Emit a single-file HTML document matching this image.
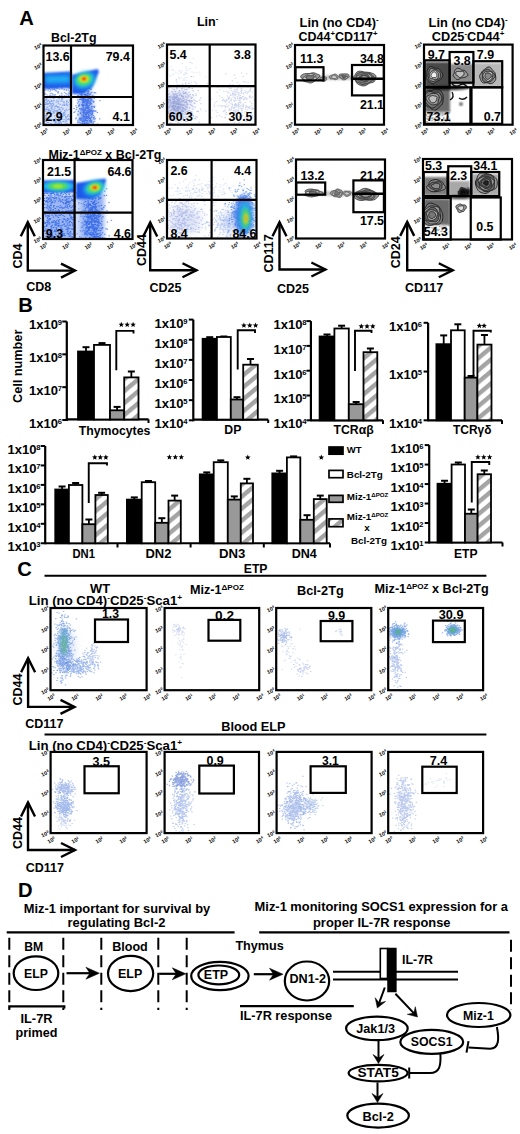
<!DOCTYPE html>
<html><head><meta charset="utf-8"><style>
html,body{margin:0;padding:0;background:#fff;width:520px;height:1134px;overflow:hidden}
svg{display:block}
text{font-family:"Liberation Sans",sans-serif;font-weight:bold;fill:#000}
</style></head><body>
<svg width="520" height="1134" viewBox="0 0 520 1134" font-family="Liberation Sans" font-weight="bold">
<defs>
<filter id="b05" x="-50%" y="-50%" width="200%" height="200%"><feGaussianBlur stdDeviation="0.45"/></filter>
<filter id="b1" x="-50%" y="-50%" width="200%" height="200%"><feGaussianBlur stdDeviation="1"/></filter>
<filter id="b15" x="-50%" y="-50%" width="200%" height="200%"><feGaussianBlur stdDeviation="1.5"/></filter>
<filter id="b2" x="-50%" y="-50%" width="200%" height="200%"><feGaussianBlur stdDeviation="2"/></filter>
<filter id="b3" x="-50%" y="-50%" width="200%" height="200%"><feGaussianBlur stdDeviation="3"/></filter>
<filter id="b4" x="-50%" y="-50%" width="200%" height="200%"><feGaussianBlur stdDeviation="4"/></filter>
<filter id="b5" x="-50%" y="-50%" width="200%" height="200%"><feGaussianBlur stdDeviation="5"/></filter>
<pattern id="hatch" width="12" height="9.2" patternUnits="userSpaceOnUse" patternTransform="rotate(-40)">
<rect width="12" height="9.2" fill="#fff"/><rect width="12" height="4.4" fill="#a4a4a4"/></pattern>
</defs>
<rect width="520" height="1134" fill="#fff"/>
<text x="19.3" y="24.8" font-size="20.2" text-anchor="start">A</text>
<clipPath id="c1"><rect x="43.5" y="45.5" width="89.5" height="79.5"/></clipPath><g clip-path="url(#c1)">
<rect x="44" y="97" width="27" height="28" fill="#b8ccf4" opacity="0.55" filter="url(#b2)"/>
<path d="M52.7 101.2h0.6M61.6 99.0h0.6M58.5 107.2h0.6M45.6 111.2h0.6M45.0 109.1h0.6M45.9 99.5h0.6M55.5 120.2h0.6M47.3 103.3h0.6M60.9 123.5h0.6M59.6 108.1h0.6M70.4 98.3h0.6M67.2 105.1h0.6M47.9 100.3h0.6M52.3 119.9h0.6M48.9 113.3h0.6M61.3 107.4h0.6M58.8 98.8h0.6M45.6 102.8h0.6M62.4 109.0h0.6M52.5 113.4h0.6M56.2 105.4h0.6M65.4 116.6h0.6M50.6 113.1h0.6M58.2 121.5h0.6M63.7 105.1h0.6M70.5 100.3h0.6M55.3 118.2h0.6M48.1 110.7h0.6M45.1 115.7h0.6M64.6 113.0h0.6M67.6 105.8h0.6M62.8 113.6h0.6M59.7 109.8h0.6M66.7 123.5h0.6M56.8 115.6h0.6M45.6 116.6h0.6M61.5 124.8h0.6M66.2 105.0h0.6M54.4 115.7h0.6M44.6 109.9h0.6M48.5 100.3h0.6M45.6 118.5h0.6M47.5 103.9h0.6M54.6 121.4h0.6M46.2 109.6h0.6M58.8 121.7h0.6M66.1 121.2h0.6M51.5 108.6h0.6M53.7 121.8h0.6M69.9 101.2h0.6M48.8 103.5h0.6M50.3 110.6h0.6M59.9 104.4h0.6M44.1 108.7h0.6M54.0 112.9h0.6M69.7 116.3h0.6M57.9 114.3h0.6M62.3 98.5h0.6M68.3 118.8h0.6M67.6 119.3h0.6M54.6 108.2h0.6M46.8 114.8h0.6M45.7 98.9h0.6M49.6 101.5h0.6M53.2 98.5h0.6M44.0 101.2h0.6M46.7 107.2h0.6M44.7 121.5h0.6M60.6 101.2h0.6M50.8 106.7h0.6M53.8 100.4h0.6M66.9 124.8h0.6M56.6 110.5h0.6M46.3 99.9h0.6M53.3 104.4h0.6M66.4 101.5h0.6M44.6 123.6h0.6M58.3 101.1h0.6M58.7 97.8h0.6M58.3 124.4h0.6M67.3 116.5h0.6M51.1 107.3h0.6M48.5 118.6h0.6M58.4 118.8h0.6M52.9 103.2h0.6M65.9 124.6h0.6M67.0 119.6h0.6M66.1 117.7h0.6M50.1 111.5h0.6M53.6 97.8h0.6M44.8 104.8h0.6M51.0 116.4h0.6M69.8 109.5h0.6M69.3 124.7h0.6M69.8 107.2h0.6M50.0 103.4h0.6M49.3 102.7h0.6M60.8 122.2h0.6M66.7 110.4h0.6M61.6 119.4h0.6M46.3 115.5h0.6M68.6 118.9h0.6M64.3 110.4h0.6M48.8 119.1h0.6M53.0 119.4h0.6M70.2 108.1h0.6M54.8 123.5h0.6M63.6 101.8h0.6M47.4 101.2h0.6M68.4 119.6h0.6M47.9 120.1h0.6M70.5 115.4h0.6M53.5 112.4h0.6M47.5 97.4h0.6M70.2 115.2h0.6M58.2 123.1h0.6M55.7 121.4h0.6M66.3 102.9h0.6M50.8 105.2h0.6M50.5 113.4h0.6M51.0 108.7h0.6M47.5 122.5h0.6M53.6 109.8h0.6M59.8 122.3h0.6M55.4 122.7h0.6M57.5 111.9h0.6M58.1 97.5h0.6M55.9 102.1h0.6M44.1 119.4h0.6M48.7 110.3h0.6M63.6 112.6h0.6M52.8 111.5h0.6M59.0 119.0h0.6M46.9 112.7h0.6M50.7 104.8h0.6M64.9 111.2h0.6M59.2 118.3h0.6M68.6 109.4h0.6M60.5 111.2h0.6M57.8 116.4h0.6M56.2 111.9h0.6M56.9 123.4h0.6M62.9 121.5h0.6M69.4 104.3h0.6M59.1 123.4h0.6M66.7 100.8h0.6M47.3 109.4h0.6M46.0 103.7h0.6M46.0 115.7h0.6M65.2 122.1h0.6M48.2 117.1h0.6M61.8 101.0h0.6M67.8 124.1h0.6M49.9 123.7h0.6M54.8 110.6h0.6M70.7 120.3h0.6M48.4 109.1h0.6M57.9 106.5h0.6M49.3 105.9h0.6M63.5 97.5h0.6M59.0 109.3h0.6M44.5 106.3h0.6M60.8 111.3h0.6M45.7 124.6h0.6M65.3 124.2h0.6M46.8 104.4h0.6M45.1 118.8h0.6M51.3 100.6h0.6M55.4 122.5h0.6M66.1 104.2h0.6M48.0 122.7h0.6M59.4 116.6h0.6M46.4 98.6h0.6M62.6 108.9h0.6M46.0 123.3h0.6M61.1 119.4h0.6M46.3 121.0h0.6M45.8 121.2h0.6M56.3 106.5h0.6M58.9 122.9h0.6M51.2 100.6h0.6M58.2 103.7h0.6M47.0 101.5h0.6M45.4 102.6h0.6M52.4 105.5h0.6M64.5 105.1h0.6M57.5 102.0h0.6M53.4 97.5h0.6M50.8 97.4h0.6M63.8 112.4h0.6M49.1 110.3h0.6M69.2 100.0h0.6M66.1 109.1h0.6M57.4 120.4h0.6M54.6 111.2h0.6M62.6 124.5h0.6M53.3 120.3h0.6M63.1 114.8h0.6M54.9 106.7h0.6M45.5 100.6h0.6M45.9 117.7h0.6M50.9 101.6h0.6M46.3 120.6h0.6M67.5 115.8h0.6M51.6 103.8h0.6M51.9 109.9h0.6M48.3 109.5h0.6M51.1 123.9h0.6M70.3 112.3h0.6M50.6 124.0h0.6M52.4 107.0h0.6M44.0 107.7h0.6M56.8 111.1h0.6M49.4 111.1h0.6M44.1 104.4h0.6M46.4 108.2h0.6M45.1 97.6h0.6M52.2 103.5h0.6M59.8 111.8h0.6M64.3 115.4h0.6M63.3 121.6h0.6M54.5 106.1h0.6M70.6 101.2h0.6M63.6 115.0h0.6M45.2 120.4h0.6M68.1 114.6h0.6M63.8 119.7h0.6M47.8 111.7h0.6M57.6 120.4h0.6M65.7 120.1h0.6M59.8 122.0h0.6M62.4 116.4h0.6M50.2 97.9h0.6M47.6 107.1h0.6M46.8 120.4h0.6M59.1 114.6h0.6M60.9 116.1h0.6M57.2 97.1h0.6M65.5 118.0h0.6M57.6 112.0h0.6M61.8 98.8h0.6M63.9 104.1h0.6M46.0 104.4h0.6M63.7 102.7h0.6M64.0 124.3h0.6M57.3 107.7h0.6M56.9 116.1h0.6M64.7 114.3h0.6M61.4 99.2h0.6M48.0 104.1h0.6M64.1 105.5h0.6M59.3 97.3h0.6M45.6 104.5h0.6M62.1 116.4h0.6M62.2 105.1h0.6M57.9 110.0h0.6M56.6 100.3h0.6M68.1 102.6h0.6M70.4 123.2h0.6M44.5 109.9h0.6" stroke="#4a78e0" stroke-width="0.96" opacity="0.6" stroke-linecap="round"/>
<path d="M66.1 96.6h0.6M56.1 87.5h0.6M49.7 96.3h0.6M49.7 91.6h0.6M47.8 90.8h0.6M69.7 85.7h0.6M66.1 90.6h0.6M67.9 93.1h0.6M50.2 95.7h0.6M57.1 84.3h0.6M44.1 90.4h0.6M56.2 87.9h0.6M47.8 88.5h0.6M52.5 94.9h0.6M44.0 93.8h0.6M66.7 85.6h0.6M69.0 93.3h0.6M68.3 87.8h0.6M54.0 89.1h0.6M71.0 91.7h0.6M53.7 89.6h0.6M51.4 84.6h0.6M46.7 94.9h0.6M51.7 96.2h0.6M50.7 87.5h0.6M57.8 86.5h0.6M54.1 96.4h0.6M67.9 94.6h0.6M61.0 95.9h0.6M69.4 91.1h0.6M63.4 84.6h0.6M63.8 89.9h0.6M64.3 92.4h0.6M51.7 84.6h0.6M69.0 85.7h0.6M56.7 88.5h0.6M52.0 93.6h0.6M70.4 87.4h0.6M61.7 87.9h0.6M59.0 89.1h0.6M48.5 86.1h0.6M49.6 95.8h0.6M57.4 86.9h0.6M68.5 97.0h0.6M56.1 85.8h0.6M49.2 85.2h0.6M53.2 85.2h0.6M50.5 87.4h0.6M59.4 95.5h0.6M64.2 89.4h0.6M55.2 90.8h0.6M54.2 88.4h0.6M45.7 87.6h0.6M70.1 85.6h0.6M57.6 92.2h0.6M67.3 86.8h0.6M51.3 87.2h0.6M54.8 89.8h0.6M69.8 95.0h0.6M67.6 84.3h0.6M44.9 93.2h0.6M68.2 90.2h0.6M59.9 84.0h0.6M54.6 96.0h0.6M66.3 95.1h0.6M70.3 87.2h0.6M46.9 86.0h0.6M58.1 92.9h0.6M69.4 93.4h0.6M61.5 93.9h0.6M56.3 91.2h0.6M45.1 94.2h0.6M50.3 96.0h0.6M61.4 87.9h0.6M47.5 87.3h0.6M61.2 93.1h0.6M47.0 84.9h0.6M58.2 91.6h0.6M54.5 86.9h0.6M60.2 84.1h0.6M52.1 90.0h0.6M69.9 92.4h0.6M67.9 90.2h0.6M50.3 87.2h0.6M69.9 93.2h0.6M52.3 84.3h0.6M57.5 92.8h0.6M55.3 87.3h0.6M62.0 96.0h0.6M50.1 84.4h0.6M53.1 89.5h0.6M62.4 86.6h0.6M65.5 93.6h0.6M57.6 86.7h0.6M70.2 88.1h0.6M66.1 87.0h0.6M50.0 93.9h0.6M52.0 96.4h0.6M57.4 86.4h0.6M50.0 89.4h0.6M62.0 96.3h0.6M48.0 89.1h0.6M49.7 96.7h0.6M47.8 84.7h0.6M45.6 89.1h0.6M68.3 95.5h0.6M63.8 97.0h0.6M69.2 88.3h0.6M49.0 96.2h0.6M64.2 84.4h0.6M61.9 88.9h0.6M54.1 88.3h0.6M48.6 84.0h0.6M51.6 88.6h0.6M69.8 85.6h0.6M70.0 86.7h0.6M53.6 94.7h0.6M66.2 89.6h0.6M45.3 90.2h0.6M54.1 96.0h0.6M49.2 88.7h0.6M68.2 84.4h0.6M55.1 94.6h0.6M64.7 84.5h0.6M44.9 84.8h0.6M68.8 87.3h0.6M64.2 95.7h0.6M53.2 87.5h0.6M69.9 92.0h0.6M51.1 93.3h0.6M52.5 87.6h0.6M44.1 93.8h0.6M68.7 92.2h0.6M69.5 84.3h0.6M50.3 90.2h0.6M69.8 96.4h0.6M54.4 87.3h0.6M55.6 90.4h0.6M69.1 86.4h0.6M65.7 93.6h0.6" stroke="#3a68e0" stroke-width="0.96" opacity="0.6" stroke-linecap="round"/>
<rect x="79" y="92" width="14" height="34" fill="#4a7ae8" opacity="0.55" filter="url(#b2)"/>
<path d="M89.4 88.4h0.6M82.9 102.2h0.6M84.2 122.0h0.6M86.4 104.4h0.6M86.0 115.1h0.6M91.6 113.7h0.6M85.8 115.8h0.6M90.3 119.4h0.6M84.8 95.2h0.6M86.5 124.5h0.6M81.1 95.6h0.6M84.8 103.9h0.6M88.0 100.2h0.6M82.0 104.5h0.6M85.8 100.7h0.6M86.1 120.5h0.6M82.5 104.1h0.6M82.7 109.5h0.6M88.4 91.0h0.6M88.1 109.6h0.6M77.8 114.1h0.6M89.6 112.9h0.6M88.1 116.2h0.6M91.9 106.9h0.6M89.9 104.3h0.6M89.3 98.6h0.6M88.0 107.8h0.6M80.8 98.9h0.6M86.9 123.2h0.6M87.9 117.3h0.6M84.2 102.3h0.6M90.0 110.9h0.6M84.7 101.9h0.6M84.8 118.7h0.6M87.6 93.1h0.6M87.9 112.5h0.6M81.5 120.8h0.6M84.7 105.3h0.6M82.9 116.1h0.6M83.1 121.4h0.6M84.0 117.0h0.6M85.6 100.6h0.6M95.7 111.1h0.6M78.6 122.0h0.6M83.4 112.0h0.6M91.7 111.7h0.6M91.3 120.4h0.6M82.3 122.0h0.6M88.2 119.1h0.6M75.8 105.8h0.6M90.1 120.3h0.6M86.8 116.9h0.6M97.5 96.6h0.6M84.5 110.5h0.6M90.0 103.8h0.6M91.2 99.0h0.6M87.2 102.6h0.6M86.7 100.3h0.6M87.4 102.2h0.6M86.9 123.9h0.6M81.6 108.5h0.6M88.4 117.4h0.6M91.6 114.6h0.6M86.1 106.1h0.6M87.2 104.0h0.6M81.4 99.6h0.6M83.3 101.4h0.6M80.8 118.9h0.6M80.1 119.2h0.6M81.4 114.9h0.6M92.2 112.8h0.6M82.7 110.7h0.6M83.3 112.3h0.6M83.9 111.1h0.6M89.3 120.7h0.6M90.1 118.2h0.6M84.7 109.7h0.6M84.8 105.6h0.6M84.5 109.7h0.6M81.6 109.7h0.6M88.3 107.7h0.6M74.7 111.8h0.6M88.3 105.8h0.6M89.8 115.2h0.6M86.1 101.8h0.6M88.9 103.2h0.6M87.0 102.9h0.6M75.9 109.6h0.6M86.9 120.6h0.6M82.1 109.5h0.6M88.8 112.0h0.6M90.2 121.4h0.6M83.2 100.0h0.6M90.0 97.2h0.6M77.8 96.0h0.6M82.9 99.8h0.6M87.0 99.5h0.6M91.9 108.9h0.6M83.4 113.1h0.6M85.9 105.6h0.6M87.5 100.3h0.6M80.3 99.4h0.6M85.9 110.8h0.6M88.5 111.7h0.6M82.4 100.1h0.6M76.5 107.6h0.6M88.2 117.4h0.6M85.5 107.6h0.6M90.2 110.2h0.6M89.3 118.2h0.6M83.4 105.0h0.6M82.4 98.8h0.6M86.1 118.0h0.6M91.3 121.3h0.6M91.4 92.3h0.6M83.1 116.3h0.6M92.5 111.5h0.6M82.1 105.0h0.6M83.0 98.0h0.6M92.8 101.2h0.6M91.3 114.7h0.6M83.2 115.7h0.6M93.3 118.7h0.6M91.7 111.4h0.6M88.3 107.2h0.6M79.6 109.1h0.6M87.1 102.0h0.6M84.6 121.0h0.6M95.0 118.8h0.6M87.5 88.3h0.6M94.7 111.1h0.6M85.8 94.3h0.6M85.7 94.7h0.6M86.3 116.5h0.6M86.1 113.9h0.6M85.2 99.3h0.6M81.5 105.0h0.6M87.3 93.5h0.6M89.1 107.9h0.6M86.6 108.3h0.6M85.8 120.3h0.6M85.9 97.5h0.6M88.9 101.5h0.6M81.3 94.3h0.6M77.5 115.1h0.6M79.3 118.6h0.6M82.5 104.9h0.6M94.7 124.5h0.6M86.6 112.6h0.6M84.6 116.4h0.6M87.3 110.7h0.6M83.7 91.4h0.6M83.6 88.4h0.6M91.5 117.5h0.6M94.3 121.3h0.6M95.3 92.8h0.6M88.4 115.9h0.6M86.9 112.4h0.6M90.7 89.1h0.6M80.4 90.5h0.6M83.5 101.5h0.6M87.7 113.7h0.6M86.1 100.5h0.6M84.0 123.3h0.6M89.4 111.4h0.6M83.3 119.1h0.6M91.2 106.3h0.6M89.7 94.4h0.6M90.6 112.8h0.6M78.9 119.4h0.6M82.9 107.7h0.6M87.3 105.3h0.6M87.2 102.3h0.6M89.0 110.1h0.6M91.2 110.4h0.6M78.0 111.3h0.6M88.1 125.0h0.6M85.3 119.5h0.6M84.4 94.4h0.6M90.9 122.7h0.6M92.9 122.0h0.6M83.1 100.5h0.6M82.3 118.2h0.6M87.5 106.2h0.6M86.8 108.0h0.6M87.0 120.5h0.6M90.3 100.4h0.6M78.6 105.4h0.6M86.1 89.8h0.6M83.7 120.1h0.6M82.1 90.4h0.6M88.3 123.2h0.6M86.9 91.8h0.6M89.5 121.1h0.6M88.5 103.2h0.6M87.4 121.1h0.6M87.5 116.7h0.6M86.1 122.4h0.6M83.4 108.8h0.6M84.6 118.0h0.6M93.2 106.5h0.6M89.6 118.2h0.6M94.0 107.5h0.6M85.5 95.1h0.6M88.4 115.9h0.6M85.1 112.4h0.6M79.6 124.7h0.6M84.2 94.5h0.6M82.6 98.5h0.6M89.8 124.8h0.6M79.9 123.0h0.6M90.0 101.9h0.6M79.3 99.6h0.6M83.1 114.8h0.6M87.1 88.5h0.6M90.1 93.1h0.6M82.9 98.0h0.6M89.8 118.4h0.6M87.4 88.3h0.6M83.7 102.3h0.6M81.6 117.1h0.6M82.7 100.1h0.6M86.8 96.3h0.6M73.8 112.4h0.6M91.5 114.2h0.6M91.1 103.8h0.6M90.7 120.9h0.6M79.1 104.3h0.6M79.6 108.5h0.6M88.6 95.0h0.6M80.0 124.8h0.6M85.1 113.8h0.6M85.3 124.0h0.6M90.7 111.2h0.6M79.9 120.4h0.6M83.9 118.8h0.6M91.1 103.7h0.6M83.6 116.1h0.6M88.3 91.5h0.6M80.3 113.5h0.6M82.3 112.3h0.6M83.8 107.8h0.6M88.1 98.7h0.6M88.1 101.1h0.6M83.5 117.5h0.6M83.4 114.0h0.6M93.2 110.4h0.6M85.3 120.3h0.6M80.2 118.7h0.6M83.7 98.8h0.6M94.0 98.1h0.6M93.9 119.2h0.6M92.5 96.3h0.6M85.5 108.2h0.6M97.1 112.5h0.6M84.1 101.2h0.6M88.0 114.6h0.6M84.5 116.6h0.6M92.6 95.9h0.6M79.9 94.6h0.6M78.7 105.6h0.6M77.4 120.9h0.6M82.7 106.3h0.6M86.2 117.6h0.6M84.4 110.2h0.6M83.5 111.6h0.6M80.7 110.9h0.6M77.3 103.1h0.6M94.6 111.1h0.6M80.3 113.6h0.6M82.7 120.3h0.6M87.7 108.6h0.6M81.8 94.9h0.6M92.1 113.4h0.6M80.8 108.9h0.6M86.9 107.8h0.6M84.7 90.8h0.6M82.6 121.8h0.6M78.4 106.2h0.6M87.2 124.5h0.6M80.9 118.3h0.6M87.7 99.7h0.6M88.1 97.4h0.6M82.4 109.7h0.6M73.8 108.5h0.6M81.5 89.5h0.6M84.1 120.7h0.6M80.8 91.6h0.6M93.0 115.6h0.6M90.3 98.4h0.6M89.6 113.6h0.6M88.9 110.4h0.6M91.4 100.9h0.6M81.7 89.3h0.6M91.2 99.7h0.6M81.3 96.8h0.6M84.0 92.2h0.6M84.7 101.2h0.6M83.5 96.6h0.6M86.2 103.5h0.6M86.5 113.5h0.6M83.6 98.9h0.6M82.8 105.9h0.6M84.5 123.9h0.6M84.0 123.5h0.6M91.5 116.1h0.6M88.2 111.7h0.6M88.2 93.0h0.6M90.3 102.5h0.6M90.4 111.2h0.6M77.1 92.0h0.6M91.1 108.1h0.6M84.2 113.4h0.6M84.1 102.4h0.6M86.5 112.0h0.6M92.8 110.6h0.6M93.7 124.9h0.6M86.6 111.9h0.6M85.4 99.8h0.6M85.7 101.0h0.6M93.4 117.5h0.6M85.8 104.2h0.6M81.1 94.1h0.6M75.9 118.0h0.6M85.9 107.9h0.6M92.5 111.9h0.6M86.8 104.8h0.6M84.4 110.4h0.6M82.0 123.5h0.6M79.7 117.9h0.6M82.8 99.4h0.6M93.4 101.7h0.6M82.6 105.3h0.6M97.3 124.1h0.6M94.4 106.3h0.6M82.9 102.9h0.6M77.5 122.7h0.6M81.1 124.9h0.6M78.3 92.2h0.6M87.3 99.3h0.6M89.5 110.1h0.6M80.7 118.7h0.6M94.2 117.0h0.6M82.8 105.1h0.6M90.8 89.6h0.6M84.9 114.8h0.6M78.4 101.7h0.6M89.0 105.7h0.6M80.7 96.9h0.6M83.0 112.1h0.6M87.3 95.0h0.6M92.9 123.3h0.6M86.5 99.9h0.6M77.6 95.7h0.6M90.1 98.8h0.6M80.1 112.7h0.6M87.1 118.5h0.6M82.2 123.7h0.6M81.6 119.7h0.6M86.8 113.4h0.6M90.4 109.8h0.6M91.0 122.3h0.6M86.6 102.1h0.6M82.6 102.6h0.6M85.1 109.7h0.6M99.4 118.9h0.6M89.5 98.0h0.6M82.8 105.5h0.6M86.9 95.5h0.6M93.3 102.1h0.6M86.0 113.9h0.6M86.9 118.4h0.6M87.3 112.3h0.6M77.5 100.0h0.6M75.5 118.8h0.6M87.4 107.3h0.6M82.3 101.9h0.6M83.8 97.8h0.6M83.5 112.6h0.6M99.6 100.7h0.6M86.2 113.9h0.6M85.8 123.0h0.6M94.0 92.6h0.6M86.7 106.3h0.6M87.6 88.6h0.6M88.4 112.7h0.6M84.3 99.4h0.6M79.6 97.2h0.6M89.1 117.6h0.6M85.9 117.2h0.6M83.3 111.0h0.6M86.2 117.8h0.6" stroke="#2258e4" stroke-width="0.96" opacity="0.7" stroke-linecap="round"/>
<path d="M43 73L71 71.5L71 88L43 89Z" fill="#1c58ea" opacity="1" filter="url(#b1)"/>
<path d="M45 75.5L70 75L70 83L45 83.5Z" fill="#22b4f2" opacity="0.95" filter="url(#b2)"/>
<path d="M72 75L97.5 69L99 71.5L92 88L83 94L72 94Z" fill="#1c58ea" opacity="1" filter="url(#b1)"/>
<ellipse cx="84.5" cy="80" rx="11" ry="8" fill="#22c8e8" opacity="0.95" filter="url(#b2)" transform="rotate(-15 84.5 80)"/>
<ellipse cx="84" cy="79.5" rx="7.5" ry="5.5" fill="#50e060" opacity="1" filter="url(#b15)" transform="rotate(-15 84 79.5)"/>
<ellipse cx="84" cy="79" rx="4.5" ry="3.2" fill="#f0f020" opacity="1" filter="url(#b1)" transform="rotate(0 84 79)"/>
<ellipse cx="84" cy="78.8" rx="2.5" ry="1.6" fill="#e82010" opacity="1" filter="url(#b1)" transform="rotate(0 84 78.8)"/>
</g>
<line x1="71" y1="45.5" x2="71" y2="125" stroke="#000" stroke-width="2.2"/>
<line x1="43.5" y1="97" x2="133" y2="97" stroke="#000" stroke-width="2.2"/>
<rect x="43.5" y="45.5" width="89.5" height="79.5" fill="none" stroke="#000" stroke-width="2.2"/>
<text x="38.1" y="128.0" font-size="5.4" text-anchor="middle" transform="rotate(-25 38.1 126.2)">10<tspan baseline-shift="2" font-size="3.6">0</tspan></text>
<text x="38.1" y="108.125" font-size="5.4" text-anchor="middle" transform="rotate(-25 38.1 106.325)">10<tspan baseline-shift="2" font-size="3.6">1</tspan></text>
<text x="38.1" y="88.25" font-size="5.4" text-anchor="middle" transform="rotate(-25 38.1 86.45)">10<tspan baseline-shift="2" font-size="3.6">2</tspan></text>
<text x="38.1" y="68.375" font-size="5.4" text-anchor="middle" transform="rotate(-25 38.1 66.575)">10<tspan baseline-shift="2" font-size="3.6">3</tspan></text>
<text x="38.1" y="48.5" font-size="5.4" text-anchor="middle" transform="rotate(-25 38.1 46.7)">10<tspan baseline-shift="2" font-size="3.6">4</tspan></text>
<text x="44.3" y="134.0" font-size="5.4" text-anchor="middle" transform="rotate(-30 44.3 132.2)">10<tspan baseline-shift="2" font-size="3.6">0</tspan></text>
<text x="66.675" y="134.0" font-size="5.4" text-anchor="middle" transform="rotate(-30 66.675 132.2)">10<tspan baseline-shift="2" font-size="3.6">1</tspan></text>
<text x="89.05" y="134.0" font-size="5.4" text-anchor="middle" transform="rotate(-30 89.05 132.2)">10<tspan baseline-shift="2" font-size="3.6">2</tspan></text>
<text x="111.425" y="134.0" font-size="5.4" text-anchor="middle" transform="rotate(-30 111.425 132.2)">10<tspan baseline-shift="2" font-size="3.6">3</tspan></text>
<text x="133.8" y="134.0" font-size="5.4" text-anchor="middle" transform="rotate(-30 133.8 132.2)">10<tspan baseline-shift="2" font-size="3.6">4</tspan></text>
<text x="45.5" y="60.5" font-size="12.4" text-anchor="start">13.6</text>
<text x="129.8" y="60.5" font-size="12.4" text-anchor="end">79.4</text>
<text x="45.5" y="121.2" font-size="12.4" text-anchor="start">2.9</text>
<text x="129.8" y="121.2" font-size="12.4" text-anchor="end">4.1</text>
<text x="51" y="42.1" font-size="12.5" text-anchor="start" textLength="45.5" lengthAdjust="spacingAndGlyphs">Bcl-2Tg</text>
<clipPath id="c2"><rect x="167" y="44.5" width="88.5" height="80.2"/></clipPath><g clip-path="url(#c2)">
<ellipse cx="177" cy="104" rx="14" ry="14" fill="#b8c0e8" opacity="0.6" filter="url(#b4)" transform="rotate(0 177 104)"/>
<path d="M177.3 102.6h0.55M176.7 97.6h0.55M200.3 109.1h0.55M192.0 88.4h0.55M185.0 112.4h0.55M196.8 117.2h0.55M185.7 92.2h0.55M169.3 106.7h0.55M183.0 93.8h0.55M174.2 100.0h0.55M178.6 107.4h0.55M175.1 91.6h0.55M190.4 120.0h0.55M176.9 114.2h0.55M182.4 110.6h0.55M182.8 96.4h0.55M183.7 114.1h0.55M169.0 123.7h0.55M198.9 122.2h0.55M197.9 111.4h0.55M174.6 98.0h0.55M169.9 105.2h0.55M177.7 110.7h0.55M200.8 103.7h0.55M184.8 108.8h0.55M180.7 101.9h0.55M176.8 95.8h0.55M179.8 103.8h0.55M181.2 95.4h0.55M178.4 104.5h0.55M184.0 93.4h0.55M182.2 113.8h0.55M184.0 100.3h0.55M173.1 101.6h0.55M185.3 119.5h0.55M176.4 97.6h0.55M181.8 106.0h0.55M168.9 96.6h0.55M177.0 110.7h0.55M183.0 91.8h0.55M179.1 107.5h0.55M176.9 93.8h0.55M177.4 100.7h0.55M181.4 95.6h0.55M188.9 87.2h0.55M176.2 104.1h0.55M187.6 97.9h0.55M183.5 98.3h0.55M185.4 121.4h0.55M174.0 108.4h0.55M168.7 113.7h0.55M190.1 104.4h0.55M189.5 114.9h0.55M186.1 85.7h0.55M171.2 118.2h0.55M196.8 111.6h0.55M189.2 100.7h0.55M176.0 103.5h0.55M185.0 102.6h0.55M179.9 108.2h0.55M177.9 122.4h0.55M182.4 104.8h0.55M175.9 97.7h0.55M191.4 105.5h0.55M167.2 98.4h0.55M176.6 99.5h0.55M188.8 92.4h0.55M182.9 105.4h0.55M177.1 109.0h0.55M173.5 107.0h0.55M185.8 114.4h0.55M177.9 98.0h0.55M188.8 83.1h0.55M170.0 110.7h0.55M184.5 93.7h0.55M179.5 95.0h0.55M178.5 113.0h0.55M185.4 83.2h0.55M185.7 86.2h0.55M189.4 108.0h0.55M200.5 97.9h0.55M178.0 114.5h0.55M171.6 97.0h0.55M174.3 103.3h0.55M167.2 108.8h0.55M183.4 104.7h0.55M195.0 100.7h0.55M191.1 98.5h0.55M185.6 84.7h0.55M180.0 102.2h0.55M173.0 97.9h0.55M174.5 96.8h0.55M172.5 98.8h0.55M167.4 102.6h0.55M185.8 101.5h0.55M173.1 117.6h0.55M187.8 113.2h0.55M189.6 100.7h0.55M176.7 115.1h0.55M172.5 102.8h0.55M181.8 107.7h0.55M175.2 113.8h0.55M176.2 111.3h0.55M188.7 110.6h0.55M185.3 92.4h0.55M182.8 119.0h0.55M169.5 96.7h0.55M175.2 110.9h0.55M180.1 115.8h0.55M168.1 112.9h0.55M187.3 104.7h0.55M182.8 98.4h0.55M167.1 99.9h0.55M173.1 120.5h0.55M180.0 107.1h0.55M185.4 96.2h0.55M187.2 107.8h0.55M183.5 108.5h0.55M193.8 99.9h0.55M183.1 111.5h0.55M169.0 116.0h0.55M183.2 93.1h0.55M176.8 87.6h0.55M178.7 92.7h0.55M181.4 88.7h0.55M182.5 101.3h0.55M178.6 103.3h0.55M179.3 90.8h0.55M168.6 99.5h0.55M182.3 84.1h0.55M170.4 97.9h0.55M167.4 107.3h0.55M176.6 95.8h0.55M168.2 112.1h0.55M171.4 109.9h0.55M182.5 85.1h0.55M167.2 104.0h0.55M181.4 111.8h0.55M186.0 114.3h0.55M174.3 101.9h0.55M185.8 99.7h0.55M188.6 88.1h0.55M184.5 102.3h0.55M181.1 104.2h0.55M167.2 99.3h0.55M193.1 95.7h0.55M174.1 94.9h0.55M169.6 114.5h0.55M172.6 93.1h0.55M185.9 109.6h0.55M167.6 111.5h0.55M189.3 101.4h0.55M187.2 103.8h0.55M182.2 111.7h0.55M196.5 101.5h0.55M173.2 103.6h0.55M190.1 94.6h0.55M191.1 76.5h0.55M186.0 97.2h0.55M182.6 110.9h0.55M180.4 109.9h0.55M168.7 94.1h0.55M176.1 101.8h0.55M172.7 118.4h0.55M186.5 104.2h0.55M185.3 92.9h0.55M174.7 98.2h0.55M176.6 118.4h0.55M168.8 99.4h0.55M182.2 108.0h0.55M178.3 99.3h0.55M182.9 107.6h0.55M179.5 104.6h0.55M179.1 95.2h0.55M176.0 94.9h0.55M181.8 110.9h0.55M195.6 116.7h0.55M169.9 99.4h0.55M168.6 107.1h0.55M197.8 111.1h0.55M178.0 107.0h0.55M195.8 95.7h0.55M169.5 123.7h0.55M181.4 96.2h0.55M178.4 113.9h0.55M176.6 97.1h0.55M170.6 123.0h0.55M178.3 110.2h0.55M174.0 109.0h0.55M186.2 102.5h0.55M173.4 102.1h0.55M168.4 101.9h0.55M175.0 106.1h0.55M191.4 117.1h0.55M173.5 110.0h0.55M180.9 111.6h0.55M178.2 106.7h0.55M173.3 96.2h0.55M186.7 117.0h0.55M184.6 108.4h0.55M180.7 99.5h0.55M180.0 98.5h0.55M168.4 116.8h0.55M170.8 103.8h0.55M172.9 105.6h0.55M175.9 96.5h0.55M188.7 96.2h0.55M172.9 109.5h0.55M172.6 99.7h0.55M181.6 100.3h0.55M175.8 121.0h0.55M167.0 113.7h0.55M170.1 100.4h0.55M174.7 106.7h0.55M186.6 121.5h0.55M171.6 117.3h0.55M188.0 112.1h0.55M170.4 113.0h0.55M176.9 107.5h0.55M175.3 110.6h0.55M189.2 115.3h0.55M175.9 114.0h0.55M192.5 94.6h0.55M192.7 90.6h0.55M183.4 109.9h0.55M192.8 106.8h0.55M173.2 96.0h0.55M175.6 96.8h0.55M183.3 96.4h0.55M173.6 99.4h0.55M194.5 118.6h0.55M176.4 88.3h0.55M180.8 104.7h0.55M181.5 109.7h0.55M174.8 113.3h0.55M186.4 106.1h0.55M173.9 99.2h0.55M184.9 93.0h0.55M176.4 96.5h0.55M177.7 104.4h0.55M186.7 89.1h0.55M177.3 106.9h0.55M186.3 93.2h0.55M185.2 106.2h0.55M191.6 115.4h0.55M178.0 99.8h0.55M174.6 94.6h0.55M177.7 85.2h0.55M177.2 108.3h0.55M187.9 100.5h0.55M191.9 97.5h0.55M176.7 85.2h0.55M170.4 96.1h0.55M192.6 109.2h0.55M167.2 109.2h0.55M182.7 101.7h0.55M178.2 101.0h0.55M172.7 86.7h0.55M177.1 116.5h0.55M192.0 101.3h0.55M170.7 101.9h0.55M186.8 107.4h0.55M172.3 107.5h0.55M176.0 109.0h0.55M174.0 89.6h0.55M178.6 111.4h0.55M167.2 103.0h0.55M186.6 100.3h0.55M171.7 123.8h0.55M186.1 114.0h0.55M168.8 119.9h0.55M185.2 117.0h0.55M168.9 97.5h0.55M179.9 85.2h0.55M184.2 109.4h0.55M173.6 109.2h0.55M185.5 107.0h0.55M183.1 118.7h0.55M173.4 105.6h0.55M172.9 114.0h0.55M174.0 108.6h0.55M179.3 104.6h0.55M194.6 103.2h0.55M191.7 112.0h0.55M190.8 102.4h0.55M187.0 111.3h0.55M172.1 106.6h0.55M176.8 103.7h0.55M190.6 97.0h0.55M173.6 97.8h0.55M178.1 109.5h0.55M195.0 107.0h0.55M182.5 96.9h0.55M183.6 117.1h0.55M190.9 85.2h0.55M186.6 119.3h0.55M186.0 89.6h0.55M175.0 109.7h0.55M182.0 96.2h0.55M169.4 113.3h0.55M178.2 106.9h0.55M184.6 89.8h0.55M197.9 90.5h0.55M182.6 111.1h0.55M174.4 102.0h0.55M175.7 98.5h0.55M180.4 105.5h0.55M172.0 106.4h0.55M177.9 103.3h0.55M188.6 87.5h0.55M180.4 93.8h0.55M174.9 118.4h0.55M167.6 103.0h0.55M172.3 113.1h0.55M168.6 87.8h0.55M182.9 100.6h0.55M174.9 114.4h0.55M169.5 100.4h0.55M179.4 108.0h0.55M173.0 113.9h0.55M199.5 100.1h0.55M196.0 83.7h0.55M191.5 100.7h0.55M179.3 100.7h0.55M171.9 91.7h0.55M174.2 116.4h0.55M188.9 100.7h0.55M172.9 97.3h0.55M184.4 105.1h0.55M173.3 94.2h0.55M190.6 111.5h0.55M168.9 113.5h0.55M167.4 110.2h0.55M168.8 100.0h0.55M182.8 108.2h0.55M187.7 96.0h0.55M193.2 116.9h0.55M177.9 108.5h0.55M170.5 102.5h0.55M179.9 116.9h0.55M187.1 111.8h0.55M174.5 101.8h0.55M174.7 106.1h0.55M178.2 99.1h0.55M194.0 103.1h0.55M193.1 115.3h0.55M173.2 107.8h0.55M190.5 100.8h0.55M178.8 98.6h0.55M178.6 100.6h0.55M178.8 113.6h0.55M191.4 105.3h0.55M179.9 112.2h0.55M175.2 93.8h0.55M188.7 95.0h0.55M186.9 94.7h0.55M195.6 94.0h0.55M186.2 118.4h0.55M168.8 118.3h0.55M170.1 87.1h0.55M184.9 110.7h0.55M176.1 79.8h0.55M177.5 101.1h0.55M174.4 101.2h0.55M195.3 118.8h0.55M174.5 97.2h0.55" stroke="#6a7cc8" stroke-width="0.88" opacity="0.5" stroke-linecap="round"/>
<ellipse cx="175" cy="106" rx="6" ry="6" fill="#7080c0" opacity="0.35" filter="url(#b3)" transform="rotate(0 175 106)"/>
<path d="M241.2 114.2h0.55M244.6 90.7h0.55M238.7 104.5h0.55M252.2 115.6h0.55M242.5 115.8h0.55M232.8 119.2h0.55M232.5 107.2h0.55M246.7 93.4h0.55M229.6 84.4h0.55M238.7 102.4h0.55M233.5 108.3h0.55M214.7 102.8h0.55M237.9 100.2h0.55M245.4 121.5h0.55M232.3 93.1h0.55M230.6 104.0h0.55M243.2 93.9h0.55M247.6 92.2h0.55M245.7 107.5h0.55M234.2 101.3h0.55M242.0 112.1h0.55M222.9 105.9h0.55M229.2 109.7h0.55M251.5 103.5h0.55M235.9 104.9h0.55M205.8 111.1h0.55M242.9 104.7h0.55M232.8 95.3h0.55M235.1 115.8h0.55M235.9 117.2h0.55M209.8 98.1h0.55M239.9 102.9h0.55M219.5 96.0h0.55M250.2 89.4h0.55M226.5 91.4h0.55M231.2 109.8h0.55M243.3 81.6h0.55M252.4 96.7h0.55M230.8 120.6h0.55M236.1 89.9h0.55M230.3 95.3h0.55M226.3 99.5h0.55M246.3 106.7h0.55M226.5 104.2h0.55M237.3 111.0h0.55M233.5 107.8h0.55M225.6 106.5h0.55M228.5 99.1h0.55M239.0 106.6h0.55M234.0 112.0h0.55M235.0 89.2h0.55M246.3 99.2h0.55M249.8 96.1h0.55M243.0 106.3h0.55M208.5 87.2h0.55M225.2 117.9h0.55M217.1 112.6h0.55M248.5 108.2h0.55M244.1 97.8h0.55M236.9 105.4h0.55M241.4 110.5h0.55M234.8 95.6h0.55M231.1 107.3h0.55M219.5 89.8h0.55M232.7 97.2h0.55M234.1 74.9h0.55M233.4 100.3h0.55M245.2 82.1h0.55M233.8 108.0h0.55M242.2 115.6h0.55M248.1 91.9h0.55M243.7 99.5h0.55M228.5 119.2h0.55M230.3 94.0h0.55M232.7 94.0h0.55M247.6 107.0h0.55M251.8 107.3h0.55M230.5 114.1h0.55M230.1 98.1h0.55M235.2 103.4h0.55M249.6 96.6h0.55M240.7 102.7h0.55M223.7 91.4h0.55M234.7 107.3h0.55M240.4 108.1h0.55M237.5 98.3h0.55M241.5 92.4h0.55M222.8 99.5h0.55M221.9 97.5h0.55M229.1 97.1h0.55M236.5 94.5h0.55M232.5 84.9h0.55M238.5 93.7h0.55M241.3 73.0h0.55M228.5 105.6h0.55M211.1 99.2h0.55M238.0 104.1h0.55M221.1 105.4h0.55M238.6 92.7h0.55M244.9 102.5h0.55M237.2 98.2h0.55M242.8 104.0h0.55M249.1 107.8h0.55M230.4 100.6h0.55M246.8 99.1h0.55M241.1 108.5h0.55M235.1 78.3h0.55M238.4 105.3h0.55M238.4 94.9h0.55M249.9 101.6h0.55M230.4 95.4h0.55M240.8 91.4h0.55M226.4 124.3h0.55M250.9 114.2h0.55M251.5 109.3h0.55M219.1 115.7h0.55M250.2 108.2h0.55M216.2 116.2h0.55M251.5 97.8h0.55M238.4 111.3h0.55M236.1 114.7h0.55M237.9 110.4h0.55M237.9 87.2h0.55M240.0 117.0h0.55M249.1 121.3h0.55M242.9 96.6h0.55M237.2 82.5h0.55M235.0 112.7h0.55M213.9 105.1h0.55M245.8 117.2h0.55M227.1 96.0h0.55M217.0 92.1h0.55M224.8 117.7h0.55M241.6 97.7h0.55M236.3 105.3h0.55M247.5 117.6h0.55M242.5 106.8h0.55M235.0 98.6h0.55M223.9 123.8h0.55M232.2 80.8h0.55M239.8 102.6h0.55M238.9 122.4h0.55M235.9 100.2h0.55M229.0 102.8h0.55M232.3 105.2h0.55M227.8 123.6h0.55M246.2 111.7h0.55M244.7 111.8h0.55M244.2 118.1h0.55M247.8 117.4h0.55M231.6 103.0h0.55M229.2 113.2h0.55M245.9 98.0h0.55M250.2 91.1h0.55M236.0 109.8h0.55M236.6 107.1h0.55M249.6 106.5h0.55M225.2 110.7h0.55M236.0 104.2h0.55M230.9 88.2h0.55M223.6 99.2h0.55M225.5 73.9h0.55M249.3 90.6h0.55M229.2 108.7h0.55M211.2 117.4h0.55M228.8 110.1h0.55M231.8 106.3h0.55M238.1 103.0h0.55M217.4 87.3h0.55M236.6 118.1h0.55M231.2 108.7h0.55M238.7 108.2h0.55M247.6 86.9h0.55M239.9 101.1h0.55M233.7 93.9h0.55M228.6 92.0h0.55M255.2 103.1h0.55M245.0 92.5h0.55M207.2 83.5h0.55M238.5 118.4h0.55M236.5 92.3h0.55M234.4 92.3h0.55M222.1 100.5h0.55M232.7 94.3h0.55M227.5 93.0h0.55M239.5 117.9h0.55M219.7 105.9h0.55M224.6 101.3h0.55M238.1 109.0h0.55M249.1 97.1h0.55M223.7 101.0h0.55M240.1 95.5h0.55M246.6 121.0h0.55M221.8 106.9h0.55M247.9 82.4h0.55M239.2 100.6h0.55M221.7 117.1h0.55M239.3 97.9h0.55M241.8 109.9h0.55M245.2 109.2h0.55M241.4 90.4h0.55M232.5 104.4h0.55M232.9 91.7h0.55M217.5 105.7h0.55M237.3 96.7h0.55M232.5 93.5h0.55M229.0 101.9h0.55M230.1 110.3h0.55M235.5 104.4h0.55M241.3 116.6h0.55M243.4 105.4h0.55M235.2 94.4h0.55M233.3 110.3h0.55M239.4 98.8h0.55M222.7 86.6h0.55M240.4 114.0h0.55M241.0 88.3h0.55M234.7 105.4h0.55M227.2 106.7h0.55M234.9 94.1h0.55M223.7 111.7h0.55M240.8 93.5h0.55M226.1 112.5h0.55M243.4 99.7h0.55M254.1 99.9h0.55M225.7 114.7h0.55M235.0 106.7h0.55M237.4 92.3h0.55M224.3 100.9h0.55M252.1 92.2h0.55M251.6 105.4h0.55M225.1 105.9h0.55M243.1 93.4h0.55M214.2 106.8h0.55M225.1 107.7h0.55M216.5 101.5h0.55M228.3 87.1h0.55M234.4 104.8h0.55M231.0 90.4h0.55M239.3 84.3h0.55M242.7 108.3h0.55M255.0 112.5h0.55M240.8 105.8h0.55M237.3 88.8h0.55M252.6 108.6h0.55M233.9 90.7h0.55M252.9 108.7h0.55M224.3 110.2h0.55M241.3 98.6h0.55M230.3 114.5h0.55M235.7 111.5h0.55M233.7 110.8h0.55M245.9 92.1h0.55M225.5 102.2h0.55M245.9 106.0h0.55M250.3 88.3h0.55M242.3 96.4h0.55M238.1 106.4h0.55M226.6 100.6h0.55M224.6 105.8h0.55M227.9 97.7h0.55M239.3 96.0h0.55M249.3 96.2h0.55M246.1 106.0h0.55M226.0 100.7h0.55M228.1 99.1h0.55M234.1 122.4h0.55M232.5 119.7h0.55M241.8 89.1h0.55M212.3 110.2h0.55M215.8 110.7h0.55M248.0 107.2h0.55M234.8 100.3h0.55M239.8 99.8h0.55M231.3 99.1h0.55M249.5 96.4h0.55M241.0 90.7h0.55M229.4 88.4h0.55M234.9 110.3h0.55M240.3 97.8h0.55M243.5 99.3h0.55M241.0 105.9h0.55M242.8 76.6h0.55M223.1 111.2h0.55M234.5 97.1h0.55M252.9 108.9h0.55M234.8 110.7h0.55M228.6 98.2h0.55M231.1 100.6h0.55M245.3 97.9h0.55M240.4 97.7h0.55M246.4 73.7h0.55M234.8 104.8h0.55M225.5 113.8h0.55M239.3 116.6h0.55M247.2 109.8h0.55M235.4 91.4h0.55M234.7 98.1h0.55M239.7 98.1h0.55M249.5 98.0h0.55M234.4 112.8h0.55M237.0 90.1h0.55" stroke="#7a90d0" stroke-width="0.88" opacity="0.42" stroke-linecap="round"/>
<path d="M186.0 73.5h0.55M171.8 69.2h0.55M186.7 77.3h0.55M179.2 91.8h0.55M186.1 70.3h0.55M184.3 74.1h0.55M168.6 91.0h0.55M180.2 72.9h0.55M176.5 82.6h0.55M182.3 88.2h0.55M189.6 87.7h0.55M180.9 77.9h0.55M177.8 73.7h0.55M172.8 70.0h0.55M193.7 77.0h0.55M193.8 81.6h0.55M190.9 82.7h0.55M176.2 81.2h0.55M178.9 70.9h0.55M193.5 91.7h0.55M172.6 88.4h0.55M190.0 68.5h0.55M184.6 77.9h0.55M185.6 72.3h0.55M169.6 75.2h0.55M190.3 81.1h0.55M188.4 83.5h0.55M172.4 74.7h0.55M185.3 82.7h0.55M183.5 79.0h0.55M183.3 91.2h0.55M205.9 76.8h0.55M168.2 69.8h0.55M184.2 88.2h0.55M186.5 80.2h0.55M191.8 76.5h0.55M173.7 74.2h0.55M185.2 72.9h0.55M175.6 72.2h0.55M167.5 67.1h0.55M181.1 72.2h0.55M182.4 85.8h0.55M184.9 74.8h0.55M170.7 66.7h0.55M185.6 68.3h0.55M186.1 66.7h0.55M183.3 74.4h0.55M191.6 72.0h0.55M178.4 76.9h0.55M182.5 88.0h0.55M179.5 70.9h0.55M178.9 78.6h0.55M184.3 80.3h0.55M168.7 94.1h0.55M199.7 74.8h0.55M170.4 76.2h0.55M186.0 57.8h0.55M182.1 63.6h0.55M186.4 85.6h0.55M191.9 63.4h0.55M195.3 82.0h0.55M178.5 78.9h0.55M196.6 72.4h0.55M181.8 70.7h0.55M193.1 58.4h0.55M195.7 67.6h0.55M190.9 62.5h0.55M173.0 70.4h0.55M190.0 62.5h0.55M187.8 70.1h0.55M193.9 72.6h0.55M186.7 73.7h0.55M199.3 72.2h0.55M181.8 90.3h0.55M182.7 80.3h0.55" stroke="#9aa8d8" stroke-width="0.88" opacity="0.35" stroke-linecap="round"/>
</g>
<line x1="209.7" y1="44.5" x2="209.7" y2="124.7" stroke="#000" stroke-width="2.2"/>
<line x1="167" y1="86.2" x2="255.5" y2="86.2" stroke="#000" stroke-width="2.2"/>
<rect x="167" y="44.5" width="88.5" height="80.2" fill="none" stroke="#000" stroke-width="2.2"/>
<text x="161.6" y="127.7" font-size="5.4" text-anchor="middle" transform="rotate(-25 161.6 125.9)">10<tspan baseline-shift="2" font-size="3.6">0</tspan></text>
<text x="161.6" y="107.65" font-size="5.4" text-anchor="middle" transform="rotate(-25 161.6 105.85000000000001)">10<tspan baseline-shift="2" font-size="3.6">1</tspan></text>
<text x="161.6" y="87.6" font-size="5.4" text-anchor="middle" transform="rotate(-25 161.6 85.8)">10<tspan baseline-shift="2" font-size="3.6">2</tspan></text>
<text x="161.6" y="67.55" font-size="5.4" text-anchor="middle" transform="rotate(-25 161.6 65.75)">10<tspan baseline-shift="2" font-size="3.6">3</tspan></text>
<text x="161.6" y="47.5" font-size="5.4" text-anchor="middle" transform="rotate(-25 161.6 45.7)">10<tspan baseline-shift="2" font-size="3.6">4</tspan></text>
<text x="167.8" y="133.70000000000002" font-size="5.4" text-anchor="middle" transform="rotate(-30 167.8 131.9)">10<tspan baseline-shift="2" font-size="3.6">0</tspan></text>
<text x="189.925" y="133.70000000000002" font-size="5.4" text-anchor="middle" transform="rotate(-30 189.925 131.9)">10<tspan baseline-shift="2" font-size="3.6">1</tspan></text>
<text x="212.05" y="133.70000000000002" font-size="5.4" text-anchor="middle" transform="rotate(-30 212.05 131.9)">10<tspan baseline-shift="2" font-size="3.6">2</tspan></text>
<text x="234.175" y="133.70000000000002" font-size="5.4" text-anchor="middle" transform="rotate(-30 234.175 131.9)">10<tspan baseline-shift="2" font-size="3.6">3</tspan></text>
<text x="256.3" y="133.70000000000002" font-size="5.4" text-anchor="middle" transform="rotate(-30 256.3 131.9)">10<tspan baseline-shift="2" font-size="3.6">4</tspan></text>
<text x="169.5" y="59" font-size="12.4" text-anchor="start">5.4</text>
<text x="251" y="59" font-size="12.4" text-anchor="end">3.8</text>
<text x="168.8" y="121" font-size="12.4" text-anchor="start">60.3</text>
<text x="252.5" y="121" font-size="12.4" text-anchor="end">30.5</text>
<text x="196.9" y="25.9" font-size="12.5" text-anchor="start">Lin<tspan baseline-shift="4.8" font-size="7.8">-</tspan></text>
<clipPath id="c3"><rect x="295" y="45" width="89" height="79.7"/></clipPath><g clip-path="url(#c3)">
<ellipse cx="340" cy="77.5" rx="30" ry="2.5" fill="#aaa" opacity="0.7" filter="url(#b1)" transform="rotate(0 340 77.5)"/>
<g filter="url(#b05)">
<path d="M319.95 76.00Q319.81 76.64 319.02 77.21Q318.24 77.78 317.67 78.23Q317.09 78.67 316.72 79.12Q316.34 79.57 315.85 80.00Q315.36 80.44 314.79 80.93Q314.22 81.42 313.46 81.98Q312.70 82.55 311.60 82.82Q310.49 83.10 309.40 82.86Q308.32 82.63 307.48 82.29Q306.64 81.95 305.73 81.80Q304.82 81.66 303.98 81.41Q303.14 81.15 302.92 80.61Q302.71 80.07 302.76 79.55Q302.81 79.02 302.34 78.62Q301.87 78.21 301.22 77.70Q300.57 77.18 300.57 76.56Q300.57 75.94 301.19 75.38Q301.80 74.83 302.66 74.39Q303.52 73.94 304.60 73.72Q305.68 73.49 306.79 73.53Q307.90 73.57 308.77 73.55Q309.65 73.53 310.57 73.25Q311.49 72.96 312.58 72.80Q313.67 72.65 314.51 72.93Q315.35 73.21 315.99 73.58Q316.64 73.96 317.57 74.24Q318.50 74.51 319.30 74.94Q320.10 75.36 319.95 76.00Z" fill="#9a9a9a" stroke="#303030" stroke-width="0.8"/>
<path d="M315.57 76.66Q315.46 77.02 315.82 77.37Q316.18 77.71 316.56 78.18Q316.95 78.65 316.65 79.11Q316.35 79.57 315.54 79.83Q314.73 80.10 313.93 80.26Q313.13 80.41 312.40 80.52Q311.68 80.63 310.97 80.62Q310.27 80.61 309.63 80.60Q308.99 80.59 308.26 80.68Q307.53 80.77 306.75 80.75Q305.97 80.74 305.45 80.47Q304.92 80.20 304.53 79.88Q304.15 79.56 303.57 79.27Q303.00 78.98 302.66 78.58Q302.31 78.17 302.77 77.72Q303.22 77.27 304.03 76.96Q304.84 76.64 305.26 76.37Q305.68 76.09 305.87 75.71Q306.05 75.33 306.46 74.96Q306.87 74.59 307.51 74.32Q308.15 74.05 308.91 73.82Q309.66 73.60 310.49 73.55Q311.31 73.50 312.00 73.72Q312.68 73.95 313.19 74.24Q313.69 74.54 314.26 74.73Q314.82 74.93 315.27 75.21Q315.73 75.48 315.70 75.89Q315.68 76.30 315.57 76.66Z" fill="#c8c8c8" stroke="#303030" stroke-width="0.8"/>
<path d="M314.18 76.87Q314.05 77.15 314.09 77.39Q314.12 77.64 314.03 77.90Q313.93 78.15 313.53 78.34Q313.14 78.52 312.73 78.65Q312.33 78.78 312.07 78.98Q311.81 79.18 311.48 79.41Q311.15 79.65 310.68 79.79Q310.21 79.94 309.69 79.99Q309.16 80.05 308.64 80.02Q308.12 79.99 307.77 79.78Q307.42 79.57 307.33 79.27Q307.24 78.97 307.12 78.76Q306.99 78.56 306.61 78.43Q306.23 78.30 305.96 78.09Q305.68 77.88 305.78 77.62Q305.88 77.36 306.05 77.12Q306.22 76.87 306.29 76.59Q306.35 76.31 306.58 76.03Q306.81 75.75 307.32 75.61Q307.82 75.48 308.37 75.47Q308.91 75.46 309.37 75.47Q309.82 75.47 310.23 75.51Q310.64 75.54 311.02 75.59Q311.40 75.65 311.87 75.64Q312.33 75.63 312.94 75.62Q313.54 75.61 313.95 75.79Q314.36 75.96 314.33 76.28Q314.31 76.59 314.18 76.87Z" fill="#7a7a7a" stroke="#303030" stroke-width="0.8"/>
</g>
<g filter="url(#b05)">
<path d="M326.33 78.79Q326.30 79.00 326.50 79.23Q326.70 79.46 326.70 79.72Q326.71 79.98 326.40 80.17Q326.09 80.36 325.77 80.52Q325.45 80.69 325.17 80.92Q324.89 81.16 324.46 81.32Q324.03 81.48 323.51 81.43Q323.00 81.38 322.57 81.23Q322.14 81.08 321.78 80.94Q321.42 80.80 321.13 80.65Q320.84 80.49 320.59 80.33Q320.34 80.17 319.93 80.04Q319.53 79.92 319.05 79.74Q318.56 79.56 318.43 79.28Q318.30 79.00 318.60 78.74Q318.90 78.48 319.20 78.28Q319.50 78.07 319.67 77.84Q319.84 77.61 320.15 77.43Q320.46 77.25 320.94 77.22Q321.42 77.19 321.83 77.19Q322.25 77.19 322.62 77.09Q323.00 76.98 323.46 76.89Q323.92 76.79 324.41 76.81Q324.89 76.84 325.36 76.94Q325.83 77.05 326.21 77.24Q326.59 77.42 326.67 77.72Q326.74 78.01 326.55 78.29Q326.36 78.58 326.33 78.79Z" fill="#aaa" stroke="#404040" stroke-width="0.7"/>
<path d="M325.57 78.84Q325.54 79.00 325.46 79.15Q325.39 79.30 325.25 79.43Q325.12 79.56 324.87 79.64Q324.63 79.71 324.41 79.77Q324.20 79.82 324.08 79.96Q323.96 80.09 323.78 80.27Q323.60 80.45 323.30 80.50Q323.00 80.56 322.71 80.47Q322.43 80.38 322.19 80.29Q321.96 80.19 321.72 80.12Q321.48 80.05 321.31 79.93Q321.15 79.81 321.09 79.67Q321.04 79.52 320.98 79.39Q320.92 79.26 320.83 79.13Q320.74 79.00 320.72 78.86Q320.71 78.71 320.75 78.56Q320.79 78.42 320.83 78.24Q320.88 78.07 321.04 77.91Q321.20 77.76 321.54 77.74Q321.88 77.72 322.21 77.80Q322.53 77.88 322.77 77.90Q323.00 77.92 323.25 77.86Q323.50 77.81 323.77 77.81Q324.04 77.81 324.26 77.90Q324.47 77.98 324.69 78.07Q324.90 78.17 325.13 78.27Q325.36 78.37 325.48 78.52Q325.60 78.67 325.57 78.84Z" fill="#d0d0d0" stroke="#404040" stroke-width="0.7"/>
</g>
<g filter="url(#b05)">
<path d="M338.20 76.72Q338.14 77.00 338.07 77.26Q337.99 77.53 338.04 77.83Q338.09 78.14 337.98 78.46Q337.87 78.78 337.49 79.02Q337.12 79.26 336.64 79.42Q336.16 79.59 335.62 79.66Q335.08 79.73 334.54 79.60Q334.00 79.46 333.60 79.25Q333.20 79.03 332.79 78.98Q332.39 78.93 331.79 78.99Q331.18 79.04 330.64 78.92Q330.10 78.80 329.90 78.50Q329.70 78.20 329.60 77.90Q329.50 77.59 329.32 77.30Q329.14 77.00 329.18 76.68Q329.22 76.37 329.60 76.13Q329.98 75.88 330.41 75.71Q330.83 75.54 331.17 75.37Q331.51 75.19 331.88 75.05Q332.25 74.90 332.66 74.78Q333.07 74.66 333.54 74.46Q334.00 74.26 334.60 74.11Q335.20 73.96 335.75 74.10Q336.29 74.25 336.54 74.61Q336.79 74.98 336.96 75.27Q337.14 75.56 337.47 75.75Q337.80 75.94 338.04 76.19Q338.27 76.44 338.20 76.72Z" fill="#a8a8a8" stroke="#404040" stroke-width="0.7"/>
<path d="M336.18 76.86Q336.27 77.00 336.45 77.17Q336.62 77.35 336.63 77.54Q336.64 77.73 336.48 77.90Q336.33 78.07 336.11 78.22Q335.88 78.36 335.57 78.44Q335.27 78.52 334.92 78.50Q334.58 78.47 334.29 78.44Q334.00 78.41 333.72 78.43Q333.43 78.44 333.15 78.40Q332.86 78.37 332.67 78.23Q332.48 78.10 332.29 77.99Q332.10 77.88 331.76 77.80Q331.42 77.72 331.12 77.57Q330.82 77.42 330.84 77.21Q330.87 77.00 331.11 76.83Q331.36 76.65 331.57 76.52Q331.77 76.38 331.94 76.25Q332.11 76.13 332.31 76.03Q332.52 75.92 332.72 75.82Q332.92 75.71 333.15 75.57Q333.38 75.43 333.69 75.36Q334.00 75.29 334.32 75.35Q334.63 75.40 334.92 75.48Q335.21 75.55 335.52 75.61Q335.84 75.66 336.08 75.80Q336.32 75.93 336.30 76.15Q336.28 76.36 336.18 76.54Q336.08 76.73 336.18 76.86Z" fill="#d0d0d0" stroke="#404040" stroke-width="0.7"/>
</g>
<g filter="url(#b05)">
<path d="M349.03 76.17Q349.23 76.50 349.12 76.84Q349.01 77.19 348.52 77.43Q348.04 77.67 347.64 77.86Q347.25 78.05 347.05 78.35Q346.85 78.64 346.53 78.96Q346.22 79.27 345.72 79.48Q345.21 79.68 344.61 79.80Q344.00 79.92 343.36 79.89Q342.72 79.87 342.24 79.58Q341.76 79.29 341.53 78.91Q341.30 78.53 340.99 78.31Q340.68 78.09 340.17 77.92Q339.66 77.75 339.37 77.46Q339.08 77.17 339.16 76.84Q339.23 76.50 339.24 76.18Q339.26 75.85 339.14 75.46Q339.03 75.06 339.23 74.69Q339.43 74.31 340.02 74.13Q340.61 73.95 341.25 73.91Q341.88 73.86 342.43 73.85Q342.99 73.83 343.49 73.88Q344.00 73.92 344.47 73.97Q344.94 74.02 345.52 73.95Q346.10 73.88 346.82 73.86Q347.53 73.84 348.01 74.10Q348.50 74.35 348.58 74.75Q348.67 75.15 348.75 75.49Q348.83 75.84 349.03 76.17Z" fill="#999" stroke="#404040" stroke-width="0.7"/>
<path d="M347.39 76.26Q347.26 76.50 347.18 76.71Q347.10 76.92 347.19 77.19Q347.27 77.45 347.23 77.74Q347.19 78.03 346.89 78.24Q346.59 78.45 346.18 78.58Q345.77 78.71 345.32 78.75Q344.87 78.79 344.44 78.68Q344.00 78.57 343.67 78.41Q343.33 78.25 342.99 78.22Q342.65 78.19 342.17 78.21Q341.70 78.23 341.31 78.10Q340.92 77.97 340.78 77.72Q340.64 77.47 340.51 77.23Q340.37 77.00 340.15 76.75Q339.92 76.50 339.94 76.22Q339.95 75.95 340.31 75.74Q340.67 75.54 341.06 75.41Q341.45 75.28 341.74 75.15Q342.02 75.01 342.31 74.88Q342.59 74.74 342.92 74.62Q343.24 74.50 343.62 74.34Q344.00 74.17 344.48 74.07Q344.97 73.96 345.40 74.09Q345.83 74.22 346.05 74.51Q346.27 74.79 346.46 75.01Q346.66 75.23 346.95 75.39Q347.25 75.56 347.38 75.79Q347.52 76.02 347.39 76.26Z" fill="#c8c8c8" stroke="#404040" stroke-width="0.7"/>
<path d="M346.61 76.32Q346.64 76.50 346.41 76.65Q346.18 76.80 345.92 76.89Q345.66 76.98 345.58 77.10Q345.51 77.22 345.47 77.40Q345.44 77.58 345.26 77.71Q345.08 77.84 344.81 77.89Q344.55 77.94 344.27 77.97Q344.00 78.00 343.71 78.00Q343.43 78.00 343.18 77.91Q342.94 77.82 342.76 77.69Q342.59 77.56 342.42 77.45Q342.26 77.33 342.14 77.20Q342.03 77.07 342.03 76.92Q342.03 76.77 342.00 76.63Q341.97 76.50 341.80 76.34Q341.63 76.18 341.54 75.97Q341.46 75.76 341.66 75.62Q341.86 75.48 342.19 75.43Q342.53 75.39 342.79 75.36Q343.05 75.32 343.28 75.27Q343.51 75.21 343.75 75.21Q344.00 75.20 344.23 75.24Q344.47 75.27 344.72 75.28Q344.96 75.30 345.23 75.34Q345.50 75.37 345.70 75.48Q345.91 75.59 346.07 75.72Q346.23 75.85 346.41 76.00Q346.58 76.15 346.61 76.32Z" fill="#666" stroke="#404040" stroke-width="0.7"/>
</g>
<g filter="url(#b05)">
<path d="M375.86 77.36Q375.60 78.20 375.42 78.98Q375.23 79.76 374.99 80.55Q374.74 81.34 373.82 81.90Q372.90 82.46 371.65 82.69Q370.41 82.92 369.51 83.27Q368.61 83.63 367.78 84.33Q366.95 85.03 365.72 85.51Q364.50 86.00 363.14 85.90Q361.77 85.80 360.58 85.38Q359.38 84.96 358.39 84.42Q357.40 83.87 356.80 83.14Q356.20 82.41 355.91 81.67Q355.63 80.92 355.15 80.27Q354.68 79.63 354.14 78.91Q353.60 78.20 353.69 77.42Q353.79 76.64 354.35 75.95Q354.92 75.26 355.31 74.50Q355.70 73.73 356.20 72.85Q356.69 71.97 357.88 71.49Q359.07 71.02 360.56 71.20Q362.05 71.38 363.28 71.69Q364.50 72.00 365.59 72.07Q366.67 72.15 367.80 72.25Q368.93 72.35 370.02 72.64Q371.11 72.92 372.26 73.30Q373.40 73.68 374.42 74.26Q375.45 74.84 375.79 75.68Q376.12 76.51 375.86 77.36Z" fill="#9a9a9a" stroke="#303030" stroke-width="0.8"/>
<path d="M374.66 77.50Q375.20 78.20 374.80 78.92Q374.40 79.64 373.50 80.16Q372.60 80.68 371.83 81.11Q371.07 81.53 370.37 81.93Q369.68 82.34 368.90 82.66Q368.13 82.99 367.30 83.35Q366.48 83.72 365.49 84.11Q364.50 84.50 363.36 84.54Q362.21 84.57 361.26 84.16Q360.31 83.74 359.53 83.27Q358.75 82.79 357.87 82.40Q357.00 82.01 356.41 81.43Q355.82 80.86 355.96 80.14Q356.10 79.42 356.41 78.81Q356.72 78.20 356.55 77.61Q356.39 77.02 356.17 76.30Q355.95 75.58 356.28 74.89Q356.62 74.20 357.39 73.67Q358.16 73.14 359.13 72.77Q360.11 72.39 361.24 72.32Q362.37 72.25 363.43 72.50Q364.50 72.74 365.41 72.92Q366.33 73.11 367.33 73.13Q368.33 73.14 369.30 73.37Q370.27 73.60 370.86 74.14Q371.45 74.67 371.96 75.22Q372.47 75.76 373.29 76.28Q374.12 76.80 374.66 77.50Z" fill="#7a7a7a" stroke="#303030" stroke-width="0.8"/>
<path d="M371.54 77.66Q371.17 78.20 370.96 78.65Q370.74 79.11 370.79 79.62Q370.83 80.14 370.67 80.70Q370.51 81.25 370.01 81.73Q369.52 82.20 368.82 82.59Q368.12 82.98 367.23 83.17Q366.35 83.35 365.42 83.17Q364.50 82.99 363.75 82.67Q363.01 82.36 362.28 82.23Q361.54 82.11 360.72 81.99Q359.90 81.87 359.33 81.49Q358.76 81.11 358.48 80.62Q358.21 80.13 357.77 79.69Q357.32 79.24 356.77 78.72Q356.21 78.20 356.18 77.59Q356.16 76.99 356.75 76.50Q357.35 76.01 358.08 75.66Q358.82 75.32 359.50 75.04Q360.19 74.76 360.91 74.58Q361.63 74.41 362.32 74.24Q363.02 74.07 363.76 73.77Q364.50 73.47 365.42 73.27Q366.34 73.08 367.19 73.30Q368.04 73.53 368.63 73.98Q369.23 74.43 369.84 74.80Q370.45 75.18 371.07 75.59Q371.69 76.00 371.80 76.56Q371.91 77.12 371.54 77.66Z" fill="#b8b8b8" stroke="#303030" stroke-width="0.8"/>
<path d="M369.62 77.83Q369.69 78.20 369.82 78.60Q369.96 78.99 369.95 79.43Q369.94 79.87 369.56 80.22Q369.18 80.57 368.65 80.83Q368.13 81.10 367.64 81.40Q367.15 81.70 366.53 81.92Q365.91 82.14 365.21 82.02Q364.50 81.90 363.95 81.59Q363.40 81.28 362.91 81.12Q362.41 80.96 361.77 80.92Q361.14 80.88 360.51 80.71Q359.88 80.54 359.45 80.21Q359.02 79.88 358.71 79.48Q358.41 79.08 358.33 78.64Q358.25 78.20 358.53 77.79Q358.81 77.37 359.22 77.04Q359.63 76.71 359.93 76.37Q360.23 76.03 360.61 75.72Q361.00 75.40 361.59 75.27Q362.19 75.14 362.78 75.09Q363.37 75.05 363.93 74.84Q364.50 74.62 365.22 74.40Q365.94 74.18 366.66 74.29Q367.38 74.40 367.82 74.80Q368.27 75.19 368.55 75.60Q368.83 76.00 369.08 76.36Q369.32 76.72 369.44 77.09Q369.56 77.46 369.62 77.83Z" fill="#606060" stroke="#303030" stroke-width="0.8"/>
<path d="M368.27 77.95Q368.53 78.20 368.63 78.51Q368.72 78.81 368.58 79.11Q368.43 79.41 368.16 79.66Q367.89 79.92 367.48 80.09Q367.08 80.26 366.58 80.28Q366.09 80.30 365.67 80.29Q365.25 80.28 364.87 80.39Q364.50 80.50 364.05 80.61Q363.59 80.72 363.15 80.64Q362.71 80.56 362.38 80.36Q362.04 80.16 361.67 79.99Q361.31 79.82 360.92 79.62Q360.54 79.41 360.41 79.11Q360.28 78.81 360.45 78.51Q360.61 78.20 360.81 77.95Q361.00 77.69 361.15 77.46Q361.30 77.22 361.50 77.00Q361.70 76.78 361.92 76.55Q362.14 76.32 362.40 76.04Q362.65 75.76 363.07 75.56Q363.48 75.36 363.99 75.41Q364.50 75.46 364.93 75.63Q365.36 75.81 365.75 75.92Q366.15 76.02 366.56 76.12Q366.98 76.22 367.24 76.45Q367.50 76.68 367.58 76.95Q367.67 77.23 367.84 77.46Q368.00 77.69 368.27 77.95Z" fill="#999" stroke="#303030" stroke-width="0.8"/>
</g>
</g>
<rect x="295.5" y="67.2" width="28" height="13.2" fill="none" stroke="#000" stroke-width="2.2"/>
<rect x="352" y="65" width="31.8" height="13.8" fill="none" stroke="#000" stroke-width="2.2"/>
<rect x="352" y="78.8" width="31.8" height="16.6" fill="none" stroke="#000" stroke-width="2.2"/>
<rect x="295" y="45" width="89" height="79.7" fill="none" stroke="#000" stroke-width="2.2"/>
<text x="289.6" y="127.7" font-size="5.4" text-anchor="middle" transform="rotate(-25 289.6 125.9)">10<tspan baseline-shift="2" font-size="3.6">0</tspan></text>
<text x="289.6" y="107.775" font-size="5.4" text-anchor="middle" transform="rotate(-25 289.6 105.97500000000001)">10<tspan baseline-shift="2" font-size="3.6">1</tspan></text>
<text x="289.6" y="87.85" font-size="5.4" text-anchor="middle" transform="rotate(-25 289.6 86.05)">10<tspan baseline-shift="2" font-size="3.6">2</tspan></text>
<text x="289.6" y="67.925" font-size="5.4" text-anchor="middle" transform="rotate(-25 289.6 66.125)">10<tspan baseline-shift="2" font-size="3.6">3</tspan></text>
<text x="289.6" y="48.0" font-size="5.4" text-anchor="middle" transform="rotate(-25 289.6 46.2)">10<tspan baseline-shift="2" font-size="3.6">4</tspan></text>
<text x="295.8" y="133.70000000000002" font-size="5.4" text-anchor="middle" transform="rotate(-30 295.8 131.9)">10<tspan baseline-shift="2" font-size="3.6">0</tspan></text>
<text x="318.05" y="133.70000000000002" font-size="5.4" text-anchor="middle" transform="rotate(-30 318.05 131.9)">10<tspan baseline-shift="2" font-size="3.6">1</tspan></text>
<text x="340.3" y="133.70000000000002" font-size="5.4" text-anchor="middle" transform="rotate(-30 340.3 131.9)">10<tspan baseline-shift="2" font-size="3.6">2</tspan></text>
<text x="362.55" y="133.70000000000002" font-size="5.4" text-anchor="middle" transform="rotate(-30 362.55 131.9)">10<tspan baseline-shift="2" font-size="3.6">3</tspan></text>
<text x="384.8" y="133.70000000000002" font-size="5.4" text-anchor="middle" transform="rotate(-30 384.8 131.9)">10<tspan baseline-shift="2" font-size="3.6">4</tspan></text>
<text x="300" y="63" font-size="12.4" text-anchor="start">11.3</text>
<text x="384" y="63" font-size="12.4" text-anchor="end">34.8</text>
<text x="384" y="108.8" font-size="12.4" text-anchor="end">21.1</text>
<text x="299.6" y="26.7" font-size="12.5" text-anchor="start" textLength="79" lengthAdjust="spacingAndGlyphs">Lin (no CD4)<tspan baseline-shift="4.8" font-size="7.8">-</tspan></text>
<text x="298.6" y="41.3" font-size="12.5" text-anchor="start" textLength="79" lengthAdjust="spacingAndGlyphs">CD44<tspan baseline-shift="4.8" font-size="7.8">+</tspan>CD117<tspan baseline-shift="4.8" font-size="7.8">+</tspan></text>
<clipPath id="c4"><rect x="424" y="44.6" width="88.60000000000002" height="80.1"/></clipPath><g clip-path="url(#c4)">
<rect x="425" y="62" width="25" height="26" fill="#4a4a4a" filter="url(#b1)"/>
<g filter="url(#b05)">
<path d="M442.55 74.06Q442.85 75.00 442.60 75.95Q442.36 76.91 441.86 77.73Q441.36 78.54 440.73 79.21Q440.11 79.87 439.31 80.26Q438.51 80.65 437.74 80.91Q436.97 81.16 436.31 81.72Q435.66 82.28 434.83 82.96Q434.00 83.64 433.00 83.70Q432.00 83.76 431.18 83.16Q430.36 82.55 429.68 81.91Q429.00 81.26 428.28 80.70Q427.55 80.14 427.09 79.35Q426.62 78.55 426.64 77.62Q426.65 76.68 426.75 75.84Q426.85 75.00 426.80 74.17Q426.76 73.35 426.85 72.47Q426.94 71.60 427.27 70.75Q427.60 69.90 428.06 69.02Q428.53 68.14 429.28 67.44Q430.03 66.75 431.06 66.71Q432.10 66.68 433.05 67.16Q434.00 67.64 434.78 67.90Q435.56 68.16 436.43 68.15Q437.31 68.14 438.14 68.45Q438.98 68.76 439.52 69.46Q440.06 70.17 440.55 70.89Q441.04 71.61 441.64 72.36Q442.25 73.12 442.55 74.06Z" fill="#6a6a6a" stroke="#1a1a1a" stroke-width="0.9"/>
<path d="M440.47 74.27Q440.53 75.00 440.54 75.75Q440.56 76.50 440.41 77.26Q440.26 78.01 439.65 78.52Q439.04 79.02 438.24 79.17Q437.44 79.31 436.86 79.53Q436.29 79.75 435.81 80.28Q435.33 80.81 434.66 81.21Q434.00 81.61 433.26 81.56Q432.51 81.52 431.81 81.25Q431.12 80.99 430.46 80.63Q429.80 80.27 429.33 79.69Q428.85 79.10 428.65 78.39Q428.44 77.68 428.29 77.01Q428.14 76.34 428.03 75.67Q427.93 75.00 428.10 74.35Q428.28 73.69 428.59 73.12Q428.91 72.55 429.05 71.86Q429.19 71.17 429.39 70.31Q429.58 69.46 430.20 68.93Q430.82 68.40 431.67 68.46Q432.52 68.53 433.26 68.77Q434.00 69.01 434.66 69.12Q435.32 69.23 435.95 69.44Q436.58 69.64 437.12 70.03Q437.65 70.42 438.18 70.83Q438.70 71.25 439.25 71.73Q439.79 72.21 440.11 72.87Q440.42 73.53 440.47 74.27Z" fill="#909090" stroke="#1a1a1a" stroke-width="0.9"/>
<path d="M438.46 74.49Q438.47 75.00 438.35 75.48Q438.23 75.97 438.21 76.49Q438.19 77.02 438.08 77.60Q437.98 78.17 437.58 78.58Q437.18 78.99 436.63 79.16Q436.09 79.33 435.55 79.38Q435.01 79.44 434.51 79.36Q434.00 79.28 433.55 79.09Q433.11 78.90 432.66 78.80Q432.22 78.70 431.65 78.69Q431.07 78.67 430.54 78.43Q430.00 78.19 429.78 77.66Q429.56 77.14 429.52 76.58Q429.49 76.03 429.38 75.51Q429.27 75.00 429.27 74.46Q429.26 73.92 429.58 73.47Q429.90 73.03 430.34 72.73Q430.79 72.44 431.12 72.12Q431.45 71.80 431.77 71.42Q432.09 71.04 432.53 70.75Q432.97 70.47 433.48 70.28Q434.00 70.08 434.58 70.01Q435.16 69.93 435.68 70.17Q436.21 70.41 436.51 70.94Q436.81 71.48 437.00 71.97Q437.19 72.45 437.52 72.80Q437.85 73.15 438.15 73.56Q438.46 73.98 438.46 74.49Z" fill="#c0c0c0" stroke="#1a1a1a" stroke-width="0.9"/>
<path d="M436.72 74.70Q436.81 75.00 436.86 75.33Q436.91 75.66 436.83 75.99Q436.74 76.32 436.57 76.62Q436.41 76.92 436.20 77.21Q435.99 77.50 435.67 77.65Q435.35 77.79 434.97 77.71Q434.60 77.63 434.30 77.52Q434.00 77.41 433.71 77.47Q433.42 77.53 433.07 77.60Q432.71 77.67 432.40 77.54Q432.08 77.41 431.86 77.14Q431.65 76.88 431.45 76.60Q431.25 76.32 431.11 76.01Q430.97 75.69 430.99 75.35Q431.01 75.00 431.14 74.69Q431.26 74.37 431.39 74.09Q431.51 73.80 431.69 73.55Q431.88 73.31 432.13 73.13Q432.38 72.96 432.60 72.77Q432.83 72.57 433.07 72.27Q433.31 71.97 433.65 71.79Q434.00 71.61 434.36 71.74Q434.71 71.88 434.97 72.16Q435.23 72.45 435.46 72.66Q435.70 72.87 435.94 73.07Q436.18 73.26 436.33 73.53Q436.48 73.81 436.55 74.10Q436.63 74.40 436.72 74.70Z" fill="#f0f0f0" stroke="#1a1a1a" stroke-width="0.9"/>
</g>
<rect x="450" y="64" width="23" height="20" fill="#8c8c8c" filter="url(#b1)"/>
<g filter="url(#b05)">
<path d="M467.29 73.45Q467.89 74.00 467.97 74.66Q468.06 75.31 467.50 75.85Q466.95 76.39 466.25 76.77Q465.54 77.16 464.80 77.40Q464.06 77.64 463.26 77.65Q462.46 77.65 461.83 77.71Q461.20 77.77 460.60 78.25Q460.00 78.74 459.09 79.22Q458.18 79.71 457.29 79.52Q456.40 79.34 455.92 78.71Q455.43 78.09 454.96 77.61Q454.50 77.14 453.89 76.72Q453.29 76.31 453.16 75.72Q453.04 75.13 453.46 74.57Q453.89 74.00 454.15 73.54Q454.41 73.09 454.37 72.57Q454.33 72.05 454.47 71.49Q454.60 70.92 454.97 70.37Q455.34 69.82 455.86 69.23Q456.39 68.64 457.24 68.33Q458.09 68.02 459.04 68.38Q460.00 68.74 460.65 69.35Q461.29 69.96 461.88 70.14Q462.48 70.33 463.32 70.30Q464.16 70.27 464.80 70.59Q465.44 70.90 465.67 71.44Q465.90 71.97 466.30 72.44Q466.69 72.91 467.29 73.45Z" fill="#9a9a9a" stroke="#1a1a1a" stroke-width="0.9"/>
<path d="M464.16 73.67Q464.33 74.00 464.18 74.33Q464.03 74.66 463.63 74.88Q463.23 75.11 462.98 75.33Q462.73 75.56 462.60 75.88Q462.46 76.21 462.18 76.51Q461.89 76.81 461.46 77.03Q461.04 77.24 460.52 77.41Q460.00 77.58 459.44 77.53Q458.89 77.47 458.54 77.07Q458.20 76.67 458.07 76.26Q457.95 75.84 457.64 75.68Q457.34 75.52 456.82 75.39Q456.31 75.27 456.06 74.98Q455.81 74.68 455.87 74.34Q455.93 74.00 455.88 73.66Q455.84 73.32 455.75 72.91Q455.66 72.51 455.91 72.16Q456.17 71.82 456.70 71.67Q457.23 71.52 457.74 71.46Q458.25 71.40 458.71 71.40Q459.17 71.39 459.58 71.49Q460.00 71.58 460.38 71.60Q460.76 71.63 461.30 71.45Q461.84 71.27 462.51 71.21Q463.18 71.15 463.54 71.46Q463.90 71.78 463.89 72.22Q463.88 72.67 463.94 73.01Q464.00 73.35 464.16 73.67Z" fill="#c0c0c0" stroke="#1a1a1a" stroke-width="0.9"/>
</g>
<rect x="474" y="63" width="28" height="24" fill="#b8b8b8" filter="url(#b1)"/>
<g filter="url(#b05)">
<path d="M495.51 75.15Q495.58 76.00 495.72 76.90Q495.87 77.80 495.79 78.75Q495.70 79.71 495.21 80.53Q494.71 81.35 494.02 82.02Q493.33 82.68 492.51 83.17Q491.68 83.65 490.72 83.65Q489.75 83.65 488.87 83.26Q488.00 82.87 487.24 82.75Q486.49 82.63 485.54 82.85Q484.59 83.08 483.58 82.94Q482.57 82.81 481.93 82.08Q481.30 81.34 480.94 80.46Q480.59 79.57 480.21 78.72Q479.84 77.86 479.71 76.93Q479.58 76.00 479.92 75.12Q480.27 74.24 480.78 73.50Q481.29 72.77 481.75 72.07Q482.20 71.38 482.78 70.78Q483.35 70.17 484.05 69.71Q484.74 69.24 485.46 68.64Q486.19 68.05 487.09 67.46Q488.00 66.87 489.02 66.95Q490.05 67.03 490.79 67.84Q491.53 68.66 492.04 69.48Q492.54 70.30 493.18 70.83Q493.81 71.37 494.41 72.00Q495.00 72.63 495.22 73.46Q495.44 74.30 495.51 75.15Z" fill="#999" stroke="#1a1a1a" stroke-width="0.9"/>
<path d="M495.04 75.23Q495.35 76.00 495.08 76.78Q494.81 77.55 494.16 78.10Q493.50 78.65 493.00 79.12Q492.51 79.60 492.17 80.20Q491.83 80.80 491.28 81.25Q490.74 81.69 490.04 81.79Q489.34 81.88 488.67 81.96Q488.00 82.04 487.26 82.25Q486.53 82.45 485.73 82.42Q484.93 82.38 484.28 81.93Q483.64 81.47 483.19 80.83Q482.75 80.19 482.48 79.49Q482.22 78.79 482.24 78.05Q482.26 77.31 482.41 76.65Q482.55 76.00 482.44 75.35Q482.33 74.71 482.15 73.90Q481.97 73.10 482.24 72.36Q482.50 71.62 483.17 71.20Q483.85 70.79 484.52 70.48Q485.19 70.16 485.84 69.78Q486.49 69.40 487.25 69.32Q488.00 69.24 488.69 69.61Q489.38 69.98 489.93 70.41Q490.48 70.85 491.05 71.16Q491.62 71.46 492.19 71.83Q492.76 72.21 493.25 72.72Q493.75 73.23 494.24 73.85Q494.74 74.46 495.04 75.23Z" fill="#777" stroke="#1a1a1a" stroke-width="0.9"/>
<path d="M492.64 75.45Q492.48 76.00 492.34 76.48Q492.20 76.96 492.17 77.48Q492.14 77.99 491.95 78.49Q491.75 78.99 491.32 79.31Q490.89 79.62 490.45 79.90Q490.01 80.17 489.58 80.59Q489.14 81.01 488.57 81.27Q488.00 81.53 487.42 81.31Q486.84 81.10 486.42 80.63Q486.00 80.16 485.65 79.78Q485.29 79.39 484.94 79.06Q484.59 78.72 484.30 78.32Q484.01 77.92 483.73 77.48Q483.44 77.04 483.16 76.52Q482.88 76.00 482.86 75.41Q482.84 74.82 483.17 74.33Q483.49 73.83 483.87 73.42Q484.25 73.01 484.58 72.56Q484.90 72.12 485.37 71.82Q485.84 71.52 486.43 71.58Q487.01 71.65 487.50 71.79Q488.00 71.93 488.49 71.83Q488.97 71.74 489.57 71.62Q490.16 71.51 490.72 71.70Q491.28 71.89 491.69 72.31Q492.10 72.73 492.38 73.24Q492.66 73.75 492.73 74.33Q492.80 74.90 492.64 75.45Z" fill="#ccc" stroke="#1a1a1a" stroke-width="0.9"/>
<path d="M491.22 75.64Q491.26 76.00 491.30 76.38Q491.33 76.76 491.13 77.09Q490.94 77.41 490.59 77.60Q490.24 77.79 489.98 77.97Q489.71 78.14 489.51 78.43Q489.31 78.71 489.02 78.97Q488.74 79.23 488.37 79.33Q488.00 79.44 487.61 79.44Q487.22 79.44 486.85 79.30Q486.48 79.16 486.23 78.84Q485.99 78.52 485.85 78.17Q485.72 77.82 485.53 77.55Q485.35 77.28 485.14 76.99Q484.93 76.70 484.90 76.35Q484.86 76.00 484.98 75.67Q485.09 75.34 485.13 74.99Q485.17 74.64 485.20 74.22Q485.24 73.80 485.48 73.47Q485.72 73.14 486.12 73.04Q486.53 72.95 486.92 72.97Q487.31 72.99 487.66 73.01Q488.00 73.04 488.32 73.12Q488.64 73.20 488.95 73.29Q489.26 73.39 489.62 73.46Q489.98 73.52 490.35 73.67Q490.72 73.83 490.92 74.16Q491.12 74.50 491.14 74.89Q491.17 75.28 491.22 75.64Z" fill="#888" stroke="#1a1a1a" stroke-width="0.9"/>
</g>
<rect x="425" y="88" width="25" height="24" fill="#6a6a6a" filter="url(#b1)"/>
<g filter="url(#b05)">
<path d="M443.23 97.92Q443.08 99.00 443.02 100.03Q442.96 101.07 442.85 102.17Q442.74 103.27 442.13 104.22Q441.52 105.18 440.62 105.92Q439.72 106.67 438.87 107.56Q438.01 108.46 436.91 109.32Q435.81 110.17 434.40 110.15Q433.00 110.12 431.83 109.24Q430.65 108.35 429.76 107.58Q428.86 106.81 427.84 106.43Q426.81 106.05 425.76 105.53Q424.71 105.01 423.95 104.15Q423.18 103.30 422.55 102.30Q421.92 101.30 421.50 100.15Q421.08 99.00 421.30 97.81Q421.52 96.62 422.22 95.60Q422.92 94.59 423.62 93.65Q424.32 92.71 425.16 91.87Q426.01 91.03 427.24 90.74Q428.47 90.44 429.69 90.56Q430.91 90.68 431.96 90.40Q433.00 90.12 434.27 89.49Q435.55 88.86 436.98 88.82Q438.41 88.79 439.47 89.60Q440.53 90.42 441.22 91.48Q441.92 92.54 442.46 93.58Q443.00 94.62 443.19 95.73Q443.37 96.85 443.23 97.92Z" fill="#606060" stroke="#1a1a1a" stroke-width="0.9"/>
<path d="M442.00 98.07Q442.08 99.00 441.68 99.86Q441.29 100.72 440.80 101.46Q440.32 102.20 439.83 102.90Q439.34 103.60 438.67 104.14Q437.99 104.69 437.24 105.14Q436.49 105.58 435.73 106.23Q434.98 106.88 433.99 107.48Q433.00 108.07 431.90 107.93Q430.80 107.78 430.01 106.96Q429.21 106.15 428.63 105.40Q428.04 104.65 427.34 104.13Q426.63 103.62 426.05 102.96Q425.46 102.30 425.25 101.48Q425.04 100.65 424.89 99.83Q424.75 99.00 424.57 98.11Q424.40 97.22 424.55 96.29Q424.71 95.37 425.25 94.57Q425.80 93.78 426.49 93.08Q427.19 92.38 428.08 91.89Q428.97 91.39 430.05 91.46Q431.12 91.52 432.06 91.92Q433.00 92.32 433.83 92.37Q434.65 92.43 435.69 92.19Q436.73 91.96 437.79 92.15Q438.85 92.34 439.51 93.07Q440.18 93.80 440.62 94.63Q441.07 95.47 441.50 96.31Q441.93 97.15 442.00 98.07Z" fill="#7a7a7a" stroke="#1a1a1a" stroke-width="0.9"/>
<path d="M439.01 98.35Q438.80 99.00 438.50 99.54Q438.19 100.08 438.18 100.67Q438.17 101.26 438.19 102.02Q438.22 102.78 437.80 103.39Q437.38 104.00 436.63 104.22Q435.89 104.45 435.16 104.57Q434.43 104.69 433.71 104.85Q433.00 105.00 432.27 104.90Q431.55 104.79 430.96 104.37Q430.38 103.95 429.90 103.51Q429.43 103.08 428.93 102.70Q428.43 102.32 428.00 101.85Q427.57 101.38 427.23 100.82Q426.89 100.27 426.52 99.63Q426.15 99.00 426.01 98.26Q425.86 97.52 426.32 96.90Q426.77 96.27 427.55 95.94Q428.33 95.61 428.91 95.31Q429.50 95.01 429.95 94.55Q430.40 94.09 431.01 93.78Q431.61 93.48 432.31 93.49Q433.00 93.50 433.68 93.54Q434.36 93.58 435.12 93.58Q435.87 93.58 436.59 93.83Q437.31 94.08 437.81 94.62Q438.32 95.15 438.64 95.77Q438.97 96.39 439.10 97.05Q439.23 97.71 439.01 98.35Z" fill="#9a9a9a" stroke="#1a1a1a" stroke-width="0.9"/>
<path d="M436.82 98.59Q436.70 99.00 436.66 99.38Q436.62 99.75 436.50 100.11Q436.38 100.48 436.15 100.80Q435.92 101.12 435.68 101.45Q435.44 101.78 435.12 102.09Q434.81 102.41 434.37 102.57Q433.93 102.72 433.47 102.74Q433.00 102.76 432.53 102.77Q432.05 102.78 431.59 102.66Q431.13 102.54 430.84 102.16Q430.56 101.78 430.46 101.35Q430.36 100.92 430.14 100.63Q429.93 100.34 429.55 100.07Q429.17 99.79 428.95 99.40Q428.72 99.00 428.78 98.57Q428.84 98.14 429.02 97.74Q429.19 97.33 429.44 96.97Q429.69 96.60 430.08 96.35Q430.46 96.11 430.91 95.99Q431.35 95.88 431.75 95.77Q432.16 95.65 432.58 95.58Q433.00 95.51 433.41 95.61Q433.83 95.71 434.21 95.86Q434.59 96.01 435.06 96.06Q435.53 96.11 436.06 96.26Q436.59 96.40 436.85 96.80Q437.12 97.20 437.03 97.69Q436.95 98.18 436.82 98.59Z" fill="#c0c0c0" stroke="#1a1a1a" stroke-width="0.9"/>
</g>
<path d="M437.5 115.1h0.7M449.4 110.8h0.7M445.9 119.6h0.7M438.9 116.3h0.7M443.8 122.5h0.7M443.2 120.5h0.7M425.9 114.6h0.7M428.4 123.3h0.7M447.3 112.0h0.7M439.7 118.1h0.7M426.2 115.5h0.7M443.7 119.0h0.7M432.0 120.7h0.7M432.3 117.6h0.7M435.5 123.7h0.7M441.2 121.3h0.7M441.9 115.3h0.7M449.1 119.9h0.7M442.3 113.9h0.7M429.0 118.1h0.7M445.6 121.1h0.7M433.7 112.0h0.7M437.9 122.3h0.7M429.1 120.3h0.7M429.3 114.4h0.7M426.3 114.2h0.7M434.6 123.5h0.7M449.1 112.6h0.7M432.7 123.2h0.7M429.9 114.5h0.7M436.0 111.5h0.7M431.5 115.5h0.7M434.6 123.5h0.7M431.7 112.9h0.7M447.7 116.3h0.7M445.9 118.9h0.7M444.5 114.4h0.7M428.8 120.6h0.7M436.8 117.8h0.7M441.8 120.5h0.7M431.9 115.1h0.7M447.9 117.4h0.7M432.2 118.8h0.7M431.5 120.8h0.7M426.0 121.6h0.7M439.2 115.0h0.7M448.5 113.7h0.7M431.1 111.0h0.7M438.7 120.6h0.7M442.0 115.8h0.7M445.2 111.6h0.7M432.7 119.0h0.7M449.2 118.9h0.7M442.3 120.8h0.7M434.9 123.2h0.7M443.6 114.8h0.7M434.8 121.3h0.7M433.7 112.6h0.7M446.8 117.4h0.7M438.0 119.4h0.7M447.5 111.9h0.7M433.5 110.9h0.7M435.3 117.0h0.7M446.3 119.3h0.7M439.4 115.7h0.7M439.3 113.8h0.7M446.1 121.0h0.7M446.0 112.1h0.7M441.8 120.6h0.7M437.5 122.6h0.7M447.5 120.4h0.7M445.5 119.1h0.7M447.0 111.8h0.7M442.6 119.9h0.7M440.3 113.9h0.7M426.7 118.4h0.7M445.6 113.8h0.7M430.3 113.1h0.7M427.3 119.5h0.7M449.4 121.2h0.7M434.0 119.8h0.7M426.8 121.7h0.7M433.1 110.0h0.7M440.7 111.9h0.7M431.9 110.8h0.7M436.1 117.8h0.7M445.2 110.6h0.7M445.7 111.5h0.7M430.6 118.8h0.7M433.5 114.6h0.7M439.2 113.1h0.7M444.8 112.9h0.7M446.0 121.3h0.7M438.4 110.4h0.7M444.5 110.4h0.7M437.6 115.9h0.7M426.6 118.8h0.7M443.1 118.2h0.7M435.0 117.2h0.7M439.7 113.2h0.7M446.7 123.9h0.7M445.1 123.5h0.7M433.2 123.8h0.7M426.8 116.7h0.7M428.3 116.4h0.7M442.1 119.9h0.7M436.4 114.8h0.7M429.7 115.6h0.7M432.1 112.7h0.7M443.4 117.2h0.7M436.0 112.8h0.7M442.6 112.8h0.7M431.6 117.8h0.7M442.5 123.6h0.7M443.7 123.3h0.7M448.0 120.1h0.7M443.0 110.9h0.7M430.1 110.2h0.7M446.6 120.1h0.7M440.8 113.7h0.7" stroke="#777" stroke-width="1.12" opacity="0.6" stroke-linecap="round"/>
<ellipse cx="447" cy="88" rx="22" ry="2" fill="#111" opacity="0.9" filter="url(#b1)" transform="rotate(0 447 88)"/>
<path d="M452 84 q4 4 8 1 t8 3 M452 92 q3 5 -2 8 M459 98 q4 3 8 -1" fill="none" stroke="#111" stroke-width="1.4"/>
<ellipse cx="461" cy="104" rx="1.5" ry="1.5" fill="#111" opacity="1" filter="url(#b1)" transform="rotate(0 461 104)"/>
</g>
<rect x="424.7" y="60.3" width="24.9" height="27" fill="none" stroke="#000" stroke-width="2.2"/>
<rect x="449.6" y="52" width="23.8" height="30.7" fill="none" stroke="#000" stroke-width="2.2"/>
<rect x="473.4" y="61.2" width="28.8" height="26.1" fill="none" stroke="#000" stroke-width="2.2"/>
<rect x="424.7" y="87.3" width="45.7" height="36.5" fill="none" stroke="#000" stroke-width="2.2"/>
<rect x="471.5" y="87.3" width="30.7" height="36.5" fill="none" stroke="#000" stroke-width="2.2"/>
<rect x="424" y="44.6" width="88.60000000000002" height="80.1" fill="none" stroke="#000" stroke-width="2.2"/>
<text x="418.6" y="127.7" font-size="5.4" text-anchor="middle" transform="rotate(-25 418.6 125.9)">10<tspan baseline-shift="2" font-size="3.6">0</tspan></text>
<text x="418.6" y="107.67500000000001" font-size="5.4" text-anchor="middle" transform="rotate(-25 418.6 105.87500000000001)">10<tspan baseline-shift="2" font-size="3.6">1</tspan></text>
<text x="418.6" y="87.65" font-size="5.4" text-anchor="middle" transform="rotate(-25 418.6 85.85000000000001)">10<tspan baseline-shift="2" font-size="3.6">2</tspan></text>
<text x="418.6" y="67.625" font-size="5.4" text-anchor="middle" transform="rotate(-25 418.6 65.825)">10<tspan baseline-shift="2" font-size="3.6">3</tspan></text>
<text x="418.6" y="47.60000000000001" font-size="5.4" text-anchor="middle" transform="rotate(-25 418.6 45.80000000000001)">10<tspan baseline-shift="2" font-size="3.6">4</tspan></text>
<text x="424.8" y="133.70000000000002" font-size="5.4" text-anchor="middle" transform="rotate(-30 424.8 131.9)">10<tspan baseline-shift="2" font-size="3.6">0</tspan></text>
<text x="446.95" y="133.70000000000002" font-size="5.4" text-anchor="middle" transform="rotate(-30 446.95 131.9)">10<tspan baseline-shift="2" font-size="3.6">1</tspan></text>
<text x="469.1" y="133.70000000000002" font-size="5.4" text-anchor="middle" transform="rotate(-30 469.1 131.9)">10<tspan baseline-shift="2" font-size="3.6">2</tspan></text>
<text x="491.25000000000006" y="133.70000000000002" font-size="5.4" text-anchor="middle" transform="rotate(-30 491.25000000000006 131.9)">10<tspan baseline-shift="2" font-size="3.6">3</tspan></text>
<text x="513.4" y="133.70000000000002" font-size="5.4" text-anchor="middle" transform="rotate(-30 513.4 131.9)">10<tspan baseline-shift="2" font-size="3.6">4</tspan></text>
<text x="427.7" y="59" font-size="12.4" text-anchor="start">9.7</text>
<text x="453.5" y="65" font-size="12.4" text-anchor="start">3.8</text>
<text x="476.8" y="59" font-size="12.4" text-anchor="start">7.9</text>
<text x="426.5" y="120.8" font-size="12.4" text-anchor="start">73.1</text>
<text x="501" y="120.8" font-size="12.4" text-anchor="end">0.7</text>
<text x="428.6" y="26.7" font-size="12.5" text-anchor="start" textLength="79" lengthAdjust="spacingAndGlyphs">Lin (no CD4)<tspan baseline-shift="4.8" font-size="7.8">-</tspan></text>
<text x="431.8" y="41.2" font-size="12.5" text-anchor="start" textLength="72.5" lengthAdjust="spacingAndGlyphs">CD25<tspan baseline-shift="4.8" font-size="7.8">-</tspan>CD44<tspan baseline-shift="4.8" font-size="7.8">+</tspan></text>
<clipPath id="c5"><rect x="43" y="160" width="89.5" height="79"/></clipPath><g clip-path="url(#c5)">
<rect x="44" y="195" width="31" height="45" fill="#5a88ea" opacity="0.6" filter="url(#b2)"/>
<path d="M55.0 198.0h0.6M63.6 238.6h0.6M53.5 192.2h0.6M49.4 207.4h0.6M71.9 229.4h0.6M58.1 195.0h0.6M47.3 197.5h0.6M68.1 213.1h0.6M74.7 234.7h0.6M68.6 213.3h0.6M69.5 196.3h0.6M47.4 217.6h0.6M59.7 200.3h0.6M51.8 191.0h0.6M72.2 224.8h0.6M73.3 238.0h0.6M57.5 225.9h0.6M55.9 229.8h0.6M70.1 196.6h0.6M44.4 200.5h0.6M62.1 208.6h0.6M44.3 230.7h0.6M68.4 212.7h0.6M45.3 233.6h0.6M60.6 193.5h0.6M54.0 220.6h0.6M71.4 213.7h0.6M63.8 200.1h0.6M51.5 234.4h0.6M55.9 195.1h0.6M62.3 196.2h0.6M50.2 212.4h0.6M62.2 221.2h0.6M65.9 211.5h0.6M46.1 225.5h0.6M45.7 213.1h0.6M56.4 223.0h0.6M66.1 201.7h0.6M64.1 223.9h0.6M58.6 196.9h0.6M72.2 219.4h0.6M45.9 201.7h0.6M74.6 201.2h0.6M56.2 228.6h0.6M69.5 221.1h0.6M67.0 191.9h0.6M46.9 237.8h0.6M68.9 191.9h0.6M45.5 201.8h0.6M72.9 200.8h0.6M64.8 235.6h0.6M63.8 235.0h0.6M52.2 197.5h0.6M44.6 227.1h0.6M47.2 237.7h0.6M66.0 199.2h0.6M69.0 198.0h0.6M59.9 195.2h0.6M68.4 233.6h0.6M72.4 190.1h0.6M70.4 217.2h0.6M69.5 214.6h0.6M63.2 219.1h0.6M68.8 193.8h0.6M45.7 216.7h0.6M53.0 209.5h0.6M44.2 226.5h0.6M44.7 230.7h0.6M69.2 212.4h0.6M47.8 221.9h0.6M50.4 211.0h0.6M47.4 237.8h0.6M60.9 207.3h0.6M46.9 225.8h0.6M70.3 231.6h0.6M47.1 208.0h0.6M53.4 227.4h0.6M48.6 219.7h0.6M74.3 227.7h0.6M44.2 193.7h0.6M47.5 223.9h0.6M62.6 215.5h0.6M58.1 210.0h0.6M62.9 221.8h0.6M72.4 225.9h0.6M68.7 234.7h0.6M70.0 225.1h0.6M44.9 223.4h0.6M70.3 211.1h0.6M71.2 198.8h0.6M73.2 211.6h0.6M65.9 202.4h0.6M53.3 207.1h0.6M54.1 194.6h0.6M57.7 238.1h0.6M64.3 235.7h0.6M67.6 231.0h0.6M74.8 226.9h0.6M52.5 202.2h0.6M56.8 191.0h0.6M51.2 233.4h0.6M72.5 206.1h0.6M67.9 228.0h0.6M71.6 228.9h0.6M60.5 195.1h0.6M69.6 205.4h0.6M63.4 208.0h0.6M60.7 237.3h0.6M49.0 216.0h0.6M64.1 216.4h0.6M73.1 210.0h0.6M72.3 223.8h0.6M74.0 194.4h0.6M50.6 204.1h0.6M72.1 190.7h0.6M52.1 225.1h0.6M74.7 198.6h0.6M57.6 223.7h0.6M65.4 226.6h0.6M67.3 202.2h0.6M52.0 191.4h0.6M65.4 200.3h0.6M52.0 237.3h0.6M63.9 219.0h0.6M64.3 219.3h0.6M65.5 204.9h0.6M46.0 193.3h0.6M44.5 207.7h0.6M48.4 195.5h0.6M59.3 237.5h0.6M65.3 203.4h0.6M67.9 198.7h0.6M47.1 204.9h0.6M56.7 223.8h0.6M57.8 225.7h0.6M46.9 235.7h0.6M54.6 230.8h0.6M45.0 230.6h0.6M51.0 231.9h0.6M68.9 222.9h0.6M52.6 190.5h0.6M49.9 234.3h0.6M48.9 222.3h0.6M62.2 222.4h0.6M49.6 197.0h0.6M47.0 238.2h0.6M55.9 222.0h0.6M61.7 200.9h0.6M46.0 190.7h0.6M70.4 196.4h0.6M73.9 207.8h0.6M66.4 196.8h0.6M68.4 202.3h0.6M55.4 215.6h0.6M47.5 202.2h0.6M68.7 204.0h0.6M55.8 227.5h0.6M50.9 199.5h0.6M50.8 208.8h0.6M55.3 221.4h0.6M58.6 232.6h0.6M45.6 222.5h0.6M69.9 201.5h0.6M44.9 211.5h0.6M47.6 212.5h0.6M66.1 194.6h0.6M47.7 213.5h0.6M49.4 201.3h0.6M57.6 195.8h0.6M46.1 207.7h0.6M58.5 235.9h0.6M61.2 193.5h0.6M50.9 226.5h0.6M61.4 232.6h0.6M73.8 232.0h0.6M47.4 236.2h0.6M60.3 201.7h0.6M49.3 232.4h0.6M50.6 194.1h0.6M52.2 235.3h0.6M58.3 225.8h0.6M46.3 212.2h0.6M53.9 200.1h0.6M64.6 207.7h0.6M47.7 238.2h0.6M58.9 198.8h0.6M44.3 222.0h0.6M60.0 191.2h0.6M58.6 226.3h0.6M60.7 201.5h0.6M59.5 219.6h0.6M64.2 197.1h0.6M68.9 236.3h0.6M67.0 232.0h0.6M55.4 234.2h0.6M49.6 201.1h0.6M62.5 234.2h0.6M46.5 200.6h0.6M45.1 211.5h0.6M48.4 199.4h0.6M67.2 218.6h0.6M73.1 209.7h0.6M65.1 190.6h0.6M73.4 201.4h0.6M58.8 215.1h0.6M73.4 214.1h0.6M74.7 220.4h0.6M50.7 230.9h0.6M50.3 239.0h0.6M58.2 201.1h0.6M73.8 205.8h0.6M56.6 206.8h0.6M64.7 191.1h0.6M55.6 197.9h0.6M69.7 190.0h0.6M62.8 202.6h0.6M58.1 217.5h0.6M66.1 196.7h0.6M51.5 195.9h0.6M73.8 197.3h0.6M48.2 215.6h0.6M62.0 233.4h0.6M45.8 201.5h0.6M49.2 218.7h0.6M58.0 210.0h0.6M71.5 222.4h0.6M70.7 236.9h0.6M52.3 236.2h0.6M56.6 192.5h0.6M72.4 195.1h0.6M44.5 204.2h0.6M53.0 237.4h0.6M71.0 210.6h0.6M60.4 231.6h0.6M69.0 222.0h0.6M59.9 195.7h0.6M51.6 222.2h0.6M62.2 229.3h0.6M71.9 237.2h0.6M50.0 193.7h0.6M71.8 217.9h0.6M49.6 223.9h0.6M51.9 201.6h0.6M55.4 215.7h0.6M65.0 193.6h0.6M67.0 220.6h0.6M58.6 222.9h0.6M68.8 190.5h0.6M58.7 223.2h0.6M66.0 221.7h0.6M49.6 237.0h0.6M68.4 201.4h0.6M57.3 236.9h0.6M50.4 210.0h0.6M73.8 234.1h0.6M51.2 226.0h0.6M55.2 222.5h0.6M67.8 196.3h0.6M50.9 200.5h0.6M52.2 191.7h0.6M48.2 209.9h0.6M57.0 193.8h0.6M62.1 236.2h0.6M61.9 207.4h0.6M65.8 211.4h0.6M49.4 213.6h0.6M44.5 223.1h0.6M49.0 208.1h0.6M73.8 227.6h0.6M69.9 221.5h0.6M63.7 224.5h0.6M74.0 199.6h0.6M67.8 204.7h0.6M51.9 230.3h0.6M62.6 231.6h0.6M71.1 218.9h0.6M50.1 190.7h0.6M60.6 225.6h0.6M52.4 193.4h0.6M44.1 198.5h0.6M65.6 190.2h0.6M51.1 203.0h0.6M66.0 238.4h0.6M44.6 195.6h0.6M73.0 237.5h0.6M48.6 206.4h0.6M60.2 205.7h0.6M56.9 213.5h0.6M52.0 192.7h0.6M46.6 198.0h0.6M46.8 220.6h0.6M65.6 202.9h0.6M68.5 225.7h0.6M54.6 214.1h0.6M49.8 235.5h0.6M61.4 192.5h0.6M48.8 223.9h0.6M55.9 225.1h0.6M51.1 229.1h0.6M68.9 194.6h0.6M62.2 199.4h0.6M65.9 229.4h0.6M68.5 201.3h0.6M46.9 222.5h0.6M61.5 196.8h0.6M50.0 218.5h0.6M47.3 221.1h0.6M51.5 202.7h0.6M57.1 216.1h0.6M66.5 191.5h0.6M66.5 200.8h0.6M53.0 221.3h0.6M65.4 220.1h0.6M72.0 200.0h0.6M53.6 222.5h0.6M52.1 197.7h0.6M51.0 227.8h0.6M69.6 225.1h0.6M73.7 228.9h0.6M53.6 205.5h0.6M66.4 192.7h0.6M62.9 194.4h0.6M45.5 215.2h0.6M48.7 235.7h0.6M71.2 212.6h0.6M50.1 195.9h0.6M59.7 215.5h0.6M55.2 225.1h0.6M60.4 228.0h0.6M47.3 193.4h0.6M56.0 213.7h0.6M51.8 222.8h0.6M50.9 205.6h0.6M58.8 224.9h0.6M67.9 208.2h0.6M57.9 235.5h0.6M73.0 220.3h0.6M47.3 212.3h0.6M63.7 203.7h0.6M45.2 238.1h0.6M72.2 196.3h0.6M58.4 220.3h0.6M53.3 193.4h0.6M67.3 227.8h0.6M57.6 194.2h0.6M56.2 194.6h0.6M73.9 192.5h0.6M52.9 227.6h0.6M48.2 195.2h0.6M46.2 198.0h0.6M60.5 230.8h0.6M49.2 198.5h0.6M67.7 210.9h0.6M54.5 196.0h0.6M51.5 237.6h0.6M47.6 202.7h0.6M67.0 233.7h0.6M72.0 213.2h0.6M73.6 219.6h0.6M52.9 212.8h0.6M66.2 226.0h0.6M48.0 199.5h0.6M73.7 195.2h0.6M69.2 206.6h0.6M51.7 202.5h0.6M58.5 238.5h0.6M48.6 231.9h0.6M54.0 198.5h0.6M67.1 206.7h0.6M49.8 210.5h0.6M69.5 232.3h0.6M61.8 190.5h0.6M67.7 219.7h0.6M71.9 236.6h0.6M54.1 231.6h0.6M69.4 203.0h0.6M55.3 208.4h0.6M54.9 208.5h0.6M47.4 201.1h0.6M72.2 210.1h0.6M63.7 233.5h0.6M67.4 202.0h0.6M72.5 229.4h0.6M74.7 225.7h0.6M67.4 229.8h0.6M51.8 222.1h0.6M55.8 231.1h0.6M48.1 216.4h0.6M54.4 230.2h0.6M54.7 231.3h0.6M70.3 233.1h0.6M48.3 236.0h0.6M67.1 223.2h0.6M64.2 192.4h0.6M71.0 216.8h0.6M58.1 206.6h0.6M68.3 228.3h0.6M71.0 200.5h0.6M54.6 202.2h0.6M47.1 206.0h0.6M44.8 229.0h0.6M51.0 193.5h0.6M46.1 226.3h0.6M50.2 212.6h0.6M56.5 229.3h0.6M73.6 205.2h0.6M63.6 233.8h0.6M58.6 234.1h0.6M66.7 205.3h0.6M71.1 218.1h0.6M47.3 218.8h0.6M69.7 215.4h0.6M59.0 210.4h0.6M71.3 222.6h0.6M50.4 207.8h0.6M55.3 237.0h0.6M65.6 196.1h0.6M72.3 191.7h0.6M62.3 211.2h0.6M66.2 211.0h0.6M46.9 215.7h0.6M69.4 228.7h0.6M55.1 200.9h0.6M67.1 229.3h0.6M50.8 233.3h0.6M74.8 211.2h0.6M55.8 224.8h0.6M72.8 199.9h0.6M53.4 206.1h0.6M66.7 199.2h0.6M61.0 214.5h0.6M64.7 197.0h0.6M73.7 239.0h0.6M61.4 229.0h0.6M49.7 234.6h0.6M61.1 227.2h0.6M70.9 207.7h0.6M72.6 200.2h0.6M44.7 214.6h0.6M71.9 234.1h0.6M73.6 215.0h0.6M72.9 217.4h0.6M48.5 220.9h0.6M68.9 210.8h0.6M62.7 202.7h0.6M52.6 210.6h0.6M59.9 212.9h0.6M46.9 190.3h0.6M54.5 225.1h0.6M67.2 201.6h0.6M51.9 215.3h0.6M49.4 219.5h0.6M72.0 199.9h0.6M62.2 225.3h0.6M67.2 224.9h0.6M66.0 203.4h0.6M70.0 235.3h0.6M45.6 236.3h0.6M57.7 194.2h0.6M46.2 229.0h0.6M65.0 197.0h0.6M58.3 221.3h0.6M74.9 206.5h0.6M67.8 202.0h0.6M50.2 197.9h0.6M56.7 220.3h0.6M53.4 197.9h0.6M50.8 194.2h0.6M50.0 205.5h0.6M59.6 199.0h0.6M58.9 211.6h0.6M74.2 213.8h0.6M73.3 213.1h0.6M50.1 219.0h0.6M48.5 198.3h0.6M46.3 224.4h0.6M74.0 209.8h0.6M55.0 210.8h0.6M54.9 223.8h0.6M56.1 197.5h0.6M70.8 218.1h0.6M44.2 231.6h0.6M66.6 207.4h0.6M63.5 235.1h0.6M56.5 211.2h0.6M53.2 217.2h0.6M64.5 226.0h0.6M73.4 197.1h0.6M55.3 231.7h0.6M68.5 218.9h0.6M65.0 206.7h0.6M73.3 216.9h0.6M56.5 198.9h0.6M47.6 234.0h0.6M68.8 191.3h0.6M54.0 213.5h0.6M59.4 207.8h0.6M71.7 207.1h0.6M60.5 235.5h0.6M63.8 213.4h0.6" stroke="#1f58e6" stroke-width="0.96" opacity="0.75" stroke-linecap="round"/>
<rect x="80" y="192" width="24" height="48" fill="#4a7ae8" opacity="0.6" filter="url(#b2)"/>
<path d="M89.1 234.0h0.6M83.8 206.4h0.6M91.6 235.4h0.6M87.7 230.6h0.6M98.4 212.9h0.6M91.1 234.4h0.6M93.5 214.5h0.6M91.5 219.3h0.6M92.7 226.6h0.6M93.2 214.6h0.6M92.3 226.8h0.6M89.5 191.8h0.6M99.2 216.2h0.6M94.3 219.1h0.6M97.7 215.2h0.6M95.7 211.3h0.6M102.2 237.7h0.6M92.2 203.1h0.6M93.7 221.4h0.6M94.9 224.5h0.6M101.3 225.0h0.6M90.0 217.0h0.6M94.0 229.5h0.6M85.1 208.7h0.6M97.6 219.5h0.6M98.4 220.0h0.6M88.4 228.8h0.6M101.4 221.3h0.6M93.7 229.9h0.6M95.2 232.6h0.6M91.8 217.1h0.6M83.1 218.0h0.6M98.3 225.2h0.6M94.0 204.3h0.6M80.2 230.7h0.6M87.6 214.5h0.6M100.5 198.0h0.6M88.9 219.1h0.6M94.7 234.3h0.6M91.8 220.7h0.6M95.4 198.7h0.6M91.4 221.9h0.6M93.8 208.2h0.6M88.2 206.1h0.6M91.2 207.8h0.6M106.5 213.3h0.6M99.5 213.6h0.6M89.6 234.4h0.6M94.8 198.2h0.6M90.0 210.7h0.6M92.2 211.1h0.6M89.3 216.7h0.6M96.4 209.4h0.6M104.0 238.1h0.6M92.1 214.1h0.6M92.5 203.8h0.6M98.7 211.8h0.6M79.5 236.4h0.6M100.9 234.6h0.6M95.9 228.8h0.6M83.0 230.1h0.6M90.4 216.9h0.6M82.4 222.9h0.6M91.0 235.3h0.6M104.6 205.8h0.6M98.3 221.8h0.6M82.2 210.9h0.6M92.4 206.6h0.6M96.0 211.3h0.6M98.5 217.1h0.6M99.3 237.8h0.6M97.6 238.7h0.6M108.9 235.8h0.6M82.5 216.1h0.6M97.8 236.6h0.6M88.8 229.4h0.6M92.6 218.7h0.6M89.5 222.8h0.6M99.5 198.2h0.6M98.6 225.4h0.6M82.6 226.3h0.6M91.3 209.3h0.6M95.5 218.3h0.6M94.8 228.2h0.6M86.6 222.0h0.6M81.6 226.0h0.6M79.9 197.7h0.6M93.1 202.4h0.6M80.5 216.3h0.6M89.4 224.2h0.6M101.3 208.9h0.6M87.9 200.9h0.6M92.8 237.5h0.6M98.8 189.9h0.6M95.1 218.2h0.6M88.9 205.7h0.6M89.0 226.8h0.6M96.4 234.0h0.6M87.3 222.5h0.6M86.9 235.1h0.6M92.6 203.4h0.6M95.3 221.1h0.6M78.4 203.9h0.6M86.3 233.7h0.6M91.4 225.1h0.6M92.9 228.9h0.6M78.5 208.9h0.6M89.8 209.8h0.6M100.1 215.8h0.6M80.5 214.5h0.6M89.3 210.4h0.6M88.0 214.8h0.6M96.4 220.0h0.6M94.2 221.1h0.6M99.6 223.1h0.6M94.0 238.0h0.6M87.6 203.4h0.6M108.7 202.6h0.6M87.9 202.1h0.6M93.9 222.0h0.6M77.8 238.4h0.6M89.0 238.7h0.6M98.2 222.8h0.6M98.6 211.3h0.6M92.4 220.0h0.6M93.1 230.4h0.6M93.4 216.4h0.6M96.3 217.4h0.6M97.3 210.5h0.6M84.3 234.2h0.6M102.3 232.8h0.6M94.9 221.2h0.6M91.9 210.9h0.6M95.4 232.7h0.6M84.2 192.5h0.6M111.1 220.3h0.6M85.8 207.7h0.6M86.6 217.8h0.6M95.7 215.7h0.6M94.2 228.4h0.6M96.7 237.1h0.6M93.1 214.2h0.6M84.2 221.7h0.6M86.3 216.6h0.6M91.0 221.3h0.6M97.9 227.2h0.6M92.1 228.2h0.6M86.1 224.0h0.6M95.3 208.8h0.6M78.4 221.4h0.6M89.0 216.6h0.6M94.3 224.5h0.6M90.7 227.3h0.6M88.3 210.2h0.6M89.4 237.7h0.6M96.1 217.9h0.6M94.9 231.9h0.6M90.3 207.7h0.6M92.9 225.7h0.6M89.9 215.4h0.6M90.5 218.6h0.6M86.6 221.5h0.6M99.9 235.8h0.6M90.5 205.6h0.6M83.9 230.4h0.6M102.9 238.4h0.6M96.3 222.2h0.6M88.8 227.5h0.6M99.8 233.2h0.6M97.4 221.5h0.6M93.0 236.0h0.6M89.6 208.2h0.6M93.3 226.4h0.6M94.4 218.9h0.6M85.1 221.8h0.6M81.1 222.7h0.6M94.7 207.4h0.6M96.4 234.5h0.6M98.4 237.3h0.6M89.4 204.6h0.6M93.8 221.4h0.6M89.7 197.4h0.6M96.0 230.0h0.6M99.5 228.1h0.6M91.1 209.2h0.6M90.1 209.4h0.6M90.9 211.0h0.6M98.4 219.9h0.6M94.6 222.1h0.6M90.2 194.3h0.6M89.7 215.8h0.6M98.6 206.0h0.6M96.4 231.1h0.6M91.8 220.9h0.6M97.4 225.4h0.6M106.2 188.8h0.6M94.7 194.7h0.6M78.5 202.5h0.6M83.0 195.2h0.6M88.4 218.3h0.6M85.2 220.1h0.6M89.0 233.6h0.6M84.0 220.8h0.6M92.8 233.1h0.6M84.9 221.7h0.6M84.3 232.1h0.6M94.9 237.8h0.6M89.0 198.6h0.6M87.5 220.8h0.6M98.4 214.5h0.6M88.5 230.2h0.6M84.3 234.7h0.6M94.9 207.4h0.6M91.5 212.4h0.6M86.6 225.9h0.6M90.0 234.4h0.6M92.3 199.2h0.6M93.2 231.9h0.6M93.9 202.1h0.6M88.2 204.2h0.6M90.3 211.5h0.6M97.3 226.9h0.6M107.0 229.2h0.6M83.2 218.8h0.6M102.6 216.7h0.6M92.7 234.6h0.6M100.3 237.7h0.6M91.4 205.9h0.6M88.8 230.1h0.6M82.6 223.8h0.6M101.2 205.4h0.6M96.3 210.9h0.6M87.4 227.8h0.6M95.8 220.6h0.6M94.7 231.5h0.6M102.4 209.1h0.6M96.9 212.6h0.6M89.9 227.0h0.6M97.3 213.4h0.6M85.5 233.3h0.6M92.0 224.8h0.6M87.5 230.7h0.6M97.8 222.9h0.6M92.4 209.4h0.6M88.4 204.3h0.6M92.5 224.6h0.6M88.2 204.9h0.6M90.9 231.0h0.6M100.1 197.8h0.6M87.3 216.4h0.6M97.2 224.8h0.6M87.0 207.0h0.6M88.9 221.5h0.6M93.2 233.8h0.6M87.1 228.7h0.6M94.4 218.0h0.6M96.4 221.1h0.6M94.8 213.8h0.6M87.0 214.9h0.6M102.4 227.9h0.6M93.8 211.7h0.6M93.1 206.2h0.6M94.0 221.6h0.6M88.8 228.9h0.6M84.6 204.8h0.6M96.1 207.2h0.6M83.8 238.3h0.6M95.7 228.6h0.6M92.1 206.9h0.6M94.6 221.7h0.6M88.0 224.3h0.6M94.7 222.1h0.6M96.8 229.3h0.6M85.5 228.9h0.6M75.1 218.0h0.6M95.5 236.6h0.6M86.2 222.5h0.6M94.6 214.6h0.6M96.1 212.8h0.6M87.8 238.6h0.6M87.5 217.6h0.6M90.0 227.0h0.6M87.9 207.6h0.6M89.5 233.0h0.6M95.1 211.5h0.6M88.1 232.9h0.6M88.7 208.9h0.6M88.4 227.7h0.6M93.6 207.0h0.6M94.9 210.2h0.6M91.9 218.6h0.6M88.3 202.9h0.6M85.2 222.3h0.6M93.2 230.2h0.6M86.4 205.0h0.6M97.4 236.6h0.6M95.4 236.7h0.6M89.0 238.3h0.6M96.6 234.0h0.6M89.6 217.0h0.6M84.0 216.5h0.6M93.5 204.1h0.6M93.1 236.9h0.6M95.7 206.1h0.6M92.1 208.7h0.6M77.0 233.8h0.6M95.8 203.7h0.6M98.5 233.9h0.6M105.7 228.8h0.6M101.5 218.1h0.6M90.9 221.7h0.6M97.0 212.4h0.6M96.4 203.3h0.6M80.3 216.3h0.6M91.3 224.7h0.6M90.9 226.4h0.6M99.5 230.6h0.6M94.6 227.7h0.6M90.7 232.9h0.6M103.4 207.4h0.6M104.4 191.1h0.6M82.1 231.2h0.6M95.6 200.9h0.6M92.4 228.1h0.6M98.8 214.0h0.6M82.9 203.9h0.6M81.7 227.5h0.6M88.2 224.5h0.6M96.7 218.9h0.6M91.6 195.6h0.6M88.6 228.1h0.6M87.2 234.3h0.6M90.6 222.0h0.6M92.2 198.9h0.6M96.0 212.8h0.6M93.4 234.5h0.6M91.0 201.6h0.6M85.9 231.5h0.6M85.0 224.9h0.6M92.9 213.0h0.6M91.0 209.1h0.6M93.0 216.2h0.6M86.2 223.5h0.6M88.3 217.3h0.6M91.7 222.3h0.6M93.4 211.8h0.6M95.7 206.5h0.6M85.2 210.3h0.6M94.0 201.5h0.6M94.6 208.2h0.6M85.1 191.3h0.6M93.0 228.0h0.6M85.9 230.8h0.6M94.5 230.0h0.6M96.0 211.7h0.6M94.3 229.2h0.6M88.6 217.7h0.6M84.6 224.7h0.6M85.4 228.1h0.6M92.6 219.8h0.6M95.6 218.0h0.6M102.0 227.7h0.6M85.3 214.6h0.6M88.5 211.2h0.6M89.8 222.6h0.6M86.3 205.2h0.6M96.3 236.5h0.6M91.7 215.6h0.6M98.4 198.0h0.6M96.3 225.3h0.6M96.0 227.4h0.6M98.0 230.4h0.6M92.0 233.8h0.6M86.4 225.2h0.6M94.3 200.2h0.6M95.2 228.5h0.6M97.4 222.6h0.6M99.2 235.6h0.6M92.4 225.7h0.6M92.3 207.6h0.6M97.4 216.1h0.6M91.1 227.0h0.6M98.8 216.6h0.6M86.0 227.5h0.6M93.3 195.8h0.6M88.3 223.3h0.6M81.5 238.4h0.6M84.6 233.3h0.6M85.8 216.3h0.6M88.0 217.2h0.6M80.8 212.1h0.6M97.0 228.5h0.6M104.1 195.6h0.6M100.4 223.6h0.6M84.2 202.1h0.6M88.9 223.4h0.6M91.4 212.6h0.6M86.5 206.0h0.6M91.3 219.5h0.6M87.0 226.5h0.6M87.5 214.7h0.6M98.2 237.0h0.6M89.4 238.5h0.6M93.1 215.5h0.6M91.7 216.8h0.6M93.2 220.8h0.6M91.1 208.8h0.6M94.6 234.7h0.6M85.8 221.9h0.6M97.2 233.8h0.6M87.2 232.0h0.6M95.0 209.8h0.6M92.2 210.7h0.6M93.4 224.6h0.6M80.4 231.0h0.6M93.9 236.4h0.6M92.4 210.8h0.6M96.2 235.9h0.6M79.4 236.9h0.6M95.5 215.8h0.6M86.2 216.6h0.6M98.4 225.2h0.6M96.4 216.0h0.6M83.9 210.6h0.6M104.6 234.3h0.6M95.9 229.5h0.6M91.7 219.3h0.6M89.8 227.1h0.6M90.9 222.4h0.6M94.5 230.1h0.6M94.3 225.0h0.6M94.5 237.9h0.6M88.0 227.3h0.6M101.5 228.7h0.6M85.2 232.3h0.6M93.8 217.1h0.6M100.5 230.4h0.6M83.8 210.3h0.6M90.8 238.2h0.6M94.5 235.8h0.6M90.5 232.7h0.6M90.4 217.4h0.6M94.2 206.5h0.6M92.4 228.9h0.6M84.9 221.1h0.6M90.9 208.7h0.6M81.2 237.5h0.6M106.2 195.4h0.6M96.3 218.2h0.6M95.2 204.3h0.6M85.4 201.6h0.6M89.7 220.0h0.6M94.4 215.4h0.6M94.3 236.6h0.6M91.4 215.9h0.6M90.5 216.4h0.6M83.4 225.1h0.6M91.3 218.2h0.6M87.1 231.3h0.6M85.5 237.3h0.6M91.5 201.7h0.6M85.6 232.5h0.6M88.1 221.1h0.6M106.8 210.7h0.6M80.8 227.7h0.6M88.9 189.7h0.6M98.2 197.1h0.6M86.9 223.9h0.6M98.4 199.4h0.6M90.2 214.5h0.6M96.3 237.0h0.6M93.3 234.3h0.6M94.8 226.9h0.6M91.1 212.3h0.6M95.1 211.8h0.6M95.0 212.3h0.6M91.3 235.9h0.6M98.4 223.1h0.6M91.3 223.5h0.6M95.8 211.6h0.6M107.2 222.1h0.6M92.6 232.6h0.6M94.7 223.0h0.6M90.0 204.1h0.6M87.5 221.7h0.6M94.3 217.3h0.6M92.7 219.6h0.6M89.3 197.3h0.6M89.5 205.3h0.6M93.3 214.5h0.6M87.4 219.3h0.6M88.8 227.4h0.6M90.0 204.4h0.6M93.5 202.6h0.6M81.0 203.5h0.6M95.0 205.3h0.6M90.1 226.7h0.6M99.9 213.6h0.6M84.6 193.9h0.6M93.1 207.0h0.6M82.2 227.6h0.6M90.8 228.2h0.6M84.0 204.6h0.6M94.4 217.4h0.6M96.6 234.3h0.6M98.5 221.7h0.6M94.3 202.9h0.6M93.1 227.0h0.6M90.9 222.8h0.6M85.9 223.7h0.6M97.9 217.9h0.6M98.1 202.3h0.6M88.2 216.7h0.6M89.6 237.3h0.6M85.2 234.4h0.6M86.7 221.6h0.6M76.2 192.7h0.6M93.6 234.1h0.6" stroke="#1f58e6" stroke-width="0.96" opacity="0.75" stroke-linecap="round"/>
<rect x="76" y="195" width="8" height="45" fill="#a8c0f4" opacity="0.5" filter="url(#b2)"/>
<path d="M43 180.5L75 180L75 192.5L43 193Z" fill="#1c58ea" opacity="1" filter="url(#b1)"/>
<ellipse cx="58" cy="186.2" rx="16" ry="5.2" fill="#22c0f0" opacity="0.95" filter="url(#b15)" transform="rotate(0 58 186.2)"/>
<ellipse cx="58" cy="186.2" rx="10" ry="3.3" fill="#60e040" opacity="0.95" filter="url(#b15)" transform="rotate(0 58 186.2)"/>
<ellipse cx="58" cy="186.2" rx="5" ry="1.8" fill="#b0e830" opacity="0.9" filter="url(#b1)" transform="rotate(0 58 186.2)"/>
<path d="M76 183L105.5 178.5L106 181L100 195L92 199L76 199Z" fill="#1c58ea" opacity="1" filter="url(#b1)"/>
<ellipse cx="94.5" cy="188" rx="11" ry="7" fill="#22c8e8" opacity="0.95" filter="url(#b2)" transform="rotate(-15 94.5 188)"/>
<ellipse cx="94.5" cy="187.8" rx="7.5" ry="4.8" fill="#50e060" opacity="1" filter="url(#b15)" transform="rotate(-15 94.5 187.8)"/>
<ellipse cx="94.8" cy="187.6" rx="4.5" ry="2.8" fill="#f0f020" opacity="1" filter="url(#b1)" transform="rotate(0 94.8 187.6)"/>
<ellipse cx="94.8" cy="187.5" rx="2.6" ry="1.6" fill="#e82010" opacity="1" filter="url(#b1)" transform="rotate(0 94.8 187.5)"/>
</g>
<line x1="74.6" y1="160" x2="74.6" y2="239" stroke="#000" stroke-width="2.2"/>
<line x1="43" y1="212.7" x2="132.5" y2="212.7" stroke="#000" stroke-width="2.2"/>
<rect x="43" y="160" width="89.5" height="79" fill="none" stroke="#000" stroke-width="2.2"/>
<text x="37.6" y="242.0" font-size="5.4" text-anchor="middle" transform="rotate(-25 37.6 240.2)">10<tspan baseline-shift="2" font-size="3.6">0</tspan></text>
<text x="37.6" y="222.25" font-size="5.4" text-anchor="middle" transform="rotate(-25 37.6 220.45)">10<tspan baseline-shift="2" font-size="3.6">1</tspan></text>
<text x="37.6" y="202.5" font-size="5.4" text-anchor="middle" transform="rotate(-25 37.6 200.7)">10<tspan baseline-shift="2" font-size="3.6">2</tspan></text>
<text x="37.6" y="182.75" font-size="5.4" text-anchor="middle" transform="rotate(-25 37.6 180.95)">10<tspan baseline-shift="2" font-size="3.6">3</tspan></text>
<text x="37.6" y="163.0" font-size="5.4" text-anchor="middle" transform="rotate(-25 37.6 161.2)">10<tspan baseline-shift="2" font-size="3.6">4</tspan></text>
<text x="43.8" y="248.0" font-size="5.4" text-anchor="middle" transform="rotate(-30 43.8 246.2)">10<tspan baseline-shift="2" font-size="3.6">0</tspan></text>
<text x="66.175" y="248.0" font-size="5.4" text-anchor="middle" transform="rotate(-30 66.175 246.2)">10<tspan baseline-shift="2" font-size="3.6">1</tspan></text>
<text x="88.55" y="248.0" font-size="5.4" text-anchor="middle" transform="rotate(-30 88.55 246.2)">10<tspan baseline-shift="2" font-size="3.6">2</tspan></text>
<text x="110.925" y="248.0" font-size="5.4" text-anchor="middle" transform="rotate(-30 110.925 246.2)">10<tspan baseline-shift="2" font-size="3.6">3</tspan></text>
<text x="133.3" y="248.0" font-size="5.4" text-anchor="middle" transform="rotate(-30 133.3 246.2)">10<tspan baseline-shift="2" font-size="3.6">4</tspan></text>
<text x="47" y="176.2" font-size="12.4" text-anchor="start">21.5</text>
<text x="131.5" y="176.2" font-size="12.4" text-anchor="end">64.6</text>
<text x="45.8" y="237.5" font-size="12.4" text-anchor="start">9.3</text>
<text x="131" y="237.5" font-size="12.4" text-anchor="end">4.6</text>
<text x="48.5" y="158.6" font-size="12.5" text-anchor="start" textLength="113" lengthAdjust="spacingAndGlyphs">Miz-1<tspan dy="-4" font-size="8">ΔPOZ</tspan><tspan dy="4"> x Bcl-2Tg</tspan></text>
<clipPath id="c6"><rect x="167" y="160" width="89.5" height="78.5"/></clipPath><g clip-path="url(#c6)">
<ellipse cx="185" cy="220" rx="16" ry="14" fill="#c8d0f0" opacity="0.6" filter="url(#b4)" transform="rotate(0 185 220)"/>
<path d="M187.3 220.4h0.55M193.8 224.3h0.55M191.6 204.1h0.55M204.3 215.2h0.55M168.4 211.9h0.55M193.8 220.9h0.55M180.8 236.7h0.55M195.8 226.0h0.55M172.1 229.8h0.55M177.4 223.1h0.55M179.5 198.6h0.55M177.1 216.6h0.55M202.2 218.3h0.55M205.6 227.0h0.55M177.1 211.7h0.55M201.7 209.2h0.55M189.2 214.5h0.55M171.6 214.6h0.55M174.0 212.8h0.55M195.1 222.4h0.55M198.4 216.7h0.55M183.9 219.3h0.55M201.7 227.8h0.55M199.0 223.3h0.55M184.8 211.6h0.55M175.7 225.8h0.55M177.9 205.9h0.55M173.6 213.4h0.55M187.4 190.9h0.55M182.3 234.5h0.55M173.7 227.3h0.55M184.5 213.0h0.55M184.1 219.1h0.55M180.2 233.9h0.55M188.6 217.2h0.55M188.5 209.8h0.55M191.9 224.2h0.55M185.6 225.3h0.55M175.8 237.6h0.55M176.6 217.0h0.55M186.5 206.5h0.55M195.8 237.4h0.55M185.6 212.4h0.55M202.3 211.9h0.55M182.1 220.5h0.55M197.1 203.4h0.55M198.7 231.8h0.55M184.5 203.2h0.55M199.2 189.8h0.55M191.2 215.0h0.55M174.6 203.3h0.55M191.0 207.4h0.55M180.5 229.0h0.55M175.8 218.3h0.55M198.0 200.6h0.55M179.2 214.6h0.55M185.6 199.9h0.55M180.1 225.1h0.55M185.1 224.8h0.55M184.5 224.0h0.55M182.1 214.7h0.55M179.5 215.6h0.55M182.4 237.7h0.55M190.6 211.2h0.55M179.1 220.9h0.55M177.2 227.5h0.55M186.6 201.6h0.55M185.2 205.6h0.55M180.0 214.1h0.55M174.5 226.6h0.55M184.4 230.4h0.55M173.1 209.5h0.55M194.2 215.1h0.55M181.6 229.3h0.55M193.3 228.6h0.55M182.8 213.0h0.55M170.3 221.4h0.55M195.5 198.6h0.55M177.6 224.3h0.55M169.1 205.1h0.55M197.6 211.8h0.55M176.9 233.5h0.55M178.9 232.7h0.55M204.8 204.7h0.55M205.0 223.6h0.55M186.9 209.5h0.55M185.9 212.7h0.55M182.2 206.5h0.55M175.3 224.2h0.55M188.0 201.5h0.55M210.1 237.6h0.55M184.1 231.5h0.55M168.5 228.0h0.55M204.3 201.6h0.55M174.3 211.5h0.55M185.5 222.8h0.55M172.4 225.8h0.55M175.6 223.6h0.55M196.9 214.0h0.55M169.8 216.6h0.55M182.0 230.4h0.55M169.0 220.5h0.55M197.3 218.0h0.55M183.1 223.8h0.55M188.0 229.3h0.55M187.1 195.3h0.55M168.1 225.3h0.55M178.5 219.3h0.55M198.3 227.2h0.55M177.6 209.1h0.55M201.4 209.2h0.55M180.6 224.2h0.55M182.6 223.5h0.55M178.8 220.3h0.55M180.6 203.2h0.55M179.6 232.8h0.55M182.8 227.7h0.55M169.5 237.8h0.55M167.6 210.1h0.55M170.0 229.6h0.55M175.0 206.9h0.55M178.5 215.8h0.55M177.6 227.5h0.55M183.1 218.4h0.55M185.9 201.3h0.55M179.2 228.3h0.55M179.1 210.3h0.55M180.1 209.0h0.55M183.0 204.4h0.55M196.0 188.0h0.55M206.5 221.5h0.55M196.8 222.8h0.55M178.7 227.5h0.55M185.2 205.2h0.55M182.5 206.1h0.55M202.1 224.7h0.55M184.7 233.3h0.55M191.3 220.0h0.55M171.7 202.4h0.55M173.5 210.2h0.55M180.1 202.3h0.55M186.1 234.3h0.55M185.3 229.8h0.55M179.0 224.5h0.55M170.7 235.8h0.55M175.5 216.5h0.55M181.3 214.1h0.55M182.1 213.2h0.55M189.5 225.2h0.55M172.5 219.1h0.55M203.1 201.1h0.55M176.8 205.5h0.55M183.9 219.5h0.55M176.9 229.3h0.55M186.1 232.1h0.55M184.1 218.4h0.55M187.3 211.1h0.55M207.6 222.2h0.55M180.8 228.2h0.55M190.5 227.7h0.55M187.5 225.2h0.55M182.0 235.8h0.55M172.3 223.4h0.55M180.2 209.1h0.55M200.5 209.5h0.55M169.4 214.8h0.55M178.9 225.7h0.55M194.4 209.2h0.55M204.3 235.9h0.55M184.4 218.0h0.55M179.3 211.6h0.55M173.7 231.4h0.55M178.0 213.2h0.55M173.2 211.0h0.55M189.7 219.2h0.55M181.2 216.6h0.55M181.1 225.9h0.55M190.7 231.8h0.55M195.8 229.5h0.55M186.0 215.2h0.55M175.7 230.3h0.55M192.6 217.1h0.55M206.7 214.7h0.55M186.6 234.3h0.55M187.6 217.8h0.55M194.0 203.2h0.55M181.9 203.7h0.55M206.5 237.8h0.55M198.8 232.6h0.55M180.2 209.7h0.55M177.1 208.7h0.55M182.0 216.4h0.55M192.8 215.2h0.55M186.4 207.2h0.55M185.9 210.6h0.55M179.4 219.2h0.55M177.1 220.3h0.55M193.4 206.0h0.55M210.4 210.1h0.55M198.3 229.3h0.55M179.7 203.8h0.55M209.1 222.7h0.55M167.1 226.1h0.55M185.8 211.2h0.55M208.7 225.0h0.55M181.6 223.4h0.55M181.5 211.8h0.55M173.9 206.3h0.55M190.4 229.1h0.55M182.9 219.7h0.55M178.4 222.0h0.55M187.6 219.9h0.55M204.1 213.4h0.55M181.6 216.5h0.55M177.3 206.8h0.55M175.3 220.4h0.55M198.6 238.0h0.55M173.7 224.6h0.55M182.9 233.3h0.55M172.6 207.5h0.55M193.1 210.8h0.55M182.5 222.1h0.55M177.1 229.2h0.55M190.9 228.8h0.55M208.4 225.8h0.55M175.7 201.6h0.55M182.5 209.8h0.55M180.9 211.9h0.55M183.2 212.8h0.55M193.1 188.8h0.55M188.1 225.6h0.55M197.1 232.0h0.55M181.5 202.7h0.55M184.7 205.8h0.55M171.5 205.9h0.55M170.1 212.6h0.55M182.7 204.4h0.55M190.7 229.2h0.55M170.8 226.1h0.55M171.5 215.7h0.55M172.2 228.0h0.55M183.9 221.2h0.55M179.9 208.2h0.55M176.0 226.6h0.55M206.3 222.4h0.55M191.1 216.3h0.55M171.6 222.3h0.55M205.7 229.1h0.55M186.6 212.4h0.55M185.9 207.1h0.55M175.3 225.7h0.55M189.2 197.1h0.55M185.7 215.4h0.55M179.1 207.0h0.55M184.6 223.4h0.55M181.5 215.5h0.55M188.4 203.4h0.55M197.1 213.2h0.55M195.0 229.4h0.55M174.0 224.3h0.55M199.5 211.6h0.55M188.2 226.0h0.55M173.4 233.1h0.55M176.2 231.5h0.55M184.9 213.0h0.55M180.0 209.4h0.55M209.8 209.9h0.55M174.3 234.5h0.55M191.5 227.9h0.55M169.8 208.0h0.55M180.3 222.6h0.55M192.9 230.8h0.55M186.9 229.0h0.55M172.8 219.1h0.55M173.7 215.0h0.55M183.4 213.2h0.55M181.0 232.9h0.55M188.0 216.1h0.55M184.3 226.0h0.55M184.4 230.5h0.55M170.8 227.7h0.55M192.4 212.8h0.55M190.0 215.7h0.55M196.5 218.0h0.55M177.1 209.3h0.55M181.1 226.4h0.55M190.5 212.5h0.55M177.8 207.4h0.55M173.9 218.6h0.55M186.8 229.7h0.55M175.7 206.3h0.55M200.9 220.3h0.55M177.9 221.9h0.55M181.5 228.3h0.55M188.7 206.4h0.55M177.8 228.0h0.55M179.5 229.4h0.55M169.9 237.5h0.55M186.5 202.0h0.55M195.1 208.4h0.55M184.7 222.4h0.55M186.8 228.0h0.55M171.1 213.5h0.55M182.2 209.0h0.55M214.6 229.7h0.55M194.9 231.7h0.55M180.4 225.3h0.55M199.1 217.7h0.55M177.9 211.1h0.55M181.3 225.1h0.55M185.6 219.7h0.55M173.5 212.8h0.55M187.0 231.8h0.55" stroke="#7a90d8" stroke-width="0.88" opacity="0.5" stroke-linecap="round"/>
<path d="M212.3 188.4h0.55M213.0 196.1h0.55M188.1 185.0h0.55M215.7 199.2h0.55M208.5 192.0h0.55M201.1 196.0h0.55M177.4 190.9h0.55M194.5 179.5h0.55M194.8 190.3h0.55M201.7 189.2h0.55M195.9 192.5h0.55M174.8 184.8h0.55M210.4 193.0h0.55M216.3 183.8h0.55M221.3 194.8h0.55M205.0 185.1h0.55M214.8 196.1h0.55M195.9 192.4h0.55M209.3 194.4h0.55M212.4 193.5h0.55M178.4 188.0h0.55M173.4 195.1h0.55M213.7 192.3h0.55M232.9 185.9h0.55M226.9 185.9h0.55M169.1 188.0h0.55M191.9 188.9h0.55M199.7 192.3h0.55M211.2 186.9h0.55M181.3 193.4h0.55M222.7 194.6h0.55M209.1 181.4h0.55M211.5 187.0h0.55M218.6 196.7h0.55M193.9 185.5h0.55M194.2 192.4h0.55M209.8 185.2h0.55M206.2 185.8h0.55M190.7 195.4h0.55M199.0 179.7h0.55M183.3 196.1h0.55M170.6 195.7h0.55M201.5 183.6h0.55M190.6 193.0h0.55M224.3 184.1h0.55M197.4 192.0h0.55M215.7 202.1h0.55M231.8 192.2h0.55M177.5 188.9h0.55M182.1 188.7h0.55M192.7 189.2h0.55M207.3 188.9h0.55M217.3 195.7h0.55M179.3 183.0h0.55M185.3 179.2h0.55M202.5 190.2h0.55M202.6 198.7h0.55M212.7 195.0h0.55M201.3 187.1h0.55M199.7 185.0h0.55M185.6 190.5h0.55M230.5 187.9h0.55M193.5 186.1h0.55M197.6 184.3h0.55M205.1 185.5h0.55M220.1 184.9h0.55M178.0 192.0h0.55M207.5 184.2h0.55M202.1 189.9h0.55M222.8 185.2h0.55M209.7 193.7h0.55M192.5 180.9h0.55M196.7 188.8h0.55M205.1 191.4h0.55M185.6 188.1h0.55M198.6 195.4h0.55M234.7 195.2h0.55M212.1 184.6h0.55M185.5 191.5h0.55M186.7 187.2h0.55M244.5 188.1h0.55M195.1 180.7h0.55M208.2 191.2h0.55M194.7 192.1h0.55M223.0 179.1h0.55M202.3 193.5h0.55M214.2 190.6h0.55M220.7 192.1h0.55M191.6 197.1h0.55M177.5 187.5h0.55M191.0 197.8h0.55M189.4 182.7h0.55M180.2 191.0h0.55M198.8 191.4h0.55M175.7 191.5h0.55M213.9 199.1h0.55M225.6 183.2h0.55M208.4 184.7h0.55M206.4 193.6h0.55M196.0 175.6h0.55M201.5 190.4h0.55M189.9 193.7h0.55M192.8 188.6h0.55M209.1 186.2h0.55M213.5 187.6h0.55M196.2 192.9h0.55M223.5 188.6h0.55M203.0 188.4h0.55M171.8 187.8h0.55M242.1 188.8h0.55M213.8 192.9h0.55M222.3 190.0h0.55M213.3 189.0h0.55M243.0 191.9h0.55M198.0 196.4h0.55M184.9 195.0h0.55M239.9 185.1h0.55M209.9 187.3h0.55M201.5 189.1h0.55M199.5 194.8h0.55M188.5 188.2h0.55M193.2 183.0h0.55M233.5 196.3h0.55M225.0 193.4h0.55M194.2 192.3h0.55M255.4 198.2h0.55M206.1 184.7h0.55M213.2 177.3h0.55M219.9 187.2h0.55M196.6 196.0h0.55M228.9 189.1h0.55M183.3 181.6h0.55M180.6 193.5h0.55M207.0 187.3h0.55M202.5 189.1h0.55M177.1 188.5h0.55M224.7 199.0h0.55M189.3 191.2h0.55M179.5 193.5h0.55M198.8 190.2h0.55M223.8 194.3h0.55M209.3 192.8h0.55M212.7 180.7h0.55M208.2 187.9h0.55M230.1 190.3h0.55M186.1 187.2h0.55M219.0 190.6h0.55M201.9 196.6h0.55M212.2 189.6h0.55M224.7 193.5h0.55M210.0 192.2h0.55M192.9 193.9h0.55M189.4 190.5h0.55M177.2 194.5h0.55" stroke="#9aaee0" stroke-width="0.88" opacity="0.45" stroke-linecap="round"/>
<path d="M220.8 237.9h0.55M229.7 226.2h0.55M221.1 214.1h0.55M231.7 219.7h0.55M227.7 207.1h0.55M224.8 225.8h0.55M216.4 211.1h0.55M218.0 223.9h0.55M223.1 209.4h0.55M222.9 225.0h0.55M216.9 224.9h0.55M251.2 202.4h0.55M220.5 218.9h0.55M230.2 235.9h0.55M227.5 214.5h0.55M215.5 186.8h0.55M211.5 236.9h0.55M215.9 227.6h0.55M232.1 217.0h0.55M235.1 225.4h0.55M213.3 224.4h0.55M213.9 205.1h0.55M227.8 221.5h0.55M230.2 223.2h0.55M226.1 223.0h0.55M215.4 219.7h0.55M208.5 235.1h0.55M220.2 232.8h0.55M221.2 220.0h0.55M228.2 221.1h0.55M228.0 230.8h0.55M235.8 214.0h0.55M235.4 223.9h0.55M215.4 210.4h0.55M240.1 233.0h0.55M219.5 229.7h0.55M219.5 227.1h0.55M248.1 220.7h0.55M240.8 214.0h0.55M226.5 216.7h0.55M244.6 226.1h0.55M222.1 209.5h0.55M225.3 229.3h0.55M237.7 216.1h0.55M236.1 223.1h0.55M226.0 225.0h0.55M247.3 219.0h0.55M228.3 221.2h0.55M224.2 224.4h0.55M225.5 204.0h0.55M231.9 204.8h0.55M229.1 223.1h0.55M242.4 232.6h0.55M233.2 211.4h0.55M233.8 228.1h0.55M253.7 222.3h0.55M214.7 230.7h0.55M231.8 209.5h0.55M243.5 220.6h0.55M248.8 210.6h0.55M241.0 230.2h0.55M229.2 230.8h0.55M236.9 226.0h0.55M214.0 222.4h0.55M212.8 219.8h0.55M223.2 230.8h0.55M227.5 206.4h0.55M233.9 216.4h0.55M236.5 208.7h0.55M219.7 217.5h0.55M224.7 220.4h0.55M234.4 226.9h0.55M230.0 224.2h0.55M225.0 206.1h0.55M223.4 217.5h0.55M225.1 203.6h0.55M223.3 217.1h0.55M219.7 218.0h0.55M227.4 227.6h0.55M236.4 211.4h0.55M233.0 219.5h0.55M227.0 233.9h0.55M235.1 225.1h0.55M218.0 219.1h0.55M238.0 214.9h0.55M220.2 211.9h0.55M229.9 212.7h0.55M253.3 222.1h0.55M229.2 217.0h0.55M232.9 226.6h0.55M225.4 217.6h0.55M238.4 223.5h0.55M235.0 222.3h0.55M223.5 226.6h0.55M235.0 222.1h0.55M228.3 230.8h0.55M220.7 226.8h0.55M227.2 223.8h0.55M235.7 208.0h0.55M227.3 222.0h0.55M222.1 223.8h0.55M236.1 202.9h0.55M235.6 230.2h0.55M223.8 220.1h0.55M222.7 234.6h0.55M222.1 209.5h0.55M221.6 215.3h0.55M229.5 222.8h0.55M237.4 204.9h0.55M231.0 219.8h0.55M228.7 215.9h0.55M224.6 227.5h0.55M238.6 207.8h0.55M232.4 213.5h0.55M234.4 219.0h0.55M216.0 215.3h0.55M228.9 231.8h0.55M241.0 232.5h0.55M230.0 227.0h0.55M225.8 236.1h0.55M220.9 212.7h0.55M237.1 208.7h0.55M230.8 234.0h0.55M231.2 228.5h0.55M230.2 225.2h0.55M225.9 218.4h0.55M230.3 235.1h0.55M225.9 221.6h0.55M237.7 229.2h0.55M225.0 219.6h0.55M229.0 214.7h0.55M218.6 215.5h0.55M220.5 228.4h0.55M211.3 217.2h0.55M243.4 220.7h0.55M214.1 218.2h0.55M213.3 202.7h0.55M242.9 218.9h0.55M230.4 234.7h0.55M221.9 224.7h0.55M229.2 215.1h0.55M225.4 210.8h0.55M215.4 228.9h0.55M223.7 192.1h0.55M244.1 221.9h0.55M226.8 236.8h0.55M206.6 222.7h0.55M220.0 225.1h0.55M238.0 223.8h0.55M220.4 220.3h0.55M236.2 229.1h0.55M233.0 224.6h0.55M220.2 225.2h0.55M216.9 222.0h0.55M224.3 225.5h0.55M239.4 223.5h0.55M235.2 220.5h0.55M223.3 229.0h0.55M227.5 210.4h0.55M228.3 221.0h0.55M232.1 227.0h0.55M221.8 229.4h0.55M217.1 226.9h0.55M240.6 218.7h0.55M214.0 211.5h0.55M226.8 224.3h0.55M238.7 218.7h0.55M225.1 220.2h0.55M227.7 212.3h0.55M223.4 215.6h0.55M235.5 217.3h0.55M229.2 229.8h0.55M202.8 224.3h0.55M232.6 226.6h0.55M229.0 218.2h0.55M214.5 231.0h0.55M224.3 204.7h0.55M242.0 236.1h0.55M217.7 236.4h0.55M209.3 225.7h0.55M221.1 223.1h0.55M234.2 231.5h0.55M233.1 223.8h0.55M236.3 212.7h0.55M231.4 217.7h0.55M218.0 223.4h0.55M233.5 226.9h0.55M240.7 214.4h0.55M215.7 221.2h0.55M242.3 203.0h0.55M225.6 220.2h0.55M231.7 217.7h0.55M228.3 227.4h0.55M216.1 221.0h0.55M218.2 224.8h0.55M237.1 234.3h0.55M220.5 220.0h0.55M238.7 201.5h0.55M251.0 208.4h0.55M236.1 226.2h0.55M221.4 224.4h0.55M227.2 200.3h0.55M234.9 231.1h0.55M246.5 217.7h0.55M224.0 223.4h0.55M217.5 225.3h0.55M229.3 215.7h0.55M240.3 223.0h0.55M240.4 231.4h0.55M209.8 232.5h0.55M228.4 225.1h0.55M231.1 224.1h0.55M219.3 234.6h0.55M238.6 224.6h0.55M224.0 220.9h0.55M219.4 216.8h0.55M226.4 217.3h0.55M230.3 224.0h0.55M226.9 236.2h0.55M251.2 216.8h0.55M231.1 218.1h0.55M232.0 205.6h0.55M198.7 227.6h0.55M224.3 219.1h0.55M229.0 227.1h0.55M218.3 213.1h0.55M228.8 220.9h0.55M252.1 223.7h0.55M227.5 229.8h0.55M230.9 218.4h0.55M233.1 201.5h0.55M216.6 216.8h0.55M240.3 222.5h0.55M216.3 210.7h0.55M223.6 221.5h0.55M230.2 236.3h0.55M231.8 224.3h0.55M219.9 219.3h0.55M239.6 219.0h0.55M228.8 234.9h0.55M233.3 214.4h0.55M217.2 227.2h0.55M240.8 220.9h0.55M233.0 234.0h0.55M223.6 232.2h0.55" stroke="#6a8edc" stroke-width="0.88" opacity="0.5" stroke-linecap="round"/>
<ellipse cx="230" cy="222" rx="10" ry="12" fill="#b8c8f0" opacity="0.5" filter="url(#b3)" transform="rotate(0 230 222)"/>
<path d="M242.7 211.4h0.6M237.8 213.5h0.6M234.0 200.0h0.6M234.7 217.7h0.6M241.9 223.7h0.6M235.6 213.0h0.6M244.7 235.8h0.6M237.4 214.0h0.6M254.6 196.3h0.6M243.0 219.0h0.6M242.1 211.9h0.6M248.6 198.6h0.6M239.6 226.0h0.6M241.5 207.0h0.6M236.0 231.1h0.6M239.6 198.4h0.6M246.3 219.5h0.6M242.9 217.3h0.6M238.0 200.9h0.6M249.8 206.4h0.6M248.9 206.8h0.6M238.2 212.8h0.6M229.3 220.8h0.6M242.6 214.1h0.6M240.6 220.9h0.6M237.9 203.1h0.6M229.4 218.5h0.6M243.2 208.5h0.6M252.1 217.9h0.6M235.8 203.2h0.6M241.4 214.0h0.6M232.1 221.4h0.6M241.6 211.7h0.6M252.2 233.9h0.6M239.5 211.8h0.6M239.3 185.5h0.6M248.7 200.0h0.6M243.9 208.8h0.6M232.3 219.4h0.6M241.2 220.1h0.6M249.2 198.8h0.6M245.2 214.2h0.6M229.1 202.6h0.6M233.9 196.1h0.6M249.2 224.5h0.6M245.2 224.6h0.6M247.0 225.7h0.6M251.4 219.4h0.6M235.1 191.6h0.6M243.3 208.9h0.6M248.1 202.1h0.6M249.4 208.1h0.6M251.2 223.9h0.6M230.5 207.2h0.6M237.7 214.5h0.6M238.1 196.6h0.6M238.3 216.6h0.6M234.7 223.9h0.6M243.5 221.6h0.6M234.3 215.9h0.6M247.4 218.2h0.6M247.7 212.2h0.6M243.7 203.0h0.6M248.9 221.7h0.6M250.1 197.5h0.6M251.9 220.0h0.6M238.0 203.7h0.6M239.3 200.4h0.6M246.8 232.3h0.6M246.6 222.1h0.6M247.6 200.5h0.6M233.6 212.6h0.6M237.1 214.6h0.6M241.8 213.1h0.6M242.0 217.0h0.6M256.1 213.2h0.6M241.0 207.7h0.6M246.0 205.6h0.6M245.9 196.2h0.6M235.2 200.9h0.6M241.8 238.5h0.6M233.3 208.2h0.6M245.5 205.6h0.6M238.2 220.6h0.6M253.8 226.3h0.6M240.3 200.1h0.6M231.1 206.5h0.6M248.1 219.2h0.6M240.1 199.2h0.6M238.4 214.2h0.6M244.5 233.1h0.6M256.0 194.1h0.6M241.8 229.4h0.6M247.5 221.5h0.6M249.3 220.9h0.6M252.8 208.1h0.6M239.8 221.9h0.6M244.8 212.2h0.6M249.6 192.8h0.6M256.4 227.4h0.6M239.4 203.7h0.6M235.7 222.1h0.6M231.1 209.6h0.6M247.2 206.9h0.6M253.4 215.2h0.6M237.8 198.8h0.6M245.1 216.3h0.6M247.6 206.6h0.6M227.1 220.0h0.6M245.9 231.4h0.6M250.1 220.3h0.6M242.8 206.4h0.6M244.0 179.9h0.6M247.9 193.6h0.6M252.0 207.3h0.6M232.3 206.9h0.6M245.9 196.8h0.6M241.2 206.9h0.6M240.2 223.8h0.6M249.6 196.4h0.6M245.0 215.7h0.6M241.9 218.6h0.6M248.4 210.2h0.6M234.0 230.5h0.6M234.7 210.2h0.6M236.8 219.3h0.6M247.7 211.2h0.6M236.2 211.6h0.6M245.1 219.7h0.6M232.3 213.0h0.6M241.1 215.9h0.6M246.0 211.2h0.6M244.4 211.4h0.6M241.0 208.1h0.6M242.6 227.6h0.6M243.2 200.1h0.6M237.7 220.5h0.6M238.2 212.6h0.6M246.7 211.5h0.6M248.1 226.1h0.6M237.3 230.7h0.6M251.7 218.8h0.6M234.0 236.4h0.6M241.0 227.2h0.6M240.0 228.6h0.6M241.3 233.0h0.6M235.0 224.8h0.6M241.3 227.9h0.6M234.1 206.7h0.6M239.3 202.7h0.6M245.5 217.3h0.6M245.3 220.6h0.6M246.6 231.5h0.6M235.9 237.9h0.6M243.5 223.7h0.6M244.4 220.6h0.6M239.7 198.4h0.6M242.9 237.7h0.6M240.1 201.7h0.6M236.2 202.1h0.6M240.5 216.1h0.6M233.4 237.6h0.6M237.0 227.2h0.6M251.8 225.8h0.6M246.8 204.5h0.6M238.0 225.2h0.6M242.9 222.9h0.6M249.3 228.3h0.6M228.0 212.1h0.6M254.9 207.8h0.6M253.8 205.5h0.6M246.1 215.1h0.6M255.1 210.0h0.6M236.8 202.0h0.6M237.2 219.3h0.6M247.6 227.0h0.6M242.5 220.5h0.6M248.4 201.6h0.6M246.6 206.4h0.6M238.7 209.1h0.6M245.0 206.2h0.6M238.4 200.8h0.6M241.9 218.7h0.6M235.7 215.3h0.6M244.7 206.0h0.6M245.0 224.2h0.6M244.4 205.1h0.6M242.0 211.5h0.6M251.2 224.1h0.6M240.1 214.1h0.6M229.0 219.2h0.6M237.1 224.5h0.6M236.8 221.4h0.6M255.0 221.2h0.6M238.1 208.2h0.6M242.2 222.2h0.6M253.5 203.9h0.6M237.1 226.2h0.6M239.2 211.2h0.6M252.6 218.4h0.6M247.0 228.3h0.6M244.3 214.3h0.6M247.5 230.2h0.6M229.0 188.0h0.6M239.1 200.7h0.6M231.2 215.8h0.6M254.0 220.4h0.6M238.9 215.4h0.6M241.0 216.9h0.6M239.3 209.6h0.6M241.9 206.3h0.6M239.9 197.2h0.6M239.5 183.0h0.6M240.4 232.9h0.6M232.8 230.6h0.6M247.6 194.3h0.6M239.2 208.1h0.6M256.2 195.3h0.6M248.2 210.3h0.6M247.0 196.4h0.6M248.8 194.2h0.6M237.2 217.7h0.6M245.5 195.8h0.6M231.2 207.5h0.6M244.0 214.4h0.6M240.4 215.3h0.6M244.4 209.3h0.6M246.2 207.7h0.6M249.7 230.2h0.6M240.3 202.0h0.6M236.7 204.6h0.6M249.8 209.1h0.6M236.5 210.4h0.6M235.2 224.5h0.6M250.0 226.9h0.6M252.1 204.5h0.6M237.6 210.8h0.6M245.2 217.3h0.6M231.0 207.5h0.6M245.5 207.8h0.6M242.9 190.4h0.6M231.2 217.2h0.6M245.1 224.8h0.6M233.4 212.1h0.6M238.2 217.5h0.6M247.0 204.4h0.6M239.3 218.5h0.6M233.7 216.2h0.6M237.3 228.6h0.6M242.1 214.1h0.6M247.8 211.5h0.6M228.5 204.7h0.6M243.6 218.6h0.6M244.0 221.2h0.6M247.3 201.4h0.6M247.6 216.7h0.6M239.3 213.4h0.6M238.9 217.2h0.6M240.6 210.3h0.6M234.4 211.7h0.6M249.4 222.7h0.6M239.4 234.0h0.6M233.2 195.0h0.6M240.0 208.8h0.6M246.7 232.6h0.6M243.8 209.7h0.6M238.8 219.3h0.6M231.1 219.4h0.6M233.8 206.1h0.6M243.5 203.6h0.6M238.7 205.4h0.6M235.7 216.6h0.6M241.2 207.2h0.6M244.9 207.5h0.6M238.5 237.3h0.6M248.7 212.8h0.6M244.6 212.9h0.6M246.9 211.6h0.6M252.9 218.8h0.6M248.3 232.4h0.6M246.1 214.3h0.6M241.4 218.3h0.6M237.6 216.2h0.6M242.5 198.9h0.6M254.3 208.6h0.6M249.1 203.7h0.6M239.4 212.7h0.6M241.2 222.3h0.6M245.8 230.9h0.6M238.4 233.8h0.6M232.9 203.2h0.6M252.9 227.2h0.6M234.5 213.1h0.6M243.7 234.0h0.6M235.0 225.6h0.6M240.2 210.4h0.6M239.9 234.6h0.6M251.4 215.8h0.6M233.9 208.2h0.6M239.7 227.0h0.6M233.1 217.1h0.6M249.4 220.9h0.6M242.5 231.3h0.6M242.8 222.8h0.6M234.9 234.2h0.6M242.6 203.8h0.6M242.3 213.4h0.6M250.7 206.5h0.6M248.5 224.2h0.6M234.1 214.6h0.6M241.3 210.5h0.6M248.2 189.5h0.6M239.8 233.3h0.6M250.9 193.3h0.6M253.3 224.6h0.6M243.1 237.4h0.6M240.4 200.6h0.6M251.8 200.4h0.6M234.2 204.6h0.6M240.1 202.5h0.6M235.9 214.1h0.6M244.0 223.9h0.6M249.5 193.2h0.6M240.0 195.2h0.6M235.2 212.9h0.6M242.6 212.6h0.6M228.1 225.9h0.6M244.9 228.0h0.6M247.1 218.7h0.6M243.7 211.0h0.6M246.2 191.8h0.6M246.1 206.6h0.6M248.3 208.8h0.6M229.0 223.8h0.6M234.3 208.6h0.6M243.5 214.8h0.6M242.7 220.1h0.6M245.0 205.2h0.6M251.7 208.8h0.6M246.4 233.1h0.6M240.0 228.5h0.6M253.1 225.3h0.6M244.8 197.3h0.6M241.0 203.0h0.6M246.7 222.3h0.6M242.5 197.3h0.6M246.0 221.2h0.6M242.0 214.3h0.6M249.3 217.9h0.6M251.4 234.3h0.6M249.9 229.6h0.6M244.4 203.1h0.6M225.0 203.4h0.6M238.6 205.4h0.6M247.6 212.5h0.6M248.0 210.9h0.6M238.4 219.4h0.6M235.8 192.1h0.6M241.6 206.4h0.6M252.6 212.7h0.6M231.3 213.0h0.6M249.3 225.0h0.6M245.3 192.1h0.6M242.0 209.9h0.6M238.3 215.4h0.6M238.3 205.8h0.6M235.8 218.4h0.6M232.3 199.6h0.6M242.0 224.2h0.6M244.2 219.8h0.6M250.9 190.3h0.6M247.0 222.7h0.6M252.9 199.3h0.6M242.3 218.6h0.6M243.0 229.4h0.6M247.6 215.0h0.6M234.1 217.3h0.6M244.7 219.5h0.6M241.7 219.0h0.6M245.0 218.2h0.6M246.8 188.6h0.6M253.5 220.2h0.6M247.8 198.3h0.6M239.6 236.9h0.6M244.6 216.0h0.6M247.1 211.4h0.6M251.7 202.9h0.6M245.6 215.7h0.6M241.0 208.2h0.6M238.5 197.2h0.6M243.8 228.7h0.6M236.7 199.4h0.6M241.5 210.8h0.6M250.9 199.2h0.6M235.0 212.4h0.6M232.9 215.1h0.6M238.3 211.8h0.6M238.9 213.1h0.6M250.3 214.5h0.6M249.6 198.9h0.6M244.8 229.0h0.6M236.2 205.4h0.6M236.1 217.9h0.6M238.3 189.2h0.6M232.5 211.8h0.6M241.7 208.1h0.6M242.7 225.3h0.6M238.8 226.0h0.6M242.4 201.5h0.6M238.8 185.9h0.6M247.5 229.4h0.6M248.6 210.8h0.6M250.8 197.7h0.6M241.6 220.6h0.6M245.2 201.4h0.6M239.1 225.7h0.6M241.3 186.7h0.6M251.9 202.9h0.6M245.6 225.1h0.6M247.0 214.4h0.6M241.0 220.8h0.6M239.8 215.0h0.6M239.5 203.0h0.6M243.2 233.8h0.6M242.4 216.5h0.6M248.3 195.5h0.6M246.6 206.5h0.6M242.2 234.0h0.6M238.7 200.5h0.6M247.6 217.4h0.6M228.1 230.9h0.6M247.9 227.7h0.6M242.8 190.2h0.6M243.0 205.8h0.6M243.1 217.7h0.6M240.7 212.3h0.6M244.4 221.4h0.6M252.3 203.0h0.6M244.8 220.0h0.6M235.0 230.0h0.6M251.6 227.3h0.6M232.7 207.6h0.6M242.1 217.3h0.6M250.8 226.1h0.6M232.8 213.0h0.6M244.5 224.0h0.6M242.0 206.8h0.6M242.7 210.4h0.6M238.5 216.1h0.6M243.9 193.4h0.6M241.4 206.1h0.6M251.3 218.9h0.6M242.7 212.3h0.6M249.8 190.4h0.6M238.3 226.0h0.6M235.0 189.9h0.6M238.7 201.4h0.6M243.8 199.0h0.6M250.4 217.4h0.6M238.4 220.1h0.6M239.7 219.7h0.6M239.2 233.9h0.6M248.0 204.5h0.6M244.8 208.4h0.6M233.1 211.9h0.6M244.2 201.4h0.6M236.2 202.0h0.6M241.3 219.2h0.6M237.5 208.3h0.6M249.8 201.8h0.6M243.3 197.1h0.6M243.1 207.0h0.6M250.9 213.6h0.6M239.8 209.2h0.6M250.9 225.0h0.6M241.7 194.9h0.6M242.8 229.0h0.6M244.0 195.5h0.6M245.2 211.0h0.6M243.2 211.9h0.6M237.8 202.6h0.6M248.6 220.1h0.6M237.1 191.3h0.6M249.3 221.2h0.6M243.8 207.8h0.6M254.1 194.8h0.6M240.7 221.4h0.6M245.6 221.2h0.6M234.8 223.9h0.6M250.1 207.6h0.6M249.1 210.0h0.6M242.9 213.8h0.6M241.9 215.4h0.6M250.4 231.5h0.6M246.8 221.2h0.6M235.8 211.4h0.6M245.9 215.2h0.6M240.3 202.1h0.6M248.7 222.1h0.6M246.6 216.4h0.6M249.8 221.4h0.6M253.1 208.5h0.6M248.7 224.5h0.6M240.8 196.9h0.6M242.7 227.9h0.6M237.2 211.9h0.6M240.6 211.8h0.6M227.5 232.3h0.6M237.3 223.1h0.6M243.2 190.2h0.6M242.5 201.3h0.6M242.0 205.6h0.6M242.2 212.4h0.6M244.3 221.5h0.6M237.1 231.0h0.6M255.2 217.5h0.6M255.3 231.4h0.6M250.9 208.3h0.6M250.7 187.9h0.6M231.8 222.2h0.6M253.2 218.9h0.6M236.8 195.9h0.6M244.5 218.4h0.6M234.9 211.4h0.6M241.6 206.5h0.6M228.6 199.8h0.6M242.8 238.1h0.6M251.7 209.3h0.6M237.2 219.0h0.6M240.0 215.4h0.6M247.3 218.8h0.6M235.1 234.2h0.6M231.2 203.3h0.6M250.5 201.6h0.6M238.7 217.1h0.6M238.2 209.6h0.6M243.8 210.6h0.6M239.4 205.0h0.6M236.4 221.8h0.6M250.1 209.6h0.6M239.3 210.6h0.6M244.7 199.5h0.6M244.0 184.7h0.6M236.4 200.0h0.6M240.0 211.9h0.6M240.9 215.2h0.6M240.6 218.8h0.6M241.1 215.8h0.6M239.6 208.2h0.6M244.7 232.1h0.6M243.9 213.0h0.6M241.3 197.2h0.6M236.7 215.1h0.6M248.6 214.8h0.6M237.6 212.3h0.6M248.5 213.6h0.6M249.2 194.4h0.6M244.9 199.5h0.6M231.4 214.1h0.6M246.2 220.2h0.6M250.0 215.2h0.6M228.7 223.4h0.6M248.6 208.4h0.6M240.2 214.2h0.6M243.1 198.3h0.6M249.1 237.1h0.6M246.8 216.2h0.6M222.8 220.3h0.6M246.0 221.8h0.6M244.4 202.6h0.6M244.1 212.9h0.6M243.4 225.2h0.6M244.6 209.1h0.6M237.2 189.9h0.6M253.7 210.2h0.6M249.5 218.7h0.6" stroke="#3a78e4" stroke-width="0.96" opacity="0.65" stroke-linecap="round"/>
<ellipse cx="244" cy="215" rx="9" ry="20" fill="#3070e8" opacity="0.85" filter="url(#b2)" transform="rotate(0 244 215)"/>
<ellipse cx="245" cy="217" rx="6" ry="15" fill="#22b8e0" opacity="0.9" filter="url(#b2)" transform="rotate(0 245 217)"/>
<ellipse cx="245.5" cy="218" rx="4" ry="10" fill="#50d070" opacity="0.9" filter="url(#b15)" transform="rotate(0 245.5 218)"/>
<ellipse cx="246" cy="218.5" rx="2.5" ry="5.5" fill="#c8d030" opacity="0.9" filter="url(#b1)" transform="rotate(0 246 218.5)"/>
<ellipse cx="246" cy="218.5" rx="1.2" ry="2.5" fill="#e0a020" opacity="0.8" filter="url(#b1)" transform="rotate(0 246 218.5)"/>
</g>
<line x1="211.6" y1="160" x2="211.6" y2="238.5" stroke="#000" stroke-width="2.2"/>
<line x1="167" y1="199.8" x2="256.5" y2="199.8" stroke="#000" stroke-width="2.2"/>
<rect x="167" y="160" width="89.5" height="78.5" fill="none" stroke="#000" stroke-width="2.2"/>
<text x="161.6" y="241.5" font-size="5.4" text-anchor="middle" transform="rotate(-25 161.6 239.7)">10<tspan baseline-shift="2" font-size="3.6">0</tspan></text>
<text x="161.6" y="221.875" font-size="5.4" text-anchor="middle" transform="rotate(-25 161.6 220.075)">10<tspan baseline-shift="2" font-size="3.6">1</tspan></text>
<text x="161.6" y="202.25" font-size="5.4" text-anchor="middle" transform="rotate(-25 161.6 200.45)">10<tspan baseline-shift="2" font-size="3.6">2</tspan></text>
<text x="161.6" y="182.625" font-size="5.4" text-anchor="middle" transform="rotate(-25 161.6 180.825)">10<tspan baseline-shift="2" font-size="3.6">3</tspan></text>
<text x="161.6" y="163.0" font-size="5.4" text-anchor="middle" transform="rotate(-25 161.6 161.2)">10<tspan baseline-shift="2" font-size="3.6">4</tspan></text>
<text x="167.8" y="247.5" font-size="5.4" text-anchor="middle" transform="rotate(-30 167.8 245.7)">10<tspan baseline-shift="2" font-size="3.6">0</tspan></text>
<text x="190.175" y="247.5" font-size="5.4" text-anchor="middle" transform="rotate(-30 190.175 245.7)">10<tspan baseline-shift="2" font-size="3.6">1</tspan></text>
<text x="212.55" y="247.5" font-size="5.4" text-anchor="middle" transform="rotate(-30 212.55 245.7)">10<tspan baseline-shift="2" font-size="3.6">2</tspan></text>
<text x="234.925" y="247.5" font-size="5.4" text-anchor="middle" transform="rotate(-30 234.925 245.7)">10<tspan baseline-shift="2" font-size="3.6">3</tspan></text>
<text x="257.3" y="247.5" font-size="5.4" text-anchor="middle" transform="rotate(-30 257.3 245.7)">10<tspan baseline-shift="2" font-size="3.6">4</tspan></text>
<text x="170.4" y="175" font-size="12.4" text-anchor="start">2.6</text>
<text x="251.2" y="175" font-size="12.4" text-anchor="end">4.4</text>
<text x="170.4" y="238.3" font-size="12.4" text-anchor="start">8.4</text>
<text x="256.5" y="238.3" font-size="12.4" text-anchor="end">84.6</text>
<clipPath id="c7"><rect x="296" y="159.5" width="89" height="79.0"/></clipPath><g clip-path="url(#c7)">
<ellipse cx="340" cy="193.5" rx="30" ry="2.5" fill="#aaa" opacity="0.7" filter="url(#b1)" transform="rotate(0 340 193.5)"/>
<g filter="url(#b05)">
<path d="M323.06 192.55Q323.88 193.00 323.56 193.49Q323.23 193.99 322.20 194.32Q321.17 194.66 320.31 194.92Q319.46 195.18 318.76 195.43Q318.07 195.68 317.27 195.86Q316.47 196.04 315.65 196.21Q314.83 196.39 313.92 196.63Q313.00 196.87 311.91 196.94Q310.83 197.02 309.86 196.81Q308.89 196.60 308.05 196.34Q307.20 196.07 306.23 195.84Q305.25 195.61 304.64 195.22Q304.03 194.82 304.36 194.31Q304.70 193.80 305.29 193.40Q305.88 193.00 305.78 192.65Q305.68 192.29 305.32 191.83Q304.95 191.36 305.17 190.90Q305.39 190.44 306.12 190.09Q306.84 189.74 307.75 189.47Q308.66 189.19 309.74 189.08Q310.83 188.98 311.91 189.12Q313.00 189.27 313.92 189.44Q314.83 189.61 315.77 189.68Q316.70 189.75 317.56 189.94Q318.42 190.13 318.87 190.50Q319.32 190.87 319.78 191.20Q320.24 191.53 321.24 191.82Q322.25 192.11 323.06 192.55Z" fill="#9a9a9a" stroke="#303030" stroke-width="0.8"/>
<path d="M318.88 192.72Q318.87 193.00 318.75 193.27Q318.62 193.54 318.49 193.82Q318.36 194.09 318.38 194.45Q318.40 194.82 318.16 195.21Q317.93 195.61 317.13 195.77Q316.34 195.93 315.40 195.82Q314.47 195.71 313.73 195.64Q313.00 195.57 312.29 195.61Q311.57 195.64 310.89 195.54Q310.21 195.45 309.76 195.20Q309.31 194.95 308.86 194.75Q308.41 194.54 307.75 194.37Q307.09 194.20 306.56 193.94Q306.03 193.67 305.85 193.34Q305.67 193.00 305.71 192.65Q305.75 192.30 306.11 191.99Q306.46 191.67 307.27 191.51Q308.08 191.34 308.89 191.30Q309.70 191.25 310.15 191.08Q310.61 190.90 311.07 190.59Q311.53 190.28 312.27 190.14Q313.00 190.00 313.75 190.10Q314.51 190.21 315.22 190.32Q315.94 190.43 316.74 190.51Q317.54 190.60 318.14 190.83Q318.73 191.07 318.86 191.43Q318.99 191.78 318.94 192.11Q318.89 192.43 318.88 192.72Z" fill="#c8c8c8" stroke="#303030" stroke-width="0.8"/>
<path d="M317.45 192.80Q317.70 193.00 317.76 193.23Q317.83 193.47 317.40 193.64Q316.98 193.81 316.37 193.87Q315.77 193.93 315.44 194.02Q315.10 194.11 314.89 194.29Q314.68 194.47 314.31 194.61Q313.95 194.76 313.47 194.80Q313.00 194.84 312.50 194.85Q312.00 194.86 311.49 194.82Q310.97 194.78 310.59 194.63Q310.20 194.48 309.97 194.29Q309.74 194.10 309.51 193.93Q309.28 193.76 309.14 193.57Q309.01 193.38 309.15 193.19Q309.30 193.00 309.47 192.84Q309.64 192.68 309.52 192.47Q309.41 192.27 309.31 192.00Q309.21 191.72 309.53 191.53Q309.86 191.34 310.45 191.31Q311.03 191.28 311.56 191.29Q312.08 191.30 312.54 191.30Q313.00 191.29 313.43 191.34Q313.87 191.40 314.24 191.49Q314.62 191.58 315.03 191.64Q315.44 191.71 315.87 191.80Q316.30 191.89 316.58 192.05Q316.85 192.22 317.02 192.41Q317.19 192.60 317.45 192.80Z" fill="#707070" stroke="#303030" stroke-width="0.8"/>
</g>
<g filter="url(#b05)">
<path d="M342.31 192.89Q342.27 193.30 342.29 193.70Q342.31 194.11 342.18 194.52Q342.06 194.92 341.90 195.37Q341.73 195.82 341.52 196.36Q341.31 196.90 340.73 197.28Q340.15 197.66 339.29 197.56Q338.43 197.47 337.71 197.16Q337.00 196.86 336.42 196.79Q335.83 196.72 335.17 196.74Q334.50 196.76 333.95 196.54Q333.39 196.32 333.02 195.96Q332.66 195.61 332.19 195.30Q331.72 195.00 331.18 194.63Q330.65 194.27 330.46 193.78Q330.27 193.30 330.44 192.81Q330.61 192.33 330.93 191.89Q331.25 191.45 331.80 191.14Q332.35 190.83 333.09 190.74Q333.83 190.65 334.39 190.55Q334.94 190.45 335.35 190.06Q335.76 189.67 336.38 189.26Q337.00 188.86 337.75 188.89Q338.50 188.92 339.10 189.23Q339.71 189.55 340.29 189.81Q340.87 190.06 341.46 190.34Q342.04 190.62 342.28 191.07Q342.53 191.53 342.44 192.01Q342.34 192.49 342.31 192.89Z" fill="#9a9a9a" stroke="#404040" stroke-width="0.7"/>
<path d="M341.38 193.00Q341.80 193.30 341.76 193.66Q341.72 194.02 341.42 194.32Q341.12 194.62 340.87 194.93Q340.63 195.23 340.31 195.51Q339.99 195.80 339.47 195.90Q338.95 196.01 338.43 195.98Q337.91 195.95 337.45 195.94Q337.00 195.94 336.56 195.91Q336.12 195.88 335.70 195.78Q335.28 195.68 334.79 195.62Q334.30 195.56 333.67 195.48Q333.03 195.41 332.60 195.13Q332.17 194.85 332.28 194.43Q332.39 194.00 332.69 193.65Q333.00 193.30 333.07 193.01Q333.14 192.71 333.16 192.39Q333.19 192.08 333.47 191.82Q333.75 191.57 334.13 191.39Q334.50 191.21 334.82 190.96Q335.14 190.72 335.54 190.48Q335.95 190.23 336.47 190.15Q337.00 190.07 337.54 190.11Q338.08 190.16 338.59 190.28Q339.10 190.39 339.44 190.68Q339.79 190.97 339.85 191.36Q339.91 191.75 340.01 192.03Q340.10 192.31 340.53 192.50Q340.97 192.70 341.38 193.00Z" fill="#c8c8c8" stroke="#404040" stroke-width="0.7"/>
<path d="M339.99 193.07Q339.91 193.30 339.84 193.51Q339.78 193.72 339.76 193.95Q339.75 194.18 339.56 194.37Q339.37 194.56 339.01 194.62Q338.64 194.67 338.33 194.69Q338.01 194.70 337.78 194.79Q337.54 194.88 337.27 194.98Q337.00 195.09 336.68 195.13Q336.36 195.17 336.00 195.18Q335.64 195.18 335.29 195.10Q334.94 195.02 334.77 194.80Q334.60 194.58 334.63 194.31Q334.65 194.05 334.63 193.86Q334.60 193.67 334.46 193.48Q334.31 193.30 334.32 193.10Q334.32 192.89 334.51 192.73Q334.70 192.56 334.85 192.40Q334.99 192.23 335.07 191.99Q335.15 191.75 335.37 191.54Q335.58 191.34 335.94 191.29Q336.29 191.24 336.65 191.30Q337.00 191.35 337.30 191.44Q337.61 191.53 337.84 191.67Q338.07 191.82 338.25 191.96Q338.43 192.10 338.71 192.17Q338.98 192.25 339.34 192.34Q339.70 192.43 339.88 192.63Q340.06 192.83 339.99 193.07Z" fill="#777" stroke="#404040" stroke-width="0.7"/>
</g>
<g filter="url(#b05)">
<path d="M350.94 193.19Q350.67 193.50 350.49 193.75Q350.31 193.99 350.34 194.27Q350.37 194.55 350.25 194.84Q350.14 195.13 349.76 195.28Q349.38 195.44 349.01 195.57Q348.63 195.70 348.29 195.94Q347.94 196.19 347.47 196.38Q347.00 196.56 346.50 196.47Q345.99 196.37 345.62 196.11Q345.26 195.85 344.98 195.62Q344.70 195.38 344.48 195.15Q344.26 194.92 344.10 194.69Q343.95 194.46 343.68 194.24Q343.41 194.03 343.04 193.77Q342.67 193.50 342.59 193.17Q342.51 192.83 342.83 192.57Q343.16 192.30 343.52 192.09Q343.88 191.88 344.14 191.63Q344.40 191.38 344.78 191.20Q345.16 191.01 345.66 191.07Q346.16 191.12 346.58 191.24Q347.00 191.36 347.39 191.33Q347.77 191.30 348.25 191.24Q348.73 191.17 349.21 191.24Q349.69 191.31 350.10 191.49Q350.52 191.68 350.83 191.94Q351.15 192.20 351.18 192.54Q351.21 192.88 350.94 193.19Z" fill="#aaa" stroke="#404040" stroke-width="0.7"/>
<path d="M349.50 193.31Q349.50 193.50 349.48 193.68Q349.47 193.87 349.32 194.02Q349.17 194.18 348.95 194.29Q348.73 194.39 348.54 194.50Q348.35 194.60 348.16 194.70Q347.97 194.80 347.73 194.85Q347.49 194.91 347.25 194.96Q347.00 195.01 346.70 195.11Q346.40 195.21 346.06 195.22Q345.72 195.22 345.53 195.04Q345.34 194.86 345.31 194.62Q345.29 194.39 345.22 194.23Q345.15 194.08 344.99 193.95Q344.83 193.82 344.77 193.66Q344.70 193.50 344.74 193.34Q344.79 193.17 344.82 193.00Q344.85 192.83 344.91 192.64Q344.97 192.45 345.17 192.31Q345.36 192.16 345.62 192.08Q345.88 191.99 346.15 191.93Q346.43 191.86 346.71 191.88Q347.00 191.89 347.23 192.03Q347.47 192.17 347.64 192.29Q347.81 192.41 348.07 192.41Q348.33 192.42 348.68 192.43Q349.04 192.44 349.25 192.59Q349.47 192.73 349.49 192.93Q349.51 193.13 349.50 193.31Z" fill="#d0d0d0" stroke="#404040" stroke-width="0.7"/>
</g>
<g filter="url(#b05)">
<path d="M378.15 194.36Q378.77 195.00 378.61 195.69Q378.45 196.37 377.77 196.98Q377.08 197.58 376.47 198.19Q375.85 198.80 375.00 199.37Q374.15 199.94 372.70 200.11Q371.26 200.28 369.78 200.08Q368.30 199.88 367.15 199.86Q366.00 199.84 364.73 200.12Q363.45 200.39 361.97 200.47Q360.48 200.54 359.19 200.23Q357.90 199.91 356.86 199.42Q355.83 198.92 355.08 198.32Q354.34 197.71 354.24 197.01Q354.13 196.31 354.45 195.65Q354.77 195.00 354.91 194.40Q355.05 193.79 355.26 193.17Q355.46 192.55 356.27 192.06Q357.09 191.57 358.14 191.22Q359.19 190.87 360.02 190.35Q360.84 189.82 361.90 189.20Q362.96 188.57 364.48 188.41Q366.00 188.24 367.40 188.66Q368.80 189.08 369.84 189.59Q370.89 190.09 371.88 190.47Q372.86 190.84 373.73 191.27Q374.59 191.69 375.28 192.18Q375.96 192.68 376.75 193.20Q377.53 193.73 378.15 194.36Z" fill="#9a9a9a" stroke="#303030" stroke-width="0.8"/>
<path d="M375.17 194.48Q374.97 195.00 374.98 195.50Q374.98 195.99 374.87 196.51Q374.76 197.04 374.35 197.55Q373.95 198.06 373.40 198.61Q372.85 199.15 371.96 199.62Q371.06 200.08 369.76 200.14Q368.46 200.20 367.23 199.88Q366.00 199.57 365.02 199.35Q364.05 199.14 362.97 199.13Q361.89 199.12 360.82 198.95Q359.76 198.78 359.08 198.36Q358.40 197.93 357.82 197.48Q357.25 197.04 356.48 196.59Q355.71 196.13 355.26 195.57Q354.81 195.00 355.07 194.41Q355.33 193.82 355.96 193.32Q356.59 192.81 357.39 192.40Q358.19 191.99 359.23 191.76Q360.28 191.53 361.30 191.42Q362.32 191.30 363.14 191.00Q363.97 190.70 364.98 190.26Q366.00 189.82 367.27 189.73Q368.53 189.64 369.59 189.99Q370.64 190.34 371.48 190.76Q372.32 191.17 373.24 191.51Q374.16 191.86 374.78 192.33Q375.41 192.81 375.39 193.39Q375.37 193.97 375.17 194.48Z" fill="#7a7a7a" stroke="#303030" stroke-width="0.8"/>
<path d="M373.39 194.58Q373.22 195.00 373.22 195.40Q373.21 195.80 373.28 196.25Q373.34 196.71 372.96 197.12Q372.58 197.54 371.82 197.80Q371.06 198.06 370.33 198.34Q369.61 198.62 368.82 198.96Q368.03 199.29 367.01 199.37Q366.00 199.45 365.10 199.14Q364.19 198.83 363.55 198.47Q362.91 198.11 362.23 197.90Q361.55 197.70 360.79 197.50Q360.04 197.30 359.41 196.99Q358.78 196.68 358.22 196.30Q357.66 195.92 357.28 195.46Q356.90 195.00 357.10 194.52Q357.30 194.04 357.97 193.66Q358.64 193.29 359.23 192.95Q359.82 192.62 360.35 192.26Q360.88 191.90 361.70 191.70Q362.53 191.51 363.46 191.56Q364.40 191.60 365.20 191.58Q366.00 191.56 366.91 191.35Q367.82 191.14 368.90 191.07Q369.99 191.00 370.85 191.27Q371.72 191.53 372.26 191.96Q372.80 192.38 373.14 192.82Q373.48 193.26 373.52 193.71Q373.57 194.16 373.39 194.58Z" fill="#b8b8b8" stroke="#303030" stroke-width="0.8"/>
<path d="M371.69 194.68Q371.62 195.00 371.73 195.32Q371.84 195.64 371.71 195.97Q371.57 196.30 371.07 196.53Q370.57 196.76 370.10 196.98Q369.63 197.20 369.23 197.52Q368.84 197.85 368.21 198.11Q367.59 198.37 366.80 198.37Q366.00 198.36 365.29 198.18Q364.59 197.99 364.00 197.79Q363.42 197.59 362.94 197.37Q362.47 197.14 362.10 196.89Q361.74 196.64 361.26 196.43Q360.78 196.22 360.19 195.96Q359.60 195.71 359.37 195.35Q359.14 195.00 359.41 194.65Q359.68 194.30 360.00 193.99Q360.32 193.68 360.57 193.34Q360.81 193.00 361.33 192.74Q361.85 192.48 362.63 192.45Q363.42 192.41 364.12 192.45Q364.82 192.49 365.41 192.41Q366.00 192.33 366.68 192.22Q367.36 192.11 368.10 192.14Q368.83 192.16 369.54 192.29Q370.25 192.42 370.87 192.65Q371.49 192.88 371.76 193.24Q372.02 193.60 371.89 193.98Q371.77 194.36 371.69 194.68Z" fill="#555" stroke="#303030" stroke-width="0.8"/>
<path d="M370.54 194.76Q370.72 195.00 370.71 195.26Q370.70 195.52 370.29 195.71Q369.89 195.91 369.38 196.00Q368.86 196.10 368.56 196.24Q368.27 196.37 368.04 196.60Q367.81 196.82 367.41 196.98Q367.01 197.14 366.50 197.17Q366.00 197.20 365.49 197.18Q364.98 197.16 364.48 197.10Q363.98 197.03 363.59 196.86Q363.20 196.70 362.95 196.48Q362.71 196.27 362.48 196.07Q362.26 195.87 362.10 195.66Q361.95 195.45 362.01 195.22Q362.08 195.00 362.17 194.79Q362.27 194.59 362.19 194.34Q362.11 194.09 362.11 193.80Q362.11 193.50 362.49 193.30Q362.88 193.11 363.47 193.08Q364.06 193.05 364.57 193.06Q365.09 193.07 365.54 193.04Q366.00 193.02 366.45 193.06Q366.90 193.09 367.31 193.18Q367.73 193.27 368.16 193.35Q368.59 193.43 369.02 193.55Q369.46 193.67 369.75 193.86Q370.04 194.06 370.21 194.29Q370.37 194.52 370.54 194.76Z" fill="#999" stroke="#303030" stroke-width="0.8"/>
</g>
</g>
<rect x="296.3" y="182.5" width="28.9" height="12.2" fill="none" stroke="#000" stroke-width="2.2"/>
<rect x="353.4" y="180.4" width="30.5" height="13.4" fill="none" stroke="#000" stroke-width="2.2"/>
<rect x="353.4" y="193.8" width="30.5" height="18.4" fill="none" stroke="#000" stroke-width="2.2"/>
<rect x="296" y="159.5" width="89" height="79.0" fill="none" stroke="#000" stroke-width="2.2"/>
<text x="290.6" y="241.5" font-size="5.4" text-anchor="middle" transform="rotate(-25 290.6 239.7)">10<tspan baseline-shift="2" font-size="3.6">0</tspan></text>
<text x="290.6" y="221.75" font-size="5.4" text-anchor="middle" transform="rotate(-25 290.6 219.95)">10<tspan baseline-shift="2" font-size="3.6">1</tspan></text>
<text x="290.6" y="202.0" font-size="5.4" text-anchor="middle" transform="rotate(-25 290.6 200.2)">10<tspan baseline-shift="2" font-size="3.6">2</tspan></text>
<text x="290.6" y="182.25" font-size="5.4" text-anchor="middle" transform="rotate(-25 290.6 180.45)">10<tspan baseline-shift="2" font-size="3.6">3</tspan></text>
<text x="290.6" y="162.5" font-size="5.4" text-anchor="middle" transform="rotate(-25 290.6 160.7)">10<tspan baseline-shift="2" font-size="3.6">4</tspan></text>
<text x="296.8" y="247.5" font-size="5.4" text-anchor="middle" transform="rotate(-30 296.8 245.7)">10<tspan baseline-shift="2" font-size="3.6">0</tspan></text>
<text x="319.05" y="247.5" font-size="5.4" text-anchor="middle" transform="rotate(-30 319.05 245.7)">10<tspan baseline-shift="2" font-size="3.6">1</tspan></text>
<text x="341.3" y="247.5" font-size="5.4" text-anchor="middle" transform="rotate(-30 341.3 245.7)">10<tspan baseline-shift="2" font-size="3.6">2</tspan></text>
<text x="363.55" y="247.5" font-size="5.4" text-anchor="middle" transform="rotate(-30 363.55 245.7)">10<tspan baseline-shift="2" font-size="3.6">3</tspan></text>
<text x="385.8" y="247.5" font-size="5.4" text-anchor="middle" transform="rotate(-30 385.8 245.7)">10<tspan baseline-shift="2" font-size="3.6">4</tspan></text>
<text x="300.4" y="180.4" font-size="12.4" text-anchor="start">13.2</text>
<text x="384" y="180.4" font-size="12.4" text-anchor="end">21.2</text>
<text x="384" y="224.8" font-size="12.4" text-anchor="end">17.5</text>
<clipPath id="c8"><rect x="423" y="159" width="89" height="80.5"/></clipPath><g clip-path="url(#c8)">
<rect x="424" y="177" width="24" height="18" fill="#7a7a7a" filter="url(#b1)"/>
<g filter="url(#b05)">
<path d="M444.43 185.40Q444.99 186.00 445.50 186.76Q446.00 187.52 445.66 188.26Q445.31 188.99 444.30 189.43Q443.30 189.88 442.33 190.18Q441.36 190.48 440.52 190.78Q439.67 191.08 438.76 191.25Q437.86 191.42 436.93 191.48Q436.00 191.54 435.02 191.63Q434.04 191.72 432.99 191.68Q431.93 191.63 431.05 191.25Q430.17 190.88 429.47 190.36Q428.78 189.84 428.03 189.32Q427.28 188.80 426.80 188.14Q426.32 187.47 426.65 186.74Q426.99 186.00 427.72 185.43Q428.45 184.85 428.77 184.32Q429.09 183.78 429.16 183.09Q429.22 182.40 429.68 181.75Q430.14 181.10 431.00 180.68Q431.86 180.27 432.86 180.00Q433.85 179.72 434.93 179.63Q436.00 179.54 437.02 179.78Q438.05 180.02 438.89 180.42Q439.74 180.82 440.57 181.16Q441.39 181.49 442.12 181.93Q442.85 182.36 443.17 182.98Q443.49 183.59 443.68 184.20Q443.87 184.80 444.43 185.40Z" fill="#888" stroke="#1a1a1a" stroke-width="0.9"/>
<path d="M442.00 185.53Q441.85 186.00 441.86 186.45Q441.88 186.89 441.92 187.40Q441.96 187.91 441.62 188.36Q441.28 188.81 440.67 189.10Q440.06 189.39 439.49 189.71Q438.91 190.04 438.28 190.41Q437.64 190.78 436.82 190.85Q436.00 190.93 435.27 190.60Q434.53 190.28 433.99 189.91Q433.45 189.53 432.89 189.30Q432.34 189.06 431.77 188.80Q431.20 188.55 430.71 188.20Q430.22 187.85 429.75 187.44Q429.27 187.02 428.96 186.51Q428.65 186.00 428.83 185.47Q429.01 184.94 429.54 184.52Q430.07 184.10 430.52 183.71Q430.96 183.32 431.40 182.92Q431.83 182.51 432.51 182.31Q433.19 182.11 433.94 182.15Q434.70 182.20 435.35 182.16Q436.00 182.13 436.74 181.91Q437.47 181.70 438.32 181.65Q439.17 181.61 439.87 181.89Q440.57 182.18 441.05 182.62Q441.52 183.06 441.82 183.55Q442.12 184.04 442.13 184.55Q442.14 185.07 442.00 185.53Z" fill="#6a6a6a" stroke="#1a1a1a" stroke-width="0.9"/>
<path d="M439.87 185.70Q439.87 186.00 439.76 186.28Q439.64 186.55 439.58 186.84Q439.51 187.13 439.50 187.49Q439.49 187.86 439.26 188.20Q439.03 188.54 438.52 188.65Q438.00 188.77 437.46 188.73Q436.92 188.68 436.46 188.68Q436.00 188.69 435.54 188.69Q435.08 188.70 434.66 188.56Q434.25 188.43 433.93 188.21Q433.61 188.00 433.27 187.81Q432.93 187.63 432.55 187.43Q432.18 187.23 431.93 186.94Q431.69 186.66 431.58 186.33Q431.47 186.00 431.46 185.65Q431.46 185.31 431.70 185.00Q431.94 184.70 432.43 184.53Q432.92 184.36 433.36 184.26Q433.80 184.16 434.08 183.94Q434.36 183.72 434.70 183.47Q435.05 183.22 435.52 183.15Q436.00 183.09 436.47 183.16Q436.94 183.24 437.42 183.31Q437.89 183.38 438.37 183.50Q438.85 183.62 439.17 183.88Q439.50 184.14 439.62 184.47Q439.75 184.80 439.81 185.10Q439.88 185.41 439.87 185.70Z" fill="#8a8a8a" stroke="#1a1a1a" stroke-width="0.9"/>
</g>
<rect x="449" y="181" width="21" height="14" fill="#a8a8a8" filter="url(#b1)"/>
<g filter="url(#b05)">
<path d="M467.97 191.55Q468.06 192.00 468.05 192.46Q468.04 192.92 468.08 193.45Q468.12 193.97 467.86 194.45Q467.60 194.94 466.90 195.07Q466.20 195.21 465.50 195.10Q464.80 194.98 464.35 195.07Q463.90 195.17 463.45 195.46Q463.00 195.76 462.43 195.87Q461.86 195.98 461.31 195.85Q460.76 195.72 460.21 195.54Q459.66 195.35 459.16 195.06Q458.66 194.77 458.43 194.31Q458.20 193.85 458.17 193.37Q458.14 192.89 458.10 192.44Q458.06 192.00 458.18 191.57Q458.29 191.14 458.70 190.82Q459.11 190.50 459.44 190.22Q459.78 189.95 459.87 189.45Q459.96 188.95 460.21 188.36Q460.46 187.78 461.07 187.57Q461.68 187.37 462.34 187.56Q463.00 187.76 463.54 187.97Q464.09 188.18 464.59 188.35Q465.10 188.51 465.50 188.81Q465.89 189.10 466.19 189.44Q466.48 189.78 466.84 190.08Q467.21 190.38 467.55 190.74Q467.89 191.11 467.97 191.55Z" fill="#333" stroke="#1a1a1a" stroke-width="0.9"/>
<path d="M466.22 191.72Q466.34 192.00 466.21 192.28Q466.08 192.56 465.92 192.81Q465.76 193.06 465.65 193.34Q465.53 193.61 465.26 193.81Q465.00 194.01 464.59 193.99Q464.19 193.97 463.86 193.91Q463.53 193.84 463.26 193.96Q463.00 194.07 462.66 194.24Q462.31 194.41 461.93 194.41Q461.55 194.40 461.24 194.25Q460.92 194.09 460.66 193.87Q460.40 193.66 460.27 193.38Q460.14 193.10 460.20 192.80Q460.25 192.50 460.29 192.25Q460.34 192.00 460.29 191.75Q460.24 191.50 460.30 191.24Q460.36 190.98 460.60 190.80Q460.84 190.62 461.05 190.44Q461.26 190.25 461.42 189.95Q461.58 189.65 461.89 189.40Q462.19 189.16 462.60 189.22Q463.00 189.27 463.32 189.50Q463.65 189.73 463.90 189.91Q464.16 190.08 464.41 190.21Q464.66 190.34 464.87 190.50Q465.09 190.67 465.32 190.84Q465.55 191.02 465.82 191.23Q466.10 191.43 466.22 191.72Z" fill="#111" stroke="#1a1a1a" stroke-width="0.9"/>
</g>
<rect x="472" y="174" width="27" height="21" fill="#aaa" filter="url(#b1)"/>
<g filter="url(#b05)">
<path d="M497.26 181.83Q497.29 183.00 497.23 184.16Q497.18 185.32 496.88 186.47Q496.57 187.63 495.61 188.45Q494.64 189.27 493.39 189.63Q492.13 189.98 491.15 190.43Q490.17 190.87 489.27 191.65Q488.37 192.44 487.18 192.99Q486.00 193.53 484.70 193.45Q483.40 193.36 482.19 192.92Q480.97 192.49 479.88 191.86Q478.79 191.22 478.02 190.29Q477.25 189.35 476.85 188.26Q476.46 187.18 476.12 186.15Q475.79 185.12 475.54 184.06Q475.29 183.00 475.51 181.93Q475.73 180.87 476.24 179.91Q476.75 178.95 477.10 177.87Q477.44 176.80 477.93 175.57Q478.41 174.35 479.52 173.60Q480.62 172.85 482.05 172.89Q483.47 172.94 484.74 173.24Q486.00 173.53 487.15 173.70Q488.29 173.86 489.41 174.16Q490.52 174.47 491.51 175.03Q492.50 175.59 493.47 176.23Q494.45 176.88 495.36 177.69Q496.28 178.50 496.76 179.58Q497.24 180.67 497.26 181.83Z" fill="#999" stroke="#1a1a1a" stroke-width="0.9"/>
<path d="M494.54 182.11Q494.48 183.00 494.41 183.86Q494.33 184.73 494.39 185.71Q494.45 186.70 494.20 187.73Q493.94 188.76 493.09 189.43Q492.23 190.11 491.16 190.41Q490.09 190.72 489.10 191.05Q488.10 191.38 487.05 191.62Q486.00 191.87 484.96 191.59Q483.91 191.32 483.09 190.68Q482.27 190.04 481.51 189.51Q480.74 188.99 479.86 188.54Q478.98 188.09 478.20 187.42Q477.43 186.75 476.90 185.87Q476.38 185.00 476.08 184.00Q475.78 183.00 475.94 181.97Q476.10 180.95 476.85 180.14Q477.60 179.32 478.46 178.74Q479.32 178.16 479.95 177.49Q480.57 176.81 481.27 176.11Q481.98 175.40 482.96 175.10Q483.94 174.80 484.97 174.83Q486.00 174.87 487.04 174.80Q488.07 174.74 489.23 174.73Q490.39 174.72 491.39 175.21Q492.40 175.70 493.00 176.59Q493.60 177.49 493.94 178.43Q494.28 179.38 494.44 180.30Q494.61 181.21 494.54 182.11Z" fill="#666" stroke="#1a1a1a" stroke-width="0.9"/>
<path d="M494.27 182.13Q494.16 183.00 493.58 183.73Q493.00 184.45 492.55 185.06Q492.10 185.67 491.88 186.39Q491.66 187.10 491.24 187.80Q490.81 188.49 490.09 188.92Q489.37 189.35 488.55 189.64Q487.74 189.93 486.87 190.16Q486.00 190.38 485.09 190.32Q484.18 190.25 483.37 189.86Q482.57 189.47 481.88 188.98Q481.19 188.48 480.62 187.90Q480.05 187.31 479.78 186.58Q479.51 185.84 479.43 185.11Q479.35 184.38 479.06 183.69Q478.76 183.00 478.37 182.17Q477.99 181.34 478.11 180.47Q478.23 179.60 478.92 178.99Q479.62 178.37 480.42 177.96Q481.21 177.54 481.95 177.14Q482.68 176.74 483.50 176.51Q484.31 176.28 485.16 176.33Q486.00 176.38 486.80 176.49Q487.61 176.61 488.43 176.73Q489.25 176.86 490.02 177.20Q490.79 177.54 491.44 178.06Q492.09 178.58 492.74 179.18Q493.39 179.77 493.88 180.52Q494.37 181.26 494.27 182.13Z" fill="#999" stroke="#1a1a1a" stroke-width="0.9"/>
<path d="M491.51 182.44Q491.65 183.00 491.65 183.59Q491.65 184.17 491.56 184.78Q491.47 185.40 491.26 186.03Q491.05 186.66 490.56 187.15Q490.06 187.63 489.37 187.85Q488.68 188.06 488.01 188.20Q487.34 188.34 486.67 188.48Q486.00 188.63 485.32 188.52Q484.64 188.40 484.11 187.98Q483.58 187.56 483.13 187.18Q482.67 186.79 482.07 186.54Q481.46 186.29 480.83 185.91Q480.21 185.54 479.89 184.93Q479.58 184.33 479.56 183.67Q479.55 183.00 479.70 182.36Q479.85 181.72 480.21 181.17Q480.57 180.62 481.08 180.21Q481.59 179.81 482.06 179.42Q482.52 179.03 482.98 178.59Q483.43 178.15 484.04 177.88Q484.65 177.61 485.32 177.62Q486.00 177.63 486.67 177.65Q487.34 177.68 488.08 177.67Q488.83 177.65 489.53 177.92Q490.22 178.19 490.57 178.81Q490.92 179.43 491.01 180.10Q491.11 180.76 491.24 181.32Q491.37 181.89 491.51 182.44Z" fill="#555" stroke="#1a1a1a" stroke-width="0.9"/>
<path d="M490.13 182.58Q490.25 183.00 490.24 183.44Q490.23 183.88 490.00 184.26Q489.77 184.65 489.51 185.01Q489.26 185.37 489.06 185.81Q488.86 186.26 488.50 186.65Q488.15 187.05 487.61 187.15Q487.07 187.25 486.53 187.12Q486.00 186.98 485.54 186.83Q485.08 186.68 484.65 186.52Q484.22 186.36 483.84 186.13Q483.45 185.90 483.08 185.64Q482.71 185.39 482.32 185.08Q481.92 184.78 481.68 184.37Q481.43 183.95 481.44 183.47Q481.45 183.00 481.55 182.55Q481.65 182.10 481.75 181.64Q481.84 181.18 482.11 180.78Q482.38 180.38 482.88 180.19Q483.37 180.00 483.85 179.92Q484.33 179.85 484.72 179.65Q485.11 179.45 485.55 179.22Q486.00 178.98 486.52 178.93Q487.03 178.88 487.54 179.02Q488.04 179.16 488.49 179.40Q488.94 179.65 489.26 180.02Q489.59 180.40 489.72 180.86Q489.85 181.31 489.93 181.74Q490.01 182.17 490.13 182.58Z" fill="#888" stroke="#1a1a1a" stroke-width="0.9"/>
<path d="M488.56 182.73Q488.54 183.00 488.49 183.25Q488.43 183.50 488.40 183.77Q488.37 184.04 488.32 184.34Q488.26 184.64 488.05 184.87Q487.84 185.10 487.53 185.21Q487.22 185.31 486.92 185.38Q486.62 185.46 486.31 185.54Q486.00 185.62 485.68 185.58Q485.36 185.54 485.11 185.34Q484.86 185.14 484.67 184.94Q484.48 184.74 484.25 184.59Q484.01 184.44 483.77 184.26Q483.53 184.08 483.37 183.83Q483.21 183.58 483.13 183.29Q483.04 183.00 483.05 182.70Q483.07 182.39 483.24 182.13Q483.42 181.87 483.69 181.69Q483.96 181.52 484.19 181.36Q484.42 181.19 484.63 181.00Q484.84 180.80 485.11 180.69Q485.39 180.58 485.70 180.60Q486.00 180.62 486.29 180.64Q486.59 180.67 486.92 180.65Q487.25 180.64 487.58 180.73Q487.91 180.83 488.11 181.07Q488.31 181.32 488.40 181.62Q488.49 181.91 488.53 182.19Q488.57 182.47 488.56 182.73Z" fill="#222" stroke="#1a1a1a" stroke-width="0.9"/>
</g>
<rect x="424" y="199" width="26" height="26" fill="#6a6a6a" filter="url(#b1)"/>
<g filter="url(#b05)">
<path d="M442.57 213.83Q442.88 215.00 442.85 216.23Q442.81 217.47 442.65 218.76Q442.50 220.05 442.04 221.35Q441.59 222.65 440.48 223.45Q439.37 224.25 437.96 224.33Q436.54 224.42 435.35 224.45Q434.16 224.47 433.08 224.87Q432.00 225.27 430.78 225.49Q429.56 225.70 428.39 225.31Q427.22 224.92 426.18 224.26Q425.14 223.61 424.08 222.88Q423.02 222.16 422.21 221.13Q421.39 220.11 421.10 218.83Q420.82 217.55 420.85 216.28Q420.88 215.00 421.12 213.79Q421.37 212.57 422.02 211.54Q422.67 210.51 423.53 209.72Q424.39 208.93 425.02 207.99Q425.66 207.05 426.32 205.82Q426.99 204.60 428.13 203.81Q429.27 203.02 430.63 203.15Q432.00 203.27 433.23 203.76Q434.45 204.25 435.61 204.68Q436.77 205.10 437.81 205.75Q438.85 206.41 439.54 207.42Q440.22 208.44 440.72 209.50Q441.21 210.56 441.74 211.61Q442.26 212.66 442.57 213.83Z" fill="#777" stroke="#1a1a1a" stroke-width="0.9"/>
<path d="M440.17 214.09Q440.41 215.00 440.53 215.99Q440.64 216.97 440.43 217.97Q440.22 218.96 439.83 219.94Q439.43 220.93 438.78 221.81Q438.13 222.69 437.15 223.17Q436.17 223.66 435.10 223.78Q434.03 223.90 433.02 224.00Q432.00 224.10 430.97 224.05Q429.95 223.99 429.07 223.44Q428.20 222.89 427.57 222.11Q426.95 221.34 426.19 220.79Q425.43 220.24 424.44 219.68Q423.44 219.12 422.79 218.19Q422.13 217.25 422.14 216.13Q422.15 215.00 422.49 213.95Q422.84 212.91 423.30 211.97Q423.77 211.04 424.46 210.29Q425.15 209.54 425.95 208.98Q426.75 208.41 427.50 207.81Q428.25 207.20 429.11 206.65Q429.97 206.10 430.98 205.97Q432.00 205.84 433.01 206.01Q434.01 206.19 435.07 206.32Q436.12 206.44 437.23 206.75Q438.33 207.06 439.02 207.96Q439.71 208.85 439.80 210.03Q439.89 211.20 439.91 212.19Q439.93 213.19 440.17 214.09Z" fill="#999" stroke="#1a1a1a" stroke-width="0.9"/>
<path d="M439.09 214.21Q439.30 215.00 439.12 215.79Q438.94 216.58 438.70 217.35Q438.45 218.11 438.26 218.97Q438.07 219.84 437.57 220.60Q437.07 221.35 436.19 221.61Q435.31 221.87 434.42 221.78Q433.53 221.69 432.76 221.65Q432.00 221.61 431.25 221.60Q430.50 221.59 429.75 221.41Q428.99 221.24 428.24 220.95Q427.48 220.66 426.72 220.24Q425.96 219.82 425.44 219.11Q424.93 218.41 424.83 217.53Q424.73 216.66 424.76 215.83Q424.78 215.00 424.78 214.18Q424.78 213.35 425.08 212.58Q425.37 211.81 426.04 211.30Q426.72 210.79 427.37 210.39Q428.01 210.00 428.51 209.40Q429.01 208.79 429.65 208.16Q430.30 207.53 431.15 207.31Q432.00 207.09 432.86 207.26Q433.73 207.43 434.51 207.80Q435.29 208.16 435.92 208.74Q436.54 209.31 436.92 210.04Q437.31 210.77 437.66 211.44Q438.01 212.11 438.45 212.77Q438.88 213.43 439.09 214.21Z" fill="#666" stroke="#1a1a1a" stroke-width="0.9"/>
<path d="M437.77 214.32Q437.60 215.00 437.28 215.57Q436.95 216.13 436.76 216.67Q436.57 217.20 436.34 217.74Q436.11 218.28 435.67 218.67Q435.24 219.06 434.73 219.34Q434.22 219.61 433.71 219.92Q433.19 220.22 432.60 220.43Q432.00 220.64 431.37 220.60Q430.73 220.55 430.13 220.35Q429.53 220.14 428.98 219.80Q428.43 219.47 428.10 218.93Q427.76 218.38 427.69 217.75Q427.62 217.11 427.53 216.58Q427.43 216.04 427.12 215.52Q426.82 215.00 426.63 214.37Q426.44 213.73 426.65 213.13Q426.86 212.53 427.27 212.04Q427.68 211.56 428.10 211.09Q428.52 210.63 429.03 210.27Q429.54 209.90 430.17 209.81Q430.79 209.71 431.40 209.78Q432.00 209.86 432.57 209.95Q433.13 210.04 433.67 210.23Q434.20 210.42 434.68 210.73Q435.16 211.04 435.67 211.35Q436.19 211.66 436.76 212.05Q437.33 212.43 437.64 213.04Q437.94 213.64 437.77 214.32Z" fill="#aaa" stroke="#1a1a1a" stroke-width="0.9"/>
<path d="M435.69 214.58Q435.73 215.00 435.68 215.41Q435.63 215.83 435.46 216.21Q435.29 216.58 434.95 216.84Q434.62 217.09 434.27 217.24Q433.91 217.40 433.65 217.64Q433.38 217.87 433.09 218.19Q432.80 218.50 432.40 218.64Q432.00 218.78 431.59 218.67Q431.19 218.57 430.81 218.40Q430.44 218.24 430.07 218.06Q429.70 217.88 429.42 217.58Q429.14 217.28 429.02 216.89Q428.90 216.49 428.84 216.11Q428.78 215.73 428.74 215.37Q428.69 215.00 428.73 214.63Q428.76 214.26 428.85 213.89Q428.94 213.53 429.03 213.11Q429.12 212.70 429.32 212.30Q429.52 211.89 429.93 211.71Q430.33 211.53 430.78 211.58Q431.23 211.64 431.62 211.69Q432.00 211.74 432.38 211.72Q432.75 211.70 433.12 211.80Q433.50 211.89 433.79 212.13Q434.09 212.37 434.37 212.63Q434.65 212.89 434.94 213.16Q435.24 213.44 435.44 213.80Q435.65 214.17 435.69 214.58Z" fill="#777" stroke="#1a1a1a" stroke-width="0.9"/>
</g>
<path d="M442.7 229.0h0.7M434.3 230.6h0.7M424.4 223.3h0.7M424.5 227.5h0.7M437.6 224.3h0.7M437.7 222.0h0.7M424.9 231.6h0.7M447.0 222.7h0.7M441.1 227.1h0.7M438.0 230.4h0.7M440.7 231.4h0.7M441.7 231.2h0.7M427.0 230.2h0.7M432.3 231.2h0.7M444.6 231.7h0.7M443.6 225.9h0.7M437.6 229.8h0.7M425.5 227.4h0.7M438.8 229.2h0.7M432.9 228.1h0.7M443.1 225.8h0.7M441.7 231.0h0.7M433.6 227.3h0.7M436.6 230.4h0.7M431.0 224.9h0.7M434.2 228.5h0.7M428.0 231.8h0.7M437.1 229.3h0.7M434.7 222.3h0.7M434.0 227.7h0.7M426.3 231.8h0.7M439.3 226.6h0.7M424.7 224.5h0.7M432.8 228.5h0.7M428.5 226.9h0.7M431.0 227.6h0.7M441.9 227.2h0.7M443.5 228.2h0.7M426.2 228.6h0.7M436.6 229.6h0.7M448.4 225.5h0.7M446.1 224.3h0.7M440.9 222.1h0.7M445.4 226.5h0.7M435.8 227.0h0.7M433.7 224.3h0.7M442.0 228.3h0.7M425.4 224.7h0.7M448.2 224.8h0.7M431.6 227.8h0.7M433.7 231.5h0.7M449.5 223.3h0.7M429.8 223.7h0.7M435.6 224.8h0.7M441.5 230.9h0.7M425.9 222.3h0.7M426.9 225.1h0.7M427.5 226.3h0.7M433.5 229.3h0.7M449.1 231.8h0.7" stroke="#777" stroke-width="1.12" opacity="0.5" stroke-linecap="round"/>
<g filter="url(#b05)">
<path d="M466.28 207.51Q466.24 208.00 465.96 208.43Q465.68 208.85 465.30 209.18Q464.93 209.52 464.73 209.88Q464.52 210.25 464.30 210.67Q464.07 211.08 463.61 211.32Q463.14 211.56 462.60 211.63Q462.06 211.71 461.53 211.92Q461.00 212.14 460.34 212.37Q459.69 212.61 459.07 212.42Q458.45 212.23 458.18 211.67Q457.90 211.11 457.77 210.63Q457.64 210.14 457.38 209.82Q457.11 209.50 456.84 209.15Q456.57 208.81 456.40 208.40Q456.24 208.00 456.08 207.54Q455.93 207.07 455.93 206.56Q455.92 206.04 456.31 205.65Q456.70 205.26 457.27 205.04Q457.84 204.83 458.32 204.59Q458.80 204.35 459.32 204.13Q459.83 203.91 460.42 204.02Q461.00 204.14 461.46 204.47Q461.91 204.81 462.35 204.91Q462.79 205.02 463.46 204.94Q464.13 204.86 464.80 205.01Q465.46 205.15 465.79 205.59Q466.12 206.03 466.22 206.53Q466.31 207.03 466.28 207.51Z" fill="#aaa" stroke="#1a1a1a" stroke-width="0.9"/>
<path d="M463.60 207.76Q463.55 208.00 463.65 208.25Q463.76 208.50 463.71 208.77Q463.66 209.03 463.44 209.22Q463.21 209.41 463.00 209.61Q462.80 209.80 462.60 210.06Q462.40 210.32 462.08 210.49Q461.76 210.66 461.38 210.65Q461.00 210.64 460.65 210.54Q460.30 210.45 460.01 210.29Q459.72 210.13 459.54 209.88Q459.37 209.64 459.25 209.41Q459.13 209.19 458.84 209.07Q458.56 208.94 458.17 208.76Q457.79 208.59 457.67 208.29Q457.55 208.00 457.73 207.72Q457.91 207.44 458.08 207.19Q458.26 206.94 458.39 206.68Q458.52 206.42 458.79 206.23Q459.06 206.05 459.43 206.02Q459.79 206.00 460.11 205.99Q460.42 205.98 460.71 205.91Q461.00 205.84 461.32 205.80Q461.64 205.77 461.98 205.79Q462.32 205.81 462.71 205.85Q463.11 205.88 463.47 206.04Q463.82 206.20 463.89 206.53Q463.96 206.86 463.80 207.19Q463.64 207.52 463.60 207.76Z" fill="#ddd" stroke="#1a1a1a" stroke-width="0.9"/>
</g>
<ellipse cx="460" cy="197" rx="12" ry="2" fill="#111" opacity="0.85" filter="url(#b1)" transform="rotate(0 460 197)"/>
<ellipse cx="468" cy="192" rx="3" ry="4" fill="#111" opacity="0.9" filter="url(#b1)" transform="rotate(0 468 192)"/>
</g>
<rect x="423.75" y="172" width="23.75" height="24" fill="none" stroke="#000" stroke-width="2.2"/>
<rect x="448.25" y="166.25" width="23" height="29.75" fill="none" stroke="#000" stroke-width="2.2"/>
<rect x="471.25" y="172" width="28" height="24" fill="none" stroke="#000" stroke-width="2.2"/>
<rect x="423.75" y="198" width="27" height="41.5" fill="none" stroke="#000" stroke-width="2.2"/>
<rect x="470.75" y="197.5" width="30" height="42" fill="none" stroke="#000" stroke-width="2.2"/>
<rect x="423" y="159" width="89" height="80.5" fill="none" stroke="#000" stroke-width="2.2"/>
<text x="417.6" y="242.5" font-size="5.4" text-anchor="middle" transform="rotate(-25 417.6 240.7)">10<tspan baseline-shift="2" font-size="3.6">0</tspan></text>
<text x="417.6" y="222.375" font-size="5.4" text-anchor="middle" transform="rotate(-25 417.6 220.575)">10<tspan baseline-shift="2" font-size="3.6">1</tspan></text>
<text x="417.6" y="202.25" font-size="5.4" text-anchor="middle" transform="rotate(-25 417.6 200.45)">10<tspan baseline-shift="2" font-size="3.6">2</tspan></text>
<text x="417.6" y="182.125" font-size="5.4" text-anchor="middle" transform="rotate(-25 417.6 180.325)">10<tspan baseline-shift="2" font-size="3.6">3</tspan></text>
<text x="417.6" y="162.0" font-size="5.4" text-anchor="middle" transform="rotate(-25 417.6 160.2)">10<tspan baseline-shift="2" font-size="3.6">4</tspan></text>
<text x="423.8" y="248.5" font-size="5.4" text-anchor="middle" transform="rotate(-30 423.8 246.7)">10<tspan baseline-shift="2" font-size="3.6">0</tspan></text>
<text x="446.05" y="248.5" font-size="5.4" text-anchor="middle" transform="rotate(-30 446.05 246.7)">10<tspan baseline-shift="2" font-size="3.6">1</tspan></text>
<text x="468.3" y="248.5" font-size="5.4" text-anchor="middle" transform="rotate(-30 468.3 246.7)">10<tspan baseline-shift="2" font-size="3.6">2</tspan></text>
<text x="490.55" y="248.5" font-size="5.4" text-anchor="middle" transform="rotate(-30 490.55 246.7)">10<tspan baseline-shift="2" font-size="3.6">3</tspan></text>
<text x="512.8" y="248.5" font-size="5.4" text-anchor="middle" transform="rotate(-30 512.8 246.7)">10<tspan baseline-shift="2" font-size="3.6">4</tspan></text>
<text x="425" y="170" font-size="12.4" text-anchor="start">5.3</text>
<text x="450" y="180" font-size="12.4" text-anchor="start">2.3</text>
<text x="473.25" y="170" font-size="12.4" text-anchor="start">34.1</text>
<text x="423.75" y="236.25" font-size="12.4" text-anchor="start">54.3</text>
<text x="476.25" y="231.25" font-size="12.4" text-anchor="start">0.5</text>
<path d="M27.8 222.3V270.6H75" fill="none" stroke="#000" stroke-width="2.4" stroke-linejoin="miter"/>
<path d="M20.8 236.3L27.8 222.3L34.8 236.3" fill="none" stroke="#000" stroke-width="2.4" stroke-linejoin="miter"/>
<path d="M61 263.6L75 270.6L61 277.6" fill="none" stroke="#000" stroke-width="2.4" stroke-linejoin="miter"/>
<text x="21.599999999999998" y="268.5" font-size="12.5" text-anchor="start" transform="rotate(-90 21.599999999999998 268.5)">CD4</text>
<text x="26.2" y="291.0" font-size="12.5" text-anchor="start">CD8</text>
<path d="M150.2 222.5V270.2H196.5" fill="none" stroke="#000" stroke-width="2.4" stroke-linejoin="miter"/>
<path d="M143.2 236.5L150.2 222.5L157.2 236.5" fill="none" stroke="#000" stroke-width="2.4" stroke-linejoin="miter"/>
<path d="M182.5 263.2L196.5 270.2L182.5 277.2" fill="none" stroke="#000" stroke-width="2.4" stroke-linejoin="miter"/>
<text x="145.89999999999998" y="266.0" font-size="12.5" text-anchor="start" transform="rotate(-90 145.89999999999998 266.0)">CD44</text>
<text x="149.4" y="291.7" font-size="12.5" text-anchor="start">CD25</text>
<path d="M279.5 222.3V269.5H325.4" fill="none" stroke="#000" stroke-width="2.4" stroke-linejoin="miter"/>
<path d="M272.5 236.3L279.5 222.3L286.5 236.3" fill="none" stroke="#000" stroke-width="2.4" stroke-linejoin="miter"/>
<path d="M311.4 262.5L325.4 269.5L311.4 276.5" fill="none" stroke="#000" stroke-width="2.4" stroke-linejoin="miter"/>
<text x="273.2" y="272.5" font-size="12.5" text-anchor="start" transform="rotate(-90 273.2 272.5)">CD117</text>
<text x="276.9" y="292.9" font-size="12.5" text-anchor="start">CD25</text>
<path d="M407.2 221.9V270.3H452.8" fill="none" stroke="#000" stroke-width="2.4" stroke-linejoin="miter"/>
<path d="M400.2 235.9L407.2 221.9L414.2 235.9" fill="none" stroke="#000" stroke-width="2.4" stroke-linejoin="miter"/>
<path d="M438.8 263.3L452.8 270.3L438.8 277.3" fill="none" stroke="#000" stroke-width="2.4" stroke-linejoin="miter"/>
<text x="399.9" y="268.2" font-size="12.5" text-anchor="start" transform="rotate(-90 399.9 268.2)">CD24</text>
<text x="404.9" y="292.0" font-size="12.5" text-anchor="start">CD117</text>
<text x="18.2" y="311.6" font-size="20.2" text-anchor="start">B</text>
<text x="21.7" y="403" font-size="12.5" text-anchor="start" textLength="73.4" lengthAdjust="spacingAndGlyphs" transform="rotate(-90 21.7 403)">Cell number</text>
<line x1="66.8" y1="321.5" x2="66.8" y2="421" stroke="#000" stroke-width="2.2"/>
<line x1="62.3" y1="321.5" x2="66.8" y2="321.5" stroke="#000" stroke-width="2"/>
<text x="58.00" y="329.40" font-size="12.2" text-anchor="end" textLength="29" lengthAdjust="spacingAndGlyphs">1x10</text>
<text x="57.80" y="325.40" font-size="7.6">9</text>
<line x1="62.3" y1="354.3333333333333" x2="66.8" y2="354.3333333333333" stroke="#000" stroke-width="2"/>
<text x="58.00" y="362.23" font-size="12.2" text-anchor="end" textLength="29" lengthAdjust="spacingAndGlyphs">1x10</text>
<text x="57.80" y="358.23" font-size="7.6">8</text>
<line x1="62.3" y1="387.1666666666667" x2="66.8" y2="387.1666666666667" stroke="#000" stroke-width="2"/>
<text x="58.00" y="395.07" font-size="12.2" text-anchor="end" textLength="29" lengthAdjust="spacingAndGlyphs">1x10</text>
<text x="57.80" y="391.07" font-size="7.6">7</text>
<line x1="62.3" y1="420.0" x2="66.8" y2="420.0" stroke="#000" stroke-width="2"/>
<text x="58.00" y="427.90" font-size="12.2" text-anchor="end" textLength="29" lengthAdjust="spacingAndGlyphs">1x10</text>
<text x="57.80" y="423.90" font-size="7.6">6</text>
<line x1="66.8" y1="419.3" x2="148.5" y2="419.3" stroke="#000" stroke-width="2.2"/>
<line x1="148.5" y1="419.3" x2="148.5" y2="423" stroke="#000" stroke-width="2"/>
<line x1="86.0" y1="351.5" x2="86.0" y2="347.2" stroke="#000" stroke-width="1.8"/>
<line x1="82.5" y1="347.2" x2="89.5" y2="347.2" stroke="#000" stroke-width="2"/>
<rect x="78" y="351.5" width="16" height="68.0" fill="#000" stroke="#000" stroke-width="1.8"/>
<line x1="102.0" y1="344.9" x2="102.0" y2="343.1" stroke="#000" stroke-width="1.8"/>
<line x1="98.5" y1="343.1" x2="105.5" y2="343.1" stroke="#000" stroke-width="2"/>
<rect x="94" y="344.9" width="16" height="74.60000000000002" fill="#fff" stroke="#000" stroke-width="1.8"/>
<line x1="117.1" y1="410.3" x2="117.1" y2="406.9" stroke="#000" stroke-width="1.8"/>
<line x1="113.6" y1="406.9" x2="120.6" y2="406.9" stroke="#000" stroke-width="2"/>
<rect x="110" y="410.3" width="14.200000000000003" height="9.199999999999989" fill="#999" stroke="#000" stroke-width="1.8"/>
<line x1="131.35" y1="377.4" x2="131.35" y2="371.5" stroke="#000" stroke-width="1.8"/>
<line x1="127.85" y1="371.5" x2="134.85" y2="371.5" stroke="#000" stroke-width="2"/>
<rect x="124.2" y="377.4" width="14.299999999999997" height="42.10000000000002" fill="url(#hatch)" stroke="#000" stroke-width="1.8"/>
<path d="M116.3 370.3V330.9H133.5V333.5" fill="none" stroke="#000" stroke-width="1.9"/>
<path d="M121.30 321.80L122.07 323.64L124.06 323.80L122.54 325.10L123.00 327.05L121.30 326.00L119.60 327.05L120.06 325.10L118.54 323.80L120.53 323.64Z" fill="#000"/>
<path d="M127.20 321.80L127.97 323.64L129.96 323.80L128.44 325.10L128.90 327.05L127.20 326.00L125.50 327.05L125.96 325.10L124.44 323.80L126.43 323.64Z" fill="#000"/>
<path d="M133.10 321.80L133.87 323.64L135.86 323.80L134.34 325.10L134.80 327.05L133.10 326.00L131.40 327.05L131.86 325.10L130.34 323.80L132.33 323.64Z" fill="#000"/>
<text x="78.7" y="435" font-size="12.4" text-anchor="start" textLength="71.7" lengthAdjust="spacingAndGlyphs">Thymocytes</text>
<line x1="193.3" y1="319.6" x2="193.3" y2="421.3" stroke="#000" stroke-width="2.2"/>
<line x1="188.8" y1="319.6" x2="193.3" y2="319.6" stroke="#000" stroke-width="2"/>
<text x="183.50" y="327.50" font-size="12.2" text-anchor="end" textLength="29" lengthAdjust="spacingAndGlyphs">1x10</text>
<text x="183.30" y="323.50" font-size="7.6">9</text>
<line x1="188.8" y1="339.74" x2="193.3" y2="339.74" stroke="#000" stroke-width="2"/>
<text x="183.50" y="347.64" font-size="12.2" text-anchor="end" textLength="29" lengthAdjust="spacingAndGlyphs">1x10</text>
<text x="183.30" y="343.64" font-size="7.6">8</text>
<line x1="188.8" y1="359.88" x2="193.3" y2="359.88" stroke="#000" stroke-width="2"/>
<text x="183.50" y="367.78" font-size="12.2" text-anchor="end" textLength="29" lengthAdjust="spacingAndGlyphs">1x10</text>
<text x="183.30" y="363.78" font-size="7.6">7</text>
<line x1="188.8" y1="380.02000000000004" x2="193.3" y2="380.02000000000004" stroke="#000" stroke-width="2"/>
<text x="183.50" y="387.92" font-size="12.2" text-anchor="end" textLength="29" lengthAdjust="spacingAndGlyphs">1x10</text>
<text x="183.30" y="383.92" font-size="7.6">6</text>
<line x1="188.8" y1="400.16" x2="193.3" y2="400.16" stroke="#000" stroke-width="2"/>
<text x="183.50" y="408.06" font-size="12.2" text-anchor="end" textLength="29" lengthAdjust="spacingAndGlyphs">1x10</text>
<text x="183.30" y="404.06" font-size="7.6">5</text>
<line x1="188.8" y1="420.3" x2="193.3" y2="420.3" stroke="#000" stroke-width="2"/>
<text x="183.50" y="428.20" font-size="12.2" text-anchor="end" textLength="29" lengthAdjust="spacingAndGlyphs">1x10</text>
<text x="183.30" y="424.20" font-size="7.6">4</text>
<line x1="193.3" y1="419.6" x2="268.2" y2="419.6" stroke="#000" stroke-width="2.2"/>
<line x1="268.2" y1="419.6" x2="268.2" y2="423" stroke="#000" stroke-width="2"/>
<line x1="209.75" y1="338.8" x2="209.75" y2="337.2" stroke="#000" stroke-width="1.8"/>
<line x1="206.25" y1="337.2" x2="213.25" y2="337.2" stroke="#000" stroke-width="2"/>
<rect x="202.6" y="338.8" width="14.300000000000011" height="80.80000000000001" fill="#000" stroke="#000" stroke-width="1.8"/>
<line x1="223.85000000000002" y1="337" x2="223.85000000000002" y2="336.5" stroke="#000" stroke-width="1.8"/>
<line x1="220.35000000000002" y1="336.5" x2="227.35000000000002" y2="336.5" stroke="#000" stroke-width="2"/>
<rect x="216.9" y="337" width="13.900000000000006" height="82.60000000000002" fill="#fff" stroke="#000" stroke-width="1.8"/>
<line x1="237.0" y1="399.5" x2="237.0" y2="397.2" stroke="#000" stroke-width="1.8"/>
<line x1="233.5" y1="397.2" x2="240.5" y2="397.2" stroke="#000" stroke-width="2"/>
<rect x="230.8" y="399.5" width="12.399999999999977" height="20.100000000000023" fill="#999" stroke="#000" stroke-width="1.8"/>
<line x1="250.5" y1="364.7" x2="250.5" y2="359" stroke="#000" stroke-width="1.8"/>
<line x1="247.0" y1="359" x2="254.0" y2="359" stroke="#000" stroke-width="2"/>
<rect x="243.2" y="364.7" width="14.600000000000023" height="54.900000000000034" fill="url(#hatch)" stroke="#000" stroke-width="1.8"/>
<path d="M237.7 369.5V330.3H255V333" fill="none" stroke="#000" stroke-width="1.9"/>
<path d="M243.90 322.60L244.67 324.44L246.66 324.60L245.14 325.90L245.60 327.85L243.90 326.81L242.20 327.85L242.66 325.90L241.14 324.60L243.13 324.44Z" fill="#000"/>
<path d="M249.75 322.60L250.52 324.44L252.51 324.60L250.99 325.90L251.45 327.85L249.75 326.81L248.05 327.85L248.51 325.90L246.99 324.60L248.98 324.44Z" fill="#000"/>
<path d="M255.60 322.60L256.37 324.44L258.36 324.60L256.84 325.90L257.30 327.85L255.60 326.81L253.90 327.85L254.36 325.90L252.84 324.60L254.83 324.44Z" fill="#000"/>
<text x="224.3" y="433.5" font-size="12.4" text-anchor="start" textLength="17" lengthAdjust="spacingAndGlyphs">DP</text>
<line x1="310.9" y1="321.1" x2="310.9" y2="421.3" stroke="#000" stroke-width="2.2"/>
<line x1="306.4" y1="321.1" x2="310.9" y2="321.1" stroke="#000" stroke-width="2"/>
<text x="302.50" y="329.00" font-size="12.2" text-anchor="end" textLength="29" lengthAdjust="spacingAndGlyphs">1x10</text>
<text x="302.30" y="325.00" font-size="7.6">8</text>
<line x1="306.4" y1="345.90000000000003" x2="310.9" y2="345.90000000000003" stroke="#000" stroke-width="2"/>
<text x="302.50" y="353.80" font-size="12.2" text-anchor="end" textLength="29" lengthAdjust="spacingAndGlyphs">1x10</text>
<text x="302.30" y="349.80" font-size="7.6">7</text>
<line x1="306.4" y1="370.70000000000005" x2="310.9" y2="370.70000000000005" stroke="#000" stroke-width="2"/>
<text x="302.50" y="378.60" font-size="12.2" text-anchor="end" textLength="29" lengthAdjust="spacingAndGlyphs">1x10</text>
<text x="302.30" y="374.60" font-size="7.6">6</text>
<line x1="306.4" y1="395.5" x2="310.9" y2="395.5" stroke="#000" stroke-width="2"/>
<text x="302.50" y="403.40" font-size="12.2" text-anchor="end" textLength="29" lengthAdjust="spacingAndGlyphs">1x10</text>
<text x="302.30" y="399.40" font-size="7.6">5</text>
<line x1="306.4" y1="420.3" x2="310.9" y2="420.3" stroke="#000" stroke-width="2"/>
<text x="302.50" y="428.20" font-size="12.2" text-anchor="end" textLength="29" lengthAdjust="spacingAndGlyphs">1x10</text>
<text x="302.30" y="424.20" font-size="7.6">4</text>
<line x1="311.1" y1="420.3" x2="383" y2="420.3" stroke="#000" stroke-width="2.2"/>
<line x1="383" y1="420.3" x2="383" y2="424" stroke="#000" stroke-width="2"/>
<line x1="327.0" y1="336.5" x2="327.0" y2="334.5" stroke="#000" stroke-width="1.8"/>
<line x1="323.5" y1="334.5" x2="330.5" y2="334.5" stroke="#000" stroke-width="2"/>
<rect x="319.6" y="336.5" width="14.799999999999955" height="83.80000000000001" fill="#000" stroke="#000" stroke-width="1.8"/>
<line x1="341.6" y1="328.5" x2="341.6" y2="325.7" stroke="#000" stroke-width="1.8"/>
<line x1="338.1" y1="325.7" x2="345.1" y2="325.7" stroke="#000" stroke-width="2"/>
<rect x="334.4" y="328.5" width="14.400000000000034" height="91.80000000000001" fill="#fff" stroke="#000" stroke-width="1.8"/>
<line x1="356.15" y1="404.2" x2="356.15" y2="402" stroke="#000" stroke-width="1.8"/>
<line x1="352.65" y1="402" x2="359.65" y2="402" stroke="#000" stroke-width="2"/>
<rect x="348.8" y="404.2" width="14.699999999999989" height="16.100000000000023" fill="#999" stroke="#000" stroke-width="1.8"/>
<line x1="370.4" y1="352.2" x2="370.4" y2="348.5" stroke="#000" stroke-width="1.8"/>
<line x1="366.9" y1="348.5" x2="373.9" y2="348.5" stroke="#000" stroke-width="2"/>
<rect x="363.5" y="352.2" width="13.800000000000011" height="68.10000000000002" fill="url(#hatch)" stroke="#000" stroke-width="1.8"/>
<path d="M355 371V330.8H371.5V333" fill="none" stroke="#000" stroke-width="1.9"/>
<path d="M361.30 323.50L362.07 325.34L364.06 325.50L362.54 326.80L363.00 328.75L361.30 327.70L359.60 328.75L360.06 326.80L358.54 325.50L360.53 325.34Z" fill="#000"/>
<path d="M367.05 323.50L367.82 325.34L369.81 325.50L368.29 326.80L368.75 328.75L367.05 327.70L365.35 328.75L365.81 326.80L364.29 325.50L366.28 325.34Z" fill="#000"/>
<path d="M372.80 323.50L373.57 325.34L375.56 325.50L374.04 326.80L374.50 328.75L372.80 327.70L371.10 328.75L371.56 326.80L370.04 325.50L372.03 325.34Z" fill="#000"/>
<text x="333.5" y="433.5" font-size="12.4" text-anchor="start" textLength="40.3" lengthAdjust="spacingAndGlyphs">TCRαβ</text>
<line x1="428.1" y1="322.8" x2="428.1" y2="421.3" stroke="#000" stroke-width="2.2"/>
<line x1="423.6" y1="322.8" x2="428.1" y2="322.8" stroke="#000" stroke-width="2"/>
<text x="417.90" y="330.70" font-size="12.2" text-anchor="end" textLength="29" lengthAdjust="spacingAndGlyphs">1x10</text>
<text x="417.70" y="326.70" font-size="7.6">6</text>
<line x1="423.6" y1="371.55" x2="428.1" y2="371.55" stroke="#000" stroke-width="2"/>
<text x="417.90" y="379.45" font-size="12.2" text-anchor="end" textLength="29" lengthAdjust="spacingAndGlyphs">1x10</text>
<text x="417.70" y="375.45" font-size="7.6">5</text>
<line x1="423.6" y1="420.3" x2="428.1" y2="420.3" stroke="#000" stroke-width="2"/>
<text x="417.90" y="428.20" font-size="12.2" text-anchor="end" textLength="29" lengthAdjust="spacingAndGlyphs">1x10</text>
<text x="417.70" y="424.20" font-size="7.6">4</text>
<line x1="428.1" y1="420.3" x2="502" y2="420.3" stroke="#000" stroke-width="2.2"/>
<line x1="502" y1="420.3" x2="502" y2="424" stroke="#000" stroke-width="2"/>
<line x1="443.7" y1="344.2" x2="443.7" y2="335.4" stroke="#000" stroke-width="1.8"/>
<line x1="440.2" y1="335.4" x2="447.2" y2="335.4" stroke="#000" stroke-width="2"/>
<rect x="436.4" y="344.2" width="14.600000000000023" height="76.10000000000002" fill="#000" stroke="#000" stroke-width="1.8"/>
<line x1="457.85" y1="330.3" x2="457.85" y2="324.3" stroke="#000" stroke-width="1.8"/>
<line x1="454.35" y1="324.3" x2="461.35" y2="324.3" stroke="#000" stroke-width="2"/>
<rect x="451" y="330.3" width="13.699999999999989" height="90.0" fill="#fff" stroke="#000" stroke-width="1.8"/>
<line x1="471.04999999999995" y1="377.6" x2="471.04999999999995" y2="376" stroke="#000" stroke-width="1.8"/>
<line x1="467.54999999999995" y1="376" x2="474.54999999999995" y2="376" stroke="#000" stroke-width="2"/>
<rect x="464.7" y="377.6" width="12.699999999999989" height="42.69999999999999" fill="#999" stroke="#000" stroke-width="1.8"/>
<line x1="484.45" y1="344.6" x2="484.45" y2="335" stroke="#000" stroke-width="1.8"/>
<line x1="480.95" y1="335" x2="487.95" y2="335" stroke="#000" stroke-width="2"/>
<rect x="477.4" y="344.6" width="14.100000000000023" height="75.69999999999999" fill="url(#hatch)" stroke="#000" stroke-width="1.8"/>
<path d="M473.5 375.8V330.8H490.8V332.6" fill="none" stroke="#000" stroke-width="1.9"/>
<path d="M479.40 322.90L480.17 324.74L482.16 324.90L480.64 326.20L481.10 328.15L479.40 327.11L477.70 328.15L478.16 326.20L476.64 324.90L478.63 324.74Z" fill="#000"/>
<path d="M484.10 322.90L484.87 324.74L486.86 324.90L485.34 326.20L485.80 328.15L484.10 327.11L482.40 328.15L482.86 326.20L481.34 324.90L483.33 324.74Z" fill="#000"/>
<text x="453" y="433.5" font-size="12.4" text-anchor="start" textLength="38.5" lengthAdjust="spacingAndGlyphs">TCRγδ</text>
<line x1="45.2" y1="446.0" x2="45.2" y2="544.25" stroke="#000" stroke-width="2.2"/>
<line x1="40.7" y1="446.0" x2="45.2" y2="446.0" stroke="#000" stroke-width="2"/>
<text x="36.50" y="453.90" font-size="12.2" text-anchor="end" textLength="29" lengthAdjust="spacingAndGlyphs">1x10</text>
<text x="36.30" y="449.90" font-size="7.6">8</text>
<line x1="40.7" y1="465.45" x2="45.2" y2="465.45" stroke="#000" stroke-width="2"/>
<text x="36.50" y="473.35" font-size="12.2" text-anchor="end" textLength="29" lengthAdjust="spacingAndGlyphs">1x10</text>
<text x="36.30" y="469.35" font-size="7.6">7</text>
<line x1="40.7" y1="484.9" x2="45.2" y2="484.9" stroke="#000" stroke-width="2"/>
<text x="36.50" y="492.80" font-size="12.2" text-anchor="end" textLength="29" lengthAdjust="spacingAndGlyphs">1x10</text>
<text x="36.30" y="488.80" font-size="7.6">6</text>
<line x1="40.7" y1="504.35" x2="45.2" y2="504.35" stroke="#000" stroke-width="2"/>
<text x="36.50" y="512.25" font-size="12.2" text-anchor="end" textLength="29" lengthAdjust="spacingAndGlyphs">1x10</text>
<text x="36.30" y="508.25" font-size="7.6">5</text>
<line x1="40.7" y1="523.8" x2="45.2" y2="523.8" stroke="#000" stroke-width="2"/>
<text x="36.50" y="531.70" font-size="12.2" text-anchor="end" textLength="29" lengthAdjust="spacingAndGlyphs">1x10</text>
<text x="36.30" y="527.70" font-size="7.6">4</text>
<line x1="40.7" y1="543.25" x2="45.2" y2="543.25" stroke="#000" stroke-width="2"/>
<text x="36.50" y="551.15" font-size="12.2" text-anchor="end" textLength="29" lengthAdjust="spacingAndGlyphs">1x10</text>
<text x="36.30" y="547.15" font-size="7.6">3</text>
<line x1="45.2" y1="543.25" x2="330" y2="543.25" stroke="#000" stroke-width="2.2"/>
<line x1="117.5" y1="543.25" x2="117.5" y2="547.5" stroke="#000" stroke-width="2"/>
<line x1="190.6" y1="543.25" x2="190.6" y2="547.5" stroke="#000" stroke-width="2"/>
<line x1="263.8" y1="543.25" x2="263.8" y2="547.5" stroke="#000" stroke-width="2"/>
<line x1="330" y1="543.25" x2="330" y2="547.5" stroke="#000" stroke-width="2"/>
<line x1="62.075" y1="489.5" x2="62.075" y2="486.5" stroke="#000" stroke-width="1.8"/>
<line x1="58.575" y1="486.5" x2="65.575" y2="486.5" stroke="#000" stroke-width="2"/>
<rect x="55.25" y="489.5" width="13.650000000000006" height="53.75" fill="#000" stroke="#000" stroke-width="1.8"/>
<line x1="75.65" y1="485" x2="75.65" y2="483" stroke="#000" stroke-width="1.8"/>
<line x1="72.15" y1="483" x2="79.15" y2="483" stroke="#000" stroke-width="2"/>
<rect x="68.9" y="485" width="13.5" height="58.25" fill="#fff" stroke="#000" stroke-width="1.8"/>
<line x1="88.9" y1="524.2" x2="88.9" y2="519.5" stroke="#000" stroke-width="1.8"/>
<line x1="85.4" y1="519.5" x2="92.4" y2="519.5" stroke="#000" stroke-width="2"/>
<rect x="82.4" y="524.2" width="13.0" height="19.049999999999955" fill="#999" stroke="#000" stroke-width="1.8"/>
<line x1="101.6" y1="495" x2="101.6" y2="492.8" stroke="#000" stroke-width="1.8"/>
<line x1="98.1" y1="492.8" x2="105.1" y2="492.8" stroke="#000" stroke-width="2"/>
<rect x="95.4" y="495" width="12.399999999999991" height="48.25" fill="url(#hatch)" stroke="#000" stroke-width="1.8"/>
<line x1="134.3" y1="499.6" x2="134.3" y2="497.4" stroke="#000" stroke-width="1.8"/>
<line x1="130.8" y1="497.4" x2="137.8" y2="497.4" stroke="#000" stroke-width="2"/>
<rect x="126.9" y="499.6" width="14.799999999999983" height="43.64999999999998" fill="#000" stroke="#000" stroke-width="1.8"/>
<line x1="148.45" y1="482.2" x2="148.45" y2="481" stroke="#000" stroke-width="1.8"/>
<line x1="144.95" y1="481" x2="151.95" y2="481" stroke="#000" stroke-width="2"/>
<rect x="141.7" y="482.2" width="13.5" height="61.05000000000001" fill="#fff" stroke="#000" stroke-width="1.8"/>
<line x1="161.85" y1="522.8" x2="161.85" y2="518.2" stroke="#000" stroke-width="1.8"/>
<line x1="158.35" y1="518.2" x2="165.35" y2="518.2" stroke="#000" stroke-width="2"/>
<rect x="155.2" y="522.8" width="13.300000000000011" height="20.450000000000045" fill="#999" stroke="#000" stroke-width="1.8"/>
<line x1="174.65" y1="500.6" x2="174.65" y2="495.6" stroke="#000" stroke-width="1.8"/>
<line x1="171.15" y1="495.6" x2="178.15" y2="495.6" stroke="#000" stroke-width="2"/>
<rect x="168.5" y="500.6" width="12.300000000000011" height="42.64999999999998" fill="url(#hatch)" stroke="#000" stroke-width="1.8"/>
<line x1="206.75" y1="474.4" x2="206.75" y2="472.4" stroke="#000" stroke-width="1.8"/>
<line x1="203.25" y1="472.4" x2="210.25" y2="472.4" stroke="#000" stroke-width="2"/>
<rect x="199.8" y="474.4" width="13.899999999999977" height="68.85000000000002" fill="#000" stroke="#000" stroke-width="1.8"/>
<line x1="220.75" y1="462.2" x2="220.75" y2="460.4" stroke="#000" stroke-width="1.8"/>
<line x1="217.25" y1="460.4" x2="224.25" y2="460.4" stroke="#000" stroke-width="2"/>
<rect x="213.7" y="462.2" width="14.100000000000023" height="81.05000000000001" fill="#fff" stroke="#000" stroke-width="1.8"/>
<line x1="234.3" y1="499.6" x2="234.3" y2="496.4" stroke="#000" stroke-width="1.8"/>
<line x1="230.8" y1="496.4" x2="237.8" y2="496.4" stroke="#000" stroke-width="2"/>
<rect x="227.8" y="499.6" width="13.0" height="43.64999999999998" fill="#999" stroke="#000" stroke-width="1.8"/>
<line x1="246.9" y1="483.4" x2="246.9" y2="478.8" stroke="#000" stroke-width="1.8"/>
<line x1="243.4" y1="478.8" x2="250.4" y2="478.8" stroke="#000" stroke-width="2"/>
<rect x="240.8" y="483.4" width="12.199999999999989" height="59.85000000000002" fill="url(#hatch)" stroke="#000" stroke-width="1.8"/>
<line x1="279.6" y1="473.4" x2="279.6" y2="470.8" stroke="#000" stroke-width="1.8"/>
<line x1="276.1" y1="470.8" x2="283.1" y2="470.8" stroke="#000" stroke-width="2"/>
<rect x="272.3" y="473.4" width="14.599999999999966" height="69.85000000000002" fill="#000" stroke="#000" stroke-width="1.8"/>
<line x1="293.6" y1="457.4" x2="293.6" y2="456.4" stroke="#000" stroke-width="1.8"/>
<line x1="290.1" y1="456.4" x2="297.1" y2="456.4" stroke="#000" stroke-width="2"/>
<rect x="286.9" y="457.4" width="13.400000000000034" height="85.85000000000002" fill="#fff" stroke="#000" stroke-width="1.8"/>
<line x1="307.05" y1="519.8" x2="307.05" y2="515.2" stroke="#000" stroke-width="1.8"/>
<line x1="303.55" y1="515.2" x2="310.55" y2="515.2" stroke="#000" stroke-width="2"/>
<rect x="300.3" y="519.8" width="13.5" height="23.450000000000045" fill="#999" stroke="#000" stroke-width="1.8"/>
<line x1="320.25" y1="499.1" x2="320.25" y2="495.6" stroke="#000" stroke-width="1.8"/>
<line x1="316.75" y1="495.6" x2="323.75" y2="495.6" stroke="#000" stroke-width="2"/>
<rect x="313.8" y="499.1" width="12.899999999999977" height="44.14999999999998" fill="url(#hatch)" stroke="#000" stroke-width="1.8"/>
<path d="M88.75 503V463.2H107V465.5" fill="none" stroke="#000" stroke-width="1.9"/>
<path d="M94.80 454.50L95.57 456.34L97.56 456.50L96.04 457.80L96.50 459.75L94.80 458.70L93.10 459.75L93.56 457.80L92.04 456.50L94.03 456.34Z" fill="#000"/>
<path d="M100.33 454.50L101.09 456.34L103.08 456.50L101.57 457.80L102.03 459.75L100.33 458.70L98.62 459.75L99.08 457.80L97.57 456.50L99.56 456.34Z" fill="#000"/>
<path d="M105.85 454.50L106.62 456.34L108.61 456.50L107.09 457.80L107.55 459.75L105.85 458.70L104.15 459.75L104.61 457.80L103.09 456.50L105.08 456.34Z" fill="#000"/>
<path d="M169.40 454.30L170.17 456.14L172.16 456.30L170.64 457.60L171.10 459.55L169.40 458.50L167.70 459.55L168.16 457.60L166.64 456.30L168.63 456.14Z" fill="#000"/>
<path d="M175.35 454.30L176.12 456.14L178.11 456.30L176.59 457.60L177.05 459.55L175.35 458.50L173.65 459.55L174.11 457.60L172.59 456.30L174.58 456.14Z" fill="#000"/>
<path d="M181.30 454.30L182.07 456.14L184.06 456.30L182.54 457.60L183.00 459.55L181.30 458.50L179.60 459.55L180.06 457.60L178.54 456.30L180.53 456.14Z" fill="#000"/>
<path d="M247.80 454.60L248.57 456.44L250.56 456.60L249.04 457.90L249.50 459.85L247.80 458.81L246.10 459.85L246.56 457.90L245.04 456.60L247.03 456.44Z" fill="#000"/>
<path d="M321.30 454.60L322.07 456.44L324.06 456.60L322.54 457.90L323.00 459.85L321.30 458.81L319.60 459.85L320.06 457.90L318.54 456.60L320.53 456.44Z" fill="#000"/>
<text x="72.5" y="558" font-size="12.4" text-anchor="start" textLength="22.5" lengthAdjust="spacingAndGlyphs">DN1</text>
<text x="145.4" y="558" font-size="12.4" text-anchor="start" textLength="26" lengthAdjust="spacingAndGlyphs">DN2</text>
<text x="219" y="558" font-size="12.4" text-anchor="start" textLength="26.4" lengthAdjust="spacingAndGlyphs">DN3</text>
<text x="291.7" y="558" font-size="12.4" text-anchor="start" textLength="25.1" lengthAdjust="spacingAndGlyphs">DN4</text>
<rect x="329" y="447" width="14" height="7.2" fill="#000" stroke="#000" stroke-width="1.7"/>
<rect x="329" y="470.4" width="14" height="7.3" fill="#fff" stroke="#000" stroke-width="1.7"/>
<rect x="329" y="495.4" width="14" height="6.9" fill="#999" stroke="#000" stroke-width="1.7"/>
<rect x="329" y="518.9" width="14" height="7.8" fill="url(#hatch)" stroke="#000" stroke-width="1.7"/>
<text x="346.8" y="452.6" font-size="9.9" text-anchor="start" textLength="14.8" lengthAdjust="spacingAndGlyphs">WT</text>
<text x="346.8" y="477.6" font-size="9.9" text-anchor="start" textLength="36" lengthAdjust="spacingAndGlyphs">Bcl-2Tg</text>
<text x="346.8" y="500.3" font-size="9.9" text-anchor="start" textLength="41.5" lengthAdjust="spacingAndGlyphs">Miz-1<tspan baseline-shift="3" font-size="6.2">ΔPOZ</tspan></text>
<text x="346.8" y="520" font-size="9.9" text-anchor="start" textLength="41.5" lengthAdjust="spacingAndGlyphs">Miz-1<tspan baseline-shift="3" font-size="6.2">ΔPOZ</tspan></text>
<text x="367" y="531.3" font-size="9.9" text-anchor="middle">x</text>
<text x="350.9" y="543.8" font-size="9.9" text-anchor="start" textLength="36" lengthAdjust="spacingAndGlyphs">Bcl-2Tg</text>
<line x1="429.2" y1="445.1" x2="429.2" y2="543.5" stroke="#000" stroke-width="2.2"/>
<line x1="424.7" y1="445.1" x2="429.2" y2="445.1" stroke="#000" stroke-width="2"/>
<text x="419.50" y="453.00" font-size="12.2" text-anchor="end" textLength="29" lengthAdjust="spacingAndGlyphs">1x10</text>
<text x="419.30" y="449.00" font-size="7.6">6</text>
<line x1="424.7" y1="464.58000000000004" x2="429.2" y2="464.58000000000004" stroke="#000" stroke-width="2"/>
<text x="419.50" y="472.48" font-size="12.2" text-anchor="end" textLength="29" lengthAdjust="spacingAndGlyphs">1x10</text>
<text x="419.30" y="468.48" font-size="7.6">5</text>
<line x1="424.7" y1="484.06" x2="429.2" y2="484.06" stroke="#000" stroke-width="2"/>
<text x="419.50" y="491.96" font-size="12.2" text-anchor="end" textLength="29" lengthAdjust="spacingAndGlyphs">1x10</text>
<text x="419.30" y="487.96" font-size="7.6">4</text>
<line x1="424.7" y1="503.54" x2="429.2" y2="503.54" stroke="#000" stroke-width="2"/>
<text x="419.50" y="511.44" font-size="12.2" text-anchor="end" textLength="29" lengthAdjust="spacingAndGlyphs">1x10</text>
<text x="419.30" y="507.44" font-size="7.6">3</text>
<line x1="424.7" y1="523.02" x2="429.2" y2="523.02" stroke="#000" stroke-width="2"/>
<text x="419.50" y="530.92" font-size="12.2" text-anchor="end" textLength="29" lengthAdjust="spacingAndGlyphs">1x10</text>
<text x="419.30" y="526.92" font-size="7.6">2</text>
<line x1="424.7" y1="542.5" x2="429.2" y2="542.5" stroke="#000" stroke-width="2"/>
<text x="419.50" y="550.40" font-size="12.2" text-anchor="end" textLength="29" lengthAdjust="spacingAndGlyphs">1x10</text>
<text x="419.30" y="546.40" font-size="7.6">1</text>
<line x1="429.25" y1="542.5" x2="502.5" y2="542.5" stroke="#000" stroke-width="2.2"/>
<line x1="502.5" y1="542.5" x2="502.5" y2="546.5" stroke="#000" stroke-width="2"/>
<line x1="444.55" y1="483.75" x2="444.55" y2="480.75" stroke="#000" stroke-width="1.8"/>
<line x1="441.05" y1="480.75" x2="448.05" y2="480.75" stroke="#000" stroke-width="2"/>
<rect x="437.5" y="483.75" width="14.100000000000023" height="58.75" fill="#000" stroke="#000" stroke-width="1.8"/>
<line x1="458.3" y1="464.5" x2="458.3" y2="462.5" stroke="#000" stroke-width="1.8"/>
<line x1="454.8" y1="462.5" x2="461.8" y2="462.5" stroke="#000" stroke-width="2"/>
<rect x="451.6" y="464.5" width="13.399999999999977" height="78.0" fill="#fff" stroke="#000" stroke-width="1.8"/>
<line x1="471.3" y1="513.75" x2="471.3" y2="509.5" stroke="#000" stroke-width="1.8"/>
<line x1="467.8" y1="509.5" x2="474.8" y2="509.5" stroke="#000" stroke-width="2"/>
<rect x="465" y="513.75" width="12.600000000000023" height="28.75" fill="#999" stroke="#000" stroke-width="1.8"/>
<line x1="484.3" y1="474.25" x2="484.3" y2="470.5" stroke="#000" stroke-width="1.8"/>
<line x1="480.8" y1="470.5" x2="487.8" y2="470.5" stroke="#000" stroke-width="2"/>
<rect x="477.6" y="474.25" width="13.399999999999977" height="68.25" fill="url(#hatch)" stroke="#000" stroke-width="1.8"/>
<path d="M471.75 502.5V462H489.25V465" fill="none" stroke="#000" stroke-width="1.9"/>
<path d="M477.90 454.30L478.67 456.14L480.66 456.30L479.14 457.60L479.60 459.55L477.90 458.50L476.20 459.55L476.66 457.60L475.14 456.30L477.13 456.14Z" fill="#000"/>
<path d="M483.75 454.30L484.52 456.14L486.51 456.30L484.99 457.60L485.45 459.55L483.75 458.50L482.05 459.55L482.51 457.60L480.99 456.30L482.98 456.14Z" fill="#000"/>
<path d="M489.60 454.30L490.37 456.14L492.36 456.30L490.84 457.60L491.30 459.55L489.60 458.50L487.90 459.55L488.36 457.60L486.84 456.30L488.83 456.14Z" fill="#000"/>
<text x="454" y="557.5" font-size="12.4" text-anchor="start" textLength="23.5" lengthAdjust="spacingAndGlyphs">ETP</text>
<text x="17.2" y="575.6" font-size="20.2" text-anchor="start">C</text>
<line x1="44.5" y1="575.75" x2="486.4" y2="575.75" stroke="#000" stroke-width="2.2"/>
<text x="243.75" y="573" font-size="12" text-anchor="start" textLength="23.75" lengthAdjust="spacingAndGlyphs">ETP</text>
<text x="90" y="592.5" font-size="12.5" text-anchor="start" textLength="20" lengthAdjust="spacingAndGlyphs">WT</text>
<text x="190" y="593.6" font-size="12.5" text-anchor="start" textLength="54" lengthAdjust="spacingAndGlyphs">Miz-1<tspan dy="-4" font-size="8">ΔPOZ</tspan></text>
<text x="297" y="594.5" font-size="12.5" text-anchor="start" textLength="46.7" lengthAdjust="spacingAndGlyphs">Bcl-2Tg</text>
<text x="374.6" y="593" font-size="12.5" text-anchor="start" textLength="114.2" lengthAdjust="spacingAndGlyphs">Miz-1<tspan dy="-4" font-size="8">ΔPOZ</tspan><tspan dy="4"> x Bcl-2Tg</tspan></text>
<text x="28.75" y="605" font-size="12.5" text-anchor="start" textLength="153.3" lengthAdjust="spacingAndGlyphs">Lin (no CD4)<tspan baseline-shift="4.8" font-size="7.8">-</tspan>CD25<tspan baseline-shift="4.8" font-size="7.8">-</tspan>Sca1<tspan baseline-shift="4.8" font-size="7.8">+</tspan></text>
<clipPath id="c9"><rect x="51" y="608" width="97" height="82"/></clipPath><g clip-path="url(#c9)">
<ellipse cx="66" cy="650" rx="9" ry="22" fill="#c0d0f0" opacity="0.6" filter="url(#b4)" transform="rotate(0 66 650)"/>
<path d="M65.1 655.0h0.6M68.8 634.6h0.6M63.6 642.4h0.6M62.8 645.8h0.6M62.9 621.4h0.6M63.4 649.0h0.6M60.6 638.2h0.6M59.8 672.1h0.6M67.4 645.2h0.6M59.4 655.1h0.6M61.0 670.4h0.6M68.2 646.1h0.6M66.1 636.0h0.6M56.8 660.7h0.6M70.4 643.4h0.6M61.3 621.0h0.6M72.6 629.9h0.6M59.4 645.1h0.6M68.6 648.8h0.6M63.4 648.3h0.6M67.1 647.4h0.6M64.2 646.9h0.6M58.8 668.2h0.6M60.6 628.1h0.6M61.7 648.5h0.6M67.0 625.9h0.6M58.2 650.7h0.6M65.1 631.5h0.6M58.7 650.6h0.6M62.9 623.6h0.6M59.8 670.4h0.6M59.0 663.8h0.6M57.0 670.4h0.6M70.3 638.5h0.6M60.6 657.5h0.6M58.3 656.3h0.6M68.7 652.0h0.6M64.9 645.6h0.6M67.7 635.7h0.6M70.2 647.6h0.6M62.1 623.4h0.6M61.6 651.6h0.6M68.8 623.7h0.6M63.0 637.7h0.6M58.5 648.1h0.6M60.3 661.1h0.6M52.1 659.1h0.6M55.5 618.6h0.6M65.7 642.9h0.6M64.0 633.4h0.6M59.1 636.9h0.6M63.3 635.3h0.6M61.7 635.0h0.6M64.5 630.9h0.6M54.7 608.5h0.6M63.4 649.4h0.6M67.6 636.8h0.6M58.7 625.5h0.6M66.7 638.6h0.6M67.7 646.8h0.6M62.3 620.0h0.6M60.6 659.9h0.6M60.9 658.2h0.6M56.6 663.3h0.6M75.2 664.8h0.6M64.9 629.4h0.6M61.3 638.1h0.6M64.3 617.6h0.6M59.9 659.9h0.6M64.1 659.2h0.6M67.1 630.8h0.6M57.8 655.0h0.6M63.6 649.2h0.6M60.1 663.3h0.6M65.6 665.2h0.6M62.0 658.4h0.6M63.3 633.8h0.6M63.2 623.1h0.6M62.7 650.7h0.6M66.4 632.1h0.6M57.9 637.0h0.6M54.8 638.2h0.6M74.5 650.2h0.6M60.3 637.8h0.6M71.0 630.5h0.6M63.0 646.8h0.6M60.4 637.2h0.6M56.4 635.4h0.6M69.0 669.3h0.6M62.3 658.6h0.6M65.4 649.7h0.6M62.9 666.3h0.6M65.9 644.6h0.6M62.5 662.1h0.6M61.0 637.2h0.6M62.3 640.5h0.6M68.8 653.4h0.6M63.1 640.1h0.6M69.5 654.6h0.6M72.3 661.7h0.6M62.6 639.7h0.6M62.3 650.7h0.6M66.8 655.3h0.6M70.1 625.1h0.6M63.6 626.6h0.6M59.2 638.9h0.6M60.8 633.4h0.6M57.1 665.1h0.6M62.2 662.5h0.6M58.8 613.1h0.6M61.0 661.2h0.6M61.1 653.9h0.6M59.0 668.9h0.6M65.3 663.8h0.6M62.3 667.3h0.6M63.8 640.6h0.6M60.8 648.8h0.6M59.7 630.0h0.6M64.0 658.7h0.6M62.3 660.6h0.6M70.2 628.9h0.6M64.6 633.5h0.6M60.8 650.7h0.6M53.5 657.1h0.6M67.0 656.2h0.6M66.2 675.3h0.6M62.0 664.4h0.6M69.6 655.4h0.6M56.0 645.6h0.6M62.3 623.6h0.6M63.2 659.4h0.6M62.4 645.3h0.6M69.7 638.7h0.6M59.5 648.6h0.6M68.2 656.9h0.6M63.8 640.6h0.6M68.7 661.3h0.6M56.2 653.0h0.6M53.4 670.5h0.6M66.1 638.5h0.6M58.1 643.5h0.6M56.1 656.5h0.6M61.3 621.4h0.6M63.4 665.8h0.6M58.1 642.6h0.6M71.1 650.8h0.6M61.2 650.8h0.6M66.8 632.9h0.6M63.1 623.4h0.6M56.8 624.8h0.6M67.1 652.6h0.6M66.6 666.3h0.6M63.7 651.5h0.6M65.2 655.0h0.6M59.0 643.9h0.6M62.9 648.5h0.6M60.3 646.0h0.6M64.7 650.8h0.6M66.0 660.3h0.6M65.8 662.5h0.6M67.0 668.9h0.6M66.1 638.7h0.6M73.3 664.9h0.6M68.8 659.0h0.6M63.7 630.8h0.6M65.3 642.6h0.6M61.8 615.9h0.6M70.0 630.4h0.6M58.9 655.0h0.6M65.9 636.1h0.6M63.5 651.8h0.6M64.2 655.9h0.6M66.8 642.5h0.6M56.7 680.5h0.6M61.9 633.1h0.6M66.7 656.8h0.6M60.9 683.3h0.6M53.6 667.2h0.6M63.3 652.6h0.6M64.8 644.5h0.6M64.8 628.4h0.6M61.8 675.8h0.6M52.6 666.5h0.6M54.1 635.2h0.6M67.2 641.8h0.6M61.1 625.4h0.6M63.0 645.3h0.6M60.8 624.5h0.6M64.2 654.3h0.6M68.3 655.7h0.6M69.9 666.0h0.6M51.6 673.0h0.6M63.1 632.2h0.6M65.3 662.4h0.6M57.0 629.4h0.6M66.4 639.7h0.6M69.6 651.2h0.6M61.2 628.0h0.6M66.0 622.1h0.6M58.0 628.2h0.6M70.7 673.6h0.6M62.6 642.2h0.6M66.4 666.7h0.6M60.1 681.1h0.6M62.6 665.0h0.6M53.5 647.2h0.6M60.6 677.9h0.6M62.6 628.8h0.6M71.7 637.7h0.6M63.5 629.2h0.6M66.4 650.9h0.6M62.3 641.9h0.6M61.1 637.2h0.6M57.6 666.1h0.6M67.3 627.0h0.6M58.6 654.1h0.6M73.0 644.9h0.6M62.2 644.2h0.6M64.5 645.3h0.6M68.1 662.8h0.6M65.8 671.7h0.6M62.5 639.7h0.6M76.1 618.9h0.6M56.9 612.5h0.6M65.0 631.9h0.6M68.0 616.4h0.6M62.9 642.1h0.6M58.9 664.8h0.6M61.8 654.8h0.6M61.3 650.2h0.6M61.6 649.1h0.6M63.1 637.7h0.6M65.3 645.2h0.6M59.4 632.2h0.6M65.4 668.0h0.6M58.0 641.7h0.6M65.4 663.7h0.6M66.5 630.2h0.6M63.6 661.5h0.6M64.5 644.6h0.6M58.5 650.5h0.6M63.2 648.5h0.6M69.8 665.9h0.6M60.1 651.5h0.6M62.2 649.5h0.6M70.4 661.8h0.6M63.7 638.1h0.6M62.8 653.5h0.6M61.4 664.6h0.6M63.6 630.2h0.6M62.4 646.2h0.6M67.7 664.8h0.6M69.6 671.5h0.6M64.8 649.7h0.6M67.8 647.6h0.6M58.2 641.1h0.6M66.3 657.2h0.6M58.8 666.0h0.6M64.8 625.4h0.6M65.5 663.1h0.6M65.7 643.3h0.6M60.1 664.9h0.6M64.5 647.9h0.6M61.8 632.4h0.6M55.6 642.8h0.6M68.2 659.5h0.6M60.6 671.0h0.6M62.5 632.8h0.6M67.6 668.8h0.6M61.9 629.6h0.6M63.2 611.4h0.6M63.7 670.9h0.6M64.7 636.9h0.6M66.5 640.6h0.6M68.8 642.6h0.6M72.1 642.7h0.6M64.3 633.9h0.6M58.1 653.2h0.6M65.0 633.4h0.6M65.9 641.8h0.6M61.2 646.9h0.6M65.2 658.9h0.6M68.7 653.7h0.6M60.4 637.7h0.6M65.1 630.0h0.6M62.8 642.2h0.6M63.1 650.7h0.6M67.9 672.7h0.6M67.2 663.2h0.6M59.0 663.6h0.6M69.0 627.6h0.6M74.1 639.5h0.6M53.5 674.6h0.6M63.8 635.9h0.6M61.1 664.1h0.6M64.6 642.3h0.6M68.4 633.9h0.6M59.9 639.5h0.6M60.3 658.4h0.6M62.5 632.2h0.6M61.6 618.1h0.6M64.2 649.5h0.6M66.1 644.5h0.6M65.2 633.9h0.6M63.6 650.3h0.6M58.4 656.8h0.6M64.1 648.8h0.6M61.5 678.1h0.6M63.5 636.5h0.6M59.9 656.9h0.6M62.6 636.1h0.6M60.4 662.0h0.6M63.9 663.8h0.6M63.4 630.2h0.6M67.2 652.8h0.6M60.7 643.3h0.6M59.4 660.5h0.6M61.7 655.2h0.6M64.6 644.1h0.6M65.1 644.3h0.6M58.5 641.7h0.6M58.5 659.3h0.6M66.2 639.2h0.6M66.1 651.7h0.6M67.6 634.0h0.6M63.6 633.1h0.6M60.6 668.5h0.6M55.0 634.3h0.6M65.5 659.6h0.6M60.2 617.5h0.6M56.3 653.5h0.6M68.1 661.6h0.6M60.4 668.3h0.6M62.7 657.2h0.6M62.7 671.9h0.6M61.3 615.8h0.6M62.2 650.8h0.6M64.7 637.2h0.6M62.5 631.0h0.6M62.5 649.3h0.6M64.5 672.6h0.6M55.1 655.8h0.6M65.3 630.6h0.6M63.8 647.9h0.6M59.3 658.8h0.6M71.5 658.1h0.6M66.8 664.0h0.6M63.0 662.6h0.6M60.1 650.7h0.6M66.5 667.6h0.6M62.3 643.6h0.6M65.5 646.8h0.6M64.1 660.0h0.6M60.3 661.1h0.6M65.1 644.0h0.6M58.3 638.6h0.6M63.3 662.0h0.6M55.2 658.6h0.6M64.3 631.1h0.6M67.1 653.9h0.6M65.3 633.4h0.6M58.9 661.6h0.6M69.4 653.5h0.6M62.7 641.3h0.6M56.3 662.7h0.6M63.1 666.4h0.6M60.5 663.7h0.6M60.5 656.7h0.6M69.2 637.5h0.6M67.3 647.9h0.6M59.6 651.0h0.6M66.2 637.4h0.6M62.4 639.5h0.6M60.3 644.9h0.6M66.9 640.6h0.6M68.7 642.3h0.6M60.6 664.0h0.6M69.4 638.3h0.6M65.9 630.7h0.6M61.8 642.4h0.6M66.5 629.3h0.6M61.4 637.7h0.6M63.9 629.7h0.6M64.4 625.6h0.6M67.0 628.4h0.6M55.7 672.8h0.6M68.7 635.5h0.6M59.0 655.0h0.6M71.9 656.9h0.6M66.2 630.4h0.6M56.1 653.7h0.6M67.7 650.0h0.6M63.5 668.5h0.6M60.0 664.3h0.6M67.0 638.7h0.6M64.0 649.6h0.6M65.9 633.5h0.6M62.5 649.3h0.6M63.6 648.3h0.6M64.5 645.2h0.6M61.4 663.3h0.6M60.8 643.3h0.6M59.8 631.0h0.6M65.4 647.4h0.6M62.9 654.7h0.6M62.8 658.1h0.6M71.0 653.2h0.6M62.4 672.5h0.6M66.4 623.4h0.6M69.0 651.1h0.6M67.0 630.9h0.6M60.0 638.4h0.6M65.8 631.4h0.6M60.6 662.1h0.6M60.8 649.7h0.6M59.8 622.8h0.6M63.2 646.2h0.6M57.6 662.4h0.6M66.9 661.1h0.6M61.4 631.1h0.6M63.1 650.4h0.6M62.8 639.3h0.6M59.4 637.1h0.6M63.2 640.8h0.6M70.4 643.9h0.6M65.4 641.1h0.6M62.7 633.6h0.6M61.5 625.9h0.6M54.9 667.7h0.6M59.1 654.4h0.6M63.0 639.6h0.6M66.5 639.8h0.6M65.3 642.5h0.6M67.5 662.1h0.6M63.8 664.1h0.6M65.6 670.9h0.6M63.0 625.2h0.6M64.4 651.5h0.6M62.0 644.9h0.6M62.4 629.5h0.6M70.6 636.6h0.6M59.1 624.7h0.6M60.0 647.4h0.6M69.6 656.8h0.6M60.5 629.7h0.6M58.9 646.8h0.6M67.1 640.9h0.6M70.1 676.4h0.6M64.1 616.2h0.6M68.0 646.5h0.6M66.2 662.5h0.6M59.3 648.9h0.6M64.2 636.9h0.6M66.4 646.1h0.6M61.8 675.6h0.6M64.2 672.0h0.6M62.9 663.2h0.6M60.4 650.1h0.6M67.9 616.0h0.6M65.7 644.0h0.6M68.0 650.6h0.6M63.2 629.2h0.6M75.6 637.1h0.6M62.2 637.4h0.6M62.2 651.2h0.6M58.0 663.5h0.6M62.4 656.8h0.6M54.8 640.3h0.6M62.3 642.3h0.6M60.7 652.5h0.6M65.2 633.6h0.6M55.4 658.7h0.6M62.2 663.7h0.6M67.1 646.4h0.6M57.6 642.7h0.6M60.5 666.2h0.6M56.5 661.4h0.6M57.2 639.6h0.6M57.7 637.7h0.6M61.7 653.4h0.6M61.1 658.1h0.6M70.7 650.3h0.6M58.8 645.3h0.6M63.1 642.7h0.6M68.2 664.9h0.6M71.7 655.7h0.6M52.5 646.0h0.6M66.2 636.1h0.6M61.0 661.3h0.6M64.1 631.4h0.6M63.5 630.0h0.6M63.3 630.5h0.6M59.7 640.4h0.6M74.9 630.5h0.6M58.6 640.0h0.6M67.8 659.7h0.6M66.3 643.2h0.6M64.0 636.6h0.6M62.7 636.1h0.6M57.5 633.4h0.6M71.4 653.8h0.6M60.4 646.3h0.6M61.6 665.9h0.6M63.4 638.6h0.6M66.3 652.6h0.6M60.7 636.6h0.6M64.0 623.9h0.6M59.7 662.8h0.6M67.0 664.3h0.6M61.6 639.2h0.6M62.3 640.9h0.6M68.7 644.7h0.6M69.0 637.5h0.6M65.0 671.8h0.6M60.4 638.4h0.6M61.0 624.3h0.6M62.2 638.5h0.6M72.5 640.9h0.6M54.7 661.8h0.6M67.4 647.4h0.6M64.6 658.5h0.6M61.2 648.5h0.6M64.0 672.3h0.6M69.2 650.4h0.6M58.0 660.9h0.6M63.2 665.1h0.6M63.7 650.6h0.6M66.1 637.2h0.6M60.8 681.6h0.6M59.9 661.6h0.6M66.2 659.9h0.6M69.1 628.3h0.6M67.4 617.7h0.6M63.7 652.9h0.6M67.7 663.9h0.6M59.6 643.9h0.6M62.8 637.7h0.6M60.1 638.2h0.6M68.1 667.9h0.6M66.5 672.7h0.6M63.8 632.0h0.6M60.8 650.9h0.6M67.7 665.8h0.6M59.8 662.0h0.6M61.3 656.7h0.6M67.2 669.7h0.6M61.3 651.5h0.6M65.2 641.8h0.6M63.8 656.7h0.6M56.7 638.5h0.6M72.9 654.6h0.6M61.2 621.0h0.6M59.5 655.6h0.6M66.2 654.5h0.6M65.9 639.1h0.6M70.0 631.4h0.6M65.5 644.1h0.6M56.5 661.2h0.6M62.3 658.4h0.6M68.6 650.4h0.6M60.7 644.8h0.6M63.2 669.2h0.6M66.9 671.3h0.6M66.5 636.7h0.6M67.2 662.2h0.6M62.9 654.8h0.6M62.1 629.4h0.6M63.1 659.2h0.6M62.0 615.0h0.6M60.2 664.0h0.6M64.4 664.5h0.6M60.4 641.8h0.6M59.4 636.5h0.6M65.5 650.0h0.6M61.5 652.4h0.6M58.1 642.2h0.6M57.3 625.9h0.6M57.9 631.8h0.6M69.9 668.2h0.6M68.6 639.4h0.6M66.0 631.3h0.6M61.2 651.5h0.6M56.9 650.9h0.6M65.9 617.5h0.6M53.5 643.9h0.6M62.9 650.1h0.6M58.8 656.4h0.6M63.9 637.2h0.6M70.1 651.8h0.6M66.5 675.3h0.6M61.4 644.7h0.6M56.3 644.6h0.6M65.2 684.9h0.6M65.7 651.0h0.6M58.3 635.4h0.6M55.9 627.6h0.6M63.9 652.4h0.6M59.7 644.8h0.6M60.2 657.1h0.6M66.0 639.7h0.6M61.6 629.9h0.6M61.5 680.3h0.6M63.4 660.7h0.6M65.8 669.8h0.6M62.1 634.6h0.6M67.7 661.6h0.6M60.7 664.2h0.6M63.4 647.3h0.6M70.9 655.8h0.6M64.7 643.3h0.6M64.2 663.6h0.6M65.3 636.8h0.6M65.3 646.2h0.6M64.7 645.1h0.6M54.5 624.1h0.6M61.9 615.3h0.6M57.3 678.0h0.6M66.3 641.2h0.6M64.8 614.8h0.6M64.4 662.6h0.6M64.2 628.6h0.6M67.4 640.1h0.6M61.1 650.9h0.6M62.2 678.2h0.6M62.9 679.9h0.6M65.3 629.6h0.6M63.4 648.8h0.6M69.3 667.0h0.6M73.9 638.1h0.6M61.6 682.6h0.6M59.8 653.3h0.6M70.0 632.9h0.6M62.0 636.9h0.6M65.6 653.9h0.6M63.3 657.8h0.6M60.2 642.4h0.6M65.3 678.0h0.6M63.3 648.9h0.6M68.8 649.1h0.6M68.8 651.6h0.6M68.2 650.7h0.6M59.7 635.3h0.6M65.2 676.0h0.6M71.1 643.3h0.6M73.7 631.4h0.6" stroke="#3a70d8" stroke-width="0.96" opacity="0.55" stroke-linecap="round"/>
<path d="M73.2 670.6h0.6M68.0 670.5h0.6M82.8 669.1h0.6M70.4 667.9h0.6M87.2 665.7h0.6M87.9 666.1h0.6M82.6 664.4h0.6M69.3 665.2h0.6M83.8 662.2h0.6M64.6 658.3h0.6M90.2 664.9h0.6M73.9 672.2h0.6M78.5 658.5h0.6M76.4 661.6h0.6M78.4 661.5h0.6M80.4 668.3h0.6M75.4 665.0h0.6M78.7 670.1h0.6M74.2 669.7h0.6M89.7 665.0h0.6M72.3 664.5h0.6M66.0 663.3h0.6M70.5 665.2h0.6M77.0 668.6h0.6M80.8 668.1h0.6M79.5 667.4h0.6M71.0 669.3h0.6M90.1 671.5h0.6M69.3 668.1h0.6M67.1 669.8h0.6M78.3 663.7h0.6M74.0 664.8h0.6M79.8 661.2h0.6M80.3 667.3h0.6M84.0 665.8h0.6M79.8 677.6h0.6M87.8 667.6h0.6M69.0 669.1h0.6M84.4 652.7h0.6M78.6 667.9h0.6M80.2 666.5h0.6M78.7 672.9h0.6M82.9 664.6h0.6M78.1 676.4h0.6M73.1 663.4h0.6M82.4 666.7h0.6M82.3 672.8h0.6M88.8 668.1h0.6M80.2 665.7h0.6M78.1 671.0h0.6M69.9 660.8h0.6M76.3 661.2h0.6M74.1 672.0h0.6M62.2 668.9h0.6M69.6 664.8h0.6M75.4 661.0h0.6M68.2 666.4h0.6M56.6 655.4h0.6M76.8 671.5h0.6M94.5 664.5h0.6M73.6 664.6h0.6M83.6 670.7h0.6M72.4 668.4h0.6M79.7 671.7h0.6M76.7 665.0h0.6M73.2 659.4h0.6M82.0 669.6h0.6M88.8 667.3h0.6M76.3 661.4h0.6M70.8 662.4h0.6M82.6 666.5h0.6M61.8 665.5h0.6M77.6 660.8h0.6M79.7 668.7h0.6M71.7 659.2h0.6M77.4 667.3h0.6M77.9 673.7h0.6M81.1 661.0h0.6M86.0 662.8h0.6M85.4 666.5h0.6M89.6 661.0h0.6M85.6 668.1h0.6M72.8 669.5h0.6M97.8 667.8h0.6M73.9 665.2h0.6M90.2 667.3h0.6M91.6 662.7h0.6M90.3 658.1h0.6M78.6 664.5h0.6M76.0 672.1h0.6M75.2 667.8h0.6M94.6 670.1h0.6M76.6 662.3h0.6M64.1 667.9h0.6M87.0 671.5h0.6M81.8 676.8h0.6M86.1 654.4h0.6M72.9 670.0h0.6M76.8 670.2h0.6M100.3 662.2h0.6M97.5 665.6h0.6M68.3 666.5h0.6M87.1 663.1h0.6M92.5 661.6h0.6M78.4 670.6h0.6M78.3 663.2h0.6M79.8 669.3h0.6M93.7 672.8h0.6M94.8 665.9h0.6M66.8 665.8h0.6M76.7 661.0h0.6M75.9 665.7h0.6M80.4 670.6h0.6M72.7 671.7h0.6M80.3 669.7h0.6M89.8 659.8h0.6M92.7 662.4h0.6M83.1 671.4h0.6M87.3 658.2h0.6M81.3 671.7h0.6M79.0 665.6h0.6M80.5 674.2h0.6M75.6 661.3h0.6M71.2 663.4h0.6M78.1 667.7h0.6M79.3 657.4h0.6M67.4 669.4h0.6M85.7 659.2h0.6M87.4 653.8h0.6M98.5 669.0h0.6M66.7 668.6h0.6M79.7 663.7h0.6M77.0 664.9h0.6M79.2 661.5h0.6M75.4 668.8h0.6M84.2 659.3h0.6M76.1 673.8h0.6M85.7 674.3h0.6M69.2 660.8h0.6M62.6 656.3h0.6M77.0 660.7h0.6M71.3 662.5h0.6M78.5 670.2h0.6M84.5 657.2h0.6M91.9 664.3h0.6M72.0 665.8h0.6M76.8 659.0h0.6M92.4 663.1h0.6M75.2 668.7h0.6M93.4 668.4h0.6M72.8 668.2h0.6M88.8 667.9h0.6M85.2 663.6h0.6M79.4 657.6h0.6M74.2 660.3h0.6M80.0 673.5h0.6M62.0 659.4h0.6M72.5 665.6h0.6M89.3 662.1h0.6M73.7 672.1h0.6M83.0 668.6h0.6M86.7 662.3h0.6M81.8 662.7h0.6M74.2 666.7h0.6M83.5 659.6h0.6M73.8 669.1h0.6M81.3 669.3h0.6M77.5 662.0h0.6M86.3 669.0h0.6M57.2 670.3h0.6M73.9 669.4h0.6M92.6 664.6h0.6M72.2 667.3h0.6M80.7 668.8h0.6M68.7 667.2h0.6M87.2 669.5h0.6M85.0 672.0h0.6M73.4 672.1h0.6M81.7 661.0h0.6M77.6 667.4h0.6M82.7 672.8h0.6M81.5 663.4h0.6M97.5 664.3h0.6M73.4 670.7h0.6M76.7 662.1h0.6M71.5 672.0h0.6M71.5 666.5h0.6M76.3 665.0h0.6M73.4 666.8h0.6M84.8 671.3h0.6M77.1 660.2h0.6M68.1 666.0h0.6M60.1 672.7h0.6M80.2 666.6h0.6M68.8 662.8h0.6M74.0 669.4h0.6M76.7 669.1h0.6M84.1 656.4h0.6M78.1 672.3h0.6M75.9 666.7h0.6M79.0 659.9h0.6M97.5 665.4h0.6M85.1 663.8h0.6M91.3 671.8h0.6M89.5 670.8h0.6M85.6 673.0h0.6M83.2 666.7h0.6M86.5 661.6h0.6M59.6 670.1h0.6M81.2 662.5h0.6M77.8 661.3h0.6M73.2 667.0h0.6M81.0 670.2h0.6M79.3 669.2h0.6M85.5 662.5h0.6M66.4 662.6h0.6M78.0 663.4h0.6M97.7 662.6h0.6M83.8 662.2h0.6M85.5 659.7h0.6M87.6 666.9h0.6M76.8 660.1h0.6M93.4 663.2h0.6M91.6 654.0h0.6M70.4 675.1h0.6M94.3 666.1h0.6M88.0 669.1h0.6M77.1 666.7h0.6M70.8 659.3h0.6M81.0 669.7h0.6M81.3 659.9h0.6M86.8 666.5h0.6M86.0 664.6h0.6M77.9 671.3h0.6M91.0 660.0h0.6M71.1 670.9h0.6M82.9 666.3h0.6M72.1 671.1h0.6M81.5 667.1h0.6M83.1 663.4h0.6M83.2 666.7h0.6M85.8 668.0h0.6M69.7 662.5h0.6M77.8 671.9h0.6M74.8 671.7h0.6M88.7 670.4h0.6M98.1 666.0h0.6M82.6 672.2h0.6M83.3 671.0h0.6M79.0 673.1h0.6M82.8 656.5h0.6M88.7 665.1h0.6M72.9 664.6h0.6M77.7 671.8h0.6M82.7 665.7h0.6M79.9 661.6h0.6M74.9 663.7h0.6M78.2 660.3h0.6M76.8 671.1h0.6M83.6 666.1h0.6" stroke="#3a70d8" stroke-width="0.96" opacity="0.5" stroke-linecap="round"/>
<path d="M93.0 651.6h0.6M88.4 658.4h0.6M98.8 656.1h0.6M94.1 667.8h0.6M88.4 656.2h0.6M91.0 651.4h0.6M87.0 652.6h0.6M93.2 643.5h0.6M91.3 650.2h0.6M89.0 656.9h0.6M96.9 655.6h0.6M95.1 657.6h0.6M91.8 656.6h0.6M96.0 650.5h0.6M91.6 644.9h0.6M86.4 648.2h0.6M94.7 655.3h0.6M92.8 660.9h0.6M86.7 661.3h0.6M92.3 657.7h0.6M96.2 648.2h0.6M89.4 655.5h0.6M91.8 649.6h0.6M91.6 648.8h0.6M92.4 650.8h0.6M97.1 646.9h0.6M93.7 653.5h0.6M96.8 647.3h0.6M90.6 663.4h0.6M90.0 650.8h0.6M90.8 647.3h0.6M95.7 662.1h0.6M91.5 648.6h0.6M87.9 657.0h0.6M90.4 656.4h0.6M84.7 650.6h0.6M93.9 655.6h0.6M83.4 654.8h0.6M92.4 653.0h0.6M91.0 650.5h0.6M92.4 656.1h0.6M82.5 653.0h0.6M94.8 651.8h0.6M95.7 647.5h0.6M97.8 658.8h0.6M90.8 669.5h0.6M96.3 662.5h0.6M88.4 652.4h0.6M93.4 659.3h0.6M92.2 645.4h0.6M95.7 652.1h0.6M93.3 651.2h0.6M91.7 644.9h0.6M94.0 649.4h0.6M86.7 655.5h0.6M91.9 658.8h0.6M94.5 645.9h0.6M91.5 653.1h0.6M92.3 646.8h0.6M92.2 658.9h0.6M95.7 661.7h0.6M94.3 638.1h0.6M91.2 649.8h0.6M83.3 662.2h0.6M94.7 653.0h0.6M93.1 656.0h0.6M91.3 661.2h0.6M97.5 657.9h0.6M90.3 654.6h0.6M94.9 657.3h0.6" stroke="#5a80d8" stroke-width="0.96" opacity="0.45" stroke-linecap="round"/>
<ellipse cx="64" cy="642" rx="3.5" ry="14" fill="#40a8b8" opacity="0.55" filter="url(#b2)" transform="rotate(0 64 642)"/>
<ellipse cx="64" cy="645" rx="2" ry="9" fill="#70c070" opacity="0.6" filter="url(#b15)" transform="rotate(0 64 645)"/>
</g>
<path d="M176.6 632.9h0.55M181.6 631.8h0.55M177.5 630.0h0.55M172.3 629.9h0.55M177.4 629.2h0.55M178.0 629.1h0.55M179.3 630.3h0.55M176.9 629.6h0.55M178.7 631.5h0.55M180.5 629.0h0.55M176.1 625.2h0.55M174.6 631.2h0.55M175.8 634.8h0.55M178.4 628.9h0.55M178.4 628.4h0.55M176.8 630.2h0.55M173.9 630.4h0.55M178.7 627.4h0.55M182.6 631.1h0.55M182.8 628.1h0.55M174.6 626.5h0.55M173.5 624.4h0.55M184.5 628.6h0.55M179.7 628.4h0.55M178.5 634.7h0.55M172.9 627.1h0.55M179.5 627.3h0.55M181.4 633.9h0.55M182.1 632.3h0.55M178.4 633.0h0.55M176.2 626.5h0.55M178.1 629.3h0.55M183.3 627.1h0.55M183.0 627.7h0.55M174.6 625.0h0.55M178.9 625.7h0.55M179.7 630.2h0.55M177.6 624.3h0.55M177.2 631.3h0.55M172.7 632.1h0.55" stroke="#8aa0d8" stroke-width="0.88" opacity="0.5" stroke-linecap="round"/>
<path d="M180.0 642.7h0.55M180.5 654.5h0.55M179.9 640.4h0.55M182.0 641.4h0.55M180.9 657.7h0.55M183.3 663.8h0.55M182.6 649.5h0.55M179.5 649.9h0.55M181.3 677.6h0.55M181.7 639.9h0.55M183.8 632.4h0.55M182.5 635.4h0.55M177.3 643.1h0.55M179.3 634.7h0.55M181.6 646.9h0.55M183.4 638.0h0.55M175.5 654.9h0.55M179.4 657.7h0.55M174.1 635.7h0.55M180.2 667.4h0.55M176.9 629.2h0.55M178.9 662.0h0.55M184.0 634.6h0.55M178.5 629.9h0.55M177.9 638.5h0.55M181.1 659.3h0.55M186.0 644.5h0.55M182.1 650.2h0.55M180.3 667.2h0.55M181.8 663.5h0.55M180.8 656.6h0.55M181.3 647.1h0.55M178.3 644.1h0.55M180.0 644.3h0.55M179.1 641.1h0.55M182.2 645.6h0.55M179.7 645.9h0.55M183.3 642.7h0.55M183.5 639.5h0.55M183.8 654.1h0.55" stroke="#9aaade" stroke-width="0.88" opacity="0.4" stroke-linecap="round"/>
<path d="M281.0 637.6h0.55M287.6 632.7h0.55M282.1 637.1h0.55M282.2 635.0h0.55M283.1 637.1h0.55M286.1 641.1h0.55M281.7 646.2h0.55M281.7 642.2h0.55M282.5 631.0h0.55M281.3 634.8h0.55M287.3 629.0h0.55M280.5 635.6h0.55M285.6 637.4h0.55M286.4 635.5h0.55M282.1 640.2h0.55M289.9 637.3h0.55M283.6 633.1h0.55M291.4 637.4h0.55M285.5 630.5h0.55M285.4 644.4h0.55M282.4 635.3h0.55M289.2 635.4h0.55M286.4 642.7h0.55M278.3 633.1h0.55M285.7 636.4h0.55M283.2 635.4h0.55M283.5 637.2h0.55M281.1 635.1h0.55M283.9 632.3h0.55M284.8 628.4h0.55M285.6 635.6h0.55M278.3 640.7h0.55M278.3 643.2h0.55M280.1 640.2h0.55M282.8 641.6h0.55M282.1 639.6h0.55M281.7 629.5h0.55M284.6 637.7h0.55M284.6 641.8h0.55M280.1 631.1h0.55M284.0 633.6h0.55M282.6 636.0h0.55M279.8 639.8h0.55M282.5 642.2h0.55M284.0 639.7h0.55M281.9 633.7h0.55M280.9 633.0h0.55M284.8 636.5h0.55M278.7 630.7h0.55M279.6 629.7h0.55M279.5 630.8h0.55M285.8 632.0h0.55M280.7 635.6h0.55M283.1 637.5h0.55M286.1 638.2h0.55M281.6 640.3h0.55M284.5 633.6h0.55M289.0 631.9h0.55M284.9 640.4h0.55M283.5 637.2h0.55M283.5 638.3h0.55M283.9 636.0h0.55M285.8 629.4h0.55M284.0 635.0h0.55M290.8 637.0h0.55M280.4 638.3h0.55M281.5 631.9h0.55M281.9 637.8h0.55M287.7 639.7h0.55M283.9 635.5h0.55M283.8 640.2h0.55M282.5 640.0h0.55M279.9 636.0h0.55M286.1 638.4h0.55M283.8 634.2h0.55M279.7 634.6h0.55M289.3 633.3h0.55M286.4 635.9h0.55M278.6 636.4h0.55M286.0 631.9h0.55M278.4 634.7h0.55M285.9 633.9h0.55M284.7 637.6h0.55M283.1 637.6h0.55M288.0 635.3h0.55M284.3 632.3h0.55M280.2 635.7h0.55M286.2 633.7h0.55M277.5 639.2h0.55" stroke="#5a80d8" stroke-width="0.88" opacity="0.55" stroke-linecap="round"/>
<path d="M299.4 629.1h0.55M285.8 653.1h0.55M291.9 643.6h0.55M291.3 661.8h0.55M288.9 658.5h0.55M290.5 643.7h0.55M287.6 646.6h0.55M295.3 662.3h0.55M291.0 638.1h0.55M288.1 648.5h0.55M282.4 651.8h0.55M291.1 640.2h0.55M288.3 648.0h0.55M297.3 657.9h0.55M293.0 652.8h0.55M285.0 660.2h0.55M287.4 634.9h0.55M292.9 648.9h0.55M290.0 656.6h0.55M289.1 655.7h0.55M295.1 649.2h0.55M288.6 652.2h0.55M292.6 648.5h0.55M290.3 646.0h0.55M289.7 656.8h0.55M286.8 650.4h0.55M284.3 645.8h0.55M290.3 656.7h0.55M286.0 651.1h0.55M286.4 654.8h0.55M291.0 656.0h0.55M289.2 639.4h0.55M287.8 640.1h0.55M287.4 651.5h0.55M294.2 646.3h0.55M287.0 653.8h0.55M281.9 669.7h0.55M284.0 661.0h0.55M293.8 660.6h0.55M289.6 658.5h0.55" stroke="#8aa0d8" stroke-width="0.88" opacity="0.4" stroke-linecap="round"/>
<path d="M300.3 671.8h0.55M298.8 664.8h0.55M303.9 666.2h0.55M305.3 664.6h0.55M303.3 664.1h0.55M301.5 676.5h0.55M296.8 663.2h0.55M294.2 667.1h0.55M309.9 666.2h0.55M306.5 667.3h0.55M298.9 675.9h0.55M307.3 660.8h0.55M297.3 669.6h0.55M305.2 667.1h0.55M303.5 670.1h0.55M300.3 671.9h0.55M297.9 671.0h0.55M306.5 668.8h0.55M300.3 667.9h0.55M291.2 669.0h0.55M295.1 660.1h0.55M305.7 664.4h0.55M303.7 668.2h0.55M293.5 664.5h0.55M300.7 669.9h0.55M302.4 663.0h0.55M299.4 668.4h0.55M295.8 666.3h0.55M299.4 659.6h0.55M310.4 671.5h0.55M299.8 671.7h0.55M296.9 674.0h0.55M300.2 668.6h0.55M299.2 668.4h0.55M303.6 668.1h0.55M298.0 671.0h0.55M304.7 668.0h0.55M307.1 665.1h0.55M308.2 667.4h0.55M309.4 666.3h0.55M300.8 668.8h0.55M307.3 673.7h0.55M299.8 665.1h0.55M305.7 672.9h0.55M305.4 666.7h0.55M308.2 667.9h0.55M302.8 670.5h0.55M299.3 659.1h0.55M303.1 670.8h0.55M304.1 670.1h0.55M302.8 672.1h0.55M302.6 673.9h0.55M302.3 671.1h0.55M299.3 669.2h0.55M304.1 668.6h0.55M309.5 668.2h0.55M307.4 669.4h0.55M307.3 664.5h0.55M300.2 671.8h0.55M298.1 669.6h0.55" stroke="#7a90d8" stroke-width="0.88" opacity="0.45" stroke-linecap="round"/>
<path d="M341.4 631.4h0.55M341.1 632.1h0.55M339.4 631.8h0.55M338.8 630.1h0.55M336.2 630.8h0.55M335.9 631.1h0.55M340.5 628.9h0.55M340.2 631.6h0.55M339.2 629.2h0.55M339.7 631.8h0.55M342.2 634.8h0.55M335.2 631.7h0.55M341.1 629.7h0.55M340.8 635.1h0.55M340.3 633.7h0.55" stroke="#8aa0d8" stroke-width="0.88" opacity="0.45" stroke-linecap="round"/>
<clipPath id="c10"><rect x="388" y="608" width="95" height="82"/></clipPath><g clip-path="url(#c10)">
<path d="M402.1 630.5h0.6M389.1 636.0h0.6M404.0 625.9h0.6M397.2 629.6h0.6M398.8 632.2h0.6M402.4 630.0h0.6M405.5 626.1h0.6M398.8 641.2h0.6M397.6 634.2h0.6M396.2 643.4h0.6M401.5 630.8h0.6M390.6 632.7h0.6M400.8 625.0h0.6M396.1 633.9h0.6M388.7 631.3h0.6M391.9 627.4h0.6M399.6 635.9h0.6M402.5 629.7h0.6M400.0 625.9h0.6M392.3 633.9h0.6M396.5 628.5h0.6M390.8 631.2h0.6M406.7 625.0h0.6M394.0 635.9h0.6M390.6 629.9h0.6M398.3 635.9h0.6M397.7 638.3h0.6M397.9 631.6h0.6M399.7 633.2h0.6M392.2 628.7h0.6M397.1 633.2h0.6M393.3 629.5h0.6M395.1 633.2h0.6M396.3 634.1h0.6M399.5 628.8h0.6M396.9 627.7h0.6M398.4 634.8h0.6M394.2 625.9h0.6M400.0 631.0h0.6M397.9 633.6h0.6M399.5 635.2h0.6M396.2 624.4h0.6M396.1 630.9h0.6M396.4 633.4h0.6M397.0 636.5h0.6M395.5 632.0h0.6M396.6 639.3h0.6M394.3 628.5h0.6M396.5 634.7h0.6M398.1 631.4h0.6M392.3 624.8h0.6M397.2 631.2h0.6M404.9 633.3h0.6M399.7 635.4h0.6M394.5 627.7h0.6M396.6 637.2h0.6M401.9 630.0h0.6M393.2 635.2h0.6M402.3 628.2h0.6M404.3 629.3h0.6M400.9 631.3h0.6M396.7 629.9h0.6M400.7 634.2h0.6M401.1 631.0h0.6M394.7 639.5h0.6M404.7 631.3h0.6M393.5 637.2h0.6M398.5 632.2h0.6M401.3 633.2h0.6M398.4 638.9h0.6M390.6 634.2h0.6M394.2 632.3h0.6M397.3 632.9h0.6M388.6 634.4h0.6M407.1 630.6h0.6M401.5 634.2h0.6M399.2 630.3h0.6M400.5 632.9h0.6M403.7 634.9h0.6M395.2 621.8h0.6M403.9 633.7h0.6M398.7 629.9h0.6M407.8 636.7h0.6M398.4 630.7h0.6M400.3 636.7h0.6M400.0 635.3h0.6M399.0 633.2h0.6M393.0 632.4h0.6M398.2 631.7h0.6M397.1 633.1h0.6M395.7 631.3h0.6M392.8 640.1h0.6M394.5 627.8h0.6M395.9 630.6h0.6M393.8 623.5h0.6M404.5 635.6h0.6M396.5 633.9h0.6M393.6 626.3h0.6M399.3 634.0h0.6M395.3 632.0h0.6M402.2 632.6h0.6M398.7 634.0h0.6M389.8 627.5h0.6M393.0 632.8h0.6M395.5 625.4h0.6M401.5 631.3h0.6M401.9 639.0h0.6M391.5 627.6h0.6M402.3 636.9h0.6M399.6 633.3h0.6M400.7 634.3h0.6M393.0 634.6h0.6M401.9 630.6h0.6M394.4 630.3h0.6M395.7 633.8h0.6M401.1 632.1h0.6M396.8 625.8h0.6M396.3 628.5h0.6M395.8 633.2h0.6M398.6 644.2h0.6M394.5 630.1h0.6M393.5 631.1h0.6M396.9 635.5h0.6M390.3 635.2h0.6M400.6 630.2h0.6M395.3 632.7h0.6M400.1 631.4h0.6M397.4 632.1h0.6M393.7 632.9h0.6M400.3 632.2h0.6M393.5 632.0h0.6M397.6 633.1h0.6M396.3 634.9h0.6M402.3 634.9h0.6M398.9 636.2h0.6M397.8 631.4h0.6M392.3 632.1h0.6M402.8 628.7h0.6M401.1 627.6h0.6M399.2 638.3h0.6M398.2 628.0h0.6M399.1 631.5h0.6M401.1 630.2h0.6M391.1 630.4h0.6M400.3 635.6h0.6M399.1 632.1h0.6M400.7 631.3h0.6M396.2 632.8h0.6M402.3 630.3h0.6M400.0 629.8h0.6M395.1 632.6h0.6M392.7 629.1h0.6M393.3 629.9h0.6M394.4 640.0h0.6M400.4 632.3h0.6M392.7 623.8h0.6M399.7 629.8h0.6M402.1 630.7h0.6M392.8 629.8h0.6M391.9 627.2h0.6M400.8 630.2h0.6M400.7 630.1h0.6M397.1 630.1h0.6M395.8 629.7h0.6M403.9 631.8h0.6M390.2 637.8h0.6M403.0 635.9h0.6M397.6 631.5h0.6M396.1 632.4h0.6M399.8 632.0h0.6M394.7 628.7h0.6M404.6 637.8h0.6M393.0 629.8h0.6M397.8 634.0h0.6M397.5 632.8h0.6M399.4 635.9h0.6M392.8 635.8h0.6M399.7 633.9h0.6M392.0 631.2h0.6M396.9 634.2h0.6M400.7 634.4h0.6M392.8 636.3h0.6M398.2 635.2h0.6M397.9 629.6h0.6M408.4 634.2h0.6M401.0 630.4h0.6M397.1 635.8h0.6M399.7 638.0h0.6M402.7 628.4h0.6M391.8 636.0h0.6M400.3 631.1h0.6M396.8 630.1h0.6M405.1 631.5h0.6M392.5 635.1h0.6M397.6 633.2h0.6M396.4 631.9h0.6M390.5 633.8h0.6M395.2 630.7h0.6M399.2 636.3h0.6M389.4 631.6h0.6M400.1 635.5h0.6M394.3 633.1h0.6M399.5 635.2h0.6M395.5 631.4h0.6M395.9 635.9h0.6M402.3 630.5h0.6M397.4 632.8h0.6M394.3 631.6h0.6M401.4 634.6h0.6M395.2 629.8h0.6M397.5 627.1h0.6M399.2 632.4h0.6M392.6 631.2h0.6M395.3 631.1h0.6M394.4 636.6h0.6M394.1 634.6h0.6M398.8 636.9h0.6M397.7 632.0h0.6M398.2 625.7h0.6M407.5 631.3h0.6M396.7 628.3h0.6M397.4 637.4h0.6M394.9 633.5h0.6M402.0 635.2h0.6M396.3 626.2h0.6M399.6 633.9h0.6M396.6 630.6h0.6M404.9 626.7h0.6M395.9 630.0h0.6M391.7 629.7h0.6M394.7 636.2h0.6M391.0 627.4h0.6M399.0 626.9h0.6M389.9 630.0h0.6M393.1 628.8h0.6M397.3 633.5h0.6M395.3 631.1h0.6M400.8 631.5h0.6M400.9 630.1h0.6M399.9 636.3h0.6M392.4 642.0h0.6M396.6 630.9h0.6M397.3 633.6h0.6M393.1 632.2h0.6M395.6 636.8h0.6M391.0 634.2h0.6M396.7 629.6h0.6M398.5 631.2h0.6M398.1 632.8h0.6M402.7 630.7h0.6M404.6 623.1h0.6M405.2 636.1h0.6M404.2 632.7h0.6M399.1 628.7h0.6M403.3 628.2h0.6M394.8 632.0h0.6M398.9 633.2h0.6M393.3 630.9h0.6M399.9 636.0h0.6M401.0 633.4h0.6M396.9 630.2h0.6M395.9 631.7h0.6M400.0 630.4h0.6M406.1 628.7h0.6M401.2 631.4h0.6M397.4 630.8h0.6M404.0 631.1h0.6M400.1 632.4h0.6M400.9 634.0h0.6M404.5 629.6h0.6M394.6 637.7h0.6M403.0 632.3h0.6M396.8 632.9h0.6M403.1 629.5h0.6M403.7 631.9h0.6M396.5 630.7h0.6M389.6 633.1h0.6M392.7 630.2h0.6M394.4 632.8h0.6M400.8 632.2h0.6M398.7 633.4h0.6M404.3 634.0h0.6M404.2 631.8h0.6M399.3 629.9h0.6M400.3 629.2h0.6M399.8 630.0h0.6M396.5 636.1h0.6M398.5 634.7h0.6M397.0 625.9h0.6M403.8 631.5h0.6M395.3 635.2h0.6M393.4 629.6h0.6M402.5 629.8h0.6M402.4 631.0h0.6M397.1 632.3h0.6M395.9 635.6h0.6M402.3 632.3h0.6M400.4 633.8h0.6M404.6 626.8h0.6M402.0 635.1h0.6M396.7 632.1h0.6M396.5 636.1h0.6M393.4 634.1h0.6M403.0 633.9h0.6M396.0 630.5h0.6M389.5 628.7h0.6M402.3 628.9h0.6M391.4 631.2h0.6M392.0 633.6h0.6M394.5 635.2h0.6M397.5 627.4h0.6M394.9 629.9h0.6M394.6 636.1h0.6M393.9 633.3h0.6M395.6 634.0h0.6M392.2 626.9h0.6M400.0 636.8h0.6M392.4 631.0h0.6M395.9 629.0h0.6M401.8 632.2h0.6M392.4 631.3h0.6M403.2 629.7h0.6M395.9 629.3h0.6M398.6 630.2h0.6M401.5 629.3h0.6M392.1 633.5h0.6M399.1 632.9h0.6M395.6 630.6h0.6M400.0 644.3h0.6M394.7 631.5h0.6M396.1 633.9h0.6M398.0 633.9h0.6M404.4 631.2h0.6M396.8 633.3h0.6M406.3 630.9h0.6M404.7 636.0h0.6M394.0 633.4h0.6M403.2 632.2h0.6M398.6 639.2h0.6M399.4 639.2h0.6M394.4 637.5h0.6M395.9 624.1h0.6M394.6 630.5h0.6M397.8 634.6h0.6M400.7 633.8h0.6M395.0 637.9h0.6M402.7 632.2h0.6M395.7 631.9h0.6M397.1 629.8h0.6M397.9 629.9h0.6M400.5 629.9h0.6M399.9 633.1h0.6M398.6 633.8h0.6M393.8 640.6h0.6M395.2 634.5h0.6M398.0 630.6h0.6M404.9 635.7h0.6M396.8 633.9h0.6M400.7 637.3h0.6M402.0 631.5h0.6M396.9 628.2h0.6M399.0 634.9h0.6M396.4 634.3h0.6M398.5 630.5h0.6M393.1 635.7h0.6M408.1 633.9h0.6M393.6 628.6h0.6M399.0 634.2h0.6M404.0 624.1h0.6M405.3 632.6h0.6M398.5 633.3h0.6M396.5 631.1h0.6M402.2 626.3h0.6M397.5 633.9h0.6M391.4 631.5h0.6M404.1 633.3h0.6M400.8 634.4h0.6" stroke="#3a70d8" stroke-width="0.96" opacity="0.6" stroke-linecap="round"/>
<path d="M396.7 667.2h0.6M393.1 660.8h0.6M402.4 649.2h0.6M395.4 648.8h0.6M394.1 654.4h0.6M391.7 665.9h0.6M392.7 669.2h0.6M395.5 667.4h0.6M396.7 676.9h0.6M396.5 643.6h0.6M401.2 652.4h0.6M395.6 666.9h0.6M392.9 664.2h0.6M401.2 644.0h0.6M390.1 658.1h0.6M395.4 648.6h0.6M397.3 648.1h0.6M398.0 662.4h0.6M396.5 647.9h0.6M395.2 668.6h0.6M389.8 651.2h0.6M399.4 685.9h0.6M398.3 662.4h0.6M392.2 658.5h0.6M395.1 668.2h0.6M391.9 663.1h0.6M399.4 667.8h0.6M400.7 669.9h0.6M405.0 672.3h0.6M397.6 680.6h0.6M394.4 656.9h0.6M392.4 666.0h0.6M397.5 673.9h0.6M401.1 670.3h0.6M400.3 660.3h0.6M392.6 671.5h0.6M399.5 678.5h0.6M395.4 657.8h0.6M394.7 667.3h0.6M395.8 661.0h0.6M396.9 659.8h0.6M397.2 656.3h0.6M390.6 659.6h0.6M402.6 653.8h0.6M399.2 678.6h0.6M394.1 666.1h0.6M401.4 665.3h0.6M389.0 656.5h0.6M393.4 664.4h0.6M397.0 658.4h0.6M394.9 653.7h0.6M398.0 665.4h0.6M397.2 657.3h0.6M397.7 659.7h0.6M397.0 661.3h0.6M393.7 650.5h0.6M389.5 647.4h0.6M390.2 653.7h0.6M395.3 649.7h0.6M397.5 687.1h0.6M400.3 649.7h0.6M395.6 655.8h0.6M398.7 646.3h0.6M397.1 665.6h0.6M398.0 668.0h0.6M396.5 642.6h0.6M394.9 652.2h0.6M397.9 660.4h0.6M396.5 675.8h0.6M395.6 682.5h0.6M398.9 645.9h0.6M393.9 677.2h0.6M394.2 676.9h0.6M394.0 661.7h0.6M399.6 644.8h0.6M396.3 657.8h0.6M396.6 682.9h0.6M397.7 647.4h0.6M399.4 657.8h0.6M396.6 676.5h0.6M394.9 674.1h0.6M396.6 652.6h0.6M394.9 647.3h0.6M400.1 664.9h0.6M399.4 650.2h0.6M399.0 649.2h0.6M397.0 662.9h0.6M393.9 666.6h0.6M396.1 653.0h0.6M393.4 647.9h0.6M400.8 664.8h0.6M394.7 671.1h0.6M393.0 649.6h0.6M397.2 681.4h0.6M397.1 664.8h0.6M402.1 645.1h0.6M406.7 650.3h0.6M395.7 647.5h0.6M391.7 660.3h0.6M404.6 652.1h0.6M393.8 666.2h0.6M392.4 660.0h0.6M394.9 659.6h0.6M394.2 661.7h0.6M389.7 657.9h0.6M394.2 651.1h0.6M400.4 686.3h0.6M398.8 653.0h0.6M401.0 668.8h0.6M393.1 670.0h0.6M394.0 669.7h0.6M399.2 676.4h0.6M392.3 661.5h0.6M396.0 648.8h0.6M397.5 671.1h0.6M391.2 656.6h0.6M392.1 648.2h0.6M392.3 679.0h0.6M393.7 658.4h0.6M399.5 674.9h0.6M398.6 642.6h0.6M393.8 658.2h0.6M394.0 685.9h0.6M395.4 676.7h0.6M395.4 662.3h0.6M397.8 668.2h0.6M397.8 642.8h0.6M397.8 666.7h0.6M398.1 662.4h0.6M397.4 647.8h0.6M400.0 648.9h0.6M400.9 674.8h0.6M395.8 659.6h0.6M398.7 659.5h0.6M391.8 666.2h0.6M391.7 657.7h0.6M402.3 672.4h0.6M394.4 662.2h0.6M393.7 662.9h0.6M390.9 671.0h0.6M396.0 655.9h0.6M394.4 657.4h0.6M394.0 657.2h0.6M400.6 670.9h0.6M397.5 667.3h0.6M401.3 671.4h0.6M396.8 666.3h0.6M396.7 663.3h0.6M398.0 663.6h0.6M399.4 666.6h0.6M395.0 670.0h0.6M396.7 657.8h0.6M394.7 658.1h0.6M395.0 657.8h0.6M395.6 676.1h0.6M394.3 661.2h0.6M393.4 647.1h0.6M393.0 657.0h0.6M396.5 659.1h0.6M391.8 658.7h0.6M401.3 652.7h0.6M396.2 674.8h0.6M393.2 656.3h0.6M406.1 677.5h0.6M394.2 664.9h0.6M396.4 664.7h0.6M397.6 659.5h0.6M388.2 651.8h0.6M396.5 647.0h0.6M394.9 680.5h0.6M396.8 655.3h0.6M396.5 675.2h0.6M390.0 648.4h0.6M393.7 657.9h0.6M395.7 656.2h0.6M396.4 664.0h0.6M391.9 655.7h0.6M391.7 666.4h0.6M396.9 670.6h0.6M392.9 656.8h0.6M388.2 663.1h0.6M390.3 667.0h0.6M399.8 668.2h0.6M398.2 665.7h0.6M397.3 673.9h0.6M400.4 686.5h0.6M395.1 672.7h0.6M399.0 668.0h0.6M396.9 648.3h0.6M399.8 652.7h0.6M393.7 653.0h0.6M398.0 651.7h0.6M397.6 669.6h0.6M396.4 659.0h0.6M398.1 678.3h0.6M394.4 650.8h0.6M393.9 652.8h0.6M395.2 661.2h0.6M393.2 658.0h0.6M389.2 640.1h0.6M392.5 665.7h0.6M399.0 641.9h0.6" stroke="#5a80d8" stroke-width="0.96" opacity="0.45" stroke-linecap="round"/>
<ellipse cx="398" cy="632" rx="5" ry="4" fill="#2a9ac0" opacity="0.55" filter="url(#b2)" transform="rotate(0 398 632)"/>
<ellipse cx="398" cy="632" rx="2.5" ry="2" fill="#60b860" opacity="0.7" filter="url(#b1)" transform="rotate(0 398 632)"/>
</g>
<path d="M453.3 634.4h0.6M451.4 632.7h0.6M453.7 627.3h0.6M456.3 628.2h0.6M453.8 628.8h0.6M451.7 630.4h0.6M457.5 625.1h0.6M448.3 630.3h0.6M456.2 629.5h0.6M451.8 631.5h0.6M458.5 627.4h0.6M446.4 629.2h0.6M455.4 626.2h0.6M456.8 632.7h0.6M455.5 627.5h0.6M447.6 631.9h0.6M453.5 632.0h0.6M447.4 621.4h0.6M456.7 632.9h0.6M451.4 630.0h0.6M454.2 632.2h0.6M451.8 628.5h0.6M448.8 633.0h0.6M452.9 620.1h0.6M453.8 628.3h0.6M447.7 628.5h0.6M447.7 628.7h0.6M450.4 631.5h0.6M448.7 624.7h0.6M450.2 626.0h0.6M455.3 629.4h0.6M446.2 627.5h0.6M452.4 629.9h0.6M445.5 629.6h0.6M453.6 632.9h0.6M456.7 629.6h0.6M447.6 628.9h0.6M455.0 627.3h0.6M457.3 627.2h0.6M448.2 632.4h0.6M452.1 630.9h0.6M451.3 630.1h0.6M450.3 635.5h0.6M455.0 629.6h0.6M454.3 632.4h0.6M450.5 630.5h0.6M453.3 628.4h0.6M449.6 629.4h0.6M451.4 628.8h0.6M445.1 630.2h0.6M455.0 630.2h0.6M459.0 632.5h0.6M451.1 628.0h0.6M454.4 628.9h0.6M446.4 630.3h0.6M451.4 629.3h0.6M454.8 630.6h0.6M460.2 627.8h0.6M452.1 630.9h0.6M450.8 628.5h0.6M459.1 625.8h0.6M453.8 624.9h0.6M453.8 624.4h0.6M448.1 633.3h0.6M458.3 630.4h0.6M442.2 632.9h0.6M453.4 626.8h0.6M451.2 626.2h0.6M452.1 629.7h0.6M453.0 632.3h0.6M450.1 623.6h0.6M448.1 626.3h0.6M451.1 628.7h0.6M452.3 634.0h0.6M452.6 626.9h0.6M451.3 627.5h0.6M451.6 631.7h0.6M448.2 632.0h0.6M459.3 634.4h0.6M458.7 630.3h0.6M447.4 635.8h0.6M452.3 630.7h0.6M451.1 627.3h0.6M454.8 626.0h0.6M447.3 631.6h0.6M451.1 627.6h0.6M454.4 634.1h0.6M451.4 629.6h0.6M454.6 632.7h0.6M456.4 632.0h0.6M450.0 631.5h0.6M452.5 625.1h0.6M457.2 631.7h0.6M457.7 629.8h0.6M455.3 629.8h0.6M453.1 632.6h0.6M452.7 631.8h0.6M452.4 633.5h0.6M455.0 625.2h0.6M458.8 631.3h0.6M450.6 628.2h0.6M460.0 630.3h0.6M454.4 631.7h0.6M450.2 635.0h0.6M460.5 627.8h0.6M456.8 625.3h0.6M451.2 630.2h0.6M452.7 631.6h0.6M454.0 631.1h0.6M452.0 630.9h0.6M450.4 635.7h0.6M452.7 633.6h0.6M452.9 629.6h0.6M451.8 626.3h0.6M460.4 631.2h0.6M453.0 628.7h0.6M457.3 629.1h0.6M450.8 628.4h0.6M458.3 630.9h0.6M452.0 628.2h0.6M457.4 630.8h0.6M451.3 632.6h0.6M455.8 627.1h0.6M456.8 633.1h0.6M451.6 626.2h0.6M456.6 629.0h0.6M451.7 629.2h0.6M451.5 632.4h0.6M448.4 631.5h0.6M456.9 633.0h0.6M455.2 630.8h0.6M451.8 629.7h0.6M449.2 634.8h0.6M452.1 627.1h0.6M455.7 634.3h0.6M453.6 629.1h0.6M448.3 631.9h0.6M451.6 628.1h0.6M454.8 626.3h0.6M455.3 623.0h0.6M450.2 625.9h0.6M451.6 632.3h0.6M447.6 633.9h0.6M450.0 628.6h0.6M456.3 627.9h0.6M458.0 629.4h0.6M452.2 627.3h0.6M456.8 629.8h0.6M450.7 627.3h0.6M450.2 629.7h0.6M449.8 632.3h0.6M452.4 628.2h0.6M454.3 634.1h0.6M444.8 631.0h0.6M456.6 630.4h0.6M455.6 625.6h0.6M449.7 632.9h0.6M452.2 630.2h0.6M454.9 631.1h0.6M454.2 628.6h0.6M451.4 633.7h0.6M450.7 625.9h0.6M451.2 632.6h0.6M459.2 630.4h0.6M450.2 631.7h0.6M453.7 633.4h0.6M454.5 632.2h0.6M454.4 631.2h0.6M449.2 629.5h0.6M458.5 633.8h0.6M456.2 631.1h0.6M452.1 631.0h0.6M451.3 633.1h0.6M451.4 627.8h0.6M446.6 634.4h0.6M449.8 627.6h0.6M454.1 635.1h0.6M455.1 629.1h0.6M454.7 627.7h0.6M451.6 630.1h0.6M452.6 632.2h0.6M454.6 635.4h0.6M455.7 629.2h0.6M453.5 627.6h0.6M450.3 629.0h0.6M456.3 628.0h0.6M446.8 627.1h0.6M448.1 629.5h0.6M451.5 626.7h0.6M449.7 628.8h0.6M454.1 631.7h0.6M457.5 629.3h0.6M454.9 630.2h0.6M448.6 628.2h0.6M460.7 629.6h0.6M458.7 632.4h0.6M458.8 629.5h0.6M456.1 629.1h0.6M448.5 626.7h0.6M454.2 625.4h0.6M454.0 627.5h0.6M453.9 626.1h0.6M455.8 629.4h0.6M447.0 625.9h0.6M452.9 625.4h0.6M453.8 631.4h0.6M450.2 634.0h0.6M458.0 630.9h0.6M454.3 631.3h0.6M451.7 633.7h0.6M450.7 622.9h0.6M452.7 631.3h0.6M455.7 626.9h0.6M457.8 627.7h0.6M455.0 632.1h0.6M453.3 633.2h0.6M450.8 635.8h0.6M454.5 628.8h0.6M462.2 630.0h0.6M446.7 634.0h0.6M458.3 628.4h0.6M449.0 633.2h0.6M452.9 627.3h0.6M450.9 630.2h0.6M456.3 634.4h0.6M450.4 634.4h0.6M447.1 632.0h0.6M452.1 631.2h0.6M451.0 628.0h0.6M453.7 633.2h0.6M444.5 630.2h0.6M451.2 627.0h0.6M447.7 631.5h0.6M454.7 631.8h0.6M445.3 625.7h0.6M450.4 628.8h0.6M459.1 628.9h0.6M453.1 632.8h0.6M458.8 631.1h0.6M453.9 635.5h0.6M451.2 624.9h0.6M449.9 629.1h0.6M457.5 630.9h0.6M457.1 630.3h0.6M452.8 628.4h0.6M448.1 631.4h0.6M454.0 631.6h0.6M450.7 628.8h0.6M454.0 631.7h0.6M460.0 627.5h0.6" stroke="#3a70d8" stroke-width="0.96" opacity="0.6" stroke-linecap="round"/>
<ellipse cx="452.5" cy="630" rx="5" ry="3.5" fill="#2aa0b0" opacity="0.6" filter="url(#b1)" transform="rotate(0 452.5 630)"/>
<ellipse cx="452.5" cy="630" rx="2.5" ry="1.8" fill="#70c050" opacity="0.8" filter="url(#b1)" transform="rotate(0 452.5 630)"/>
<rect x="50.5" y="608" width="96.1" height="82.20000000000005" fill="none" stroke="#000" stroke-width="2.2"/>
<text x="45.1" y="693.2" font-size="5.4" text-anchor="middle" transform="rotate(-25 45.1 691.4000000000001)">10<tspan baseline-shift="2" font-size="3.6">0</tspan></text>
<text x="45.1" y="672.6500000000001" font-size="5.4" text-anchor="middle" transform="rotate(-25 45.1 670.8500000000001)">10<tspan baseline-shift="2" font-size="3.6">1</tspan></text>
<text x="45.1" y="652.1" font-size="5.4" text-anchor="middle" transform="rotate(-25 45.1 650.3000000000001)">10<tspan baseline-shift="2" font-size="3.6">2</tspan></text>
<text x="45.1" y="631.55" font-size="5.4" text-anchor="middle" transform="rotate(-25 45.1 629.75)">10<tspan baseline-shift="2" font-size="3.6">3</tspan></text>
<text x="45.1" y="611.0" font-size="5.4" text-anchor="middle" transform="rotate(-25 45.1 609.2)">10<tspan baseline-shift="2" font-size="3.6">4</tspan></text>
<text x="51.3" y="699.2" font-size="5.4" text-anchor="middle" transform="rotate(-30 51.3 697.4000000000001)">10<tspan baseline-shift="2" font-size="3.6">0</tspan></text>
<text x="75.325" y="699.2" font-size="5.4" text-anchor="middle" transform="rotate(-30 75.325 697.4000000000001)">10<tspan baseline-shift="2" font-size="3.6">1</tspan></text>
<text x="99.35" y="699.2" font-size="5.4" text-anchor="middle" transform="rotate(-30 99.35 697.4000000000001)">10<tspan baseline-shift="2" font-size="3.6">2</tspan></text>
<text x="123.37499999999999" y="699.2" font-size="5.4" text-anchor="middle" transform="rotate(-30 123.37499999999999 697.4000000000001)">10<tspan baseline-shift="2" font-size="3.6">3</tspan></text>
<text x="147.4" y="699.2" font-size="5.4" text-anchor="middle" transform="rotate(-30 147.4 697.4000000000001)">10<tspan baseline-shift="2" font-size="3.6">4</tspan></text>
<rect x="95" y="619.5" width="33" height="22.5" fill="none" stroke="#000" stroke-width="2.2"/>
<text x="102" y="618.4" font-size="12.4" text-anchor="start" textLength="17" lengthAdjust="spacingAndGlyphs">1.3</text>
<rect x="164.6" y="608" width="94.6" height="82.20000000000005" fill="none" stroke="#000" stroke-width="2.2"/>
<text x="159.2" y="693.2" font-size="5.4" text-anchor="middle" transform="rotate(-25 159.2 691.4000000000001)">10<tspan baseline-shift="2" font-size="3.6">0</tspan></text>
<text x="159.2" y="672.6500000000001" font-size="5.4" text-anchor="middle" transform="rotate(-25 159.2 670.8500000000001)">10<tspan baseline-shift="2" font-size="3.6">1</tspan></text>
<text x="159.2" y="652.1" font-size="5.4" text-anchor="middle" transform="rotate(-25 159.2 650.3000000000001)">10<tspan baseline-shift="2" font-size="3.6">2</tspan></text>
<text x="159.2" y="631.55" font-size="5.4" text-anchor="middle" transform="rotate(-25 159.2 629.75)">10<tspan baseline-shift="2" font-size="3.6">3</tspan></text>
<text x="159.2" y="611.0" font-size="5.4" text-anchor="middle" transform="rotate(-25 159.2 609.2)">10<tspan baseline-shift="2" font-size="3.6">4</tspan></text>
<text x="165.4" y="699.2" font-size="5.4" text-anchor="middle" transform="rotate(-30 165.4 697.4000000000001)">10<tspan baseline-shift="2" font-size="3.6">0</tspan></text>
<text x="189.05" y="699.2" font-size="5.4" text-anchor="middle" transform="rotate(-30 189.05 697.4000000000001)">10<tspan baseline-shift="2" font-size="3.6">1</tspan></text>
<text x="212.7" y="699.2" font-size="5.4" text-anchor="middle" transform="rotate(-30 212.7 697.4000000000001)">10<tspan baseline-shift="2" font-size="3.6">2</tspan></text>
<text x="236.35" y="699.2" font-size="5.4" text-anchor="middle" transform="rotate(-30 236.35 697.4000000000001)">10<tspan baseline-shift="2" font-size="3.6">3</tspan></text>
<text x="260.0" y="699.2" font-size="5.4" text-anchor="middle" transform="rotate(-30 260.0 697.4000000000001)">10<tspan baseline-shift="2" font-size="3.6">4</tspan></text>
<rect x="208.5" y="619.9" width="31.80000000000001" height="20.800000000000068" fill="none" stroke="#000" stroke-width="2.2"/>
<text x="215" y="619.6" font-size="12.4" text-anchor="start" textLength="19" lengthAdjust="spacingAndGlyphs">0.2</text>
<rect x="276.2" y="608" width="95.10000000000002" height="82.20000000000005" fill="none" stroke="#000" stroke-width="2.2"/>
<text x="270.8" y="693.2" font-size="5.4" text-anchor="middle" transform="rotate(-25 270.8 691.4000000000001)">10<tspan baseline-shift="2" font-size="3.6">0</tspan></text>
<text x="270.8" y="672.6500000000001" font-size="5.4" text-anchor="middle" transform="rotate(-25 270.8 670.8500000000001)">10<tspan baseline-shift="2" font-size="3.6">1</tspan></text>
<text x="270.8" y="652.1" font-size="5.4" text-anchor="middle" transform="rotate(-25 270.8 650.3000000000001)">10<tspan baseline-shift="2" font-size="3.6">2</tspan></text>
<text x="270.8" y="631.55" font-size="5.4" text-anchor="middle" transform="rotate(-25 270.8 629.75)">10<tspan baseline-shift="2" font-size="3.6">3</tspan></text>
<text x="270.8" y="611.0" font-size="5.4" text-anchor="middle" transform="rotate(-25 270.8 609.2)">10<tspan baseline-shift="2" font-size="3.6">4</tspan></text>
<text x="277.0" y="699.2" font-size="5.4" text-anchor="middle" transform="rotate(-30 277.0 697.4000000000001)">10<tspan baseline-shift="2" font-size="3.6">0</tspan></text>
<text x="300.77500000000003" y="699.2" font-size="5.4" text-anchor="middle" transform="rotate(-30 300.77500000000003 697.4000000000001)">10<tspan baseline-shift="2" font-size="3.6">1</tspan></text>
<text x="324.55" y="699.2" font-size="5.4" text-anchor="middle" transform="rotate(-30 324.55 697.4000000000001)">10<tspan baseline-shift="2" font-size="3.6">2</tspan></text>
<text x="348.325" y="699.2" font-size="5.4" text-anchor="middle" transform="rotate(-30 348.325 697.4000000000001)">10<tspan baseline-shift="2" font-size="3.6">3</tspan></text>
<text x="372.1" y="699.2" font-size="5.4" text-anchor="middle" transform="rotate(-30 372.1 697.4000000000001)">10<tspan baseline-shift="2" font-size="3.6">4</tspan></text>
<rect x="320.7" y="621" width="31.69999999999999" height="20.200000000000045" fill="none" stroke="#000" stroke-width="2.2"/>
<text x="327.9" y="619.6" font-size="12.4" text-anchor="start" textLength="17.30000000000001" lengthAdjust="spacingAndGlyphs">9.9</text>
<rect x="388.2" y="608" width="94.90000000000003" height="82.20000000000005" fill="none" stroke="#000" stroke-width="2.2"/>
<text x="382.8" y="693.2" font-size="5.4" text-anchor="middle" transform="rotate(-25 382.8 691.4000000000001)">10<tspan baseline-shift="2" font-size="3.6">0</tspan></text>
<text x="382.8" y="672.6500000000001" font-size="5.4" text-anchor="middle" transform="rotate(-25 382.8 670.8500000000001)">10<tspan baseline-shift="2" font-size="3.6">1</tspan></text>
<text x="382.8" y="652.1" font-size="5.4" text-anchor="middle" transform="rotate(-25 382.8 650.3000000000001)">10<tspan baseline-shift="2" font-size="3.6">2</tspan></text>
<text x="382.8" y="631.55" font-size="5.4" text-anchor="middle" transform="rotate(-25 382.8 629.75)">10<tspan baseline-shift="2" font-size="3.6">3</tspan></text>
<text x="382.8" y="611.0" font-size="5.4" text-anchor="middle" transform="rotate(-25 382.8 609.2)">10<tspan baseline-shift="2" font-size="3.6">4</tspan></text>
<text x="389.0" y="699.2" font-size="5.4" text-anchor="middle" transform="rotate(-30 389.0 697.4000000000001)">10<tspan baseline-shift="2" font-size="3.6">0</tspan></text>
<text x="412.725" y="699.2" font-size="5.4" text-anchor="middle" transform="rotate(-30 412.725 697.4000000000001)">10<tspan baseline-shift="2" font-size="3.6">1</tspan></text>
<text x="436.45" y="699.2" font-size="5.4" text-anchor="middle" transform="rotate(-30 436.45 697.4000000000001)">10<tspan baseline-shift="2" font-size="3.6">2</tspan></text>
<text x="460.175" y="699.2" font-size="5.4" text-anchor="middle" transform="rotate(-30 460.175 697.4000000000001)">10<tspan baseline-shift="2" font-size="3.6">3</tspan></text>
<text x="483.90000000000003" y="699.2" font-size="5.4" text-anchor="middle" transform="rotate(-30 483.90000000000003 697.4000000000001)">10<tspan baseline-shift="2" font-size="3.6">4</tspan></text>
<rect x="433" y="620.6" width="31.80000000000001" height="21.5" fill="none" stroke="#000" stroke-width="2.2"/>
<text x="438.7" y="619.4" font-size="12.4" text-anchor="start" textLength="24.80000000000001" lengthAdjust="spacingAndGlyphs">30.9</text>
<path d="M28.1 658.2V706.9H74.5" fill="none" stroke="#000" stroke-width="2.4" stroke-linejoin="miter"/>
<path d="M21.1 672.2L28.1 658.2L35.1 672.2" fill="none" stroke="#000" stroke-width="2.4" stroke-linejoin="miter"/>
<path d="M60.5 699.9L74.5 706.9L60.5 713.9" fill="none" stroke="#000" stroke-width="2.4" stroke-linejoin="miter"/>
<text x="21.5" y="705.5" font-size="12.5" text-anchor="start" transform="rotate(-90 21.5 705.5)">CD44</text>
<text x="25.15" y="728.3000000000001" font-size="12.5" text-anchor="start">CD117</text>
<line x1="44.5" y1="734.5" x2="486.4" y2="734.5" stroke="#000" stroke-width="2.2"/>
<text x="221.2" y="731.4" font-size="12.5" text-anchor="start" textLength="64.4" lengthAdjust="spacingAndGlyphs">Blood ELP</text>
<text x="28.75" y="750" font-size="12.5" text-anchor="start" textLength="153.3" lengthAdjust="spacingAndGlyphs">Lin (no CD4)<tspan baseline-shift="4.8" font-size="7.8">-</tspan>CD25<tspan baseline-shift="4.8" font-size="7.8">-</tspan>Sca1<tspan baseline-shift="4.8" font-size="7.8">+</tspan></text>
<path d="M68.5 791.4h0.6M63.0 788.5h0.6M63.9 793.8h0.6M75.3 789.2h0.6M63.1 791.6h0.6M66.3 787.3h0.6M67.5 791.3h0.6M62.5 791.2h0.6M54.4 783.1h0.6M62.8 788.6h0.6M57.9 793.6h0.6M62.5 788.6h0.6M64.0 790.9h0.6M61.7 790.8h0.6M60.6 782.4h0.6M66.4 788.6h0.6M68.0 780.7h0.6M64.7 785.6h0.6M63.4 786.5h0.6M62.6 785.5h0.6M68.6 781.5h0.6M56.9 789.3h0.6M72.9 785.1h0.6M60.3 783.6h0.6M59.8 792.7h0.6M67.2 791.4h0.6M65.7 788.9h0.6M61.7 784.3h0.6M66.9 797.4h0.6M62.6 792.8h0.6M61.1 788.2h0.6M71.6 787.7h0.6M67.0 785.9h0.6M72.4 783.3h0.6M66.6 787.1h0.6M65.0 789.4h0.6M69.9 791.3h0.6M68.8 789.4h0.6M59.5 793.1h0.6M70.9 789.8h0.6M67.6 787.1h0.6M57.9 791.7h0.6M61.0 795.3h0.6M67.2 787.9h0.6M61.5 788.4h0.6M59.8 786.6h0.6M71.1 786.9h0.6M72.2 787.6h0.6M66.0 784.5h0.6M62.9 786.3h0.6M58.1 795.4h0.6M66.8 787.7h0.6M59.4 788.1h0.6M59.6 784.3h0.6M63.4 796.2h0.6M56.6 790.1h0.6M58.0 787.5h0.6M64.4 785.1h0.6M71.9 790.0h0.6M61.4 781.7h0.6M64.9 785.5h0.6M68.6 784.0h0.6M69.4 786.3h0.6M65.0 787.0h0.6M66.9 792.4h0.6M61.8 784.6h0.6M72.4 791.6h0.6M72.5 791.6h0.6M64.8 794.2h0.6M61.2 786.4h0.6M62.4 790.6h0.6M60.4 787.3h0.6M60.5 787.1h0.6M69.1 792.2h0.6M63.2 797.7h0.6M61.1 789.8h0.6M62.1 779.6h0.6M59.0 792.7h0.6M56.9 799.2h0.6M63.6 789.0h0.6M69.6 788.1h0.6M61.4 785.7h0.6M60.0 790.1h0.6M62.1 790.0h0.6M57.6 786.4h0.6M73.2 789.4h0.6M63.7 792.5h0.6M65.4 793.9h0.6M59.1 790.9h0.6M59.5 790.6h0.6M74.9 793.8h0.6M60.4 789.6h0.6M66.1 785.3h0.6M65.2 783.9h0.6M68.4 791.5h0.6M63.4 790.6h0.6M74.6 787.4h0.6M56.0 789.3h0.6M62.2 785.0h0.6M68.1 791.8h0.6M66.7 794.2h0.6M61.4 786.4h0.6M52.2 789.3h0.6M63.2 788.2h0.6M59.9 788.9h0.6M68.8 785.6h0.6M66.6 787.4h0.6M63.4 788.5h0.6M70.7 790.0h0.6M67.1 788.6h0.6M54.7 791.6h0.6M64.0 788.4h0.6M61.9 782.1h0.6M70.6 795.0h0.6M71.0 781.0h0.6M66.5 783.5h0.6M63.3 786.0h0.6M61.4 785.1h0.6M62.0 791.0h0.6M71.2 791.6h0.6M64.1 787.5h0.6M63.0 787.9h0.6M61.4 787.3h0.6M67.8 787.1h0.6M60.5 787.5h0.6M64.5 787.7h0.6M63.0 790.7h0.6M63.9 784.1h0.6M66.6 785.3h0.6M67.5 791.1h0.6M66.2 789.2h0.6M58.2 787.3h0.6M64.6 790.5h0.6M59.2 787.4h0.6M57.3 788.7h0.6M64.4 788.5h0.6M71.4 790.8h0.6M63.2 785.8h0.6M62.1 791.0h0.6M68.1 786.1h0.6M63.6 786.3h0.6M67.1 788.7h0.6M60.9 784.6h0.6M69.8 782.6h0.6M73.0 785.9h0.6M67.8 790.2h0.6M67.8 792.4h0.6M62.0 787.9h0.6M68.4 790.1h0.6M60.7 785.1h0.6M57.7 789.0h0.6M61.7 782.1h0.6M61.6 789.2h0.6M64.9 787.2h0.6M64.8 790.5h0.6M58.8 784.9h0.6M68.4 790.8h0.6M57.9 785.2h0.6M70.5 790.9h0.6M63.4 791.9h0.6M70.1 793.4h0.6M57.9 783.1h0.6M61.8 787.8h0.6M62.5 788.9h0.6M70.6 792.2h0.6M68.5 788.0h0.6M71.4 789.8h0.6M65.2 787.9h0.6M56.0 796.2h0.6M64.0 791.4h0.6M74.1 787.3h0.6M58.9 791.9h0.6M65.2 784.4h0.6M68.4 788.1h0.6M59.9 778.3h0.6M59.7 789.5h0.6M59.5 791.7h0.6M73.8 789.2h0.6M65.1 787.7h0.6M67.9 788.1h0.6M68.7 793.4h0.6M67.9 784.3h0.6M67.0 787.0h0.6M65.5 791.7h0.6M61.1 788.8h0.6M70.6 784.8h0.6M63.2 790.8h0.6M63.1 791.9h0.6M59.6 782.3h0.6M65.8 787.5h0.6M65.5 791.7h0.6M68.8 786.7h0.6M62.4 780.6h0.6M59.8 788.9h0.6M65.0 782.4h0.6M67.6 787.9h0.6M69.0 786.7h0.6M68.4 783.8h0.6M55.8 784.9h0.6M67.2 789.6h0.6M55.7 788.6h0.6M67.1 794.4h0.6M67.6 790.0h0.6M57.1 789.4h0.6M55.3 786.9h0.6M62.4 784.3h0.6M59.6 787.5h0.6M66.7 785.6h0.6M65.4 790.7h0.6M64.0 795.3h0.6M62.7 785.2h0.6M55.6 792.1h0.6M67.1 787.3h0.6M65.5 787.5h0.6M68.0 788.0h0.6M65.1 787.7h0.6M60.1 779.6h0.6" stroke="#5a80d8" stroke-width="0.96" opacity="0.5" stroke-linecap="round"/>
<path d="M66.5 800.1h0.6M65.8 809.1h0.6M72.5 802.5h0.6M64.7 810.5h0.6M61.1 803.2h0.6M66.1 815.8h0.6M68.9 810.6h0.6M59.8 809.1h0.6M69.2 800.0h0.6M64.1 805.1h0.6M66.9 797.8h0.6M67.2 806.0h0.6M62.9 796.0h0.6M54.8 803.4h0.6M67.0 808.0h0.6M67.4 798.0h0.6M65.0 812.4h0.6M57.2 809.1h0.6M60.8 808.6h0.6M64.5 798.3h0.6M59.4 812.0h0.6M63.6 811.9h0.6M65.6 810.2h0.6M62.3 807.1h0.6M62.4 810.3h0.6M61.5 811.3h0.6M71.1 800.3h0.6M63.3 808.6h0.6M72.0 811.5h0.6M64.5 797.8h0.6M67.8 803.2h0.6M64.9 807.9h0.6M57.8 811.1h0.6M68.2 808.7h0.6M66.7 807.7h0.6M57.8 803.6h0.6M67.7 804.4h0.6M64.2 807.8h0.6M64.5 807.2h0.6M66.2 806.0h0.6M59.2 804.7h0.6M68.3 802.8h0.6M66.2 807.5h0.6M60.1 792.7h0.6M64.0 802.3h0.6M61.3 810.4h0.6M60.6 807.7h0.6M64.6 807.0h0.6M72.9 796.7h0.6M68.4 805.3h0.6M62.8 802.9h0.6M64.2 806.2h0.6M60.0 813.7h0.6M60.8 805.4h0.6M58.4 806.7h0.6M65.7 811.1h0.6M68.4 803.7h0.6M71.2 805.5h0.6M71.0 814.1h0.6M62.3 800.9h0.6M66.5 812.8h0.6M65.8 811.2h0.6M66.7 810.2h0.6M69.9 804.6h0.6M57.8 805.4h0.6M60.6 800.4h0.6M63.3 809.4h0.6M55.9 798.9h0.6M67.6 801.8h0.6M62.3 812.4h0.6M69.0 807.7h0.6M66.5 793.2h0.6M66.5 807.8h0.6M57.9 806.9h0.6M66.1 805.5h0.6M67.6 810.2h0.6M64.3 804.8h0.6M58.8 811.4h0.6M61.5 807.5h0.6M70.9 809.7h0.6M58.4 805.6h0.6M60.9 798.3h0.6M60.5 808.8h0.6M65.6 805.0h0.6M64.8 800.5h0.6M60.7 805.2h0.6M67.6 804.5h0.6M63.3 807.6h0.6M70.6 800.1h0.6M66.4 806.9h0.6M63.7 807.2h0.6M55.3 806.1h0.6M63.0 800.2h0.6M67.8 805.4h0.6M62.5 809.6h0.6M60.0 802.6h0.6M67.7 810.1h0.6M73.0 803.9h0.6M57.6 799.0h0.6M58.7 806.5h0.6M63.0 802.8h0.6M59.6 802.7h0.6M62.4 811.6h0.6M66.8 812.5h0.6M67.7 809.6h0.6M69.3 808.1h0.6M70.9 811.3h0.6M72.1 807.0h0.6M60.6 817.8h0.6M62.8 808.5h0.6M62.4 802.7h0.6M66.0 800.7h0.6M63.3 812.6h0.6M64.6 809.9h0.6M66.9 807.8h0.6M64.5 808.9h0.6M59.8 808.7h0.6M59.3 802.5h0.6M61.4 799.7h0.6M55.3 807.8h0.6M66.3 809.1h0.6M73.8 806.8h0.6M67.4 802.5h0.6M67.2 800.6h0.6M72.8 801.5h0.6M62.2 809.5h0.6M54.3 812.3h0.6M59.8 806.9h0.6M68.4 806.7h0.6M68.2 803.6h0.6M66.7 795.8h0.6M70.7 802.9h0.6M60.2 806.1h0.6M71.6 802.7h0.6M63.9 804.3h0.6M59.9 799.9h0.6M66.6 809.3h0.6M60.7 807.1h0.6M66.0 807.8h0.6M63.3 806.2h0.6M65.3 801.0h0.6M63.4 809.7h0.6M61.5 812.2h0.6M63.0 800.8h0.6M62.7 799.6h0.6M66.7 798.5h0.6M64.1 804.9h0.6M62.7 808.0h0.6M65.3 803.4h0.6M67.7 803.9h0.6M68.0 812.3h0.6M65.7 810.4h0.6M58.1 808.7h0.6M57.4 805.2h0.6M67.1 793.4h0.6M60.6 802.4h0.6M59.8 806.1h0.6M66.8 800.6h0.6M61.3 797.3h0.6M60.9 796.2h0.6M57.3 808.2h0.6M67.9 802.2h0.6M65.6 802.3h0.6M68.8 814.2h0.6M53.1 801.9h0.6M61.2 803.8h0.6M70.9 813.4h0.6M64.0 809.0h0.6M57.0 804.6h0.6M62.7 805.3h0.6M65.3 798.6h0.6M59.4 816.1h0.6M56.3 806.3h0.6M67.2 808.3h0.6M64.3 798.4h0.6M61.9 798.7h0.6M72.7 807.7h0.6M67.2 807.0h0.6M62.3 811.6h0.6M67.9 809.0h0.6M66.6 809.5h0.6M62.8 808.0h0.6M64.4 804.8h0.6M66.9 816.1h0.6M55.0 812.8h0.6M62.1 811.7h0.6M59.5 805.1h0.6M68.6 805.7h0.6M65.6 800.3h0.6M58.9 813.9h0.6M64.7 805.6h0.6M57.9 801.1h0.6M59.4 805.8h0.6M63.5 803.1h0.6M61.0 806.5h0.6M69.2 799.4h0.6M57.7 811.3h0.6M57.7 804.1h0.6M64.5 814.6h0.6M54.9 792.3h0.6M63.6 811.1h0.6M64.6 802.2h0.6M64.8 796.3h0.6M67.7 813.0h0.6M63.1 809.9h0.6M59.3 813.0h0.6M61.1 802.2h0.6M60.6 797.7h0.6M67.0 815.4h0.6M57.7 805.1h0.6M66.0 803.3h0.6M57.1 807.6h0.6M68.5 806.5h0.6M59.3 804.6h0.6M55.4 805.7h0.6M69.4 811.2h0.6M63.6 808.0h0.6M61.7 806.6h0.6M61.4 806.8h0.6M61.7 806.9h0.6M67.1 805.9h0.6M58.3 808.4h0.6M62.9 803.7h0.6M66.5 802.1h0.6M68.1 808.6h0.6M60.9 802.7h0.6M63.5 801.7h0.6M68.2 795.4h0.6M64.7 804.4h0.6M59.1 809.0h0.6M61.9 808.2h0.6M62.1 804.7h0.6M66.3 810.5h0.6M68.4 805.9h0.6M70.6 804.4h0.6M58.0 797.2h0.6M57.6 801.9h0.6M56.1 807.6h0.6M64.1 805.8h0.6M65.1 805.5h0.6M62.9 804.5h0.6M64.2 800.7h0.6M69.7 813.3h0.6M64.2 816.8h0.6M59.7 810.3h0.6M56.8 808.9h0.6M60.7 810.8h0.6M64.5 810.5h0.6M66.7 808.5h0.6M62.8 813.5h0.6M65.6 808.3h0.6M70.4 804.8h0.6M71.7 811.1h0.6M64.4 799.2h0.6M69.4 804.5h0.6M64.4 806.6h0.6M68.2 809.0h0.6M55.9 802.9h0.6M65.6 806.8h0.6M67.5 808.7h0.6M71.2 802.6h0.6M69.8 807.8h0.6M65.3 809.2h0.6M62.5 809.4h0.6M63.1 809.4h0.6M60.7 811.6h0.6M57.3 802.9h0.6M63.8 807.2h0.6M60.5 804.1h0.6M65.1 811.0h0.6M69.7 803.8h0.6M63.7 804.5h0.6M57.3 803.9h0.6M69.0 799.6h0.6M76.7 810.6h0.6M71.7 806.9h0.6M53.8 808.1h0.6M71.1 803.3h0.6M69.6 809.6h0.6M67.5 809.5h0.6M66.6 809.1h0.6M69.3 808.0h0.6M66.8 808.0h0.6M64.6 801.9h0.6M56.1 801.2h0.6M58.5 799.0h0.6M67.1 804.5h0.6M69.6 820.8h0.6M67.4 803.8h0.6M65.7 805.0h0.6M65.3 815.9h0.6M71.1 812.1h0.6M65.3 814.4h0.6M67.7 810.2h0.6M58.9 803.1h0.6M64.8 805.0h0.6M61.7 796.5h0.6M60.7 805.5h0.6M65.4 800.9h0.6M63.4 814.6h0.6" stroke="#4a78d8" stroke-width="0.96" opacity="0.5" stroke-linecap="round"/>
<path d="M64.7 812.6h0.6M63.3 820.0h0.6M69.0 820.8h0.6M69.4 821.3h0.6M68.6 825.1h0.6M70.1 820.8h0.6M59.2 820.8h0.6M65.9 817.3h0.6M67.3 819.4h0.6M67.2 820.7h0.6M60.4 824.0h0.6M71.9 823.5h0.6M65.1 813.5h0.6M65.3 819.9h0.6M60.9 812.7h0.6M65.8 823.7h0.6M66.8 828.7h0.6M56.6 821.4h0.6M63.9 825.4h0.6M63.9 816.3h0.6M63.8 821.7h0.6M61.2 817.0h0.6M65.1 823.3h0.6M63.1 821.9h0.6M62.1 818.7h0.6M64.8 823.7h0.6M70.3 819.5h0.6M65.8 827.5h0.6M67.3 818.7h0.6M65.7 814.6h0.6M55.8 817.1h0.6M61.2 814.9h0.6M68.1 818.3h0.6M64.4 820.3h0.6M63.2 815.6h0.6M71.6 812.5h0.6M63.9 822.7h0.6M63.3 819.6h0.6M65.3 820.9h0.6M62.7 824.1h0.6M66.0 825.8h0.6M64.4 812.4h0.6M57.6 818.1h0.6M65.8 813.8h0.6M61.8 824.8h0.6M65.4 817.3h0.6M63.6 820.5h0.6M62.4 818.8h0.6M61.6 820.9h0.6M70.3 825.6h0.6M59.2 828.9h0.6M63.6 814.7h0.6M58.2 820.6h0.6M65.0 817.6h0.6M60.9 819.2h0.6M65.1 822.6h0.6M66.2 811.0h0.6M61.7 821.0h0.6M65.5 823.1h0.6M58.3 826.0h0.6M59.4 819.3h0.6M62.2 818.2h0.6M61.0 823.1h0.6M67.1 821.4h0.6M59.1 817.6h0.6M63.8 821.5h0.6M61.9 819.0h0.6M74.3 820.3h0.6M62.9 810.7h0.6M61.1 826.2h0.6M67.4 815.5h0.6M67.1 820.7h0.6M61.0 823.1h0.6M61.7 818.9h0.6M64.1 820.8h0.6M62.4 821.2h0.6M64.1 820.8h0.6M65.6 817.6h0.6M58.8 819.7h0.6" stroke="#7a90d8" stroke-width="0.96" opacity="0.4" stroke-linecap="round"/>
<path d="M187.1 781.3h0.6M182.2 777.2h0.6M175.5 775.3h0.6M176.6 778.6h0.6M173.6 779.6h0.6M173.5 782.5h0.6M181.0 773.3h0.6M178.4 780.9h0.6M182.9 783.0h0.6M179.4 779.5h0.6M180.0 782.1h0.6M177.7 779.4h0.6M181.8 778.7h0.6M175.8 785.2h0.6M183.5 776.6h0.6M190.6 777.1h0.6M176.9 778.6h0.6M183.7 785.7h0.6M187.7 782.1h0.6M181.4 782.6h0.6M177.3 777.4h0.6M183.7 780.8h0.6M182.2 776.2h0.6M182.3 774.5h0.6M185.6 780.1h0.6M178.0 778.2h0.6M194.6 791.9h0.6M177.7 785.2h0.6M167.0 784.3h0.6M181.2 781.0h0.6M176.5 775.0h0.6M182.2 778.3h0.6M183.5 784.1h0.6M180.5 782.1h0.6M181.9 780.9h0.6M178.6 780.9h0.6M183.2 780.3h0.6M178.9 774.5h0.6M175.9 786.0h0.6M186.0 781.2h0.6M182.5 779.5h0.6M184.4 783.7h0.6M179.9 781.2h0.6M185.7 774.0h0.6M176.6 777.9h0.6M175.5 778.4h0.6M177.0 778.5h0.6M183.4 775.6h0.6M181.6 785.3h0.6M182.0 775.4h0.6M178.2 784.5h0.6M179.8 777.6h0.6M184.9 777.3h0.6M175.7 782.4h0.6M181.2 777.6h0.6M183.3 784.2h0.6M186.3 780.4h0.6M183.3 781.9h0.6M173.9 786.4h0.6M177.9 777.9h0.6M177.1 776.4h0.6M186.4 780.1h0.6M178.3 773.1h0.6M181.9 779.8h0.6M176.1 779.7h0.6M172.3 782.5h0.6M175.2 781.9h0.6M181.6 771.9h0.6M175.7 777.5h0.6M184.9 782.3h0.6M184.1 786.4h0.6M179.7 778.1h0.6M172.1 776.1h0.6M183.8 776.8h0.6M176.9 783.7h0.6M169.2 785.3h0.6M187.3 773.2h0.6M183.4 780.0h0.6M185.5 778.7h0.6M180.5 785.4h0.6M178.2 781.6h0.6M184.1 779.6h0.6M185.3 782.0h0.6M185.1 773.6h0.6M176.1 781.2h0.6M186.7 785.5h0.6M181.2 777.2h0.6M175.8 772.6h0.6M178.7 782.2h0.6M180.8 774.4h0.6M180.6 780.2h0.6M177.5 785.6h0.6M183.2 784.2h0.6M181.6 776.3h0.6M186.3 784.3h0.6M178.3 775.0h0.6M185.0 777.9h0.6M175.5 779.7h0.6M183.8 777.2h0.6M181.3 783.8h0.6M184.7 774.1h0.6M184.5 786.8h0.6M185.5 779.7h0.6M182.9 774.0h0.6M178.3 778.1h0.6M191.1 780.0h0.6M176.4 786.5h0.6M187.0 773.7h0.6M180.1 773.6h0.6M186.1 771.4h0.6M190.0 776.0h0.6M176.1 788.1h0.6M183.7 781.4h0.6M185.2 776.3h0.6M185.3 779.0h0.6M183.6 780.9h0.6M187.7 775.1h0.6M174.4 782.5h0.6M192.4 782.1h0.6M180.3 782.6h0.6M175.3 780.4h0.6M173.1 780.5h0.6M184.6 786.5h0.6M178.7 783.6h0.6M187.5 776.0h0.6M179.8 773.0h0.6M176.9 781.7h0.6M171.4 778.9h0.6M184.6 785.5h0.6M169.1 781.5h0.6M178.2 771.2h0.6M176.2 782.3h0.6M181.0 782.7h0.6M179.7 782.6h0.6M176.4 776.3h0.6M180.3 773.4h0.6M187.0 779.1h0.6M176.4 776.7h0.6M176.5 780.5h0.6M179.3 783.3h0.6M175.6 779.8h0.6M173.9 778.3h0.6M187.6 779.6h0.6M185.4 779.8h0.6M175.9 776.7h0.6M175.7 781.3h0.6M182.2 791.3h0.6M189.1 783.3h0.6M176.4 780.5h0.6M176.8 789.0h0.6M177.6 784.5h0.6M174.6 783.0h0.6M175.2 778.3h0.6M181.9 780.6h0.6M180.8 779.8h0.6M177.0 779.6h0.6M180.8 776.5h0.6M183.8 780.7h0.6M177.5 785.0h0.6M178.4 772.7h0.6M187.1 778.6h0.6M188.1 781.7h0.6M176.8 784.3h0.6M183.3 783.6h0.6M181.3 786.0h0.6M185.5 778.8h0.6M173.9 779.9h0.6M181.4 776.2h0.6M180.2 785.8h0.6M178.8 784.4h0.6M176.6 776.3h0.6M185.6 779.4h0.6M182.1 784.0h0.6M188.9 775.3h0.6M183.9 780.9h0.6M181.8 786.9h0.6M179.9 777.8h0.6M183.5 772.2h0.6M182.8 776.6h0.6M182.6 777.2h0.6M183.5 779.1h0.6M177.7 782.1h0.6M184.7 773.9h0.6M174.9 779.0h0.6M179.3 785.1h0.6M188.7 781.9h0.6M186.3 778.8h0.6M174.5 781.2h0.6M172.7 786.3h0.6M182.3 784.5h0.6M178.0 773.8h0.6M180.1 781.9h0.6M180.0 778.1h0.6M181.4 779.3h0.6M187.7 775.0h0.6M170.5 779.7h0.6M182.4 774.1h0.6M180.9 781.7h0.6M182.7 781.2h0.6M177.5 774.5h0.6M185.6 778.7h0.6M174.5 786.0h0.6M193.4 780.6h0.6M173.4 783.7h0.6M182.6 784.8h0.6M181.1 773.6h0.6M180.3 778.4h0.6M182.4 779.3h0.6M183.7 775.3h0.6M178.4 778.0h0.6M183.0 773.4h0.6M181.1 789.2h0.6M172.4 784.0h0.6M181.5 783.8h0.6M181.3 781.0h0.6M182.8 781.8h0.6M175.3 779.5h0.6M189.8 785.5h0.6M177.0 776.4h0.6M180.2 784.1h0.6M185.4 777.8h0.6M169.7 779.8h0.6M173.1 784.6h0.6M188.1 782.6h0.6M183.9 782.2h0.6M189.9 784.2h0.6M188.0 775.6h0.6M178.6 780.0h0.6M170.4 778.9h0.6M180.9 779.8h0.6M193.1 779.2h0.6M180.1 779.6h0.6M179.4 774.5h0.6M186.4 780.1h0.6M182.8 780.2h0.6M177.3 773.9h0.6M179.7 782.1h0.6M180.5 782.8h0.6M177.3 778.9h0.6M181.8 779.6h0.6M181.9 785.6h0.6M179.0 780.5h0.6M177.9 782.1h0.6M182.1 777.2h0.6M176.2 775.4h0.6M179.7 780.6h0.6M178.7 779.6h0.6M181.7 789.1h0.6M186.7 789.0h0.6" stroke="#3a60c8" stroke-width="0.96" opacity="0.55" stroke-linecap="round"/>
<path d="M181.7 808.3h0.6M190.4 810.1h0.6M184.2 800.7h0.6M178.4 814.3h0.6M178.2 799.0h0.6M173.9 809.2h0.6M180.6 811.8h0.6M176.9 792.9h0.6M186.3 806.3h0.6M184.8 793.9h0.6M174.8 779.2h0.6M182.5 816.6h0.6M187.4 824.8h0.6M172.3 794.5h0.6M178.5 797.6h0.6M180.0 797.5h0.6M174.0 805.6h0.6M181.6 797.9h0.6M181.2 792.2h0.6M179.4 802.5h0.6M178.8 805.2h0.6M174.9 791.8h0.6M177.0 813.8h0.6M176.5 796.1h0.6M190.5 803.3h0.6M179.2 796.6h0.6M188.1 811.6h0.6M182.3 822.9h0.6M175.3 788.1h0.6M186.3 810.6h0.6M178.5 814.5h0.6M180.6 826.8h0.6M174.9 809.8h0.6M185.7 815.4h0.6M179.3 801.8h0.6M178.9 813.4h0.6M179.1 804.5h0.6M185.9 804.8h0.6M182.2 804.7h0.6M181.0 782.4h0.6M176.5 809.9h0.6M177.9 799.5h0.6M181.3 830.3h0.6M177.4 795.9h0.6M172.4 810.9h0.6M180.7 797.1h0.6M179.0 816.4h0.6M185.9 809.9h0.6M186.6 816.8h0.6M178.8 814.5h0.6M181.8 814.2h0.6M182.3 828.7h0.6M175.0 809.9h0.6M175.8 830.7h0.6M178.5 802.1h0.6M180.9 805.5h0.6M189.2 805.4h0.6M182.2 817.3h0.6M188.3 795.8h0.6M182.5 791.9h0.6M183.4 821.1h0.6M178.5 803.0h0.6M186.7 810.7h0.6M184.9 801.1h0.6M179.5 802.1h0.6M188.5 790.1h0.6M178.5 822.6h0.6M180.7 794.3h0.6M182.1 803.7h0.6M180.4 811.3h0.6M184.8 790.0h0.6M182.0 822.0h0.6M174.5 805.0h0.6M175.4 813.1h0.6M176.9 802.4h0.6M179.0 810.9h0.6M174.7 791.1h0.6M181.9 820.5h0.6M178.6 810.4h0.6M182.3 807.2h0.6M180.9 800.1h0.6M179.8 818.9h0.6M183.1 819.7h0.6M177.5 807.3h0.6M177.9 791.8h0.6M185.3 803.0h0.6M182.1 790.8h0.6M179.8 804.7h0.6M179.1 816.9h0.6M183.2 807.4h0.6M182.1 801.2h0.6M177.6 803.0h0.6M176.1 804.2h0.6M180.4 818.1h0.6M178.9 832.1h0.6M178.5 807.4h0.6M180.9 799.4h0.6M180.7 787.0h0.6M186.3 799.8h0.6M180.8 786.5h0.6M183.7 792.2h0.6M187.5 794.8h0.6M177.5 813.1h0.6M187.1 784.7h0.6M172.9 823.4h0.6M183.1 789.7h0.6M178.9 813.5h0.6M179.1 822.2h0.6M177.5 807.8h0.6M186.5 821.9h0.6M182.1 812.3h0.6M179.4 805.3h0.6M178.2 810.2h0.6M185.0 795.2h0.6M175.4 806.5h0.6M190.6 808.4h0.6M181.6 805.5h0.6M172.9 798.3h0.6M188.2 783.3h0.6M189.6 793.1h0.6M188.2 804.5h0.6M183.8 800.1h0.6M178.8 808.2h0.6M179.5 794.3h0.6M179.6 813.0h0.6M177.3 809.9h0.6M174.5 807.0h0.6M175.4 814.3h0.6M176.0 812.7h0.6M171.4 807.9h0.6M186.2 797.0h0.6M181.2 796.7h0.6M183.3 814.2h0.6M186.5 820.4h0.6M187.2 798.1h0.6M181.5 811.7h0.6M181.9 791.8h0.6M181.2 777.8h0.6M189.7 804.0h0.6M191.8 794.6h0.6M183.5 814.6h0.6M174.1 802.4h0.6M183.3 813.1h0.6M182.8 777.6h0.6M169.5 809.9h0.6M188.6 789.3h0.6M182.8 816.1h0.6M176.3 788.8h0.6M182.2 801.2h0.6M180.5 803.8h0.6M180.4 809.3h0.6M178.4 805.6h0.6M178.2 796.5h0.6M182.6 796.9h0.6M183.5 805.7h0.6M186.1 812.4h0.6M171.3 805.7h0.6M184.1 807.2h0.6M181.2 817.7h0.6M184.2 791.4h0.6M181.4 816.9h0.6M181.7 792.1h0.6M184.7 812.5h0.6M186.5 807.8h0.6M181.5 815.3h0.6M175.7 824.6h0.6M182.9 808.4h0.6M184.6 814.6h0.6M170.4 816.1h0.6M180.4 797.4h0.6M185.3 816.2h0.6M182.8 799.2h0.6M181.5 795.6h0.6M193.0 798.8h0.6M185.1 823.7h0.6M176.8 800.1h0.6M170.2 803.3h0.6M174.6 807.7h0.6M179.9 806.1h0.6M181.1 800.8h0.6M181.5 805.2h0.6M177.5 802.5h0.6M178.2 791.9h0.6M180.8 785.6h0.6M183.5 805.6h0.6M181.7 818.6h0.6M185.5 801.2h0.6M182.6 818.9h0.6M180.2 810.1h0.6M182.9 794.7h0.6M182.3 801.7h0.6M179.7 810.7h0.6M184.1 796.1h0.6M179.7 803.8h0.6M176.4 810.0h0.6M180.0 798.3h0.6M185.4 805.0h0.6M175.4 804.9h0.6M180.1 809.1h0.6M191.7 811.9h0.6M187.8 804.1h0.6M183.2 811.4h0.6M180.4 808.6h0.6M178.8 813.5h0.6M176.6 824.6h0.6M180.3 809.9h0.6M181.6 788.3h0.6M183.0 796.3h0.6M181.9 801.4h0.6M179.6 789.4h0.6M174.7 799.9h0.6M175.8 808.6h0.6M174.2 808.3h0.6M183.6 797.8h0.6M176.3 802.2h0.6M184.7 821.1h0.6M191.3 806.9h0.6M183.9 808.0h0.6M180.8 794.3h0.6M179.2 818.1h0.6M187.5 799.4h0.6M173.2 826.5h0.6M181.1 810.9h0.6M180.1 786.3h0.6M182.4 795.4h0.6M179.6 799.1h0.6M179.7 832.1h0.6M188.1 784.6h0.6M173.5 800.4h0.6M177.7 814.4h0.6M188.4 798.0h0.6M183.7 803.7h0.6M171.5 818.8h0.6M189.3 797.0h0.6M183.9 800.3h0.6M180.5 800.9h0.6M180.3 806.4h0.6M178.0 809.0h0.6M174.7 814.8h0.6M176.4 785.7h0.6M184.9 802.2h0.6M178.4 815.9h0.6M180.8 827.2h0.6M183.0 790.4h0.6M178.5 798.6h0.6M179.5 824.3h0.6M193.9 824.6h0.6M183.1 811.9h0.6M181.7 781.8h0.6M187.6 827.6h0.6M178.4 805.6h0.6M177.5 803.7h0.6M176.8 793.6h0.6M186.7 784.7h0.6M185.9 793.5h0.6M179.7 784.0h0.6M184.1 795.0h0.6M192.9 795.8h0.6M182.1 813.2h0.6M176.3 796.9h0.6M175.8 812.0h0.6M182.4 817.0h0.6M174.0 795.8h0.6M180.4 801.1h0.6M182.4 818.2h0.6M181.6 797.2h0.6M180.7 798.1h0.6M177.8 826.3h0.6M184.2 825.9h0.6M179.9 805.2h0.6M174.9 808.6h0.6M184.4 813.5h0.6M175.4 807.1h0.6M185.4 800.8h0.6M184.3 800.5h0.6M180.9 799.6h0.6M173.8 796.8h0.6M181.8 802.8h0.6M180.9 799.6h0.6M185.2 804.0h0.6M182.8 800.8h0.6M187.2 804.8h0.6M183.0 830.0h0.6M183.0 788.9h0.6M177.7 809.5h0.6M174.6 789.9h0.6M180.4 788.7h0.6M186.1 810.7h0.6M179.4 819.1h0.6M177.7 793.0h0.6M185.3 806.2h0.6M179.9 817.2h0.6M180.3 813.0h0.6M182.0 818.6h0.6M183.6 800.8h0.6M188.2 802.1h0.6M189.3 792.1h0.6M181.2 781.6h0.6M183.4 820.6h0.6M179.1 811.1h0.6M179.9 821.7h0.6M182.6 809.8h0.6M186.2 789.4h0.6M184.3 807.4h0.6M187.2 806.3h0.6M183.9 805.4h0.6M176.2 800.5h0.6M180.1 791.5h0.6M180.7 800.8h0.6M189.7 803.3h0.6M181.6 807.0h0.6M184.3 788.4h0.6M172.6 823.3h0.6M177.0 796.3h0.6M186.6 809.2h0.6M177.1 814.1h0.6M175.5 823.7h0.6M179.5 809.6h0.6M180.9 826.9h0.6M176.4 804.9h0.6M191.2 783.7h0.6M178.6 809.0h0.6M179.9 810.8h0.6M186.5 793.6h0.6M177.9 820.3h0.6M190.3 776.8h0.6M183.6 816.8h0.6M177.7 796.5h0.6M175.6 803.8h0.6M175.5 813.7h0.6M177.7 811.6h0.6M173.5 815.6h0.6M184.2 816.3h0.6M182.3 831.1h0.6M185.6 806.5h0.6M188.7 802.1h0.6M181.7 823.9h0.6M178.8 805.9h0.6M182.2 808.0h0.6M179.9 817.0h0.6M191.3 801.8h0.6M174.0 800.9h0.6M174.4 792.1h0.6M176.0 817.6h0.6M181.7 813.7h0.6M180.5 817.1h0.6M179.1 820.2h0.6M185.2 808.4h0.6M174.0 794.0h0.6M182.2 794.6h0.6M180.2 804.2h0.6M187.6 798.6h0.6M181.6 801.0h0.6M177.4 810.8h0.6M185.6 790.5h0.6M188.2 830.3h0.6M181.7 811.7h0.6M176.0 801.6h0.6M182.5 805.0h0.6M187.6 796.4h0.6M179.8 811.7h0.6M180.7 803.3h0.6M180.4 810.4h0.6M184.6 794.5h0.6M176.7 793.7h0.6M183.1 785.8h0.6M192.7 800.0h0.6M174.3 828.4h0.6M181.0 811.4h0.6M180.1 803.2h0.6M190.9 784.6h0.6M182.2 798.0h0.6M179.4 805.3h0.6M172.2 812.8h0.6M182.0 812.1h0.6" stroke="#5a80d8" stroke-width="0.96" opacity="0.45" stroke-linecap="round"/>
<path d="M290.6 812.6h0.6M291.3 812.9h0.6M301.8 811.6h0.6M285.8 806.7h0.6M288.1 823.3h0.6M295.2 794.7h0.6M285.3 817.8h0.6M288.3 809.7h0.6M292.1 804.7h0.6M291.5 806.1h0.6M303.3 798.2h0.6M297.0 810.3h0.6M290.2 796.3h0.6M288.9 811.1h0.6M294.9 815.1h0.6M296.1 807.1h0.6M294.1 808.1h0.6M294.3 812.0h0.6M289.1 815.5h0.6M303.4 805.2h0.6M297.3 795.6h0.6M294.6 793.3h0.6M299.7 806.5h0.6M300.2 816.0h0.6M289.8 813.2h0.6M302.9 825.7h0.6M293.4 810.9h0.6M290.4 811.7h0.6M297.5 818.9h0.6M293.2 806.6h0.6M296.9 804.5h0.6M305.9 786.4h0.6M284.2 801.6h0.6M298.0 806.2h0.6M296.4 792.6h0.6M297.5 810.8h0.6M303.4 813.3h0.6M290.5 799.5h0.6M287.5 801.7h0.6M293.5 817.1h0.6M303.5 806.7h0.6M297.5 804.6h0.6M286.6 810.7h0.6M289.9 791.8h0.6M289.2 819.2h0.6M287.4 818.1h0.6M286.2 805.4h0.6M296.9 802.5h0.6M288.5 806.1h0.6M303.7 811.9h0.6M295.2 811.1h0.6M300.9 817.8h0.6M292.5 798.3h0.6M288.4 806.6h0.6M292.3 806.1h0.6M290.5 828.0h0.6M290.0 818.6h0.6M289.1 799.1h0.6M287.3 796.4h0.6M284.6 798.8h0.6M292.7 812.2h0.6M283.8 809.9h0.6M293.4 806.0h0.6M281.6 810.3h0.6M297.9 816.2h0.6M292.4 817.0h0.6M294.4 798.0h0.6M297.1 814.7h0.6M295.4 805.8h0.6M292.6 812.0h0.6M283.6 808.7h0.6M286.6 801.5h0.6M295.2 816.9h0.6M294.0 797.9h0.6M309.8 808.9h0.6M278.4 805.2h0.6M289.8 800.7h0.6M300.1 824.8h0.6M294.6 794.3h0.6M299.0 806.9h0.6M291.7 807.9h0.6M287.3 807.8h0.6M296.1 816.5h0.6M305.6 800.5h0.6M296.2 799.1h0.6M294.7 816.2h0.6M297.8 803.5h0.6M304.4 813.9h0.6M301.2 806.8h0.6M301.8 804.8h0.6M299.1 806.4h0.6M294.0 792.4h0.6M299.7 811.1h0.6M290.4 806.6h0.6M297.5 811.7h0.6M282.0 819.2h0.6M288.1 822.8h0.6M300.7 807.3h0.6M295.2 808.6h0.6M291.7 819.4h0.6M290.1 801.4h0.6M292.7 792.1h0.6M300.1 795.7h0.6M302.9 814.4h0.6M305.8 800.8h0.6M292.3 802.1h0.6M298.7 798.2h0.6M292.2 785.7h0.6M294.3 807.9h0.6M305.6 798.7h0.6M299.7 811.1h0.6M299.2 796.3h0.6M299.7 807.6h0.6M302.5 825.2h0.6M290.0 802.5h0.6M303.0 791.3h0.6M279.4 808.5h0.6M296.0 819.5h0.6M298.3 805.7h0.6M290.7 789.8h0.6M297.1 800.7h0.6M291.8 808.9h0.6M282.1 805.3h0.6M290.4 823.8h0.6M293.4 816.1h0.6M288.2 792.0h0.6M299.3 803.0h0.6M286.2 815.6h0.6M297.0 790.8h0.6M292.7 823.8h0.6M294.7 794.0h0.6M289.1 818.5h0.6M302.9 812.2h0.6M285.2 813.5h0.6M289.2 801.6h0.6M291.1 815.7h0.6M297.1 811.2h0.6M291.4 801.5h0.6M300.4 800.6h0.6M292.4 811.1h0.6M293.0 814.9h0.6M297.4 811.8h0.6M307.7 801.2h0.6M306.5 794.5h0.6M289.4 783.7h0.6M290.1 798.9h0.6M298.3 817.4h0.6M307.8 801.3h0.6M300.4 804.4h0.6M291.9 788.6h0.6M299.2 797.6h0.6M297.9 800.0h0.6M296.9 797.5h0.6M296.4 822.5h0.6M296.3 793.7h0.6M289.4 807.3h0.6M298.9 794.9h0.6M288.6 791.4h0.6M304.5 808.7h0.6M296.0 802.1h0.6M305.5 811.3h0.6M293.5 817.1h0.6M297.6 803.5h0.6M291.9 806.1h0.6M302.3 793.2h0.6M284.2 812.2h0.6M300.4 819.3h0.6M297.5 792.4h0.6M298.9 807.6h0.6M288.1 791.5h0.6M284.9 806.7h0.6M286.4 809.3h0.6M293.1 811.9h0.6M299.2 797.7h0.6M291.8 812.8h0.6M290.2 815.3h0.6M297.6 814.2h0.6M290.5 813.2h0.6M292.8 808.0h0.6M297.8 800.9h0.6M293.8 784.3h0.6M289.9 811.7h0.6M287.6 786.7h0.6M285.5 803.3h0.6M298.0 810.9h0.6M285.6 809.7h0.6M286.8 816.0h0.6M296.4 800.2h0.6M291.3 805.3h0.6M290.6 816.7h0.6M295.9 800.8h0.6M296.7 793.4h0.6M295.0 803.0h0.6M290.7 805.5h0.6M295.4 792.6h0.6M298.7 800.6h0.6M296.2 821.2h0.6M287.7 821.2h0.6M292.0 823.4h0.6M289.2 815.6h0.6M290.7 817.5h0.6M299.3 809.1h0.6M289.1 815.6h0.6M296.2 796.1h0.6M297.3 804.5h0.6M293.4 797.0h0.6M295.3 813.9h0.6M289.1 813.4h0.6M283.4 807.0h0.6M295.6 797.2h0.6M295.0 794.0h0.6M305.0 809.6h0.6M300.4 797.5h0.6M280.9 805.2h0.6M301.9 804.5h0.6M300.8 809.7h0.6M296.0 815.7h0.6M290.6 802.2h0.6M300.4 810.2h0.6M290.9 796.1h0.6M302.7 776.3h0.6M299.3 804.6h0.6M286.5 809.7h0.6M296.8 826.9h0.6M295.7 782.9h0.6M288.7 813.0h0.6M291.2 805.5h0.6M293.6 819.1h0.6M295.9 804.5h0.6M290.3 815.2h0.6M290.0 809.8h0.6M296.4 812.8h0.6M298.6 808.6h0.6M305.4 813.2h0.6M289.7 797.7h0.6M290.0 818.2h0.6M287.7 820.4h0.6M296.5 800.6h0.6M288.3 805.1h0.6M298.4 805.3h0.6M298.1 807.5h0.6M301.8 801.5h0.6M293.3 795.6h0.6M292.2 796.9h0.6M285.4 803.9h0.6M297.9 785.4h0.6M286.8 793.2h0.6M296.1 811.2h0.6M295.9 804.3h0.6M289.7 807.7h0.6M289.1 803.9h0.6M296.3 803.7h0.6M300.8 786.0h0.6M285.0 815.1h0.6M290.8 801.7h0.6M290.9 805.4h0.6M293.1 809.3h0.6M299.3 823.0h0.6M282.0 805.0h0.6M289.0 807.9h0.6M288.3 806.6h0.6M295.6 805.6h0.6M295.4 812.0h0.6M288.1 805.5h0.6M300.0 814.5h0.6M299.6 798.4h0.6M290.3 815.0h0.6M294.0 808.7h0.6M292.0 814.3h0.6M295.0 796.9h0.6M296.1 802.8h0.6M292.5 811.2h0.6M294.9 800.7h0.6M287.4 801.9h0.6M293.3 795.1h0.6M290.5 827.3h0.6M290.4 806.6h0.6M287.1 803.0h0.6M295.4 807.5h0.6M284.5 806.3h0.6M288.5 816.0h0.6M293.5 820.5h0.6M296.1 795.3h0.6M299.4 801.5h0.6M293.4 806.9h0.6M286.7 816.7h0.6M294.9 796.5h0.6M286.3 810.2h0.6M300.9 809.7h0.6M295.8 802.2h0.6M300.2 811.0h0.6M289.5 800.4h0.6M281.8 816.5h0.6M310.9 804.9h0.6M296.5 813.0h0.6M292.8 825.6h0.6M288.3 798.3h0.6M303.1 814.3h0.6M298.3 805.0h0.6M293.8 807.3h0.6M296.4 800.5h0.6M299.9 821.9h0.6M291.0 797.3h0.6M294.7 828.5h0.6M288.6 818.3h0.6M290.2 799.1h0.6M300.1 804.5h0.6M293.8 812.4h0.6M300.4 808.2h0.6M302.8 799.9h0.6M291.1 812.3h0.6M297.7 790.2h0.6M292.3 812.3h0.6M293.1 822.4h0.6M285.1 807.9h0.6M289.3 791.5h0.6M292.7 805.5h0.6M291.7 800.3h0.6M298.9 796.6h0.6M290.5 793.3h0.6M300.6 792.7h0.6M303.7 797.7h0.6M293.7 820.9h0.6M288.0 818.1h0.6M286.7 801.9h0.6M297.2 809.2h0.6M295.9 809.0h0.6M302.9 791.4h0.6M290.1 814.0h0.6M285.7 799.8h0.6M307.8 818.3h0.6M296.9 806.8h0.6M293.1 798.1h0.6M289.1 797.2h0.6M286.8 807.3h0.6M296.4 797.6h0.6M294.8 794.1h0.6M296.1 803.2h0.6M293.6 807.9h0.6M301.4 808.0h0.6M290.3 807.6h0.6M296.2 811.0h0.6M300.0 798.7h0.6M287.3 811.8h0.6M287.6 810.3h0.6M309.4 817.5h0.6M285.7 798.7h0.6M296.2 803.6h0.6M298.0 808.4h0.6M295.9 811.2h0.6M285.2 816.6h0.6M286.0 798.1h0.6M280.3 806.2h0.6M296.3 802.7h0.6M287.2 786.3h0.6M297.2 795.7h0.6M291.9 808.4h0.6M293.6 809.9h0.6M303.4 812.6h0.6M288.3 805.8h0.6M292.7 798.4h0.6M297.7 802.7h0.6M295.4 812.0h0.6M305.9 800.6h0.6M298.1 825.8h0.6M303.1 808.9h0.6M289.8 807.7h0.6M290.5 802.4h0.6M284.2 803.6h0.6M282.6 815.2h0.6M297.0 802.5h0.6M294.2 807.3h0.6M292.6 808.8h0.6M293.0 810.3h0.6M289.4 806.8h0.6M303.6 798.8h0.6M289.4 814.8h0.6M295.8 807.6h0.6M295.1 802.5h0.6M291.0 810.9h0.6M295.0 812.1h0.6M296.6 826.6h0.6M294.5 819.0h0.6M294.9 826.8h0.6M299.6 799.4h0.6M303.1 801.1h0.6M299.8 799.4h0.6M296.1 807.7h0.6M302.2 786.7h0.6M283.1 815.2h0.6M298.3 801.7h0.6M294.6 790.4h0.6M291.9 800.3h0.6M299.1 808.6h0.6M293.1 816.9h0.6M290.3 813.3h0.6M292.7 810.5h0.6M292.4 819.1h0.6M291.6 824.7h0.6M298.6 798.8h0.6M291.5 818.6h0.6M302.5 795.3h0.6M295.0 812.0h0.6M307.7 812.5h0.6M292.9 814.8h0.6M294.5 798.6h0.6M293.8 804.4h0.6M292.8 807.2h0.6M296.1 799.3h0.6M297.9 792.1h0.6M297.9 810.9h0.6M296.5 792.9h0.6M291.2 808.3h0.6M296.7 813.3h0.6M285.3 806.7h0.6M300.3 795.9h0.6M287.1 802.2h0.6M292.5 804.1h0.6M301.2 809.0h0.6M283.1 813.7h0.6M294.6 814.3h0.6M293.9 819.1h0.6M294.9 802.1h0.6M287.2 814.9h0.6M293.3 790.6h0.6M298.9 818.4h0.6M282.1 811.7h0.6M297.8 822.2h0.6M301.1 799.8h0.6M296.7 813.3h0.6M285.6 819.7h0.6M296.9 814.2h0.6M289.0 814.1h0.6M293.8 803.8h0.6M294.3 809.7h0.6M285.3 806.6h0.6M296.2 791.9h0.6M303.8 830.0h0.6M297.9 806.6h0.6M288.1 796.5h0.6M287.0 814.7h0.6M289.0 808.3h0.6M291.5 814.8h0.6M301.4 815.0h0.6M297.9 816.3h0.6M303.9 798.7h0.6M295.6 800.7h0.6M294.3 804.6h0.6M294.7 813.1h0.6M286.6 783.0h0.6M295.6 816.3h0.6M291.8 820.1h0.6M307.0 807.3h0.6M292.8 811.4h0.6M298.5 793.1h0.6M296.9 788.0h0.6M287.9 808.7h0.6M295.9 795.9h0.6M294.3 818.4h0.6M284.6 811.8h0.6M301.4 794.5h0.6M300.9 810.8h0.6M292.3 806.9h0.6M293.8 807.0h0.6M292.9 800.0h0.6M299.3 822.2h0.6M292.9 819.6h0.6M289.6 795.1h0.6M297.7 808.9h0.6M296.7 798.0h0.6M291.8 816.0h0.6M303.2 809.1h0.6M296.3 782.8h0.6M290.3 818.6h0.6M305.0 799.2h0.6M279.5 811.3h0.6M286.5 802.9h0.6" stroke="#5a80d8" stroke-width="0.96" opacity="0.5" stroke-linecap="round"/>
<path d="M308.1 803.8h0.6M306.4 808.0h0.6M312.5 800.0h0.6M303.5 813.8h0.6M313.7 806.2h0.6M302.9 814.1h0.6M306.0 805.8h0.6M312.6 802.4h0.6M311.6 803.5h0.6M301.2 799.7h0.6M308.0 803.2h0.6M313.1 812.0h0.6M309.9 814.2h0.6M308.9 805.8h0.6M309.9 798.5h0.6M310.7 804.5h0.6M307.0 808.4h0.6M312.9 804.1h0.6M306.8 806.6h0.6M307.1 801.9h0.6M308.6 809.2h0.6M309.6 804.7h0.6M309.4 807.8h0.6M310.2 808.7h0.6M310.2 808.8h0.6M309.5 802.3h0.6M312.9 804.5h0.6M308.8 811.2h0.6M308.6 802.2h0.6M309.3 811.2h0.6M304.6 810.1h0.6M313.4 803.7h0.6M309.3 802.4h0.6M301.3 801.6h0.6M304.2 798.9h0.6M308.8 807.8h0.6M306.4 804.0h0.6M307.2 804.5h0.6M312.8 810.3h0.6M313.7 806.9h0.6M317.5 808.3h0.6M313.2 807.7h0.6M314.8 801.2h0.6M306.6 805.7h0.6M302.4 804.3h0.6M309.3 806.7h0.6M314.1 810.7h0.6M299.6 806.3h0.6M312.5 811.2h0.6M307.9 807.1h0.6M310.1 801.6h0.6M312.0 809.3h0.6M309.1 805.8h0.6M316.0 804.6h0.6M309.3 806.6h0.6M312.9 807.0h0.6M316.7 807.2h0.6M305.1 798.8h0.6M310.3 812.2h0.6M311.0 803.6h0.6M312.1 807.5h0.6M316.7 800.2h0.6M314.4 806.2h0.6M314.7 809.8h0.6M300.2 809.1h0.6M313.1 802.2h0.6M310.2 809.7h0.6M303.6 809.0h0.6M314.6 812.5h0.6M306.8 802.9h0.6M315.5 804.2h0.6M312.7 794.8h0.6M322.1 797.8h0.6M302.9 807.4h0.6M313.1 802.1h0.6M300.2 807.6h0.6M311.8 801.7h0.6M311.4 803.0h0.6M305.9 808.2h0.6M310.7 805.5h0.6M304.8 802.5h0.6M309.4 802.9h0.6M312.4 805.5h0.6M309.7 804.7h0.6M312.7 809.5h0.6M305.6 809.3h0.6M315.0 808.6h0.6M308.1 806.2h0.6M320.8 800.0h0.6M314.7 804.3h0.6M318.6 805.9h0.6M314.8 802.8h0.6M308.4 811.9h0.6M304.7 803.3h0.6M309.5 800.3h0.6M313.7 800.4h0.6M310.9 804.4h0.6M300.2 806.0h0.6M303.4 805.5h0.6M299.6 803.2h0.6M314.6 806.5h0.6M316.1 812.0h0.6M314.2 804.6h0.6M310.2 807.9h0.6M304.8 801.1h0.6M310.7 812.5h0.6M305.4 806.4h0.6M307.4 808.3h0.6M312.4 805.2h0.6M315.0 804.3h0.6M302.8 814.0h0.6M310.2 806.6h0.6M314.5 802.1h0.6M308.5 802.3h0.6M313.5 807.0h0.6M311.7 800.0h0.6M306.8 799.5h0.6M304.2 802.3h0.6M312.1 807.4h0.6M302.1 808.0h0.6M312.4 811.9h0.6M314.8 799.2h0.6M313.0 806.3h0.6M312.3 802.4h0.6M317.6 805.8h0.6M307.9 798.0h0.6M309.5 799.7h0.6M303.7 812.0h0.6M310.4 809.4h0.6M316.0 808.4h0.6M308.7 800.6h0.6M309.9 805.9h0.6M310.0 804.1h0.6M311.4 799.5h0.6M315.8 800.5h0.6M311.3 801.8h0.6M317.2 803.1h0.6M306.3 803.8h0.6M314.9 800.3h0.6M304.5 803.2h0.6M314.3 793.3h0.6M315.1 814.6h0.6M309.9 809.2h0.6M310.1 797.7h0.6M308.7 807.9h0.6M305.4 804.1h0.6M307.5 807.0h0.6M322.6 805.7h0.6M304.5 812.2h0.6M309.3 803.6h0.6" stroke="#6a90d8" stroke-width="0.96" opacity="0.45" stroke-linecap="round"/>
<ellipse cx="296" cy="808" rx="8" ry="6" fill="#b8c8f0" opacity="0.5" filter="url(#b3)" transform="rotate(0 296 808)"/>
<path d="M405.9 814.2h0.6M404.7 808.2h0.6M404.5 785.8h0.6M407.1 815.8h0.6M400.4 777.9h0.6M401.1 805.8h0.6M409.8 806.4h0.6M389.7 794.2h0.6M404.0 806.7h0.6M397.2 798.0h0.6M404.3 813.2h0.6M407.3 827.0h0.6M400.8 796.9h0.6M401.8 810.3h0.6M412.4 805.8h0.6M404.5 789.9h0.6M398.2 828.9h0.6M403.4 823.7h0.6M407.3 796.0h0.6M404.8 790.0h0.6M406.5 801.0h0.6M407.2 821.2h0.6M401.2 814.8h0.6M405.6 795.5h0.6M405.0 821.2h0.6M404.5 817.3h0.6M405.3 821.5h0.6M403.2 798.4h0.6M401.5 825.4h0.6M400.5 830.0h0.6M410.8 796.0h0.6M400.5 808.9h0.6M407.7 828.5h0.6M410.4 792.9h0.6M407.5 795.8h0.6M408.5 809.9h0.6M410.0 801.9h0.6M407.4 784.7h0.6M399.6 810.5h0.6M404.2 815.9h0.6M413.8 794.1h0.6M398.6 787.7h0.6M401.1 820.0h0.6M405.5 798.8h0.6M406.7 800.7h0.6M404.9 802.9h0.6M397.9 814.9h0.6M404.3 794.4h0.6M404.6 792.5h0.6M403.7 797.6h0.6M405.3 789.7h0.6M403.4 797.1h0.6M399.6 802.0h0.6M406.9 813.7h0.6M405.2 801.3h0.6M408.0 798.9h0.6M406.8 777.8h0.6M398.6 792.4h0.6M408.8 799.2h0.6M405.8 787.0h0.6M411.1 828.6h0.6M403.9 793.3h0.6M405.0 799.4h0.6M401.6 780.6h0.6M412.6 784.2h0.6M402.1 808.4h0.6M402.5 806.5h0.6M407.9 793.6h0.6M406.1 801.0h0.6M398.1 807.1h0.6M399.2 818.0h0.6M403.9 805.4h0.6M408.3 790.7h0.6M400.4 823.8h0.6M407.1 809.2h0.6M395.1 803.2h0.6M399.7 794.0h0.6M396.7 778.8h0.6M402.0 808.4h0.6M401.7 800.2h0.6M404.2 822.5h0.6M401.3 804.7h0.6M416.1 802.4h0.6M407.5 785.4h0.6M399.2 796.2h0.6M417.5 793.6h0.6M410.1 795.4h0.6M398.4 775.3h0.6M404.6 818.2h0.6M400.4 796.8h0.6M399.0 792.1h0.6M408.4 794.8h0.6M399.2 811.7h0.6M405.1 802.1h0.6M413.1 807.1h0.6M409.1 784.6h0.6M403.6 821.3h0.6M407.3 816.1h0.6M397.3 798.6h0.6M411.4 824.1h0.6M410.1 814.4h0.6M404.3 814.4h0.6M409.5 788.5h0.6M408.7 814.3h0.6M401.6 826.0h0.6M409.7 815.8h0.6M401.9 806.8h0.6M403.8 827.1h0.6M415.0 790.1h0.6M413.0 809.1h0.6M400.9 792.0h0.6M410.9 807.4h0.6M400.9 799.8h0.6M402.2 800.8h0.6M412.2 792.6h0.6M406.3 816.5h0.6M413.3 793.5h0.6M402.6 796.8h0.6M398.3 802.6h0.6M400.4 799.3h0.6M404.7 813.7h0.6M405.5 810.3h0.6M406.3 801.2h0.6M408.4 804.9h0.6M397.8 794.9h0.6M410.8 779.0h0.6M412.1 804.3h0.6M405.2 820.9h0.6M405.0 795.6h0.6M394.0 793.5h0.6M398.6 812.8h0.6M404.4 788.7h0.6M409.4 815.5h0.6M414.2 806.5h0.6M398.3 804.1h0.6M407.5 815.5h0.6M397.9 809.5h0.6M407.1 808.3h0.6M396.5 795.8h0.6M403.4 799.2h0.6M408.2 796.9h0.6M406.2 790.7h0.6M403.8 818.7h0.6M401.6 802.0h0.6M397.3 784.8h0.6M406.7 819.5h0.6M401.0 799.7h0.6M405.5 796.0h0.6M404.3 796.6h0.6M406.8 794.9h0.6M401.8 782.5h0.6M400.4 780.7h0.6M403.4 817.0h0.6M398.1 789.9h0.6M400.5 809.1h0.6M402.6 797.6h0.6M399.6 798.5h0.6M402.4 790.6h0.6M410.5 809.5h0.6M403.3 806.9h0.6M414.6 811.3h0.6M401.5 801.9h0.6M409.3 809.0h0.6M402.7 803.7h0.6M398.8 797.6h0.6M402.1 798.8h0.6M410.3 802.7h0.6M409.4 802.2h0.6M397.1 820.0h0.6M401.5 800.6h0.6M409.1 822.5h0.6M404.7 820.7h0.6M401.7 811.6h0.6M399.8 816.5h0.6M401.4 811.7h0.6M398.5 823.1h0.6M411.5 798.5h0.6M404.3 788.3h0.6M403.1 781.3h0.6M407.3 801.2h0.6M409.4 802.2h0.6M403.0 790.2h0.6M406.9 800.4h0.6M398.5 780.7h0.6M408.4 800.7h0.6M403.7 794.3h0.6M401.6 802.0h0.6M404.9 784.9h0.6M415.4 815.4h0.6M395.2 803.2h0.6M409.2 792.8h0.6M397.7 809.9h0.6M401.2 802.1h0.6M411.6 802.2h0.6M410.2 790.9h0.6M395.6 796.6h0.6M402.2 811.9h0.6M398.9 795.8h0.6M400.6 792.8h0.6M402.5 804.4h0.6M397.1 788.8h0.6M399.8 819.4h0.6M403.2 780.8h0.6M406.3 815.5h0.6M396.6 784.6h0.6M406.1 802.9h0.6M406.8 825.2h0.6M407.1 816.5h0.6M401.8 822.4h0.6M400.8 807.0h0.6M394.7 796.2h0.6M407.6 788.9h0.6M402.4 783.2h0.6M404.3 795.2h0.6M400.8 797.3h0.6M402.1 802.0h0.6M402.8 818.5h0.6M410.2 799.0h0.6M405.6 789.0h0.6M406.8 810.3h0.6M401.4 785.9h0.6M406.4 808.4h0.6M398.9 807.7h0.6M409.9 788.0h0.6M401.4 786.5h0.6M405.6 790.7h0.6M411.7 810.4h0.6M403.1 796.2h0.6M408.7 796.3h0.6M402.2 803.5h0.6M408.9 822.4h0.6M402.4 784.5h0.6M399.9 799.5h0.6M407.0 807.8h0.6M405.0 780.8h0.6M404.5 794.6h0.6M399.7 810.5h0.6M409.8 804.6h0.6M406.7 816.2h0.6M404.2 795.9h0.6M410.9 793.1h0.6M402.7 806.7h0.6M402.2 788.3h0.6M409.1 801.6h0.6M400.9 793.7h0.6M406.8 813.5h0.6M405.0 818.3h0.6M404.0 824.5h0.6M408.2 785.6h0.6M403.7 806.5h0.6M404.0 787.8h0.6M406.3 800.9h0.6M397.3 783.7h0.6M402.4 815.0h0.6M404.0 804.5h0.6M408.4 798.7h0.6M404.2 800.8h0.6M408.2 792.5h0.6M405.9 791.6h0.6M404.5 817.5h0.6M400.6 808.7h0.6M404.5 805.0h0.6M406.5 803.0h0.6M406.4 827.5h0.6M401.0 786.6h0.6M407.5 807.4h0.6M413.1 793.0h0.6M407.4 794.1h0.6M402.0 793.4h0.6M400.5 788.5h0.6M402.7 799.6h0.6M404.4 813.3h0.6M400.1 800.6h0.6M400.3 813.6h0.6M400.1 796.9h0.6M400.7 817.0h0.6M398.8 785.7h0.6M402.4 796.8h0.6M400.1 817.8h0.6M403.3 783.2h0.6M401.3 794.9h0.6M400.2 796.0h0.6M402.4 810.6h0.6M415.3 792.1h0.6M402.1 817.8h0.6M411.7 812.9h0.6M403.0 829.2h0.6M404.5 818.7h0.6M401.8 784.5h0.6M410.1 789.4h0.6M399.6 803.8h0.6M400.1 811.4h0.6M404.5 799.0h0.6M401.7 822.5h0.6M410.3 817.9h0.6M398.4 825.2h0.6M404.6 826.0h0.6M406.5 792.3h0.6M396.9 792.4h0.6M409.5 795.5h0.6M411.4 783.8h0.6M407.0 800.3h0.6M398.0 807.2h0.6M402.4 797.8h0.6M395.0 787.7h0.6M401.2 799.8h0.6M400.5 830.6h0.6M402.4 804.8h0.6M402.7 819.8h0.6M406.7 816.0h0.6M397.4 804.2h0.6M403.5 810.9h0.6M401.2 803.9h0.6M399.8 796.9h0.6M405.7 794.8h0.6M400.4 799.9h0.6M405.6 807.8h0.6M398.9 795.8h0.6M399.0 787.7h0.6M414.6 819.0h0.6M407.2 797.8h0.6M407.9 823.8h0.6M409.6 812.1h0.6M407.5 814.2h0.6M405.7 807.2h0.6M402.3 777.9h0.6M406.2 811.5h0.6M404.0 812.7h0.6M403.4 800.8h0.6M406.8 777.8h0.6M410.3 796.5h0.6M406.5 810.5h0.6M411.1 825.8h0.6M398.4 788.4h0.6M404.8 778.8h0.6M406.8 800.2h0.6M400.6 813.9h0.6M399.9 791.4h0.6M404.0 814.2h0.6M403.2 797.1h0.6M404.9 796.7h0.6M395.9 815.0h0.6M406.2 817.5h0.6M404.6 808.6h0.6M396.6 782.6h0.6M395.5 818.6h0.6M400.9 820.8h0.6M405.9 795.6h0.6M403.6 790.7h0.6M402.0 806.7h0.6M407.0 795.0h0.6M397.0 818.0h0.6M399.1 812.1h0.6M397.2 789.1h0.6M395.1 811.2h0.6M412.2 803.8h0.6M394.9 798.7h0.6M405.1 807.1h0.6M404.6 787.7h0.6M402.5 828.7h0.6M401.5 796.4h0.6M398.6 793.2h0.6M409.2 807.1h0.6M401.6 796.8h0.6M407.5 793.9h0.6M400.3 797.5h0.6M392.5 818.1h0.6M400.3 812.6h0.6M403.8 816.3h0.6M406.3 798.9h0.6M402.7 832.7h0.6M405.4 781.3h0.6M397.0 807.3h0.6M406.6 799.1h0.6M410.3 805.4h0.6M412.8 813.9h0.6M407.2 813.0h0.6M410.5 810.4h0.6M405.6 806.5h0.6M404.7 810.0h0.6M411.0 779.2h0.6M401.9 781.3h0.6M401.2 805.9h0.6M404.7 807.4h0.6M407.1 808.1h0.6M402.4 800.3h0.6M399.1 795.7h0.6M403.4 807.3h0.6M396.8 817.6h0.6M403.5 780.0h0.6M403.1 810.1h0.6M404.2 796.1h0.6M399.9 805.1h0.6M404.5 806.2h0.6M402.1 819.3h0.6M395.7 801.9h0.6M404.6 813.8h0.6M402.5 808.3h0.6M403.0 818.2h0.6M401.1 809.5h0.6M405.2 779.7h0.6M409.0 793.7h0.6M398.7 792.7h0.6M407.6 796.3h0.6M407.2 788.7h0.6M404.9 777.7h0.6M402.5 820.2h0.6M401.4 804.5h0.6M395.7 825.3h0.6M402.8 808.3h0.6M402.0 787.4h0.6M402.2 797.3h0.6M399.1 799.7h0.6M399.4 795.0h0.6M391.2 788.2h0.6M405.1 805.0h0.6M402.7 807.7h0.6M411.3 806.9h0.6M404.2 800.7h0.6M405.2 810.9h0.6M393.9 831.4h0.6M407.9 808.6h0.6M401.0 800.4h0.6M400.3 820.6h0.6M400.7 779.3h0.6M402.7 790.0h0.6M404.5 803.9h0.6M400.0 780.4h0.6M402.2 783.8h0.6M402.8 804.4h0.6M401.9 804.2h0.6M401.9 824.9h0.6M395.8 786.8h0.6M408.6 784.8h0.6M406.4 798.8h0.6M403.6 782.2h0.6M401.8 799.8h0.6M394.2 802.1h0.6M404.3 796.9h0.6M397.0 817.8h0.6M403.0 786.0h0.6M399.7 805.9h0.6M401.2 811.7h0.6M398.1 805.4h0.6M405.6 809.0h0.6M400.0 788.6h0.6M398.6 803.1h0.6M402.4 818.5h0.6M402.2 820.1h0.6M402.4 815.8h0.6M407.9 805.8h0.6M398.0 807.6h0.6M404.2 797.5h0.6M402.5 811.4h0.6" stroke="#6a88d8" stroke-width="0.96" opacity="0.45" stroke-linecap="round"/>
<path d="M425.2 784.1h0.55M450.2 779.3h0.55M447.6 780.1h0.55M437.2 780.5h0.55M439.1 778.9h0.55M435.2 781.0h0.55M433.0 781.7h0.55M446.2 778.6h0.55M440.6 778.9h0.55M431.4 781.9h0.55M437.3 785.8h0.55M444.0 782.3h0.55M434.8 787.3h0.55M430.4 778.9h0.55M444.1 783.5h0.55M443.4 781.1h0.55M444.1 786.5h0.55M426.2 784.0h0.55M445.8 777.8h0.55M432.8 783.3h0.55M443.4 781.8h0.55M428.2 782.7h0.55M438.5 780.4h0.55M446.1 773.5h0.55M439.9 779.5h0.55" stroke="#9aaad8" stroke-width="0.88" opacity="0.35" stroke-linecap="round"/>
<rect x="50.6" y="751.9" width="96.0" height="81.20000000000005" fill="none" stroke="#000" stroke-width="2.2"/>
<text x="45.2" y="836.1" font-size="5.4" text-anchor="middle" transform="rotate(-25 45.2 834.3000000000001)">10<tspan baseline-shift="2" font-size="3.6">0</tspan></text>
<text x="45.2" y="815.8" font-size="5.4" text-anchor="middle" transform="rotate(-25 45.2 814.0)">10<tspan baseline-shift="2" font-size="3.6">1</tspan></text>
<text x="45.2" y="795.5" font-size="5.4" text-anchor="middle" transform="rotate(-25 45.2 793.7)">10<tspan baseline-shift="2" font-size="3.6">2</tspan></text>
<text x="45.2" y="775.2" font-size="5.4" text-anchor="middle" transform="rotate(-25 45.2 773.4000000000001)">10<tspan baseline-shift="2" font-size="3.6">3</tspan></text>
<text x="45.2" y="754.9" font-size="5.4" text-anchor="middle" transform="rotate(-25 45.2 753.1)">10<tspan baseline-shift="2" font-size="3.6">4</tspan></text>
<text x="51.4" y="842.1" font-size="5.4" text-anchor="middle" transform="rotate(-30 51.4 840.3000000000001)">10<tspan baseline-shift="2" font-size="3.6">0</tspan></text>
<text x="75.39999999999999" y="842.1" font-size="5.4" text-anchor="middle" transform="rotate(-30 75.39999999999999 840.3000000000001)">10<tspan baseline-shift="2" font-size="3.6">1</tspan></text>
<text x="99.39999999999999" y="842.1" font-size="5.4" text-anchor="middle" transform="rotate(-30 99.39999999999999 840.3000000000001)">10<tspan baseline-shift="2" font-size="3.6">2</tspan></text>
<text x="123.39999999999999" y="842.1" font-size="5.4" text-anchor="middle" transform="rotate(-30 123.39999999999999 840.3000000000001)">10<tspan baseline-shift="2" font-size="3.6">3</tspan></text>
<text x="147.4" y="842.1" font-size="5.4" text-anchor="middle" transform="rotate(-30 147.4 840.3000000000001)">10<tspan baseline-shift="2" font-size="3.6">4</tspan></text>
<rect x="84.5" y="766.25" width="34.25" height="27.0" fill="none" stroke="#000" stroke-width="2.2"/>
<text x="92.5" y="766" font-size="12.4" text-anchor="start" textLength="17.5" lengthAdjust="spacingAndGlyphs">3.5</text>
<rect x="164.6" y="751.9" width="94.4" height="81.20000000000005" fill="none" stroke="#000" stroke-width="2.2"/>
<text x="159.2" y="836.1" font-size="5.4" text-anchor="middle" transform="rotate(-25 159.2 834.3000000000001)">10<tspan baseline-shift="2" font-size="3.6">0</tspan></text>
<text x="159.2" y="815.8" font-size="5.4" text-anchor="middle" transform="rotate(-25 159.2 814.0)">10<tspan baseline-shift="2" font-size="3.6">1</tspan></text>
<text x="159.2" y="795.5" font-size="5.4" text-anchor="middle" transform="rotate(-25 159.2 793.7)">10<tspan baseline-shift="2" font-size="3.6">2</tspan></text>
<text x="159.2" y="775.2" font-size="5.4" text-anchor="middle" transform="rotate(-25 159.2 773.4000000000001)">10<tspan baseline-shift="2" font-size="3.6">3</tspan></text>
<text x="159.2" y="754.9" font-size="5.4" text-anchor="middle" transform="rotate(-25 159.2 753.1)">10<tspan baseline-shift="2" font-size="3.6">4</tspan></text>
<text x="165.4" y="842.1" font-size="5.4" text-anchor="middle" transform="rotate(-30 165.4 840.3000000000001)">10<tspan baseline-shift="2" font-size="3.6">0</tspan></text>
<text x="189.0" y="842.1" font-size="5.4" text-anchor="middle" transform="rotate(-30 189.0 840.3000000000001)">10<tspan baseline-shift="2" font-size="3.6">1</tspan></text>
<text x="212.60000000000002" y="842.1" font-size="5.4" text-anchor="middle" transform="rotate(-30 212.60000000000002 840.3000000000001)">10<tspan baseline-shift="2" font-size="3.6">2</tspan></text>
<text x="236.20000000000002" y="842.1" font-size="5.4" text-anchor="middle" transform="rotate(-30 236.20000000000002 840.3000000000001)">10<tspan baseline-shift="2" font-size="3.6">3</tspan></text>
<text x="259.8" y="842.1" font-size="5.4" text-anchor="middle" transform="rotate(-30 259.8 840.3000000000001)">10<tspan baseline-shift="2" font-size="3.6">4</tspan></text>
<rect x="199.3" y="765.6" width="34.599999999999994" height="27.899999999999977" fill="none" stroke="#000" stroke-width="2.2"/>
<text x="206.5" y="764.7" font-size="12.4" text-anchor="start" textLength="17.30000000000001" lengthAdjust="spacingAndGlyphs">0.9</text>
<rect x="276.6" y="751.9" width="95.0" height="81.20000000000005" fill="none" stroke="#000" stroke-width="2.2"/>
<text x="271.20000000000005" y="836.1" font-size="5.4" text-anchor="middle" transform="rotate(-25 271.20000000000005 834.3000000000001)">10<tspan baseline-shift="2" font-size="3.6">0</tspan></text>
<text x="271.20000000000005" y="815.8" font-size="5.4" text-anchor="middle" transform="rotate(-25 271.20000000000005 814.0)">10<tspan baseline-shift="2" font-size="3.6">1</tspan></text>
<text x="271.20000000000005" y="795.5" font-size="5.4" text-anchor="middle" transform="rotate(-25 271.20000000000005 793.7)">10<tspan baseline-shift="2" font-size="3.6">2</tspan></text>
<text x="271.20000000000005" y="775.2" font-size="5.4" text-anchor="middle" transform="rotate(-25 271.20000000000005 773.4000000000001)">10<tspan baseline-shift="2" font-size="3.6">3</tspan></text>
<text x="271.20000000000005" y="754.9" font-size="5.4" text-anchor="middle" transform="rotate(-25 271.20000000000005 753.1)">10<tspan baseline-shift="2" font-size="3.6">4</tspan></text>
<text x="277.40000000000003" y="842.1" font-size="5.4" text-anchor="middle" transform="rotate(-30 277.40000000000003 840.3000000000001)">10<tspan baseline-shift="2" font-size="3.6">0</tspan></text>
<text x="301.15000000000003" y="842.1" font-size="5.4" text-anchor="middle" transform="rotate(-30 301.15000000000003 840.3000000000001)">10<tspan baseline-shift="2" font-size="3.6">1</tspan></text>
<text x="324.90000000000003" y="842.1" font-size="5.4" text-anchor="middle" transform="rotate(-30 324.90000000000003 840.3000000000001)">10<tspan baseline-shift="2" font-size="3.6">2</tspan></text>
<text x="348.65000000000003" y="842.1" font-size="5.4" text-anchor="middle" transform="rotate(-30 348.65000000000003 840.3000000000001)">10<tspan baseline-shift="2" font-size="3.6">3</tspan></text>
<text x="372.40000000000003" y="842.1" font-size="5.4" text-anchor="middle" transform="rotate(-30 372.40000000000003 840.3000000000001)">10<tspan baseline-shift="2" font-size="3.6">4</tspan></text>
<rect x="310.6" y="766.3" width="35.19999999999999" height="26.600000000000023" fill="none" stroke="#000" stroke-width="2.2"/>
<text x="322" y="765" font-size="12.4" text-anchor="start" textLength="16.80000000000001" lengthAdjust="spacingAndGlyphs">3.1</text>
<rect x="388.2" y="751.9" width="94.90000000000003" height="81.20000000000005" fill="none" stroke="#000" stroke-width="2.2"/>
<text x="382.8" y="836.1" font-size="5.4" text-anchor="middle" transform="rotate(-25 382.8 834.3000000000001)">10<tspan baseline-shift="2" font-size="3.6">0</tspan></text>
<text x="382.8" y="815.8" font-size="5.4" text-anchor="middle" transform="rotate(-25 382.8 814.0)">10<tspan baseline-shift="2" font-size="3.6">1</tspan></text>
<text x="382.8" y="795.5" font-size="5.4" text-anchor="middle" transform="rotate(-25 382.8 793.7)">10<tspan baseline-shift="2" font-size="3.6">2</tspan></text>
<text x="382.8" y="775.2" font-size="5.4" text-anchor="middle" transform="rotate(-25 382.8 773.4000000000001)">10<tspan baseline-shift="2" font-size="3.6">3</tspan></text>
<text x="382.8" y="754.9" font-size="5.4" text-anchor="middle" transform="rotate(-25 382.8 753.1)">10<tspan baseline-shift="2" font-size="3.6">4</tspan></text>
<text x="389.0" y="842.1" font-size="5.4" text-anchor="middle" transform="rotate(-30 389.0 840.3000000000001)">10<tspan baseline-shift="2" font-size="3.6">0</tspan></text>
<text x="412.725" y="842.1" font-size="5.4" text-anchor="middle" transform="rotate(-30 412.725 840.3000000000001)">10<tspan baseline-shift="2" font-size="3.6">1</tspan></text>
<text x="436.45" y="842.1" font-size="5.4" text-anchor="middle" transform="rotate(-30 436.45 840.3000000000001)">10<tspan baseline-shift="2" font-size="3.6">2</tspan></text>
<text x="460.175" y="842.1" font-size="5.4" text-anchor="middle" transform="rotate(-30 460.175 840.3000000000001)">10<tspan baseline-shift="2" font-size="3.6">3</tspan></text>
<text x="483.90000000000003" y="842.1" font-size="5.4" text-anchor="middle" transform="rotate(-30 483.90000000000003 840.3000000000001)">10<tspan baseline-shift="2" font-size="3.6">4</tspan></text>
<rect x="422.3" y="766.7" width="34.39999999999998" height="26.299999999999955" fill="none" stroke="#000" stroke-width="2.2"/>
<text x="429.8" y="764.8" font-size="12.4" text-anchor="start" textLength="17.5" lengthAdjust="spacingAndGlyphs">7.4</text>
<path d="M28 802.5V850H75" fill="none" stroke="#000" stroke-width="2.4" stroke-linejoin="miter"/>
<path d="M21 816.5L28 802.5L35 816.5" fill="none" stroke="#000" stroke-width="2.4" stroke-linejoin="miter"/>
<path d="M61 843L75 850L61 857" fill="none" stroke="#000" stroke-width="2.4" stroke-linejoin="miter"/>
<text x="21.7" y="848.95" font-size="12.5" text-anchor="start" transform="rotate(-90 21.7 848.95)">CD44</text>
<text x="25.65" y="872.2" font-size="12.5" text-anchor="start">CD117</text>
<text x="18.1" y="897.2" font-size="20.2" text-anchor="start">D</text>
<text x="23.75" y="912.5" font-size="12.6" text-anchor="start" textLength="186.5" lengthAdjust="spacingAndGlyphs">Miz-1 important for survival by</text>
<text x="67.5" y="927" font-size="12.6" text-anchor="start" textLength="97.9" lengthAdjust="spacingAndGlyphs">regulating Bcl-2</text>
<text x="254.6" y="911.3" font-size="12.6" text-anchor="start" textLength="253.3" lengthAdjust="spacingAndGlyphs">Miz-1 monitoring SOCS1 expression for a</text>
<text x="313" y="927" font-size="12.6" text-anchor="start" textLength="137.5" lengthAdjust="spacingAndGlyphs">proper IL-7R response</text>
<line x1="6.7" y1="932.4" x2="234.6" y2="932.4" stroke="#000" stroke-width="2.2"/>
<line x1="259.2" y1="932.3" x2="509.5" y2="932.3" stroke="#000" stroke-width="2.2"/>
<line x1="9.3" y1="937.8" x2="9.3" y2="1010" stroke="#000" stroke-width="2" stroke-dasharray="12 5.5"/>
<line x1="63.3" y1="937.8" x2="63.3" y2="1010" stroke="#000" stroke-width="2" stroke-dasharray="12 5.5"/>
<line x1="101.3" y1="937.8" x2="101.3" y2="1010" stroke="#000" stroke-width="2" stroke-dasharray="12 5.5"/>
<line x1="158.3" y1="937.8" x2="158.3" y2="1010" stroke="#000" stroke-width="2" stroke-dasharray="12 5.5"/>
<line x1="186.7" y1="937.8" x2="186.7" y2="1010" stroke="#000" stroke-width="2" stroke-dasharray="12 5.5"/>
<line x1="511" y1="939.8" x2="511" y2="1010" stroke="#000" stroke-width="2" stroke-dasharray="12 5.5"/>
<text x="24.2" y="950.8" font-size="12.4" text-anchor="start" textLength="18.9" lengthAdjust="spacingAndGlyphs">BM</text>
<text x="112.2" y="951.2" font-size="12.4" text-anchor="start" textLength="35.6" lengthAdjust="spacingAndGlyphs">Blood</text>
<text x="235.4" y="949.6" font-size="12.4" text-anchor="start" textLength="48.4" lengthAdjust="spacingAndGlyphs">Thymus</text>
<g fill="#fff" stroke="#000" stroke-width="2.2">
<ellipse cx="36" cy="973.2" rx="22.3" ry="16.8"/>
<ellipse cx="130.6" cy="973.5" rx="22.6" ry="17.6"/>
<ellipse cx="219.9" cy="976" rx="28.7" ry="14.2"/>
<ellipse cx="218.8" cy="974.9" rx="20.4" ry="9.4"/>
<ellipse cx="307" cy="981" rx="22.2" ry="19.5"/>
</g>
<text x="24" y="977.5" font-size="12.4" text-anchor="start" textLength="23.8" lengthAdjust="spacingAndGlyphs">ELP</text>
<text x="118" y="978.3" font-size="12.4" text-anchor="start" textLength="24.2" lengthAdjust="spacingAndGlyphs">ELP</text>
<text x="203.8" y="979.2" font-size="12.4" text-anchor="start" textLength="24.3" lengthAdjust="spacingAndGlyphs">ETP</text>
<text x="289.5" y="983" font-size="12.4" text-anchor="start" textLength="36.5" lengthAdjust="spacingAndGlyphs">DN1-2</text>
<line x1="66.5" y1="973.2" x2="91.4" y2="973.2" stroke="#000" stroke-width="2.2"/>
<path d="M99.4 973.2L85.9 967.2L89.9 973.2L85.9 979.2Z" fill="#000" stroke="#000" stroke-width="0.5"/>
<line x1="159.2" y1="973.8" x2="177.8" y2="973.8" stroke="#000" stroke-width="2.2"/>
<path d="M185.8 973.8L172.3 967.8L176.3 973.8L172.3 979.8Z" fill="#000" stroke="#000" stroke-width="0.5"/>
<line x1="253.8" y1="974.2" x2="275" y2="974.2" stroke="#000" stroke-width="2.2"/>
<path d="M283 974.2L269.5 968.2L273.5 974.2L269.5 980.2Z" fill="#000" stroke="#000" stroke-width="0.5"/>
<path d="M9.3 1008.5V1006.3H64.3V1008.5" fill="none" stroke="#000" stroke-width="2.2"/>
<text x="20.5" y="1022.5" font-size="12.4" text-anchor="start" textLength="32" lengthAdjust="spacingAndGlyphs">IL-7R</text>
<text x="15.5" y="1036.5" font-size="12.4" text-anchor="start" textLength="42" lengthAdjust="spacingAndGlyphs">primed</text>
<line x1="240" y1="1006.2" x2="353.8" y2="1006.2" stroke="#000" stroke-width="2.2"/>
<text x="240" y="1020.2" font-size="12.4" text-anchor="start" textLength="92" lengthAdjust="spacingAndGlyphs">IL-7R response</text>
<line x1="333" y1="971.8" x2="458" y2="971.8" stroke="#000" stroke-width="2"/>
<line x1="333" y1="979.6" x2="458" y2="979.6" stroke="#000" stroke-width="2"/>
<rect x="380.3" y="948.5" width="7.2" height="30" fill="#fff" stroke="#000" stroke-width="1.6"/>
<rect x="387.5" y="948" width="8.8" height="44" fill="#000" stroke="#000" stroke-width="0.5"/>
<text x="402" y="964.2" font-size="12.4" text-anchor="start" textLength="31" lengthAdjust="spacingAndGlyphs">IL-7R</text>
<line x1="384.8" y1="987.5" x2="378.3307445937906" y2="1005.182631443639" stroke="#000" stroke-width="2"/>
<path d="M377.3 1008L375.2 997.7L379.2 1002.9L385.6 1001.4Z" fill="#000" stroke="#000" stroke-width="0.5"/>
<line x1="395.4" y1="993.8" x2="415.4308007007472" y2="1014.8278088804224" stroke="#000" stroke-width="2"/>
<path d="M417.5 1017L407.3 1014.3L413.8 1013.1L415.3 1006.7Z" fill="#000" stroke="#000" stroke-width="0.5"/>
<g fill="#fff" stroke="#000" stroke-width="2.2">
<ellipse cx="376.9" cy="1028.4" rx="30.8" ry="11.8"/>
<ellipse cx="478.7" cy="1015" rx="31.7" ry="12"/>
<ellipse cx="431.75" cy="1041.9" rx="31.4" ry="12"/>
<ellipse cx="378.1" cy="1073.1" rx="29.5" ry="8.3"/>
<ellipse cx="378.1" cy="1115.6" rx="30.8" ry="12"/>
</g>
<text x="356.25" y="1033" font-size="12.4" text-anchor="start" textLength="38.75" lengthAdjust="spacingAndGlyphs">Jak1/3</text>
<text x="410.75" y="1046.2" font-size="12.4" text-anchor="start" textLength="41.75" lengthAdjust="spacingAndGlyphs">SOCS1</text>
<text x="463" y="1019.6" font-size="12.4" text-anchor="start" textLength="30.8" lengthAdjust="spacingAndGlyphs">Miz-1</text>
<text x="357.5" y="1077" font-size="12.4" text-anchor="start" textLength="41.25" lengthAdjust="spacingAndGlyphs">STAT5</text>
<text x="362.5" y="1120.5" font-size="12.4" text-anchor="start" textLength="31.25" lengthAdjust="spacingAndGlyphs">Bcl-2</text>
<line x1="378.5" y1="1040.5" x2="378.5" y2="1060.5" stroke="#000" stroke-width="2"/>
<path d="M378.5 1063.5L373.0 1054.5L378.5 1058.1L384.0 1054.5Z" fill="#000" stroke="#000" stroke-width="0.5"/>
<line x1="377.5" y1="1082.5" x2="377.5" y2="1099.5" stroke="#000" stroke-width="2"/>
<path d="M377.5 1102.5L372.0 1093.5L377.5 1097.1L383.0 1093.5Z" fill="#000" stroke="#000" stroke-width="0.5"/>
<path d="M496.9 1027 C499 1038 499.5 1048.8 490 1048.8 L468.5 1047.5" fill="none" stroke="#000" stroke-width="2"/>
<line x1="468.5" y1="1041.2" x2="466.5" y2="1052.7" stroke="#000" stroke-width="2"/>
<path d="M440.4 1053.5 C441 1065 440 1073 430 1073 L409.2 1073" fill="none" stroke="#000" stroke-width="2"/>
<line x1="409.2" y1="1067.5" x2="409.2" y2="1078.5" stroke="#000" stroke-width="2"/>
</svg>
</body></html>
